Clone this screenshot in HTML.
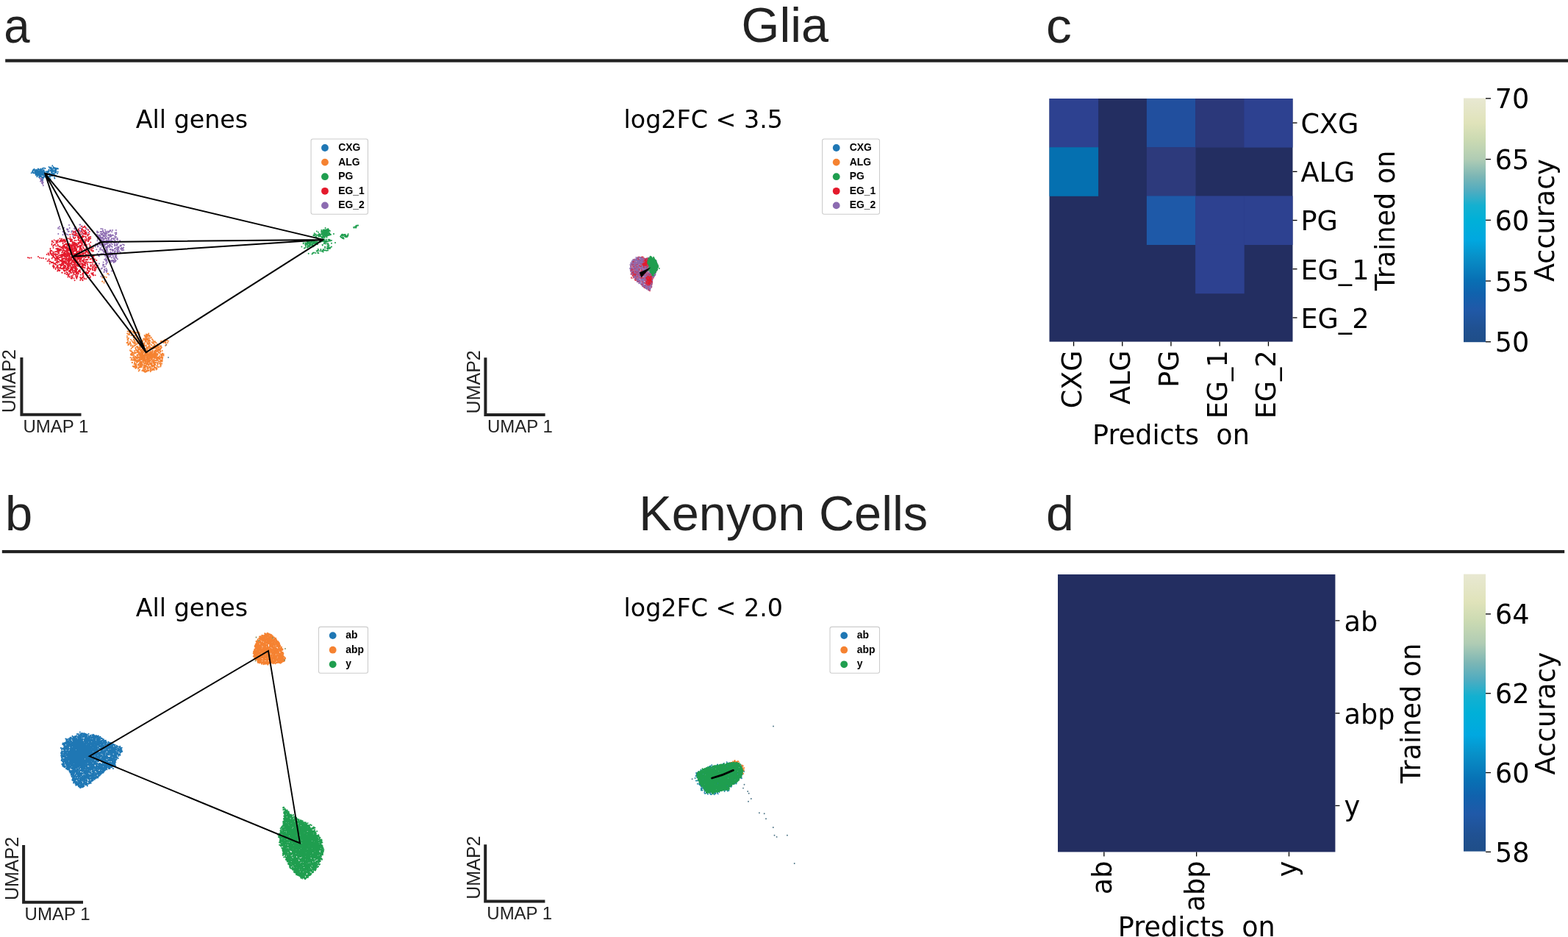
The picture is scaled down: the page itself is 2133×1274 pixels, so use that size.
<!DOCTYPE html>
<html lang="en"><head><meta charset="utf-8"><title>Glia and Kenyon Cells</title>
<style>
html,body{margin:0;padding:0;background:#fff;}
body{width:2133px;height:1274px;overflow:hidden;}
svg{display:block;}
.dj{font-family:"DejaVu Sans","Liberation Sans",sans-serif;}
.ls{font-family:"Liberation Sans","DejaVu Sans",sans-serif;}
text{white-space:pre;}
</style></head><body>
<svg width="2133" height="1274" viewBox="0 0 2133 1274">
<rect width="2133" height="1274" fill="#ffffff"/>
<rect x="7.2" y="80.35" width="2125.8" height="4.3" fill="#222222"/>
<rect x="2.8" y="747.95" width="2125.3999999999996" height="4.2" fill="#222222"/>
<text class="ls" font-size="67.2" fill="#222222" transform="translate(5.3 57.5) scale(0.945 1)">a</text>
<text class="ls" x="1067.8" y="57.3" font-size="66.6" text-anchor="middle" fill="#222222">Glia</text>
<text class="ls" font-size="67.4" fill="#222222" transform="translate(1423.0 58.0) scale(1.03 1)">c</text>
<text class="ls" x="6.9" y="720.9" font-size="66.8" fill="#222222">b</text>
<text class="ls" x="1065.7" y="720.9" font-size="66.7" text-anchor="middle" fill="#222222">Kenyon Cells</text>
<text class="ls" font-size="66.8" fill="#222222" transform="translate(1423.0 721.0) scale(1.02 1)">d</text>
<text class="dj" x="261" y="174.3" font-size="33.3" text-anchor="middle" fill="#000">All genes</text>
<path d="M142.3 318.5h0M152.4 329.1h0M131.9 331.9h0M147.2 349.9h0M153.3 354.0h0M134.7 319.7h0M136.2 337.3h0M152.2 315.3h0M155.9 332.9h0M148.2 323.7h0M136.8 337.5h0M159.1 325.0h0M147.2 347.3h0M160.7 337.1h0M155.9 338.1h0M150.4 342.7h0M155.7 355.7h0M146.5 342.4h0M138.6 318.3h0M132.9 325.0h0M130.5 331.5h0M139.1 332.9h0M137.0 324.1h0M154.3 324.0h0M146.3 337.0h0M149.9 339.5h0M146.7 331.2h0M132.5 316.0h0M144.0 314.6h0M136.5 328.9h0M154.0 320.1h0M146.6 314.4h0M148.7 334.2h0M143.7 323.4h0M150.3 318.7h0M151.9 354.5h0M141.2 330.6h0M150.3 347.9h0M138.6 335.6h0M141.4 342.8h0M138.8 323.2h0M155.2 351.3h0M157.1 349.0h0M160.3 335.7h0M144.2 347.8h0M145.5 353.8h0M136.8 317.6h0M143.8 336.9h0M148.1 355.1h0M139.9 327.0h0M142.0 333.1h0M141.3 331.3h0M144.8 353.3h0M149.7 313.3h0M136.4 331.8h0M140.5 334.6h0M139.9 323.1h0M153.1 345.5h0M151.9 334.7h0M144.6 336.5h0M158.3 351.1h0M152.2 353.9h0M135.5 332.4h0M158.3 316.3h0M148.0 333.9h0M135.1 331.4h0M137.5 326.2h0M152.8 332.1h0M157.8 336.6h0M136.2 324.7h0M138.0 319.3h0M152.6 343.8h0M159.6 332.6h0M157.0 349.4h0M144.9 326.4h0M139.5 317.8h0M135.0 319.7h0M142.2 324.8h0M149.4 320.4h0M139.5 311.3h0M137.9 333.2h0M159.5 331.6h0M143.9 331.5h0M142.8 347.7h0M146.4 328.0h0M142.1 320.8h0M163.8 343.2h0M142.2 334.0h0M168.1 340.1h0M143.3 328.2h0M149.0 336.2h0M133.7 330.2h0M140.5 321.8h0M158.8 339.0h0M145.9 326.7h0M160.7 341.7h0M164.6 337.9h0M132.9 335.6h0M152.0 350.4h0M139.7 314.5h0M150.4 338.9h0M149.4 335.8h0M159.7 324.0h0M158.3 317.9h0M147.3 329.6h0M159.6 339.4h0M135.6 322.5h0M153.1 313.1h0M155.8 342.2h0M149.5 333.2h0M148.3 327.3h0M139.2 339.5h0M163.6 333.7h0M150.5 313.3h0M148.3 326.7h0M146.2 329.8h0M144.0 331.8h0M138.8 324.0h0M156.2 352.5h0M157.9 313.0h0M159.3 341.5h0M147.8 329.6h0M154.4 325.2h0M137.2 322.2h0M153.0 319.6h0M147.7 319.0h0M143.4 317.3h0M152.2 350.6h0M145.3 336.5h0M150.2 339.7h0M139.4 324.2h0M165.0 333.4h0M146.4 351.4h0M132.2 318.8h0M153.7 346.9h0M155.9 326.5h0M155.2 343.8h0M149.8 338.9h0M143.5 332.4h0M164.6 334.5h0M140.0 313.2h0M144.9 321.2h0M138.1 314.9h0M157.3 319.0h0M150.8 321.2h0M149.6 321.9h0M156.8 355.7h0M136.7 315.0h0M155.1 330.0h0M141.5 327.8h0M144.5 347.8h0M129.8 335.5h0M137.7 328.3h0M146.0 348.2h0M132.1 314.5h0M144.9 323.9h0M139.8 345.3h0M166.1 340.5h0M142.2 332.6h0M143.7 324.1h0M153.2 328.0h0M141.2 315.4h0M141.5 316.8h0M157.9 333.6h0M154.2 339.9h0M156.5 316.7h0M152.1 328.0h0M141.1 325.4h0M149.3 329.3h0M150.5 320.8h0M150.1 346.5h0M136.3 320.4h0M163.7 334.6h0M153.5 341.2h0M135.4 323.1h0M156.6 321.4h0M156.2 321.3h0M161.6 337.0h0M145.0 336.4h0M144.8 327.9h0M141.3 338.6h0M144.0 320.2h0M144.3 350.4h0M149.6 319.6h0M156.6 353.9h0M145.1 335.6h0M151.5 354.6h0M141.0 316.6h0M150.0 314.0h0M165.7 339.3h0M146.2 349.4h0M137.2 330.0h0M134.3 320.5h0M152.6 336.0h0M144.7 339.2h0M149.2 332.1h0M149.3 320.5h0M147.3 320.3h0M136.1 332.3h0M149.5 313.6h0M158.2 347.0h0M150.3 328.9h0M159.9 352.2h0M149.9 354.7h0M132.5 327.2h0M149.8 354.4h0M150.5 326.7h0M157.7 354.3h0M133.6 335.0h0M161.8 335.8h0M154.9 328.9h0M143.3 346.7h0M153.3 355.3h0M142.9 312.4h0M151.3 331.3h0M134.9 322.2h0M134.3 329.9h0M151.9 320.3h0M141.0 319.9h0M147.5 324.2h0M151.1 326.8h0M147.9 323.7h0M135.9 339.4h0M144.6 326.5h0M163.1 344.3h0M159.0 331.6h0M138.8 317.3h0M142.2 343.4h0M156.5 323.7h0M160.6 337.5h0M140.0 319.7h0M160.0 326.1h0M152.8 340.1h0M147.5 347.4h0M146.0 344.2h0M140.7 341.4h0M143.8 318.6h0M156.4 338.6h0M145.3 346.3h0M134.4 321.6h0M154.0 348.4h0M133.9 315.7h0M143.4 331.3h0M140.2 345.1h0M168.8 333.3h0M145.8 348.5h0M151.4 321.5h0M149.8 349.3h0M143.3 352.6h0M140.5 320.4h0M156.4 346.6h0M146.1 329.5h0M139.2 323.1h0M144.9 353.2h0M150.8 344.1h0M145.0 328.9h0M156.5 346.7h0M161.2 339.2h0M136.7 323.3h0M136.0 320.3h0M150.0 320.2h0M136.2 329.2h0M159.3 333.4h0M133.8 321.7h0M145.0 346.2h0M155.8 334.3h0M146.9 344.6h0M151.6 346.2h0M158.5 349.6h0M162.4 341.5h0M143.3 341.1h0M159.9 343.4h0M145.5 331.7h0M157.1 355.6h0M156.9 329.8h0M168.1 336.5h0M149.3 344.2h0M159.7 337.3h0M148.0 349.0h0M143.6 316.0h0M145.8 344.3h0M167.2 338.1h0M146.8 323.3h0M160.0 340.9h0M144.7 338.6h0M147.6 325.2h0M163.2 327.3h0M143.9 323.9h0M140.4 324.6h0M146.0 339.7h0M157.9 313.1h0M156.2 323.8h0M145.4 317.7h0M152.4 344.8h0M148.2 346.5h0M151.7 324.8h0M148.5 315.0h0M146.6 333.9h0M147.0 335.3h0M145.1 330.8h0M156.6 341.0h0M154.9 357.1h0M150.2 333.7h0M156.7 342.4h0M142.1 333.1h0M136.7 332.5h0M161.3 330.3h0M148.5 354.0h0M142.3 328.1h0M156.8 347.9h0M165.7 337.0h0M164.8 337.5h0M164.2 338.4h0M156.8 338.1h0M156.1 332.1h0M137.4 311.0h0M156.6 326.7h0M151.5 325.0h0M140.5 329.1h0M132.1 315.9h0M167.2 332.3h0M154.6 354.0h0M145.5 316.1h0M158.0 322.2h0M157.8 350.0h0M151.6 344.7h0M143.4 347.1h0M147.8 316.1h0M148.5 344.4h0M143.2 340.1h0M85.4 319.2h0M118.1 311.3h0M91.6 312.5h0M94.0 305.9h0M92.6 319.3h0M120.5 312.8h0M92.4 311.7h0M79.3 318.1h0M88.1 318.8h0M81.2 308.3h0M103.2 310.6h0M108.6 314.0h0M87.1 316.8h0M109.3 305.4h0M120.1 316.2h0M108.4 305.6h0M92.1 312.4h0M111.8 307.4h0M97.3 315.6h0M81.5 311.3h0M105.6 321.1h0M107.3 312.6h0M87.0 309.8h0M92.7 314.7h0M99.5 321.5h0M103.2 309.2h0M117.0 318.3h0M101.1 310.8h0M79.4 309.4h0M110.0 310.4h0M85.5 314.9h0M102.7 316.7h0M107.2 320.3h0M90.8 318.4h0M89.1 317.1h0M102.0 315.1h0M110.6 313.9h0M112.2 317.9h0M101.5 311.4h0M91.7 311.6h0M97.8 313.9h0M108.5 310.1h0M92.2 312.6h0M102.1 309.3h0M117.7 311.5h0M99.9 315.3h0M102.1 316.7h0M103.1 314.7h0M79.2 310.8h0M103.4 313.1h0M91.0 311.4h0M99.4 319.8h0M94.7 310.1h0M93.8 314.8h0M100.5 315.2h0M141.8 369.6h0M150.9 356.5h0M142.8 362.4h0M143.8 354.8h0M144.6 365.2h0M140.1 359.5h0M134.9 358.5h0M145.5 367.3h0M141.9 367.1h0M139.0 364.4h0M142.2 367.3h0M141.7 363.1h0M141.3 360.1h0M149.0 354.7h0M145.5 369.0h0M145.9 356.9h0M137.6 365.6h0M144.5 357.9h0M140.1 361.6h0M142.3 366.0h0M140.6 356.6h0M148.2 373.6h0M141.5 370.1h0M144.2 368.0h0M144.4 359.4h0M144.9 370.1h0M137.5 375.8h0M151.9 368.5h0M56.2 243.6h0M55.0 246.5h0M56.9 248.7h0M58.7 247.9h0M57.7 245.2h0M56.7 242.7h0M57.4 245.9h0M57.8 242.6h0M57.1 246.2h0M58.5 241.7h0M58.0 249.9h0M58.5 244.5h0M55.8 245.1h0M58.8 252.2h0M56.6 243.4h0M57.9 246.8h0M54.7 243.1h0M56.7 248.7h0M54.0 241.9h0M58.2 241.1h0M57.3 247.4h0M56.7 241.9h0M56.9 244.7h0M57.8 242.6h0M59.7 239.3h0M56.6 246.0h0" stroke="#8c6bb1" stroke-width="2.0" stroke-linecap="round" fill="none"/>
<path d="M126.2 341.8h0M90.0 351.3h0M95.0 347.3h0M117.7 373.1h0M91.8 363.8h0M97.6 346.5h0M80.4 367.4h0M112.8 322.6h0M102.0 345.3h0M123.3 360.3h0M96.4 345.3h0M104.6 372.1h0M115.7 316.8h0M90.3 337.0h0M116.2 334.2h0M119.2 371.4h0M69.7 344.7h0M78.6 337.7h0M93.2 344.9h0M131.5 363.5h0M118.6 371.9h0M106.2 326.3h0M99.0 374.2h0M99.6 339.2h0M85.1 356.5h0M80.1 341.8h0M82.4 338.8h0M69.6 345.9h0M102.6 357.7h0M92.9 346.7h0M84.2 327.7h0M90.4 350.7h0M120.2 324.9h0M83.1 364.5h0M124.1 340.7h0M93.7 362.1h0M129.5 362.8h0M84.4 355.0h0M119.0 343.1h0M115.4 340.2h0M111.2 350.7h0M102.6 335.3h0M102.7 336.2h0M110.8 330.7h0M89.7 328.5h0M97.5 341.6h0M71.8 349.5h0M121.7 368.5h0M92.4 374.1h0M103.9 342.9h0M97.5 344.2h0M84.8 354.4h0M110.4 347.1h0M87.2 347.4h0M94.3 353.4h0M99.7 368.4h0M129.2 367.9h0M126.3 353.7h0M124.5 339.8h0M98.1 345.7h0M102.9 355.9h0M104.0 312.8h0M85.0 358.2h0M120.1 349.7h0M96.6 350.5h0M102.8 338.6h0M115.7 316.6h0M96.3 365.8h0M115.3 330.1h0M101.1 334.0h0M100.6 378.4h0M125.4 373.2h0M115.5 327.8h0M96.7 378.5h0M110.9 327.3h0M95.9 366.5h0M99.7 316.3h0M87.1 327.2h0M109.7 335.0h0M117.2 318.6h0M116.5 321.8h0M96.5 325.0h0M112.9 325.9h0M87.0 325.4h0M97.5 350.2h0M87.7 355.2h0M86.2 357.5h0M87.2 345.0h0M85.7 326.5h0M84.2 335.9h0M124.3 371.4h0M106.3 334.9h0M111.6 325.0h0M108.5 323.8h0M113.6 359.9h0M84.7 336.1h0M107.6 319.5h0M109.7 327.7h0M119.9 364.8h0M122.6 352.5h0M113.6 313.0h0M113.9 368.8h0M126.5 355.2h0M108.1 341.8h0M92.8 344.9h0M114.2 308.7h0M82.7 347.3h0M101.4 326.9h0M111.3 357.9h0M99.4 339.8h0M70.7 351.5h0M101.4 365.3h0M104.1 338.6h0M75.3 359.2h0M84.2 342.9h0M69.0 344.0h0M123.3 352.1h0M107.5 327.3h0M121.3 331.8h0M122.2 377.7h0M119.3 362.8h0M118.1 332.9h0M87.9 368.8h0M102.6 351.4h0M123.1 376.6h0M72.7 329.6h0M106.0 321.6h0M120.9 368.4h0M80.3 355.9h0M84.3 337.4h0M81.5 339.7h0M88.2 340.9h0M129.1 352.5h0M108.5 354.3h0M105.3 332.7h0M111.3 341.8h0M86.4 351.2h0M102.2 337.6h0M126.3 349.9h0M97.0 326.6h0M79.5 350.9h0M102.5 314.4h0M90.4 369.9h0M117.3 316.4h0M116.0 317.6h0M80.9 335.4h0M76.7 328.3h0M125.2 351.7h0M127.1 373.5h0M84.7 360.7h0M70.6 331.4h0M111.7 311.0h0M103.1 368.7h0M109.7 328.3h0M120.6 350.5h0M74.6 350.7h0M121.8 344.5h0M97.2 370.9h0M108.4 336.8h0M122.3 335.1h0M72.1 334.8h0M91.3 333.9h0M108.5 329.9h0M76.6 348.7h0M103.1 362.0h0M105.3 355.1h0M119.6 370.4h0M83.3 361.5h0M104.7 333.1h0M95.7 336.0h0M92.5 339.9h0M82.9 328.6h0M126.9 350.9h0M84.2 365.6h0M68.1 342.5h0M110.2 324.7h0M103.4 369.8h0M112.6 377.5h0M117.9 372.2h0M77.0 345.5h0M84.0 361.1h0M110.9 333.3h0M64.6 355.1h0M103.5 326.9h0M126.9 349.0h0M104.5 361.2h0M116.1 313.2h0M97.4 350.0h0M103.9 331.0h0M111.8 362.1h0M114.6 379.2h0M98.7 376.4h0M95.5 354.1h0M115.5 314.9h0M65.6 344.2h0M113.6 375.2h0M118.0 325.6h0M106.9 331.5h0M72.0 362.2h0M92.1 371.4h0M127.9 354.8h0M80.7 340.7h0M113.3 359.6h0M79.1 352.1h0M122.5 324.6h0M78.6 332.5h0M72.1 356.6h0M103.3 375.3h0M88.0 363.8h0M73.6 362.0h0M107.7 317.8h0M112.3 371.9h0M78.4 365.1h0M96.6 325.3h0M71.8 344.8h0M76.3 359.9h0M88.1 343.4h0M123.3 362.1h0M63.7 346.1h0M108.0 354.9h0M111.9 377.4h0M86.2 333.4h0M88.4 336.6h0M104.3 377.4h0M88.7 326.4h0M121.1 364.6h0M109.1 330.1h0M117.0 342.3h0M78.5 352.2h0M109.4 336.4h0M107.8 330.1h0M77.5 356.0h0M93.3 360.1h0M124.5 346.2h0M120.0 328.2h0M95.8 351.5h0M89.1 367.6h0M117.2 346.1h0M107.6 341.1h0M114.2 317.7h0M97.4 326.5h0M77.2 349.8h0M111.5 329.2h0M106.9 371.9h0M116.8 353.3h0M92.7 333.5h0M91.1 353.7h0M90.0 349.6h0M127.9 361.4h0M112.8 335.4h0M126.8 363.3h0M95.2 340.3h0M93.4 373.3h0M96.5 365.5h0M109.7 345.6h0M116.7 349.9h0M113.8 344.0h0M94.2 350.4h0M90.3 345.9h0M80.9 328.4h0M120.1 348.3h0M123.1 365.2h0M97.7 335.7h0M103.1 333.7h0M127.2 348.9h0M97.9 337.3h0M80.7 368.2h0M114.3 352.1h0M94.7 372.3h0M107.0 311.4h0M105.4 320.3h0M116.6 342.1h0M121.3 318.3h0M114.6 378.2h0M112.1 320.3h0M81.5 324.4h0M102.3 318.7h0M121.9 315.0h0M89.0 356.5h0M68.6 340.2h0M109.7 315.8h0M126.9 347.7h0M114.9 343.8h0M94.3 369.5h0M121.2 324.5h0M101.6 381.3h0M106.9 313.4h0M80.7 364.4h0M99.0 364.2h0M66.6 346.7h0M70.6 351.3h0M110.1 323.5h0M86.6 367.8h0M98.0 348.2h0M72.2 346.9h0M76.3 338.2h0M100.9 373.0h0M93.9 364.4h0M79.0 363.5h0M98.7 329.0h0M100.1 323.6h0M111.6 314.9h0M105.7 356.9h0M118.6 341.5h0M78.9 360.5h0M96.2 340.8h0M115.0 356.4h0M123.0 366.5h0M129.1 356.0h0M121.8 374.5h0M118.5 365.3h0M120.3 364.0h0M129.3 368.2h0M90.5 325.5h0M107.6 361.3h0M120.0 356.5h0M106.3 370.5h0M122.0 365.6h0M117.1 337.4h0M83.7 326.2h0M106.3 330.1h0M109.3 337.8h0M73.6 358.4h0M76.6 327.5h0M103.1 374.0h0M119.8 320.0h0M93.8 368.2h0M70.6 346.7h0M126.1 357.4h0M86.4 354.9h0M100.1 356.1h0M107.1 349.4h0M124.0 360.5h0M129.6 374.3h0M88.7 361.3h0M113.5 328.9h0M115.0 359.9h0M111.3 359.1h0M102.5 366.5h0M72.7 344.9h0M113.2 321.1h0M87.0 335.1h0M76.3 330.3h0M85.5 340.7h0M90.9 335.8h0M91.7 366.6h0M112.5 341.4h0M112.1 330.9h0M98.1 328.2h0M116.7 309.5h0M82.6 326.7h0M112.0 358.8h0M105.3 376.3h0M118.4 335.8h0M86.5 335.2h0M97.5 342.9h0M73.1 333.4h0M96.1 368.0h0M89.8 352.8h0M118.3 370.8h0M117.3 342.4h0M111.8 364.9h0M70.8 357.0h0M103.9 368.9h0M109.6 377.3h0M111.5 312.3h0M103.7 367.3h0M104.9 334.7h0M78.2 368.5h0M121.0 347.6h0M104.5 359.8h0M98.3 354.0h0M93.3 355.9h0M91.1 331.2h0M98.9 342.3h0M73.7 326.6h0M133.0 361.1h0M113.3 360.7h0M112.2 355.3h0M75.1 353.9h0M118.6 341.6h0M122.5 366.1h0M101.6 346.2h0M113.2 376.3h0M114.2 333.2h0M77.0 350.7h0M119.3 365.2h0M125.1 347.5h0M103.3 372.4h0M126.7 337.2h0M92.3 348.7h0M110.9 312.5h0M109.0 362.1h0M112.4 345.1h0M104.1 317.5h0M78.9 333.7h0M106.9 362.0h0M130.3 366.4h0M79.6 355.8h0M117.2 315.4h0M75.9 347.0h0M127.0 374.5h0M98.6 367.6h0M104.0 366.3h0M99.9 329.4h0M115.3 307.5h0M106.6 323.6h0M113.3 369.0h0M87.9 329.3h0M104.3 378.8h0M108.5 351.3h0M88.4 349.6h0M115.6 364.2h0M110.6 307.7h0M93.8 375.2h0M92.9 360.7h0M87.9 332.7h0M129.5 358.9h0M114.4 329.7h0M122.3 377.2h0M116.5 370.7h0M82.7 355.0h0M95.4 354.3h0M111.0 378.7h0M112.6 381.3h0M109.8 355.5h0M82.0 327.3h0M79.1 326.5h0M101.2 354.2h0M72.6 343.5h0M81.6 364.5h0M82.7 336.2h0M114.1 314.5h0M121.4 322.4h0M109.8 328.4h0M107.4 349.8h0M107.6 350.0h0M89.3 362.6h0M79.0 334.6h0M79.2 367.3h0M115.6 325.5h0M87.8 333.3h0M108.3 369.1h0M94.8 360.1h0M78.8 340.5h0M89.2 341.4h0M116.6 346.0h0M127.7 347.2h0M123.2 324.3h0M126.2 341.0h0M94.4 333.5h0M109.3 345.7h0M113.8 349.0h0M106.0 357.6h0M128.7 360.6h0M78.6 351.1h0M72.4 360.5h0M94.1 357.6h0M74.6 342.5h0M105.9 323.0h0M83.3 339.7h0M77.9 340.1h0M98.9 349.9h0M100.0 342.8h0M109.3 370.1h0M85.6 328.5h0M93.1 344.2h0M108.4 346.1h0M109.0 347.4h0M101.4 320.3h0M76.4 334.4h0M104.2 339.8h0M108.6 358.7h0M128.8 366.7h0M111.8 331.9h0M78.1 327.7h0M92.3 339.7h0M126.0 351.9h0M106.3 322.9h0M114.0 366.9h0M112.0 380.6h0M84.1 324.8h0M120.2 370.9h0M112.7 328.0h0M75.5 358.6h0M81.0 359.6h0M84.9 347.5h0M96.1 327.2h0M105.3 361.4h0M111.7 333.0h0M127.5 349.1h0M110.0 335.0h0M119.2 367.4h0M76.6 356.7h0M108.9 349.9h0M101.9 315.2h0M77.8 338.3h0M76.1 327.4h0M105.3 374.7h0M108.8 328.1h0M114.8 364.1h0M116.3 333.0h0M66.7 352.6h0M125.7 371.9h0M69.2 344.7h0M112.0 345.8h0M95.3 325.5h0M83.7 340.1h0M91.4 338.9h0M103.0 316.5h0M70.3 341.0h0M117.0 340.7h0M115.9 318.4h0M74.2 345.9h0M73.1 364.2h0M83.0 359.6h0M101.7 329.7h0M114.5 321.4h0M85.8 328.0h0M122.7 333.8h0M92.7 366.0h0M105.7 372.8h0M120.9 368.9h0M87.7 334.3h0M92.8 352.5h0M113.2 361.7h0M108.2 335.1h0M100.3 331.3h0M121.3 368.9h0M126.2 359.9h0M98.8 343.6h0M116.8 372.5h0M118.0 325.0h0M112.0 323.0h0M117.0 379.3h0M126.3 340.7h0M99.4 314.4h0M95.4 344.9h0M107.4 324.5h0M131.2 361.1h0M62.5 352.0h0M98.9 366.1h0M78.1 361.0h0M91.4 332.2h0M75.1 332.4h0M72.9 347.8h0M119.1 320.5h0M112.5 373.8h0M100.3 370.9h0M96.9 375.3h0M104.1 367.3h0M78.6 329.2h0M112.0 363.6h0M95.3 318.9h0M75.9 348.0h0M111.2 362.6h0M118.6 358.6h0M85.7 364.7h0M72.5 337.0h0M85.0 346.4h0M95.0 376.7h0M103.6 319.3h0M109.6 379.0h0M91.2 332.2h0M119.7 362.7h0M124.8 337.9h0M100.3 352.3h0M74.1 332.4h0M101.1 360.4h0M100.7 338.1h0M125.8 366.3h0M93.3 346.7h0M88.6 345.7h0M93.7 333.7h0M115.6 328.3h0M98.2 330.8h0M74.5 358.3h0M116.4 358.2h0M103.5 376.8h0M113.6 370.8h0M119.1 360.2h0M112.1 354.4h0M72.9 348.6h0M92.4 337.7h0M111.6 321.8h0M88.5 362.2h0M106.8 311.8h0M103.8 339.4h0M88.7 335.8h0M126.2 349.6h0M91.8 358.2h0M119.6 345.6h0M88.7 355.5h0M104.0 332.0h0M125.6 362.6h0M84.2 365.2h0M96.8 327.9h0M128.3 365.1h0M100.6 372.9h0M116.0 316.5h0M122.4 339.0h0M114.4 356.2h0M111.5 322.7h0M92.9 347.1h0M90.7 372.9h0M113.9 318.3h0M112.5 316.6h0M81.4 367.5h0M94.0 339.6h0M119.4 318.7h0M126.9 341.3h0M127.7 352.1h0M107.0 345.4h0M118.0 356.4h0M97.9 366.9h0M72.0 357.1h0M94.7 345.4h0M99.9 362.8h0M128.0 333.7h0M73.6 350.0h0M101.3 331.2h0M108.2 348.2h0M107.8 345.7h0M86.0 356.0h0M99.8 323.1h0M118.8 353.3h0M88.6 371.9h0M99.6 331.3h0M112.8 309.2h0M92.5 354.6h0M107.2 317.9h0M104.1 367.7h0M100.4 349.8h0M91.7 324.2h0M120.9 326.7h0M89.3 331.4h0M106.9 369.1h0M126.5 352.5h0M67.3 355.8h0M97.8 376.9h0M85.6 330.4h0M122.2 357.0h0M66.1 345.5h0M112.7 360.0h0M108.3 339.0h0M78.0 337.7h0M109.3 381.1h0M106.8 325.8h0M70.9 347.3h0M68.3 344.6h0M109.2 342.8h0M126.1 367.3h0M105.9 356.6h0M117.5 316.9h0M101.3 362.5h0M87.0 364.1h0M124.0 357.0h0M110.2 318.2h0M88.2 371.4h0M126.6 363.5h0M131.3 354.1h0M74.5 345.9h0M87.3 344.6h0M79.9 344.6h0M107.0 321.4h0M116.0 357.2h0M97.3 337.0h0M108.8 367.7h0M76.3 342.0h0M87.1 361.7h0M77.2 362.9h0M106.2 358.9h0M109.1 377.0h0M115.8 361.6h0M80.2 340.2h0M119.5 371.6h0M123.3 329.5h0M118.3 337.7h0M91.8 336.3h0M86.9 365.4h0M107.9 322.2h0M105.6 332.5h0M102.7 350.2h0M83.3 353.7h0M81.7 341.0h0M78.9 351.0h0M117.1 369.6h0M78.7 350.4h0M100.5 335.5h0M75.7 364.5h0M68.7 341.7h0M86.6 339.5h0M111.9 345.5h0M95.5 346.2h0M85.6 331.2h0M68.9 355.4h0M84.2 370.7h0M106.6 356.8h0M75.6 366.1h0M89.4 361.5h0M127.9 355.9h0M96.1 324.6h0M109.8 326.3h0M103.4 320.6h0M98.2 318.2h0M70.8 328.8h0M104.0 364.1h0M90.5 367.1h0M90.5 340.1h0M107.2 315.7h0M113.3 326.8h0M123.0 346.2h0M92.1 366.4h0M123.2 322.1h0M106.2 318.1h0M126.7 371.0h0M120.0 327.3h0M116.0 326.7h0M101.1 351.8h0M111.1 340.1h0M82.4 361.0h0M110.6 338.0h0M100.3 344.9h0M113.2 372.4h0M85.5 359.8h0M100.2 318.5h0M98.2 367.5h0M87.9 367.7h0M104.8 344.6h0M80.3 339.9h0M100.0 351.1h0M117.9 327.3h0M107.1 368.1h0M68.5 338.0h0M75.7 351.7h0M96.5 340.0h0M114.3 349.2h0M116.2 329.3h0M100.7 356.4h0M66.6 353.9h0M102.9 363.0h0M95.7 328.1h0M87.9 364.5h0M111.7 364.6h0M93.0 332.6h0M95.3 341.2h0M120.5 344.1h0M122.9 336.0h0M94.3 351.8h0M88.2 371.8h0M106.7 352.4h0M70.9 327.5h0M75.2 352.7h0M84.4 352.1h0M109.1 327.7h0M102.1 368.4h0M89.0 344.9h0M100.1 329.6h0M93.9 324.5h0M105.0 370.1h0M92.7 364.3h0M101.4 337.7h0M78.5 349.0h0M92.4 376.4h0M112.2 312.5h0M84.8 360.2h0M72.1 342.6h0M119.1 339.6h0M115.2 314.8h0M104.2 371.0h0M110.1 349.5h0M95.5 322.3h0M102.5 332.2h0M98.1 326.1h0M96.1 361.4h0M79.3 366.4h0M121.2 350.1h0M102.5 322.9h0M70.5 357.1h0M108.3 358.2h0M90.9 332.9h0M105.6 336.5h0M130.9 364.3h0M120.3 323.1h0M128.2 367.6h0M116.2 344.0h0M118.9 367.2h0M101.3 324.2h0M73.6 363.1h0M84.7 370.8h0M95.7 336.0h0M67.6 358.6h0M80.9 328.7h0M115.6 357.6h0M72.9 348.9h0M73.1 358.2h0M108.4 350.2h0M102.9 331.2h0M109.8 373.7h0M125.5 365.1h0M116.6 332.7h0M116.9 323.1h0M101.6 330.7h0M92.5 364.8h0M69.5 341.2h0M91.4 367.6h0M77.2 330.4h0M106.0 346.7h0M90.3 364.8h0M120.0 350.5h0M88.5 326.8h0M98.2 335.5h0M119.3 352.9h0M116.5 310.0h0M119.5 375.0h0M88.7 327.5h0M87.2 346.6h0M125.9 349.1h0M93.6 344.0h0M104.2 341.3h0M112.5 376.8h0M115.3 308.2h0M79.2 338.3h0M98.0 353.9h0M129.5 364.2h0M96.4 338.5h0M75.1 344.9h0M98.1 378.5h0M90.4 347.6h0M71.0 328.2h0M119.9 371.3h0M121.6 324.9h0M119.8 312.6h0M107.6 368.3h0M119.1 377.0h0M108.5 369.1h0M81.9 349.9h0M112.6 358.8h0M116.4 331.2h0M116.1 341.1h0M70.5 332.8h0M69.8 357.1h0M106.8 372.3h0M78.5 362.5h0M100.2 359.9h0M82.6 327.6h0M86.4 327.0h0M98.9 333.9h0M94.3 348.3h0M98.0 365.2h0M109.6 349.3h0M81.4 364.2h0M105.3 343.3h0M108.2 361.0h0M91.9 342.0h0M88.0 349.1h0M85.3 354.1h0M108.2 344.4h0M102.9 348.7h0M110.8 342.5h0M104.9 341.8h0M99.5 349.9h0M108.7 333.4h0M82.5 364.7h0M101.2 367.9h0M85.9 352.2h0M103.5 368.6h0M96.4 345.3h0M104.7 348.9h0M88.9 358.0h0M111.7 344.7h0M93.5 353.9h0M109.1 355.6h0M86.6 344.0h0M108.3 348.7h0M90.2 359.2h0M85.4 342.6h0M89.5 353.7h0M91.9 361.8h0M90.1 347.1h0M103.1 352.1h0M86.1 365.8h0M103.2 344.8h0M99.2 338.3h0M83.8 346.8h0M100.9 351.1h0M88.7 335.4h0M101.0 341.6h0M109.7 355.7h0M92.6 343.5h0M109.2 353.5h0M114.6 353.8h0M90.7 343.7h0M89.5 352.7h0M99.7 356.4h0M101.8 338.9h0M94.8 340.1h0M102.2 336.1h0M90.8 341.0h0M90.4 347.3h0M113.2 347.3h0M81.6 346.8h0M105.0 355.8h0M99.6 371.0h0M108.9 351.0h0M110.0 335.9h0M95.2 340.9h0M98.9 367.1h0M91.7 366.8h0M86.1 365.0h0M78.9 341.0h0M107.7 349.0h0M98.6 349.9h0M98.9 348.1h0M86.5 346.9h0M98.2 340.5h0M102.0 368.6h0M79.4 344.3h0M94.0 350.2h0M98.0 342.4h0M96.6 350.1h0M96.1 366.3h0M98.4 334.4h0M80.3 356.2h0M93.4 343.5h0M82.5 346.7h0M96.0 342.8h0M93.2 359.4h0M105.4 355.8h0M95.1 335.7h0M105.3 365.8h0M110.6 362.3h0M100.0 354.0h0M96.9 363.2h0M105.3 346.6h0M97.0 333.0h0M89.2 346.8h0M106.8 350.8h0M93.8 356.6h0M117.7 353.1h0M96.3 351.7h0M104.1 344.8h0M98.3 355.3h0M93.3 354.1h0M100.6 357.5h0M86.5 344.3h0M92.4 362.6h0M99.7 332.6h0M100.6 336.3h0M87.3 351.5h0M93.1 346.8h0M113.7 353.6h0M98.0 363.6h0M102.2 341.2h0M80.7 350.2h0M102.5 364.4h0M103.6 366.0h0M105.5 352.3h0M101.6 354.2h0M90.3 348.8h0M98.4 345.2h0M81.4 334.7h0M102.4 355.5h0M98.2 337.7h0M106.1 345.9h0M102.7 345.3h0M112.8 364.4h0M99.8 331.9h0M92.9 347.0h0M101.9 348.7h0M100.7 332.8h0M90.1 365.2h0M81.5 359.8h0M82.2 363.2h0M77.2 353.6h0M92.6 363.1h0M109.6 352.0h0M116.1 360.4h0M91.9 339.6h0M101.4 348.8h0M92.0 333.0h0M95.5 348.8h0M107.5 344.6h0M80.3 338.6h0M96.6 352.6h0M104.7 346.0h0M102.8 351.5h0M115.0 349.4h0M98.5 356.0h0M110.0 340.3h0M91.9 347.1h0M108.5 350.2h0M106.7 335.0h0M113.4 354.5h0M84.2 350.6h0M105.1 360.4h0M98.9 344.5h0M105.2 341.9h0M96.2 358.1h0M81.6 354.0h0M83.8 349.1h0M104.6 349.5h0M106.8 351.0h0M94.8 355.2h0M94.5 351.4h0M108.1 344.0h0M109.3 338.3h0M94.7 331.6h0M91.3 366.9h0M100.8 363.5h0M81.3 339.3h0M102.0 358.8h0M105.9 332.2h0M102.5 349.2h0M98.3 355.1h0M94.0 332.1h0M85.6 334.7h0M82.9 348.6h0M111.0 342.4h0M88.8 337.8h0M78.5 350.7h0M91.8 347.5h0M86.7 355.2h0M84.1 355.8h0M89.9 358.4h0M87.5 354.7h0M101.7 349.2h0M114.5 351.9h0M87.5 357.3h0M88.2 344.3h0M97.1 351.9h0M94.2 362.0h0M95.3 353.4h0M113.3 336.9h0M97.5 358.4h0M90.7 331.4h0M86.3 352.1h0M99.0 369.6h0M111.2 333.6h0M108.1 359.7h0M114.4 348.4h0M91.0 351.6h0M113.6 356.6h0M115.2 358.4h0M90.7 339.2h0M93.3 346.6h0M87.2 343.9h0M96.3 344.4h0M98.3 360.0h0M88.3 345.7h0M78.3 357.5h0M104.3 366.0h0M106.4 347.1h0M92.8 346.7h0M84.0 358.2h0M90.5 342.3h0M102.5 351.2h0M90.7 347.5h0M91.7 364.3h0M107.7 342.3h0M96.6 364.6h0M93.9 369.0h0M101.8 357.1h0M100.6 356.2h0M102.2 355.6h0M91.6 359.6h0M97.7 338.8h0M86.1 351.7h0M80.6 347.4h0M90.6 355.9h0M86.2 363.2h0M84.0 353.3h0M98.8 356.6h0M88.4 364.3h0M96.3 349.8h0M94.1 338.6h0M104.7 353.6h0M101.9 369.9h0M87.7 347.0h0M97.1 359.1h0M95.1 360.0h0M101.9 331.2h0M93.9 345.6h0M103.3 351.8h0M96.3 363.5h0M103.4 336.9h0M89.6 353.5h0M115.3 347.9h0M95.2 352.8h0M105.4 349.0h0M100.2 345.5h0M91.1 341.5h0M104.1 344.1h0M102.9 354.3h0M86.6 337.0h0M95.2 358.6h0M111.6 354.1h0M92.8 355.7h0M97.1 356.6h0M85.9 338.3h0M90.1 349.5h0M100.8 346.2h0M100.8 357.3h0M84.5 348.9h0M80.3 344.1h0M106.7 342.4h0M117.0 355.4h0M106.6 351.1h0M106.3 361.7h0M98.2 344.3h0M91.1 370.6h0M95.0 345.1h0M89.4 332.0h0M91.6 353.5h0M91.8 341.9h0M101.4 354.9h0M92.3 353.3h0M86.5 359.2h0M86.4 346.4h0M98.5 345.5h0M98.3 336.4h0M100.4 336.1h0M103.2 355.7h0M92.1 360.1h0M92.1 348.8h0M91.6 331.2h0M94.5 355.6h0M98.2 333.1h0M90.0 357.3h0M108.8 367.1h0M77.5 354.9h0M91.8 358.2h0M78.9 348.5h0M104.6 343.1h0M93.1 339.5h0M109.0 335.8h0M87.2 346.4h0M100.0 341.1h0M103.2 353.7h0M100.0 349.3h0M102.0 337.5h0M84.1 345.4h0M85.1 357.5h0M101.8 353.6h0M89.6 336.1h0M102.9 334.2h0M100.2 348.5h0M105.1 350.5h0M98.1 343.8h0M78.5 346.3h0M104.5 361.2h0M111.8 339.3h0M86.9 357.5h0M100.4 333.7h0M91.0 366.8h0M77.4 351.6h0M92.2 339.0h0M78.6 342.4h0M94.1 337.6h0M100.7 344.9h0M87.9 364.8h0M101.7 340.5h0M112.9 349.4h0M102.4 351.6h0M109.7 356.6h0M93.3 357.7h0M92.8 351.4h0M114.6 338.6h0M85.9 345.7h0M91.6 364.0h0M114.0 345.2h0M99.0 346.1h0M104.2 357.1h0M105.1 358.2h0M117.8 348.2h0M104.5 348.0h0M97.4 352.4h0M96.4 353.7h0M87.8 348.4h0M90.5 337.5h0M89.4 344.7h0M95.4 333.3h0M94.2 337.9h0M88.2 352.0h0M108.9 353.1h0M91.7 345.3h0M109.3 333.9h0M90.2 350.5h0M94.6 367.8h0M102.3 349.5h0M107.3 350.4h0M88.3 362.0h0M113.1 363.7h0M92.5 358.2h0M79.6 339.0h0M109.7 355.3h0M101.7 348.0h0M96.9 352.5h0M105.1 347.1h0M87.3 346.1h0M96.1 370.4h0M108.3 351.3h0M104.9 347.1h0M87.2 360.8h0M98.4 367.2h0M94.2 346.0h0M100.7 348.0h0M93.6 340.4h0M99.7 353.5h0M116.7 349.7h0M78.1 355.0h0M88.4 348.2h0M95.0 333.8h0M103.2 340.6h0M77.1 342.3h0M103.8 370.7h0M110.5 352.1h0M91.5 347.2h0M107.4 344.4h0M101.5 360.4h0M87.2 343.7h0M101.8 350.1h0M95.7 344.3h0M96.3 370.0h0M97.5 351.0h0M97.4 335.1h0M95.6 351.6h0M89.6 353.4h0M98.1 354.2h0M95.2 345.1h0M99.0 361.7h0M106.7 349.1h0M92.0 361.4h0M102.8 359.5h0M94.0 340.7h0M99.0 343.3h0M109.4 359.2h0M111.4 361.2h0M91.9 340.7h0M107.5 360.9h0M97.6 337.6h0M80.5 352.9h0M88.1 342.7h0M101.8 361.3h0M111.0 349.5h0M93.3 356.9h0M84.7 336.8h0M97.2 366.8h0M108.0 349.9h0M107.9 345.6h0M99.9 359.7h0M101.0 349.6h0M92.7 361.7h0M96.5 334.5h0M111.8 343.0h0M101.2 350.0h0M108.4 352.7h0M110.2 352.3h0M92.0 344.5h0M104.0 341.1h0M107.0 347.4h0M87.0 340.6h0M95.4 369.1h0M105.3 350.2h0M94.0 350.0h0M92.4 364.4h0M98.9 345.1h0M99.0 339.2h0M85.6 348.3h0M95.5 333.0h0M38.0 350.3h0M40.0 350.8h0M42.5 350.5h0M52.0 349.0h0M54.0 350.5h0M56.5 351.0h0M59.0 351.0h0" stroke="#e41a2c" stroke-width="2.0" stroke-linecap="round" fill="none"/>
<path d="M142.0 342.1h0M148.7 326.9h0M132.9 333.7h0M137.6 339.6h0M134.0 347.8h0M158.1 329.5h0M152.5 340.3h0M154.8 350.4h0M147.7 323.6h0M141.6 335.1h0M145.3 340.4h0M152.4 324.3h0M131.3 339.3h0M143.8 336.0h0M139.7 340.5h0M152.4 338.9h0M142.9 322.2h0M144.8 339.1h0M140.0 332.8h0M135.0 348.2h0M144.2 339.7h0M134.2 342.1h0M154.0 339.8h0M135.7 328.4h0M141.2 331.0h0M123.0 348.5h0M132.6 320.0h0M131.5 358.1h0M138.7 327.0h0M127.0 347.1h0M144.8 342.1h0M137.7 344.8h0M158.2 344.8h0M138.1 326.3h0M145.3 355.4h0M147.6 327.7h0M142.2 352.8h0M132.5 344.9h0M154.3 356.1h0M144.4 346.9h0" stroke="#8c6bb1" stroke-width="2.0" stroke-linecap="round" fill="none"/>
<path d="M52.2 234.4h0M51.9 238.4h0M42.7 235.3h0M47.5 232.3h0M46.2 231.5h0M53.9 234.6h0M63.2 233.8h0M55.8 235.6h0M55.3 239.3h0M54.7 235.0h0M53.4 234.5h0M53.7 237.7h0M54.1 234.7h0M53.8 237.0h0M51.6 237.5h0M51.1 236.8h0M63.8 235.3h0M53.6 230.7h0M57.8 234.5h0M58.7 232.4h0M56.7 240.4h0M56.1 233.4h0M47.3 234.5h0M57.4 236.4h0M48.3 231.2h0M49.0 231.2h0M52.6 235.4h0M63.9 235.1h0M61.5 229.1h0M61.9 237.1h0M56.3 237.2h0M57.2 240.7h0M58.1 228.8h0M53.6 238.8h0M52.2 232.4h0M52.2 235.5h0M55.0 232.5h0M56.8 236.5h0M49.3 230.9h0M43.9 233.5h0M54.1 232.2h0M50.9 234.1h0M54.2 236.4h0M58.3 235.9h0M59.7 231.3h0M57.1 235.7h0M48.6 232.3h0M56.3 234.7h0M47.5 232.7h0M61.8 237.2h0M54.4 238.9h0M49.3 233.9h0M58.9 233.4h0M48.3 236.4h0M54.8 230.4h0M52.5 229.9h0M54.2 232.2h0M48.9 233.0h0M55.1 240.2h0M55.5 239.6h0M48.5 234.7h0M51.8 229.4h0M55.3 232.0h0M51.0 231.1h0M59.3 233.2h0M53.3 235.1h0M47.7 235.3h0M53.1 236.0h0M52.0 234.6h0M56.7 237.7h0M50.5 237.7h0M48.9 233.9h0M54.7 235.0h0M53.1 237.5h0M50.4 239.4h0M44.7 234.8h0M56.8 234.6h0M55.4 237.5h0M49.9 236.4h0M59.5 233.7h0M49.6 231.0h0M56.2 231.9h0M47.3 233.6h0M61.9 236.7h0M48.8 237.9h0M51.2 236.4h0M56.9 233.1h0M53.2 238.3h0M56.6 234.3h0M56.3 240.2h0M58.8 236.1h0M55.7 229.4h0M54.7 232.9h0M57.8 232.5h0M56.3 231.1h0M58.6 232.1h0M53.9 236.4h0M52.3 234.5h0M59.5 240.3h0M44.7 231.6h0M57.5 237.6h0M51.6 234.8h0M53.0 230.6h0M46.0 230.3h0M60.7 233.2h0M64.0 236.6h0M56.0 236.6h0M58.1 237.5h0M49.0 232.7h0M51.2 234.8h0M52.7 230.5h0M50.4 240.3h0M56.0 234.4h0M49.7 236.8h0M53.6 239.9h0M56.3 233.5h0M58.4 232.2h0M58.5 236.7h0M44.9 233.9h0M55.6 237.0h0M54.8 234.5h0M52.2 233.6h0M54.0 231.0h0M57.3 233.4h0M56.7 232.8h0M56.1 234.9h0M58.6 236.0h0M58.8 234.0h0M53.7 233.6h0M47.6 234.1h0M59.6 237.0h0M49.6 235.5h0M57.9 230.1h0M55.8 235.6h0M57.8 235.3h0M64.2 233.2h0M60.5 238.6h0M54.4 230.8h0M61.0 234.4h0M56.7 236.1h0M58.9 237.8h0M46.7 229.9h0M54.7 234.5h0M58.0 234.1h0M53.1 241.1h0M61.1 238.3h0M59.3 231.9h0M53.6 234.3h0M48.4 231.7h0M54.8 230.6h0M56.8 236.0h0M52.8 233.4h0M57.1 236.1h0M55.9 230.5h0M50.6 233.3h0M44.6 231.9h0M50.2 237.1h0M51.9 232.9h0M50.0 233.1h0M45.9 235.4h0M60.1 235.0h0M51.2 238.6h0M56.5 231.2h0M51.1 232.5h0M53.8 238.4h0M50.4 234.0h0M54.6 230.6h0M51.6 236.5h0M59.8 228.4h0M57.6 233.6h0M76.1 234.8h0M78.8 233.7h0M69.4 229.4h0M65.3 234.6h0M73.0 235.6h0M72.4 226.9h0M69.4 231.6h0M71.6 235.4h0M76.6 233.6h0M66.3 233.4h0M70.1 236.7h0M75.3 230.8h0M74.7 232.5h0M72.8 237.5h0M66.5 232.2h0M77.1 229.7h0M71.9 233.0h0M69.4 227.6h0M68.3 228.8h0M75.3 233.4h0M73.8 228.1h0M73.0 233.0h0M75.1 229.8h0M74.2 237.6h0M78.1 229.0h0M66.6 227.0h0M74.8 234.7h0M72.4 229.3h0M76.0 238.5h0M70.9 232.1h0M75.7 234.4h0M76.3 231.0h0M72.3 231.2h0M68.8 231.4h0M69.9 234.4h0M69.8 232.8h0M67.8 227.9h0M76.6 228.8h0M78.2 236.0h0M69.4 232.6h0M70.3 230.3h0M76.0 232.0h0M74.8 229.9h0M68.3 237.5h0M69.9 228.4h0M70.3 236.4h0M70.4 229.8h0M73.5 236.2h0M70.2 231.3h0M70.3 239.0h0M70.4 234.0h0M63.0 233.2h0M71.2 231.3h0M69.4 227.4h0M65.1 233.1h0M68.5 232.2h0M70.3 230.6h0M68.1 239.4h0M66.6 230.6h0M69.8 228.2h0M67.2 235.7h0M74.7 233.0h0M75.9 229.5h0M75.3 238.8h0M69.5 239.2h0M67.8 228.3h0M70.8 229.5h0M73.5 228.4h0M71.3 225.2h0M70.9 236.4h0M70.0 233.7h0M75.3 228.4h0M66.0 232.8h0M72.1 231.5h0M67.2 237.0h0M66.4 231.5h0M70.8 235.2h0M69.2 229.5h0M79.0 229.4h0M74.2 231.9h0M60.2 239.9h0M61.5 240.8h0M63.4 237.6h0M74.0 241.6h0M64.4 239.3h0M71.2 238.9h0M58.2 241.7h0M57.3 238.1h0M71.6 236.1h0M62.6 240.3h0M64.6 236.4h0M61.7 239.2h0M74.4 242.5h0M58.5 242.1h0M66.9 239.7h0M61.6 239.3h0M53.9 238.5h0M68.6 243.5h0M74.0 239.1h0M61.4 236.9h0M67.9 236.0h0M56.9 237.3h0M65.4 242.0h0M57.6 244.4h0M64.0 238.0h0M65.1 240.0h0M68.0 240.8h0M59.2 241.9h0M67.5 237.6h0M58.6 238.0h0" stroke="#1f77b4" stroke-width="2.0" stroke-linecap="round" fill="none"/>
<path d="M198.3 504.9h0M199.9 461.4h0M215.6 476.8h0M185.2 500.3h0M195.9 493.5h0M195.4 482.9h0M202.4 471.5h0M208.9 472.1h0M196.5 469.8h0M207.7 474.2h0M198.0 481.3h0M197.5 458.0h0M208.1 470.8h0M183.7 488.9h0M213.1 489.4h0M208.0 476.9h0M211.9 499.5h0M200.9 466.9h0M210.9 479.5h0M216.3 485.1h0M196.2 460.6h0M181.6 498.4h0M190.7 485.3h0M186.4 487.2h0M179.7 478.7h0M191.7 496.9h0M210.4 480.1h0M219.1 473.5h0M201.4 454.6h0M194.2 470.1h0M214.6 472.5h0M208.5 485.5h0M202.3 453.5h0M215.5 479.2h0M181.4 485.3h0M184.5 488.7h0M209.8 473.1h0M211.9 486.9h0M192.2 495.1h0M212.5 478.2h0M207.4 481.5h0M183.8 498.7h0M210.6 489.7h0M201.5 503.3h0M198.4 474.5h0M209.0 501.2h0M183.3 480.4h0M186.4 491.8h0M192.7 479.4h0M190.6 499.6h0M187.6 477.9h0M209.8 479.4h0M191.3 481.9h0M184.4 498.2h0M190.3 480.9h0M218.5 477.9h0M182.6 480.3h0M202.4 468.3h0M218.9 485.8h0M210.3 496.4h0M191.3 477.0h0M211.0 494.9h0M193.3 478.0h0M185.8 498.2h0M196.4 504.1h0M180.8 479.3h0M200.2 503.8h0M203.5 481.7h0M205.5 469.1h0M215.4 479.5h0M208.8 473.4h0M206.0 481.2h0M199.2 478.0h0M200.1 466.5h0M219.0 471.4h0M192.0 482.6h0M200.7 478.7h0M220.1 486.8h0M210.0 498.5h0M211.9 489.9h0M220.7 482.1h0M195.1 479.5h0M190.3 496.7h0M207.5 479.5h0M198.7 458.9h0M213.5 501.2h0M195.6 476.6h0M182.6 499.0h0M208.1 462.5h0M202.2 455.7h0M203.6 490.1h0M192.0 492.1h0M188.9 478.3h0M198.4 459.9h0M211.0 496.2h0M220.5 487.4h0M191.2 476.6h0M218.6 492.1h0M210.5 479.6h0M204.9 493.4h0M180.5 479.7h0M194.5 477.0h0M183.3 497.9h0M195.6 499.1h0M200.3 454.9h0M182.6 495.3h0M213.5 497.2h0M187.7 501.3h0M182.9 488.4h0M207.4 465.5h0M216.5 485.4h0M211.9 479.8h0M211.5 482.4h0M201.1 498.6h0M199.7 483.5h0M201.5 488.8h0M213.5 489.6h0M191.1 471.9h0M194.9 490.0h0M204.7 505.2h0M214.9 471.3h0M195.0 472.0h0M187.3 472.1h0M183.1 488.1h0M210.3 470.7h0M211.5 500.3h0M220.9 487.6h0M191.0 475.5h0M214.6 493.4h0M180.1 482.6h0M213.8 468.1h0M184.2 472.9h0M213.5 481.2h0M210.3 479.4h0M216.8 491.6h0M179.5 479.4h0M210.2 489.6h0M208.3 490.0h0M216.8 472.1h0M217.8 487.4h0M198.9 454.6h0M193.0 474.8h0M209.7 500.5h0M183.4 478.9h0M196.4 461.7h0M208.0 472.2h0M195.2 499.0h0M205.4 495.2h0M204.0 485.1h0M209.1 491.0h0M198.4 492.3h0M183.1 494.3h0M200.6 457.7h0M202.1 496.5h0M187.1 473.3h0M201.7 504.2h0M191.0 480.9h0M182.4 489.2h0M199.6 472.8h0M202.6 503.6h0M203.4 471.9h0M203.9 467.1h0M195.6 483.5h0M201.1 491.7h0M195.3 492.0h0M185.6 471.6h0M206.3 497.3h0M212.9 486.9h0M180.5 480.0h0M186.5 483.1h0M207.1 476.9h0M219.0 471.5h0M209.8 478.0h0M193.0 497.3h0M190.6 474.7h0M201.9 484.5h0M200.7 492.9h0M209.7 482.9h0M185.0 476.6h0M207.8 502.3h0M203.8 479.0h0M192.1 483.3h0M193.7 496.4h0M200.1 479.2h0M201.9 476.6h0M197.2 480.3h0M201.3 461.8h0M186.9 478.4h0M188.7 496.8h0M192.8 498.9h0M200.0 465.1h0M211.3 484.1h0M214.1 477.5h0M185.5 485.8h0M212.0 482.4h0M199.6 459.5h0M216.6 488.3h0M204.8 504.0h0M220.9 487.8h0M211.4 485.0h0M212.0 477.8h0M217.1 484.2h0M196.6 477.4h0M212.3 501.3h0M207.2 496.8h0M210.2 468.4h0M196.5 468.4h0M202.7 469.2h0M208.6 491.0h0M178.0 482.4h0M205.6 479.6h0M205.8 501.2h0M182.2 498.5h0M210.2 473.6h0M179.1 481.1h0M193.1 484.3h0M207.7 501.8h0M199.4 498.3h0M196.8 489.7h0M200.2 491.9h0M197.2 484.7h0M204.8 477.6h0M193.4 488.4h0M189.5 482.0h0M212.6 486.8h0M200.3 493.0h0M213.8 477.0h0M194.1 464.1h0M189.5 485.3h0M196.9 466.5h0M182.9 477.1h0M197.5 488.1h0M218.3 489.7h0M210.9 495.3h0M204.9 473.9h0M196.5 477.9h0M214.8 475.1h0M211.4 495.9h0M202.8 473.7h0M193.3 493.4h0M200.5 456.6h0M199.6 481.9h0M199.0 477.3h0M191.9 495.2h0M196.2 500.2h0M193.8 472.2h0M179.6 481.9h0M219.3 483.4h0M209.7 493.2h0M216.1 499.0h0M199.5 481.2h0M196.6 503.3h0M211.5 472.6h0M210.6 468.3h0M211.0 476.9h0M217.0 479.6h0M218.7 473.5h0M209.8 497.9h0M192.8 472.1h0M212.8 482.2h0M211.4 500.1h0M214.8 487.6h0M194.3 484.6h0M192.3 466.2h0M211.0 493.0h0M214.4 481.7h0M204.8 501.3h0M207.1 473.6h0M204.3 474.2h0M183.5 498.5h0M190.3 480.9h0M190.2 472.2h0M179.7 483.3h0M181.8 489.4h0M196.9 456.5h0M210.7 486.3h0M205.9 480.4h0M190.3 472.5h0M192.8 476.4h0M194.1 495.9h0M190.6 483.3h0M198.8 462.0h0M192.8 469.4h0M212.8 474.1h0M199.2 504.0h0M186.2 498.9h0M178.5 489.6h0M210.1 493.2h0M219.0 491.3h0M181.3 482.0h0M180.7 489.7h0M196.8 504.6h0M200.3 484.7h0M209.4 497.6h0M203.8 484.2h0M198.6 460.6h0M209.6 490.9h0M185.2 487.0h0M201.9 477.3h0M201.8 466.7h0M185.1 475.2h0M185.7 491.5h0M181.6 486.5h0M211.5 500.1h0M197.9 479.5h0M193.3 503.9h0M188.7 504.5h0M212.8 486.3h0M195.1 504.5h0M219.1 471.7h0M208.8 493.8h0M182.2 483.0h0M196.4 504.9h0M184.6 474.6h0M219.2 470.5h0M209.2 485.9h0M207.4 498.2h0M184.6 489.1h0M188.2 478.8h0M191.2 499.2h0M212.1 482.2h0M205.4 472.6h0M214.5 493.1h0M183.6 489.4h0M214.7 476.3h0M194.2 490.8h0M197.9 460.6h0M210.8 464.2h0M206.5 488.4h0M202.9 486.7h0M215.4 486.7h0M199.2 480.3h0M181.9 497.9h0M199.5 456.7h0M192.1 479.6h0M185.2 490.2h0M203.3 485.2h0M194.6 490.8h0M186.4 477.3h0M193.7 485.7h0M207.1 477.2h0M181.5 486.2h0M210.8 476.4h0M209.2 480.8h0M189.0 489.0h0M222.6 483.6h0M211.8 473.1h0M214.5 474.8h0M201.5 461.4h0M179.3 482.7h0M213.5 481.7h0M185.8 499.1h0M195.9 487.5h0M195.8 504.7h0M192.8 480.5h0M217.0 488.1h0M194.7 473.7h0M210.0 499.6h0M214.4 474.7h0M197.2 484.9h0M190.7 499.1h0M195.7 474.5h0M193.8 480.7h0M212.2 480.1h0M202.5 466.1h0M194.4 462.6h0M201.6 482.7h0M218.0 470.2h0M217.3 483.9h0M190.5 488.9h0M207.3 501.5h0M182.1 488.2h0M189.4 489.5h0M196.6 455.9h0M209.8 479.1h0M186.2 493.2h0M214.1 481.4h0M197.5 482.0h0M184.4 484.7h0M199.3 469.6h0M194.5 478.8h0M203.5 487.0h0M197.9 499.1h0M213.5 476.9h0M179.4 487.0h0M196.4 499.6h0M192.7 482.9h0M220.1 489.8h0M199.3 471.8h0M207.6 462.3h0M219.9 472.2h0M194.4 481.7h0M214.4 482.8h0M214.7 486.4h0M210.9 483.6h0M213.2 487.9h0M196.2 503.0h0M199.1 480.2h0M213.5 485.0h0M188.3 486.3h0M218.2 475.0h0M215.1 478.0h0M191.7 477.9h0M207.2 486.9h0M190.8 491.1h0M179.7 483.2h0M205.4 474.7h0M193.0 479.5h0M207.9 497.2h0M196.7 494.5h0M208.4 481.6h0M204.7 480.5h0M209.7 471.8h0M195.2 503.7h0M218.4 470.4h0M183.4 485.4h0M186.7 490.1h0M203.7 456.3h0M206.5 496.9h0M179.9 489.3h0M201.5 476.8h0M212.9 500.5h0M183.9 479.3h0M190.7 498.5h0M189.4 474.9h0M213.6 481.4h0M208.2 467.1h0M195.3 493.4h0M201.7 500.2h0M197.5 464.4h0M197.4 500.6h0M201.4 488.6h0M195.4 496.6h0M203.1 490.4h0M195.7 470.5h0M201.3 478.2h0M185.2 491.6h0M201.2 503.6h0M193.4 475.1h0M211.4 479.3h0M206.3 474.3h0M204.2 483.4h0M212.4 465.9h0M206.2 494.5h0M200.9 467.1h0M206.4 473.0h0M195.1 485.3h0M206.6 465.2h0M222.6 481.5h0M186.8 491.3h0M208.6 492.8h0M198.1 502.2h0M199.9 462.2h0M177.5 486.3h0M189.5 478.6h0M216.0 474.5h0M195.0 482.5h0M217.9 495.0h0M182.8 487.3h0M209.0 464.2h0M184.7 495.7h0M211.4 476.4h0M183.3 490.8h0M195.1 468.5h0M197.6 460.8h0M204.9 494.7h0M208.5 497.6h0M218.7 497.0h0M196.5 497.9h0M178.1 481.2h0M190.2 488.0h0M217.8 476.2h0M209.6 483.4h0M209.6 502.6h0M187.0 477.4h0M205.4 481.9h0M195.2 460.6h0M204.7 499.1h0M184.1 498.9h0M214.5 482.5h0M199.9 489.1h0M200.9 503.3h0M197.0 481.1h0M179.6 493.0h0M201.7 460.1h0M202.9 487.7h0M201.2 472.3h0M208.5 485.1h0M189.8 470.3h0M209.8 473.3h0M192.9 482.2h0M188.2 475.0h0M204.5 502.6h0M194.2 503.3h0M212.6 502.6h0M213.2 483.0h0M197.6 463.8h0M189.9 499.5h0M185.3 496.4h0M189.6 503.1h0M218.3 495.9h0M203.8 471.6h0M180.1 482.8h0M205.9 483.4h0M193.0 482.7h0M198.9 481.9h0M201.5 484.2h0M206.2 503.4h0M192.8 486.2h0M207.9 472.7h0M202.5 462.9h0M195.6 475.0h0M200.9 473.8h0M200.9 480.7h0M197.6 484.5h0M196.6 486.8h0M202.4 466.3h0M190.0 502.7h0M197.7 486.8h0M190.2 485.7h0M189.1 499.8h0M188.6 486.1h0M189.6 474.1h0M207.6 477.2h0M197.3 502.1h0M206.4 478.7h0M193.1 479.0h0M203.1 470.1h0M196.9 477.0h0M202.8 457.3h0M179.1 477.3h0M204.5 485.2h0M200.3 501.2h0M206.5 493.9h0M190.4 489.7h0M218.2 473.8h0M218.4 490.9h0M197.5 478.9h0M202.8 467.3h0M220.8 489.8h0M191.2 484.3h0M206.0 469.3h0M184.5 488.4h0M194.6 480.8h0M200.6 487.6h0M218.9 496.2h0M200.1 491.7h0M201.2 460.7h0M193.9 488.7h0M218.5 493.9h0M187.4 477.5h0M187.9 478.6h0M188.2 491.6h0M203.2 481.4h0M209.7 494.7h0M215.8 487.6h0M198.1 493.9h0M204.0 457.0h0M195.2 466.4h0M191.8 493.9h0M203.0 491.9h0M208.0 477.1h0M191.1 467.7h0M220.2 489.4h0M210.9 487.0h0M196.5 468.3h0M198.0 474.3h0M210.5 492.3h0M187.0 487.7h0M202.0 471.2h0M193.5 488.0h0M217.7 477.1h0M199.3 464.5h0M195.6 474.1h0M209.5 470.2h0M197.4 506.1h0M220.6 491.5h0M199.8 487.7h0M184.8 486.1h0M212.7 474.8h0M187.5 485.6h0M193.8 481.0h0M193.3 491.4h0M202.3 459.4h0M185.0 479.8h0M198.0 489.8h0M202.7 490.6h0M193.7 464.2h0M189.9 483.1h0M212.7 481.2h0M183.8 496.9h0M186.0 490.6h0M214.5 481.2h0M208.7 473.7h0M215.5 472.6h0M216.1 469.4h0M210.6 481.4h0M194.8 501.2h0M181.4 479.7h0M206.5 495.5h0M213.2 481.2h0M192.0 475.9h0M195.4 488.5h0M194.7 486.9h0M203.5 488.9h0M193.7 484.6h0M187.6 483.4h0M190.0 485.4h0M220.7 477.0h0M191.0 480.0h0M210.8 469.8h0M209.7 480.3h0M197.7 489.1h0M197.0 483.9h0M200.9 491.4h0M197.7 480.5h0M182.3 483.5h0M220.4 484.8h0M203.9 499.7h0M186.0 486.0h0M218.2 491.7h0M210.3 464.8h0M218.4 498.1h0M203.5 465.3h0M184.0 497.6h0M196.5 489.8h0M202.0 503.9h0M199.6 505.3h0M206.8 460.9h0M219.9 490.5h0M201.3 481.4h0M213.0 482.4h0M211.5 484.3h0M198.6 497.0h0M215.6 487.5h0M212.2 476.0h0M184.7 495.4h0M197.6 505.9h0M191.8 486.6h0M198.0 462.9h0M194.1 480.2h0M198.8 457.5h0M204.0 459.7h0M201.5 463.0h0M207.0 496.2h0M192.6 496.2h0M198.1 463.0h0M211.7 470.7h0M217.7 481.3h0M207.9 503.0h0M188.1 489.9h0M213.2 471.8h0M182.6 480.2h0M206.9 486.5h0M219.0 489.8h0M206.8 498.9h0M209.5 498.4h0M197.6 497.2h0M212.0 465.8h0M187.7 476.5h0M217.7 474.0h0M215.3 491.1h0M210.5 484.9h0M216.5 493.7h0M188.5 472.7h0M187.6 496.3h0M192.7 487.1h0M208.4 496.8h0M188.6 480.3h0M189.2 499.1h0M187.1 471.0h0M203.9 467.3h0M209.0 466.5h0M221.3 485.9h0M180.1 492.9h0M217.6 488.6h0M185.2 495.3h0M190.2 494.2h0M205.9 458.7h0M202.2 463.4h0M191.9 481.3h0M214.7 469.8h0M214.7 495.8h0M185.0 499.6h0M204.2 459.4h0M213.5 501.4h0M193.1 497.0h0M192.8 487.8h0M190.2 473.8h0M186.7 492.5h0M193.5 486.5h0M187.1 475.9h0M208.0 474.4h0M206.3 495.1h0M208.3 493.3h0M201.7 462.0h0M191.3 482.3h0M218.4 498.4h0M214.3 498.7h0M194.3 470.3h0M183.2 490.7h0M187.7 482.0h0M201.0 467.7h0M201.2 495.7h0M220.2 494.5h0M200.2 475.9h0M203.2 479.8h0M221.9 481.6h0M201.9 464.4h0M198.1 490.2h0M199.8 474.7h0M186.7 479.1h0M212.0 471.1h0M183.1 493.1h0M203.5 462.3h0M212.6 484.0h0M195.2 488.5h0M220.6 483.6h0M200.5 467.5h0M200.1 474.6h0M210.0 485.5h0M201.8 462.9h0M196.6 468.7h0M196.9 496.6h0M190.9 473.4h0M216.4 475.4h0M188.4 499.4h0M202.7 490.4h0M192.1 498.3h0M197.9 474.8h0M190.6 475.9h0M198.7 456.2h0M207.8 502.4h0M203.4 498.2h0M211.4 481.8h0M202.2 481.6h0M180.8 498.0h0M192.9 496.0h0M199.4 461.0h0M195.4 477.0h0M219.4 481.8h0M220.4 489.9h0M184.0 494.4h0M185.7 486.7h0M209.9 502.9h0M188.0 476.6h0M197.0 462.2h0M179.0 489.1h0M217.4 486.5h0M197.5 470.3h0M204.1 463.6h0M200.3 491.4h0M208.8 472.9h0M184.2 500.7h0M188.0 501.3h0M217.8 478.8h0M209.7 465.0h0M220.9 480.4h0M200.1 494.9h0M192.0 465.2h0M204.2 494.9h0M210.0 482.5h0M204.9 474.8h0M189.6 490.8h0M197.9 480.0h0M186.5 485.4h0M192.9 494.8h0M186.2 482.7h0M201.5 494.8h0M200.4 499.6h0M200.8 486.2h0M204.4 489.4h0M189.4 480.4h0M199.2 489.4h0M191.5 482.1h0M195.2 489.4h0M197.7 491.2h0M204.0 480.7h0M198.7 478.4h0M201.8 492.6h0M193.4 474.7h0M205.0 485.0h0M200.8 490.2h0M203.9 493.4h0M197.2 484.9h0M197.8 489.7h0M199.1 496.0h0M196.1 487.0h0M193.6 480.1h0M198.0 492.3h0M201.1 485.8h0M199.3 485.3h0M214.7 489.6h0M204.3 493.7h0M194.0 478.5h0M198.1 497.3h0M208.7 482.9h0M191.3 493.5h0M209.5 479.4h0M213.5 481.6h0M206.8 485.6h0M198.4 482.8h0M206.4 491.3h0M207.3 485.0h0M214.4 485.7h0M192.1 497.4h0M202.0 487.4h0M207.7 489.4h0M201.9 500.8h0M186.2 491.5h0M193.3 487.5h0M199.7 488.8h0M208.1 491.4h0M203.3 483.5h0M206.0 488.9h0M212.3 492.8h0M212.8 490.4h0M202.4 482.8h0M201.8 484.4h0M205.5 496.5h0M205.1 493.6h0M203.1 489.5h0M191.0 487.9h0M201.4 486.5h0M199.1 489.1h0M196.5 485.6h0M194.0 478.6h0M196.8 484.1h0M213.9 494.1h0M198.0 490.9h0M192.2 475.7h0M203.6 491.0h0M195.6 487.0h0M209.3 488.2h0M202.4 491.0h0M191.0 488.7h0M196.0 473.8h0M208.0 485.7h0M209.5 496.8h0M204.1 489.5h0M206.5 491.6h0M190.9 492.2h0M208.8 484.2h0M193.8 483.6h0M196.3 490.7h0M207.1 487.2h0M198.6 474.6h0M197.6 480.1h0M196.6 489.4h0M194.1 483.3h0M191.9 485.2h0M198.7 494.0h0M206.1 483.3h0M195.6 488.4h0M205.1 485.9h0M199.8 487.1h0M192.4 488.9h0M205.6 487.4h0M191.9 487.0h0M200.1 489.2h0M197.7 492.8h0M209.6 492.7h0M202.8 495.5h0M200.7 485.9h0M189.6 487.1h0M210.6 480.4h0M207.2 478.2h0M203.4 499.7h0M201.3 478.9h0M203.3 486.0h0M207.3 483.4h0M187.2 483.7h0M205.7 494.1h0M203.2 487.2h0M206.4 485.7h0M197.4 488.6h0M209.7 483.6h0M204.9 482.6h0M195.1 488.2h0M190.4 481.1h0M191.5 482.9h0M205.8 487.5h0M204.5 482.7h0M209.3 484.3h0M190.6 482.6h0M206.6 483.4h0M206.4 483.2h0M199.1 483.2h0M196.6 482.5h0M212.8 486.6h0M210.9 494.7h0M200.1 486.0h0M197.1 487.9h0M204.7 487.0h0M194.4 480.4h0M191.1 482.6h0M200.6 491.0h0M200.0 488.7h0M203.8 494.8h0M190.6 494.5h0M204.4 490.7h0M188.9 485.5h0M198.9 491.4h0M206.4 491.7h0M190.6 495.6h0M201.5 493.4h0M200.8 482.2h0M207.0 483.9h0M199.2 494.6h0M204.5 498.9h0M210.5 479.7h0M188.6 494.9h0M205.7 485.3h0M198.6 483.2h0M215.2 485.9h0M189.9 493.2h0M200.2 489.4h0M197.8 486.8h0M185.9 490.7h0M195.4 484.4h0M174.0 464.8h0M174.3 462.6h0M175.0 459.8h0M179.5 463.6h0M178.1 449.9h0M173.4 461.9h0M187.6 467.2h0M182.2 466.1h0M178.0 470.3h0M176.4 467.0h0M186.5 463.9h0M181.6 459.1h0M174.5 454.5h0M183.5 455.8h0M177.2 466.3h0M186.2 467.6h0M184.3 469.2h0M184.2 455.2h0M191.2 459.8h0M184.6 452.3h0M181.6 465.5h0M180.8 471.7h0M177.8 449.4h0M189.9 458.9h0M182.5 457.4h0M183.7 465.1h0M173.0 457.1h0M183.3 452.4h0M187.7 450.7h0M173.1 453.5h0M179.8 472.2h0M181.2 450.5h0M182.8 453.0h0M182.6 467.5h0M177.2 452.2h0M189.9 454.2h0M189.5 457.0h0M176.1 454.6h0M178.0 461.7h0M192.3 464.9h0M180.6 450.9h0M175.7 455.2h0M173.7 465.8h0M176.8 464.9h0M172.5 466.1h0M189.0 466.4h0M180.4 470.1h0M186.5 465.1h0M178.1 468.1h0M178.3 455.9h0M174.4 467.3h0M186.7 460.5h0M184.1 466.4h0M185.7 458.5h0M189.1 463.4h0M173.6 450.4h0M182.5 457.9h0M178.6 452.6h0M181.4 451.8h0M182.3 461.5h0M177.0 476.2h0M178.2 469.8h0M183.8 460.0h0M173.0 459.3h0M182.2 452.9h0M188.1 453.2h0M173.8 453.8h0M177.6 477.5h0M189.4 452.2h0M179.3 455.5h0M187.1 463.0h0M179.0 455.7h0M182.4 470.5h0M185.0 468.3h0M175.5 450.9h0M176.1 453.0h0M174.5 460.2h0M184.9 456.4h0M186.6 462.9h0M180.7 465.2h0M178.3 452.3h0M177.1 450.7h0M182.9 469.9h0M189.2 465.3h0M187.8 465.2h0M183.2 463.3h0M178.6 473.9h0M183.2 463.7h0M175.5 468.6h0M175.5 468.3h0M181.9 462.0h0M174.2 469.0h0M181.2 465.0h0M186.0 452.3h0M186.9 449.2h0M224.9 464.3h0M220.0 464.9h0M228.9 463.8h0M226.4 468.4h0M222.6 466.1h0M228.0 465.9h0M218.8 464.3h0M222.1 465.8h0M224.7 464.7h0M223.2 463.8h0M225.5 465.9h0M224.9 464.5h0M225.3 464.9h0M224.8 465.2h0M222.3 463.2h0M219.7 463.8h0M223.5 463.1h0M225.1 469.9h0M227.2 463.1h0M223.7 464.2h0M226.0 462.4h0M224.8 466.0h0M225.5 466.4h0M224.4 461.8h0M140.4 374.4h0M144.7 377.1h0M142.8 382.3h0M141.5 384.5h0M146.2 372.3h0M139.1 382.7h0M139.5 382.6h0M139.2 377.6h0M147.1 371.9h0M142.4 376.3h0" stroke="#f58231" stroke-width="2.0" stroke-linecap="round" fill="none"/>
<path d="M229.0 486.0h0M195.0 472.0h0M226.0 469.0h0" stroke="#4a7a9a" stroke-width="1.8" stroke-linecap="round" fill="none"/>
<path d="M444.1 321.5h0M445.3 312.6h0M447.0 315.2h0M444.1 319.9h0M442.4 319.3h0M444.1 313.9h0M442.4 312.6h0M447.8 317.0h0M447.0 313.3h0M446.6 313.1h0M444.5 316.5h0M441.4 317.4h0M443.6 314.0h0M440.8 312.7h0M448.4 316.9h0M442.2 318.5h0M440.4 313.1h0M444.8 321.1h0M444.6 317.0h0M443.2 312.6h0M439.1 315.8h0M441.3 317.3h0M439.8 315.8h0M442.4 315.7h0M441.7 316.2h0M437.0 315.2h0M441.6 313.5h0M446.4 314.0h0M448.6 318.0h0M440.6 318.3h0M441.4 318.2h0M446.8 319.9h0M439.7 316.1h0M443.5 313.0h0M445.0 318.5h0M438.5 314.9h0M439.5 312.8h0M439.7 320.5h0M441.1 315.4h0M447.1 319.5h0M446.2 311.4h0M441.2 315.3h0M441.4 322.2h0M442.9 319.9h0M442.8 316.3h0M445.3 317.8h0M445.3 311.5h0M445.3 317.4h0M445.7 316.3h0M445.0 312.7h0M447.6 313.0h0M448.5 319.4h0M443.3 315.6h0M446.3 315.6h0M439.2 317.3h0M439.1 315.2h0M450.0 318.9h0M441.9 316.3h0M441.2 316.5h0M438.3 318.5h0M443.5 314.7h0M441.9 315.1h0M441.4 315.1h0M448.2 318.5h0M445.0 317.6h0M448.9 318.6h0M444.3 317.3h0M444.2 316.6h0M442.6 310.0h0M445.5 316.6h0M447.0 317.4h0M442.5 318.3h0M444.2 315.2h0M442.1 315.3h0M442.4 315.2h0M443.1 319.8h0M441.8 316.0h0M440.8 312.5h0M440.4 315.0h0M444.1 315.5h0M439.2 315.4h0M448.9 313.9h0M443.7 319.4h0M440.6 314.8h0M441.6 317.0h0M443.9 316.9h0M445.2 315.6h0M444.0 312.5h0M442.3 320.9h0M444.4 314.6h0M444.0 319.6h0M437.3 312.9h0M441.1 315.2h0M443.2 314.8h0M443.9 316.8h0M439.3 314.7h0M439.0 317.3h0M444.4 318.4h0M440.3 314.9h0M437.7 317.5h0M447.4 317.8h0M445.8 317.2h0M444.8 319.2h0M442.5 318.9h0M446.6 317.7h0M444.5 312.8h0M447.4 313.9h0M441.2 314.0h0M445.5 313.7h0M445.1 318.1h0M443.9 315.5h0M445.6 320.3h0M441.8 313.4h0M441.3 313.9h0M442.6 316.0h0M440.6 315.3h0M439.9 317.2h0M446.6 311.2h0M444.3 320.9h0M442.5 319.2h0M437.6 317.1h0M441.0 318.1h0M437.8 318.8h0M434.9 320.5h0M442.6 314.8h0M430.4 320.3h0M440.9 319.4h0M435.1 321.6h0M443.9 317.2h0M428.0 319.1h0M439.8 315.9h0M441.6 322.9h0M439.9 317.4h0M429.5 322.0h0M437.3 322.1h0M441.6 323.1h0M434.6 320.0h0M438.3 322.3h0M435.1 318.4h0M431.1 323.2h0M437.7 318.2h0M429.6 318.4h0M429.6 318.6h0M433.3 321.6h0M430.9 314.4h0M433.0 315.7h0M439.7 319.4h0M427.7 317.3h0M435.9 319.9h0M426.8 319.6h0M437.5 323.1h0M441.5 319.6h0M429.5 318.8h0M439.2 317.1h0M442.3 317.0h0M430.4 322.6h0M435.5 321.0h0M434.5 320.1h0M433.1 325.9h0M439.3 319.6h0M438.4 322.6h0M433.4 320.5h0M437.0 318.2h0M432.1 319.4h0M434.5 318.7h0M426.3 320.2h0M439.3 320.2h0M444.5 322.7h0M434.2 317.9h0M438.5 318.8h0M427.9 320.4h0M434.5 319.3h0M439.1 320.6h0M446.1 317.7h0M435.5 321.0h0M433.8 318.4h0M437.7 314.6h0M437.7 314.1h0M430.2 323.5h0M443.7 320.4h0M442.0 321.7h0M439.6 320.9h0M440.6 325.7h0M441.5 329.0h0M436.3 321.1h0M439.5 324.3h0M440.8 331.3h0M441.1 321.8h0M439.8 322.6h0M440.0 328.2h0M436.5 328.7h0M447.5 326.3h0M440.8 326.9h0M439.6 322.4h0M443.5 320.6h0M435.5 328.1h0M439.5 322.8h0M443.0 331.5h0M439.9 325.5h0M443.2 329.6h0M445.1 328.6h0M438.4 328.0h0M441.0 319.5h0M445.9 328.2h0M446.5 325.7h0M443.9 325.7h0M441.6 329.5h0M441.2 328.3h0M440.9 330.7h0M443.6 319.6h0M447.6 327.7h0M439.0 323.6h0M448.9 326.3h0M443.0 328.3h0M438.6 332.7h0M445.5 319.7h0M439.7 326.2h0M441.2 328.2h0M442.6 327.4h0M440.5 327.2h0M438.8 333.6h0M441.2 330.8h0M441.4 325.4h0M440.3 321.0h0M449.3 327.6h0M422.5 330.2h0M429.2 328.8h0M419.0 330.9h0M431.1 330.0h0M420.8 330.2h0M429.6 330.3h0M420.7 334.1h0M426.5 327.8h0M429.3 332.4h0M419.8 328.6h0M428.1 329.1h0M420.7 331.1h0M421.0 333.9h0M416.0 334.4h0M429.3 332.3h0M426.3 331.1h0M420.8 331.5h0M418.0 336.8h0M420.7 329.2h0M427.8 333.9h0M423.4 330.3h0M416.0 334.7h0M420.2 330.3h0M424.7 327.5h0M417.6 329.0h0M421.1 333.8h0M415.4 336.7h0M417.8 331.3h0M427.3 328.3h0M430.3 328.9h0M420.9 329.3h0M428.6 329.7h0M418.7 329.9h0M418.4 332.2h0M418.4 334.5h0M421.5 330.1h0M425.6 334.2h0M410.4 335.4h0M428.3 330.2h0M425.8 326.6h0M418.4 335.0h0M421.6 331.8h0M425.9 331.5h0M424.3 329.6h0M421.2 335.1h0M418.4 328.8h0M420.6 334.1h0M432.4 329.2h0M418.9 333.8h0M424.5 333.9h0M425.5 332.5h0M425.2 331.7h0M416.8 332.4h0M432.0 332.3h0M427.8 331.0h0M421.7 332.5h0M420.9 334.6h0M419.9 330.1h0M413.9 337.5h0M417.3 330.5h0M425.5 335.2h0M425.7 329.7h0M424.8 328.7h0M420.7 331.9h0M422.7 333.3h0M426.3 335.2h0M426.7 329.6h0M423.1 329.1h0M418.5 331.5h0M427.5 328.4h0M412.7 331.3h0M415.2 332.8h0M419.7 329.1h0M417.4 331.6h0M424.7 332.4h0M429.5 328.9h0M425.8 330.7h0M415.6 331.5h0M434.4 327.9h0M432.0 331.1h0M431.5 328.6h0M427.3 329.4h0M415.2 330.3h0M423.7 327.0h0M423.7 328.9h0M423.4 327.7h0M426.9 329.7h0M412.7 330.2h0M421.6 327.5h0M424.4 332.1h0M419.4 335.7h0M430.5 330.1h0M425.1 331.9h0M421.5 335.0h0M422.6 332.5h0M442.1 337.3h0M446.4 336.6h0M441.3 340.2h0M438.0 341.6h0M433.3 344.2h0M439.8 338.9h0M424.6 345.5h0M447.7 336.7h0M429.3 343.9h0M436.4 339.0h0M432.7 341.4h0M444.2 340.7h0M432.2 343.7h0M425.2 344.3h0M435.4 341.3h0M432.8 340.3h0M438.8 341.4h0M419.7 344.7h0M432.9 339.7h0M426.4 343.7h0M440.7 340.2h0M431.6 341.0h0M449.4 336.5h0M437.6 341.5h0M449.0 337.7h0M439.6 342.4h0M432.7 338.7h0M430.6 341.4h0M446.3 338.3h0M445.4 338.3h0M436.4 339.5h0M427.3 343.5h0M439.2 340.5h0M432.2 340.9h0M439.4 340.5h0M451.0 335.4h0M448.5 337.8h0M445.5 334.6h0M446.0 340.5h0M445.5 338.1h0M447.3 333.2h0M447.9 337.7h0M445.2 337.6h0M445.4 334.7h0M442.6 340.3h0M445.2 334.7h0M446.0 337.2h0M444.7 337.2h0M444.1 327.7h0M447.3 334.7h0M448.2 325.7h0M446.4 331.3h0M445.7 332.3h0M445.2 331.2h0M448.6 326.7h0M442.1 335.5h0M451.0 330.8h0M443.9 329.0h0M465.2 322.9h0M470.1 322.2h0M469.1 320.9h0M466.4 318.7h0M467.1 322.9h0M466.1 320.6h0M473.1 320.4h0M470.0 319.4h0M473.6 318.2h0M469.8 320.1h0M468.7 321.2h0M471.9 322.2h0M471.2 321.2h0M465.0 323.1h0M472.6 321.4h0M470.4 320.1h0M463.9 322.4h0M466.0 324.1h0M470.1 320.5h0M466.3 320.7h0M465.2 319.8h0M472.8 319.9h0M473.5 320.3h0M469.3 318.7h0M467.3 319.7h0M469.8 320.3h0M464.9 320.6h0M465.1 318.7h0M467.6 324.6h0M463.1 321.6h0M464.0 320.2h0M468.3 319.1h0M486.6 306.5h0M481.1 309.0h0M483.1 308.3h0M484.5 306.7h0M485.1 306.8h0M483.3 308.5h0M484.8 308.6h0M481.6 309.3h0M487.1 306.5h0M487.1 306.5h0M484.1 309.7h0M481.6 309.7h0M456.0 330.0h0M454.0 318.0h0M451.0 327.0h0" stroke="#1f9e4f" stroke-width="2.0" stroke-linecap="round" fill="none"/>
<path d="M61.1 235.8L439.7 325.9M61.1 235.8L198.7 479.1M61.1 235.8L98.5 348.8M61.1 235.8L138.1 329.0M98.5 348.8L138.1 329.0M98.5 348.8L439.7 325.9M138.1 329.0L439.7 325.9M98.5 348.8L198.7 479.1M138.1 329.0L198.7 479.1M439.7 325.9L198.7 479.1" stroke="#000" stroke-width="2.0" fill="none" stroke-linecap="round"/>
<rect x="423.1" y="189" width="77.39999999999998" height="102.19999999999999" rx="2.5" fill="#fff" stroke="#cccccc" stroke-width="1.1"/>
<circle cx="442" cy="201.0" r="4.9" fill="#1f77b4"/>
<text class="ls" x="460.2" y="205.0" font-size="13.9" font-weight="bold" fill="#000">CXG</text>
<circle cx="442" cy="220.6" r="4.9" fill="#f58231"/>
<text class="ls" x="460.2" y="224.6" font-size="13.9" font-weight="bold" fill="#000">ALG</text>
<circle cx="442" cy="240.2" r="4.9" fill="#1f9e4f"/>
<text class="ls" x="460.2" y="244.2" font-size="13.9" font-weight="bold" fill="#000">PG</text>
<circle cx="442" cy="259.8" r="4.9" fill="#e41a2c"/>
<text class="ls" x="460.2" y="263.8" font-size="13.9" font-weight="bold" fill="#000">EG_1</text>
<circle cx="442" cy="279.4" r="4.9" fill="#8c6bb1"/>
<text class="ls" x="460.2" y="283.4" font-size="13.9" font-weight="bold" fill="#000">EG_2</text>
<path d="M29.4 486V563.8H110.5" stroke="#222222" stroke-width="4.0" fill="none"/>
<text class="ls" font-size="24.7" fill="#222222" transform="translate(31.4 587.9) scale(0.972 1)">UMAP 1</text>
<text class="ls" font-size="26.2" fill="#222222" transform="translate(21.4 561.2) rotate(-90) scale(0.955 1)">UMAP2</text>
<text class="dj" x="956.8" y="174.3" font-size="33.3" text-anchor="middle" fill="#000">log2FC &lt; 3.5</text>
<path d="M882.3 371.8h0M882.2 376.1h0M877.3 354.3h0M883.4 379.6h0M885.1 386.7h0M885.0 373.7h0M880.3 356.1h0M882.4 377.5h0M872.3 382.3h0M880.3 375.5h0M880.5 359.1h0M877.8 356.9h0M885.4 372.4h0M886.1 371.5h0M869.9 358.0h0M864.7 371.3h0M864.9 355.0h0M866.0 370.5h0M881.3 383.1h0M885.6 382.2h0M861.0 358.8h0M886.6 387.6h0M882.6 375.1h0M876.2 373.0h0M880.7 374.2h0M886.8 380.2h0M873.5 353.6h0M887.2 377.1h0M882.3 362.2h0M882.1 381.8h0M893.1 364.0h0M886.9 372.1h0M882.3 388.4h0M881.2 368.2h0M876.8 358.8h0M887.2 351.5h0M886.0 380.9h0M888.2 367.9h0M885.9 389.5h0M871.4 370.4h0M877.7 371.3h0M884.2 370.3h0M865.4 380.6h0M883.8 392.3h0M877.9 353.9h0M877.9 353.1h0M880.0 389.9h0M887.0 368.2h0M864.3 370.8h0M869.8 350.2h0M884.4 378.1h0M866.6 368.4h0M858.1 368.7h0M878.8 366.8h0M880.8 370.2h0M859.1 372.0h0M882.2 372.0h0M877.0 354.1h0M879.1 382.7h0M876.0 383.7h0M892.7 364.7h0M870.3 367.5h0M888.1 377.6h0M858.9 364.4h0M885.5 383.2h0M860.9 357.0h0M863.2 362.9h0M883.5 383.5h0M864.4 376.0h0M889.8 374.7h0M868.7 361.2h0M881.5 391.9h0M880.7 380.4h0M880.5 383.2h0M871.9 359.1h0M880.4 373.7h0M874.1 380.4h0M879.1 389.7h0M885.0 383.3h0M877.3 360.8h0M883.1 382.6h0M868.1 363.9h0M881.8 381.5h0M872.8 370.2h0M874.9 384.7h0M868.4 350.5h0M867.9 349.7h0M886.2 358.9h0M888.3 374.9h0M863.2 376.5h0M876.8 355.6h0M880.6 352.8h0M880.8 357.4h0M873.6 355.7h0M858.9 371.5h0M881.4 379.5h0M867.6 369.5h0M860.1 369.2h0M878.1 356.7h0M862.0 377.2h0M888.3 373.6h0M878.2 388.4h0" stroke="#d8283c" stroke-width="1.7" stroke-linecap="round" fill="none" stroke-opacity="0.8"/>
<path d="M878.1 385.0h0M868.7 382.4h0M864.9 369.8h0M870.8 357.3h0M882.1 362.7h0M863.4 366.4h0M883.9 388.1h0M860.7 370.0h0M877.9 376.2h0M886.0 381.2h0M867.2 373.9h0M883.8 386.3h0M879.7 374.0h0M875.7 367.2h0M859.5 370.5h0M866.3 359.1h0M861.2 359.1h0M874.8 362.8h0M886.7 373.6h0M876.8 390.4h0M887.5 353.6h0M860.7 359.1h0M859.8 361.0h0M886.7 359.2h0M886.1 369.4h0M879.6 365.1h0M889.7 355.2h0M877.6 358.5h0M889.7 364.9h0M867.3 372.8h0M882.0 369.9h0M890.4 355.8h0M872.1 386.6h0M885.3 358.3h0M866.7 365.6h0M886.1 363.0h0M885.5 380.4h0M880.7 354.2h0M887.4 381.9h0M870.1 378.2h0M892.8 357.9h0M868.2 360.7h0M875.9 371.0h0M867.9 367.8h0M871.7 375.6h0M867.3 368.7h0M872.2 363.2h0M872.4 377.5h0M888.3 360.6h0M867.2 357.8h0M863.6 369.0h0M869.2 382.4h0M874.9 367.5h0M876.5 362.7h0M872.5 358.8h0M889.9 371.3h0M887.8 374.6h0M860.2 364.6h0M869.6 363.1h0M880.4 379.8h0M875.7 378.8h0M885.3 365.3h0M880.0 360.5h0M876.7 355.8h0M882.0 375.2h0M885.7 353.9h0M865.9 352.0h0M859.2 371.3h0M893.6 357.5h0M858.6 359.4h0M886.5 359.9h0M868.3 358.0h0M859.7 371.4h0M892.1 364.0h0M877.0 374.9h0M861.5 354.5h0M886.0 364.8h0M875.1 381.5h0M864.8 371.5h0M881.6 366.4h0M862.8 369.3h0M879.4 382.9h0M886.0 358.0h0M888.7 374.3h0M861.4 362.4h0M860.5 369.7h0M891.6 371.1h0M868.9 354.7h0M867.8 351.0h0M879.8 361.4h0M878.9 377.4h0M860.9 372.9h0M891.0 366.2h0M879.5 354.5h0M880.9 355.2h0M884.5 364.9h0M886.9 381.5h0M879.7 357.0h0M871.2 379.8h0M878.9 364.2h0M884.2 373.5h0M884.0 390.9h0M891.8 366.5h0M870.8 383.7h0M862.8 357.6h0M864.8 371.1h0M863.2 376.3h0M890.1 368.5h0M878.3 352.2h0M857.8 363.3h0M882.3 387.7h0M879.4 351.9h0M867.8 353.3h0M867.8 377.0h0M883.5 355.3h0M880.7 366.1h0M862.7 366.1h0M874.1 388.0h0M869.8 370.7h0M873.8 372.8h0M877.2 389.5h0M876.5 371.7h0M881.8 357.9h0M883.0 365.9h0M881.6 377.5h0M870.4 366.1h0M872.3 376.0h0M879.1 382.7h0M871.1 357.5h0M883.8 386.9h0M870.6 350.6h0M865.3 357.5h0M861.6 366.0h0M863.9 361.4h0M881.4 388.1h0M860.6 366.7h0M878.9 379.4h0M861.8 373.4h0M893.4 365.0h0M869.7 383.3h0M889.9 354.0h0M883.1 390.3h0M888.6 360.6h0M881.4 375.0h0M859.4 359.8h0M872.6 377.7h0M879.2 384.4h0M865.8 354.0h0M885.2 362.6h0M883.3 361.7h0M865.2 378.1h0M876.7 369.9h0M859.6 367.2h0M881.3 374.0h0M865.9 366.7h0M877.3 370.8h0M878.4 379.4h0M859.9 369.3h0M884.0 387.7h0M866.4 354.2h0M867.2 354.2h0M880.6 365.5h0" stroke="#8c6bb1" stroke-width="1.7" stroke-linecap="round" fill="none" stroke-opacity="0.85"/>
<path d="M882.3 363.6h0M875.3 358.2h0M875.3 357.6h0M890.0 366.3h0M870.9 373.4h0M873.5 355.9h0M877.7 351.6h0M890.0 366.5h0M875.6 354.8h0M895.0 363.2h0M871.6 377.0h0M868.6 369.0h0M882.7 376.2h0M884.6 371.7h0M874.5 354.3h0M872.6 379.6h0M881.5 376.7h0M860.5 357.8h0M874.0 382.5h0M883.3 384.8h0M878.2 363.0h0M879.1 357.6h0M884.3 373.5h0M883.4 395.1h0M885.3 352.4h0M875.3 358.7h0M886.0 375.4h0M877.1 353.6h0M887.4 353.0h0M886.6 384.1h0M864.3 358.8h0M867.5 373.8h0M861.1 369.1h0M863.5 371.6h0M888.6 359.8h0M879.9 381.8h0M877.6 354.3h0M884.9 371.5h0M880.1 390.1h0M879.7 379.0h0M880.7 377.2h0M876.3 388.4h0M863.2 367.8h0M876.4 360.0h0M884.8 377.8h0M879.9 392.6h0M878.8 355.9h0M884.4 376.5h0M861.9 369.3h0M877.0 356.9h0M874.5 353.5h0M884.8 375.0h0M864.6 359.0h0M885.4 386.4h0M863.5 354.3h0M870.0 371.9h0M866.8 376.7h0M870.1 355.6h0M887.8 367.6h0M881.8 360.6h0M878.2 358.6h0M869.2 373.3h0M868.2 379.4h0M865.5 368.6h0M878.1 363.6h0M877.7 360.5h0M874.9 359.8h0M867.0 368.3h0M877.1 353.0h0M864.0 361.4h0M878.3 358.9h0M890.6 363.5h0M883.6 389.5h0M881.7 382.2h0M860.8 371.3h0M879.1 386.9h0M892.1 357.6h0M869.8 354.6h0M871.4 373.5h0M882.7 359.6h0M872.6 367.2h0M859.4 359.1h0M872.7 360.2h0M887.2 383.3h0M863.6 364.1h0M882.1 373.4h0M884.5 380.9h0M887.5 355.1h0M865.9 377.1h0M885.4 364.5h0M885.0 382.2h0M883.3 379.9h0M867.4 383.1h0M884.8 368.5h0M861.8 366.7h0M865.8 373.1h0M884.0 384.6h0M863.6 371.0h0M861.8 372.2h0M883.0 375.0h0M877.4 359.7h0M863.7 368.9h0M878.8 377.2h0" stroke="#d8283c" stroke-width="1.7" stroke-linecap="round" fill="none" stroke-opacity="0.8"/>
<path d="M870.1 354.1h0M887.1 356.2h0M882.5 385.8h0M880.9 366.2h0M885.5 385.9h0M861.8 356.3h0M885.4 370.1h0M863.4 365.1h0M887.5 352.2h0M893.1 362.4h0M884.8 352.9h0M875.9 378.6h0M875.2 378.7h0M876.0 388.2h0M878.0 363.9h0M870.3 356.0h0M864.7 376.1h0M875.1 362.6h0M882.9 381.2h0M869.0 369.0h0M893.3 359.4h0M873.0 379.8h0M878.0 373.7h0M861.8 369.3h0M869.1 381.7h0M858.7 359.8h0M869.0 353.5h0M867.3 359.8h0M870.8 375.5h0M885.7 380.4h0M877.1 367.0h0M878.9 386.9h0M865.3 364.0h0M885.0 386.5h0M876.2 378.4h0M860.9 369.6h0M878.7 368.4h0M873.0 366.2h0M865.2 378.7h0M876.0 354.8h0M894.4 360.9h0M860.0 367.1h0M864.3 355.1h0M864.5 353.3h0M889.0 376.6h0M873.6 349.5h0M887.2 370.1h0M890.0 371.0h0M872.2 357.3h0M881.7 375.1h0M883.0 351.3h0M865.1 380.0h0M870.5 373.6h0M858.8 366.6h0M877.5 385.2h0M873.6 382.8h0M883.8 365.7h0M858.8 358.4h0M891.0 357.6h0M860.1 369.9h0M874.4 380.0h0M886.6 373.9h0M872.3 349.9h0M872.6 378.6h0M887.8 372.1h0M885.6 377.5h0M890.0 360.2h0M886.6 378.3h0M868.5 351.4h0M864.1 357.0h0M871.0 355.2h0M871.9 377.2h0M869.4 373.2h0M861.3 372.3h0M881.6 354.9h0M866.3 351.5h0M857.8 365.3h0M872.5 384.5h0M885.1 391.5h0M882.7 389.7h0M884.7 377.6h0M870.5 383.8h0M885.8 375.9h0M874.8 366.4h0M892.5 355.5h0M869.7 364.7h0M866.0 365.9h0M891.7 356.7h0M878.6 365.2h0M877.0 378.6h0M884.7 378.4h0M873.8 377.9h0M867.7 356.6h0M883.0 373.4h0M869.4 363.4h0M872.8 387.3h0M860.9 369.5h0M890.2 355.6h0M874.8 368.7h0M882.4 354.5h0M865.7 351.4h0M874.8 383.8h0M868.1 353.6h0M861.9 360.2h0M875.3 373.0h0M871.7 364.9h0M872.2 361.6h0M884.7 392.6h0M877.8 385.8h0M877.0 378.9h0M891.7 372.7h0M872.7 372.4h0M878.4 383.4h0M871.5 371.5h0M867.0 354.7h0M884.7 371.5h0M867.0 380.3h0M877.8 362.8h0M888.5 375.7h0M889.5 355.1h0M880.2 356.4h0M865.5 353.1h0M877.5 387.7h0M879.8 381.3h0M877.6 365.7h0M868.7 367.2h0M870.3 352.7h0M863.3 372.3h0M887.5 379.9h0M885.8 385.1h0M878.6 391.4h0M867.7 367.1h0M880.0 356.3h0M877.1 367.0h0M873.9 364.3h0M887.0 383.8h0M868.9 363.4h0M867.5 362.5h0M869.9 380.8h0M874.6 374.8h0M890.7 367.2h0M877.2 379.7h0M866.2 351.5h0M868.5 359.1h0M867.0 372.1h0M881.5 394.1h0M879.3 384.0h0M882.3 389.7h0M880.4 354.9h0M875.6 365.2h0M878.2 388.1h0M884.2 393.9h0M875.9 364.4h0M877.3 377.8h0M859.1 359.3h0M890.6 372.4h0M886.3 380.7h0M881.2 387.9h0M872.5 386.8h0M879.7 387.3h0M871.9 377.5h0M876.3 388.8h0M883.8 381.3h0" stroke="#8c6bb1" stroke-width="1.7" stroke-linecap="round" fill="none" stroke-opacity="0.85"/>
<path d="M869.3 349.2h0M881.2 383.9h0M884.5 356.9h0M875.0 388.8h0M879.8 379.9h0M883.2 383.1h0M861.1 366.4h0M867.8 366.9h0M868.0 367.6h0M874.8 380.4h0M878.7 359.1h0M869.0 366.9h0M879.9 392.0h0M873.3 375.2h0M885.5 367.5h0M864.8 363.9h0M885.5 386.5h0M880.9 381.6h0M861.5 373.6h0M871.7 351.0h0M874.4 351.1h0M882.2 377.1h0M883.0 384.2h0M879.4 372.2h0M889.0 377.8h0M877.5 358.2h0M879.7 377.7h0M865.5 376.5h0M868.5 357.7h0M883.2 378.0h0M883.8 382.3h0M869.5 357.5h0M872.1 368.8h0M886.9 353.3h0M874.2 354.8h0M863.9 358.8h0M861.1 367.7h0M861.0 360.5h0M863.4 360.8h0M884.8 373.0h0M881.2 388.1h0M874.3 361.1h0M867.9 367.9h0M883.7 381.7h0M881.2 382.0h0M892.8 361.0h0M880.5 377.3h0M879.8 358.3h0M877.4 358.9h0M886.5 372.6h0M870.9 359.0h0M878.3 359.1h0M872.4 353.1h0M882.6 371.9h0M883.2 352.2h0M864.6 381.0h0M865.1 369.2h0M867.2 374.0h0M878.4 361.7h0M857.9 361.0h0M875.0 389.3h0M868.6 372.7h0M888.2 364.6h0M884.3 358.7h0M861.1 368.9h0M880.8 359.2h0M860.7 369.5h0M883.6 383.0h0M885.8 383.0h0M867.7 375.6h0M872.9 355.6h0M870.6 365.4h0M859.5 373.1h0M886.7 376.8h0M879.3 371.1h0M879.8 356.3h0M881.9 375.0h0M871.9 378.2h0M879.1 357.3h0M880.6 380.8h0M880.6 367.6h0M875.5 354.5h0M882.0 383.6h0M872.1 349.5h0M869.5 381.4h0M882.0 377.7h0M862.6 368.9h0M882.1 377.1h0M859.2 358.6h0M882.9 372.9h0M890.4 371.4h0M869.6 373.8h0M877.8 377.1h0M888.1 377.2h0M893.0 366.7h0M868.4 362.7h0M883.1 388.9h0M881.1 387.3h0M876.8 389.0h0M886.9 359.6h0M875.8 366.1h0M891.3 367.5h0" stroke="#d8283c" stroke-width="1.7" stroke-linecap="round" fill="none" stroke-opacity="0.8"/>
<path d="M879.8 390.4h0M878.7 377.6h0M882.2 377.6h0M870.8 372.4h0M873.0 353.2h0M863.9 368.6h0M879.2 367.4h0M868.6 366.1h0M869.1 376.6h0M859.8 358.5h0M887.1 381.2h0M886.3 376.5h0M880.6 378.2h0M865.6 372.5h0M876.3 387.3h0M884.4 393.8h0M877.0 364.5h0M893.1 362.0h0M886.8 365.6h0M877.7 390.9h0M878.8 357.8h0M873.5 355.4h0M886.5 362.0h0M884.7 374.8h0M885.5 352.0h0M883.6 372.0h0M889.5 361.0h0M880.4 392.0h0M871.2 382.6h0M870.5 381.4h0M862.8 353.8h0M885.0 368.1h0M875.3 354.7h0M858.8 367.5h0M884.5 362.4h0M872.8 360.5h0M872.4 381.3h0M881.2 375.6h0M859.7 369.2h0M874.9 388.7h0M868.7 351.5h0M888.4 359.7h0M861.2 353.4h0M884.8 351.0h0M879.0 369.7h0M869.5 362.3h0M876.6 352.5h0M867.7 359.4h0M865.9 353.1h0M869.3 378.4h0M885.6 387.5h0M886.6 380.8h0M870.8 372.1h0M867.7 370.7h0M867.0 359.6h0M881.1 373.9h0M874.5 354.7h0M893.3 357.7h0M888.6 353.4h0M885.7 375.7h0M892.4 365.0h0M872.4 351.8h0M893.2 367.9h0M858.1 369.4h0M877.6 359.9h0M884.3 386.5h0M876.8 355.1h0M873.8 377.3h0M876.5 381.2h0M871.7 361.8h0M872.3 354.6h0M892.9 360.7h0M881.0 354.6h0M862.7 370.6h0M871.3 371.9h0M883.2 378.9h0M871.9 376.0h0M866.2 380.7h0M878.7 391.8h0M884.4 382.6h0M877.6 379.7h0M869.3 372.9h0M867.8 369.1h0M872.0 384.5h0M886.3 364.9h0M874.2 377.7h0M882.1 360.1h0M886.4 351.9h0M864.2 373.0h0M864.6 375.4h0M884.8 378.5h0M876.0 374.3h0M865.5 378.4h0M892.6 361.5h0M873.6 349.9h0M863.7 358.7h0M885.7 356.2h0M868.8 356.7h0M877.1 361.6h0M886.4 377.5h0M887.2 373.9h0M886.9 379.9h0M888.7 359.1h0M868.8 379.0h0M880.1 357.5h0M873.6 357.6h0M867.2 358.4h0M871.8 361.8h0M886.7 383.2h0M886.8 364.8h0M889.6 363.2h0M873.4 368.5h0M865.7 371.8h0M888.8 367.1h0M870.7 374.3h0M879.6 374.1h0M881.3 368.0h0M868.2 373.3h0M875.4 383.2h0M858.9 356.4h0M880.6 372.7h0M880.3 362.7h0M861.9 371.7h0M893.8 364.2h0M862.5 352.6h0M867.7 368.5h0M876.0 365.8h0M878.4 354.3h0M873.3 382.4h0M868.6 354.5h0M875.0 386.4h0M872.9 387.1h0M894.4 360.5h0M877.9 370.1h0M886.1 357.6h0M864.6 357.4h0M883.7 389.6h0M865.5 378.2h0M865.2 370.2h0M879.0 389.7h0M872.4 384.9h0M862.1 360.4h0M865.4 373.6h0M868.6 370.5h0M869.3 355.5h0M860.1 370.4h0M883.5 350.9h0M880.1 381.8h0M885.8 366.1h0M862.7 354.8h0M871.8 380.1h0M886.2 355.2h0M867.2 378.4h0M878.3 374.1h0M859.5 364.9h0M863.4 361.4h0M871.3 357.6h0M869.5 381.3h0M877.7 356.6h0M875.2 375.5h0M865.0 360.7h0M874.8 375.3h0" stroke="#8c6bb1" stroke-width="1.7" stroke-linecap="round" fill="none" stroke-opacity="0.85"/>
<path d="M881.8 391.4h0M880.1 383.7h0M877.5 358.2h0M862.1 364.5h0M879.0 379.9h0M881.1 355.9h0M866.7 381.9h0M878.5 352.2h0M884.7 365.6h0M887.3 382.9h0M863.1 374.0h0M878.9 374.2h0M884.3 350.7h0M875.5 384.2h0M890.4 360.6h0M883.5 378.5h0M881.5 371.1h0M881.7 381.4h0M875.4 369.4h0M864.5 372.3h0M866.8 356.5h0M878.2 377.1h0M882.2 377.4h0M882.0 378.3h0M885.0 381.7h0M880.8 362.1h0M864.7 375.3h0M873.6 349.7h0M873.7 383.2h0M880.0 374.1h0M877.7 360.8h0M880.7 357.6h0M874.8 352.1h0M861.5 356.4h0M893.0 368.1h0M877.8 381.4h0M879.6 359.1h0M862.1 372.9h0M877.4 389.9h0M859.0 378.2h0M858.0 361.8h0M861.9 370.0h0M883.3 385.0h0M882.2 394.5h0M883.6 376.0h0M862.4 371.3h0M868.4 383.1h0M866.2 370.3h0M883.4 376.8h0M866.7 361.7h0M870.8 356.3h0M865.5 374.7h0M880.6 351.9h0M873.2 378.0h0M886.9 374.6h0M865.6 366.4h0M862.7 372.0h0M869.8 360.6h0M884.6 379.5h0M883.7 364.4h0M873.9 384.8h0M877.0 368.5h0M868.9 358.5h0M874.0 352.3h0M862.0 376.9h0M879.8 386.9h0M864.6 371.2h0M869.3 352.8h0M881.5 351.1h0M863.7 379.3h0M880.0 354.9h0M885.0 383.4h0M874.7 373.3h0M869.7 356.6h0M894.4 362.1h0M867.3 376.3h0M881.4 354.5h0M880.1 385.9h0M888.6 377.4h0M886.9 373.6h0M868.0 380.3h0M878.7 383.8h0M877.8 368.9h0M863.6 376.7h0M859.7 367.0h0M876.3 358.9h0M871.7 354.3h0M871.8 358.2h0M890.2 362.2h0M880.7 358.2h0M883.6 369.7h0M873.7 359.3h0M883.4 382.2h0M876.5 358.3h0M868.9 362.1h0M881.9 358.4h0M866.6 358.4h0M882.5 379.6h0M879.6 374.7h0M883.9 367.2h0M873.0 361.7h0M862.7 371.1h0M875.2 374.7h0" stroke="#d8283c" stroke-width="1.7" stroke-linecap="round" fill="none" stroke-opacity="0.8"/>
<path d="M892.1 370.0h0M873.4 363.2h0M890.8 371.6h0M885.6 364.8h0M871.5 369.9h0M863.9 359.8h0M871.2 350.8h0M866.1 360.0h0M874.8 359.7h0M874.6 363.1h0M878.3 360.4h0M865.5 377.3h0M887.5 365.2h0M860.4 360.7h0M859.6 365.6h0M863.9 365.3h0M883.7 380.5h0M869.9 366.0h0M887.5 369.4h0M889.2 375.9h0M874.0 351.2h0M865.6 377.2h0M870.6 353.0h0M886.1 354.5h0M870.6 359.2h0M867.2 355.9h0M873.0 367.0h0M891.4 371.6h0M868.4 372.0h0M891.1 355.1h0M880.1 389.6h0M871.2 359.9h0M858.4 360.9h0M878.6 362.2h0M864.9 373.2h0M888.2 363.0h0M866.1 366.6h0M888.3 363.8h0M876.7 353.6h0M893.0 363.7h0M878.2 361.9h0M860.7 360.4h0M882.2 361.0h0M875.4 385.1h0M868.5 374.4h0M876.7 371.1h0M877.1 355.6h0M865.4 376.9h0M885.8 353.1h0M876.1 377.5h0M864.2 357.4h0M873.7 380.2h0M874.1 359.5h0M886.4 376.1h0M877.7 382.8h0M876.7 362.8h0M874.1 380.6h0M883.2 380.1h0M866.3 358.3h0M875.8 354.1h0M885.9 353.9h0M887.1 363.9h0M880.7 375.5h0M870.3 365.8h0M886.1 363.2h0M873.7 377.2h0M870.1 377.8h0M877.2 359.1h0M870.3 365.9h0M890.4 374.5h0M864.5 371.1h0M871.0 356.2h0M871.0 357.7h0M857.6 366.6h0M864.1 373.6h0M876.6 370.1h0M886.3 383.4h0M883.1 358.7h0M886.7 363.1h0M858.9 368.6h0M866.2 359.4h0M874.4 386.1h0M873.2 352.9h0M866.3 361.4h0M865.5 368.6h0M872.5 368.7h0M862.5 361.4h0M859.2 358.4h0M888.1 376.7h0M882.1 393.1h0M876.5 388.1h0M865.5 353.9h0M880.5 355.2h0M883.4 377.3h0M883.3 382.4h0M876.2 360.1h0M875.7 366.0h0M880.2 353.5h0M876.2 385.3h0M878.4 376.3h0M867.2 360.1h0M876.4 371.3h0M878.4 382.9h0M867.0 372.8h0M862.8 369.5h0M883.8 352.7h0M872.1 356.5h0M857.6 367.2h0M869.2 378.8h0M882.6 375.6h0M865.8 368.7h0M885.0 389.3h0M860.1 358.7h0M868.6 361.2h0M869.5 373.6h0M885.4 357.2h0M878.3 372.1h0M879.3 374.3h0M881.2 373.0h0M870.9 360.0h0M869.7 369.7h0M877.4 358.3h0M869.0 356.0h0M888.4 373.8h0M887.8 372.8h0M879.7 371.2h0M885.9 381.2h0M867.3 370.8h0M865.1 364.9h0M884.3 376.7h0M880.1 361.3h0M878.6 388.4h0M860.1 372.8h0M881.3 365.3h0M856.8 364.9h0M865.5 370.9h0M891.9 360.2h0M891.1 362.5h0M861.1 352.8h0M870.3 381.2h0M871.0 354.5h0M862.9 360.5h0M880.4 363.4h0M887.4 354.0h0M871.8 355.9h0M879.5 384.2h0M875.1 389.5h0M860.9 357.2h0M890.4 373.2h0M877.9 355.9h0M880.6 353.4h0M873.8 375.8h0M865.9 354.3h0M859.9 354.5h0M890.5 368.9h0M890.8 367.6h0M863.3 374.4h0M893.6 363.1h0M859.4 358.0h0M876.5 370.8h0M872.1 365.4h0M867.0 379.8h0M868.8 358.4h0" stroke="#8c6bb1" stroke-width="1.7" stroke-linecap="round" fill="none" stroke-opacity="0.85"/>
<path d="M869.4 365.6h0M887.6 371.2h0M891.3 358.9h0M881.2 355.4h0M860.4 375.1h0M878.4 355.0h0M880.0 364.2h0M886.1 389.5h0M868.8 383.0h0M862.6 356.8h0M858.4 364.6h0M866.6 352.6h0M881.8 356.6h0M882.5 375.1h0M869.1 372.6h0M882.2 393.3h0M881.1 383.2h0M877.7 357.7h0M866.2 363.7h0M878.5 356.0h0M887.1 384.4h0M874.2 358.7h0M891.3 373.9h0M859.8 366.1h0M881.7 373.0h0M864.8 359.5h0M891.4 360.3h0M873.2 374.4h0M863.6 364.2h0M865.1 373.4h0M887.2 384.6h0M865.3 373.2h0M880.0 352.3h0M883.1 377.0h0M866.1 366.5h0M876.9 391.4h0M882.2 386.7h0M879.8 359.3h0M883.6 374.0h0M875.8 363.3h0M874.9 361.1h0M879.4 373.5h0M874.3 353.8h0M885.1 379.4h0M875.2 361.0h0M869.2 377.7h0M886.5 355.4h0M880.3 377.9h0M862.3 372.7h0M882.0 377.6h0M861.5 369.9h0M891.4 370.8h0M869.4 365.8h0M883.6 385.3h0M869.5 376.1h0M880.4 376.7h0M875.1 389.2h0M886.8 382.3h0M878.8 380.3h0M881.0 352.4h0M872.3 366.3h0M874.4 371.1h0M865.1 372.4h0M862.8 375.7h0M877.0 367.7h0M881.5 373.3h0M878.8 360.1h0M883.7 362.0h0M885.7 380.4h0M861.4 355.5h0M883.0 383.2h0M879.9 358.0h0M874.6 360.3h0M881.1 371.9h0M884.7 373.5h0M873.3 376.8h0M870.2 373.9h0M885.8 390.6h0M877.1 390.4h0M875.4 375.2h0M860.4 359.0h0M881.1 360.7h0M879.4 359.3h0M877.9 363.8h0M863.8 363.9h0M871.6 372.1h0M874.1 367.9h0M873.5 360.0h0M878.5 370.6h0M873.4 367.8h0M887.9 358.3h0M886.1 373.2h0M868.9 374.0h0M883.8 376.7h0M863.6 380.6h0M878.8 376.8h0M872.2 351.4h0M863.1 365.4h0M886.6 354.0h0M871.8 372.6h0M886.1 355.4h0M863.8 367.4h0" stroke="#d8283c" stroke-width="1.7" stroke-linecap="round" fill="none" stroke-opacity="0.8"/>
<path d="M873.5 363.7h0M883.7 364.7h0M868.9 380.6h0M883.3 387.7h0M883.7 370.9h0M878.0 378.2h0M876.5 351.1h0M859.6 356.1h0M865.8 356.6h0M870.5 362.3h0M884.7 350.6h0M887.2 376.8h0M884.5 355.7h0M893.7 359.4h0M890.8 366.1h0M888.8 366.5h0M878.5 352.7h0M870.0 367.3h0M868.5 368.1h0M885.0 387.9h0M872.5 353.4h0M886.7 384.0h0M891.7 364.2h0M868.3 353.8h0M892.9 366.7h0M880.7 374.9h0M885.8 361.9h0M891.3 368.3h0M870.1 357.7h0M883.3 387.0h0M874.7 373.5h0M885.7 385.6h0M879.7 354.9h0M885.9 387.7h0M880.0 382.9h0M860.6 360.0h0M865.0 371.3h0M869.1 357.8h0M891.0 372.4h0M869.6 380.7h0M879.6 356.3h0M894.1 359.8h0M866.8 380.6h0M876.9 371.9h0M888.1 365.0h0M876.0 384.5h0M867.2 372.8h0M878.4 367.1h0M876.1 360.7h0M864.4 370.7h0M861.0 356.2h0M890.8 362.2h0M888.2 374.4h0M888.7 363.0h0M866.7 380.7h0M878.2 366.5h0M884.4 382.7h0M887.1 367.3h0M888.1 367.6h0M890.1 354.3h0M868.4 382.2h0M878.5 392.2h0M874.8 379.9h0M881.4 371.6h0M889.3 353.6h0M884.8 372.6h0M887.9 375.3h0M866.9 373.9h0M862.7 374.9h0M883.4 374.9h0M862.4 372.4h0M881.2 380.8h0M863.0 372.4h0M887.3 361.1h0M888.1 357.6h0M867.5 353.0h0M890.1 356.7h0M870.9 364.3h0M892.7 354.7h0M881.2 366.0h0M890.5 368.0h0M865.4 362.2h0M866.0 369.4h0M879.2 358.5h0M863.8 375.9h0M869.8 384.2h0M886.0 363.6h0M880.5 361.9h0M884.2 350.9h0M873.2 376.1h0M884.3 349.8h0M870.6 378.5h0M878.0 378.5h0M861.1 362.0h0M875.1 388.4h0M885.1 355.9h0M871.3 376.8h0M865.2 349.9h0M867.7 381.3h0M860.8 368.3h0M887.1 376.9h0M864.1 352.0h0M860.0 370.3h0M873.0 365.1h0M874.1 386.9h0M890.1 361.4h0M869.5 363.2h0M882.6 362.8h0M866.6 370.3h0M857.8 362.2h0M875.1 367.3h0M875.9 388.3h0M865.8 361.6h0M866.9 358.3h0M880.9 391.5h0M891.6 369.1h0M869.0 385.0h0M871.5 351.7h0M878.5 367.2h0M867.7 355.2h0M887.0 385.9h0M869.1 360.3h0M860.4 363.1h0M872.2 360.3h0M877.7 364.5h0M877.9 379.4h0M864.2 378.9h0M888.6 354.5h0M877.5 352.1h0M870.7 377.9h0M883.0 375.7h0M861.8 356.1h0M864.7 365.6h0M864.6 357.4h0M869.1 355.9h0M871.1 350.6h0M866.0 350.6h0M865.6 378.5h0M863.7 363.8h0M859.0 365.5h0M887.1 366.6h0M877.5 362.9h0M870.6 354.3h0M883.9 372.2h0M862.7 363.3h0M869.1 361.3h0M868.8 356.2h0M884.3 359.9h0M884.2 363.9h0M882.9 354.1h0M874.7 386.6h0M877.3 378.4h0M859.9 363.3h0M875.3 382.4h0M863.9 378.1h0M884.5 375.2h0M878.4 389.0h0M873.5 362.4h0M865.7 373.4h0M885.7 369.4h0M881.7 379.3h0M886.6 386.9h0" stroke="#8c6bb1" stroke-width="1.7" stroke-linecap="round" fill="none" stroke-opacity="0.85"/>
<path d="M878.0 356.7h0M879.9 363.2h0M862.9 364.2h0M874.9 355.6h0M873.5 367.6h0M864.1 356.4h0M873.7 349.1h0M882.2 361.2h0M883.1 387.7h0M866.5 359.6h0M883.2 375.5h0M882.3 387.9h0M861.6 354.9h0M865.2 369.3h0M884.5 350.5h0M880.6 355.1h0M878.4 374.5h0M875.8 363.2h0M885.4 383.9h0M884.5 376.7h0M876.2 354.5h0M891.5 354.9h0M882.0 384.6h0M869.1 367.6h0M889.9 367.9h0M888.0 361.7h0M877.4 356.7h0M877.4 385.1h0M860.4 360.4h0M876.3 358.8h0M881.7 351.8h0M884.7 382.9h0M877.7 357.0h0M879.0 382.3h0M879.5 374.7h0M880.0 387.4h0M859.2 366.7h0M882.2 365.1h0M869.6 373.8h0M869.9 355.3h0M869.0 371.8h0M866.4 378.9h0M861.4 370.6h0M875.8 364.7h0M883.3 375.2h0M883.2 373.4h0M885.0 375.5h0M862.8 368.6h0M880.3 363.6h0M882.0 359.1h0M880.0 379.3h0M885.7 377.5h0M860.6 374.3h0M870.5 361.8h0M886.4 378.1h0M864.7 365.3h0M861.5 375.7h0M879.1 363.8h0M858.2 372.8h0M879.5 365.2h0M859.9 359.2h0M887.0 385.6h0M877.5 369.6h0M886.6 379.3h0M864.3 378.4h0M885.7 378.1h0M876.8 384.5h0M888.1 357.4h0M864.6 361.0h0M883.0 352.2h0M882.3 384.8h0M877.4 388.4h0M879.4 359.1h0M879.7 360.1h0M886.5 357.7h0M866.9 372.2h0M881.8 381.2h0M884.1 373.1h0M873.6 377.7h0M869.3 353.5h0M891.8 360.1h0M876.0 377.8h0M879.4 356.1h0M859.0 362.5h0M879.7 363.8h0M862.5 363.1h0M862.8 352.9h0M864.3 369.1h0M858.8 377.2h0M864.6 374.8h0M883.8 352.2h0M883.1 380.3h0M887.8 379.8h0M883.8 367.9h0M885.8 379.0h0M863.5 368.7h0M882.1 390.8h0M870.2 355.9h0M861.1 378.0h0M883.7 381.5h0M890.6 357.0h0M875.2 349.6h0M887.8 367.3h0" stroke="#d8283c" stroke-width="1.7" stroke-linecap="round" fill="none" stroke-opacity="0.8"/>
<path d="M875.3 353.7h0M882.8 360.0h0M879.3 391.9h0M893.9 367.4h0M875.6 354.5h0M891.2 368.2h0M871.6 370.5h0M884.1 387.5h0M885.6 355.7h0M885.5 364.4h0M884.0 356.4h0M869.2 372.5h0M872.0 372.0h0M874.0 369.3h0M886.2 381.7h0M866.1 375.9h0M864.8 373.8h0M882.1 350.7h0M864.2 357.6h0M892.5 367.7h0M869.4 374.4h0M862.4 365.1h0M870.3 384.9h0M867.0 350.4h0M889.5 355.3h0M887.1 383.0h0M873.8 389.4h0M880.7 364.5h0M862.5 362.4h0M893.1 362.0h0M891.3 373.7h0M869.0 371.6h0M878.3 373.2h0M881.6 373.2h0M883.3 353.5h0M882.7 390.9h0M870.4 358.5h0M867.2 357.9h0M866.6 363.9h0M865.3 363.8h0M882.5 391.0h0M872.6 362.3h0M887.9 377.5h0M881.2 350.3h0M872.1 364.0h0M881.1 388.1h0M867.1 383.2h0M879.5 376.8h0M876.9 355.1h0M889.6 364.6h0M883.5 355.8h0M883.0 373.8h0M868.8 381.5h0M880.8 365.2h0M889.6 373.0h0M864.2 352.7h0M863.7 359.9h0M892.3 367.7h0M874.9 353.4h0M858.2 359.2h0M882.7 385.2h0M862.6 354.3h0M866.3 362.8h0M869.6 375.3h0M874.9 364.7h0M875.7 369.2h0M879.3 365.5h0M887.1 369.0h0M875.4 379.0h0M876.9 368.0h0M866.0 380.1h0M869.1 353.0h0M865.0 357.4h0M873.6 354.0h0M862.7 355.5h0M869.0 371.7h0M887.0 373.2h0M872.0 363.6h0M867.7 363.5h0M860.1 365.1h0M891.5 362.9h0M873.2 355.6h0M880.6 392.1h0M875.4 380.6h0M867.6 360.0h0M864.0 359.3h0M861.9 370.2h0M864.2 371.2h0M871.3 363.4h0M867.9 380.5h0M864.4 371.8h0M874.3 377.8h0M873.1 354.7h0M883.3 364.5h0M874.4 381.3h0M879.2 384.9h0M869.9 382.6h0M875.2 374.8h0M867.2 374.0h0M870.1 371.9h0M889.8 359.1h0M878.3 352.1h0M881.3 351.9h0M887.3 352.6h0M890.2 375.7h0M885.2 360.5h0M882.9 354.0h0M879.7 377.9h0M871.1 354.8h0M874.0 364.1h0M862.4 356.5h0M878.4 364.1h0M886.2 383.8h0M878.5 361.3h0M881.6 367.5h0M870.8 350.0h0M881.5 384.2h0M874.4 368.6h0M861.2 354.7h0M880.2 387.2h0M870.3 352.8h0M879.5 384.1h0M887.9 353.4h0M864.2 376.4h0M872.7 362.6h0M888.0 364.3h0M884.5 352.2h0M864.2 375.8h0M862.0 358.2h0M869.0 350.7h0M864.9 366.2h0M873.2 372.9h0M889.6 355.3h0M877.3 361.1h0M885.9 350.3h0M883.8 376.6h0M883.7 369.7h0M871.7 368.0h0M865.4 354.5h0M874.2 357.0h0M866.5 365.6h0M867.6 350.8h0M872.2 354.6h0M862.5 372.2h0M877.8 381.6h0M874.2 359.1h0M866.4 363.6h0M864.0 353.7h0M873.7 373.5h0M874.5 374.1h0M876.5 368.8h0M890.1 364.8h0M872.8 358.5h0M882.7 352.3h0M867.6 379.6h0M874.0 360.3h0M873.4 381.0h0M882.5 393.4h0M866.4 364.4h0M876.7 355.1h0M872.8 353.5h0M889.5 372.0h0M867.9 360.1h0" stroke="#8c6bb1" stroke-width="1.7" stroke-linecap="round" fill="none" stroke-opacity="0.85"/>
<path d="M879.0 353.7h0M874.1 375.5h0M878.0 371.6h0M869.2 376.6h0M886.5 379.0h0M880.1 378.0h0M871.3 369.0h0M871.6 374.2h0M869.8 373.3h0M883.0 382.0h0M882.3 374.8h0M881.0 366.2h0M861.0 356.3h0M867.5 369.1h0M863.4 363.0h0M875.9 361.3h0M882.9 381.7h0M870.1 375.0h0M885.1 380.3h0M880.7 378.7h0M890.6 357.9h0M882.6 381.6h0M860.9 370.5h0M882.8 393.1h0M882.5 382.0h0M880.2 352.3h0M879.3 356.0h0M861.1 375.0h0M861.8 362.8h0M865.0 374.4h0M879.8 381.2h0M878.4 355.3h0M875.9 390.7h0M884.1 378.1h0M884.1 380.5h0M879.7 381.8h0M893.5 366.2h0M872.0 361.8h0M880.5 354.1h0M881.8 382.0h0M868.2 369.0h0M885.5 354.7h0M865.7 376.4h0M874.9 370.5h0M882.2 351.2h0M869.6 367.5h0M868.3 352.2h0M867.5 374.2h0M874.5 359.1h0M886.1 378.0h0M875.2 359.7h0M877.5 362.1h0M887.8 363.4h0M870.1 360.8h0M871.7 362.4h0M865.2 371.4h0M876.4 362.9h0M885.6 384.1h0M863.1 374.4h0M866.4 362.5h0M890.2 354.6h0M880.8 361.7h0M881.4 351.5h0M880.1 382.4h0M877.2 355.0h0M877.6 360.1h0M862.3 371.5h0M862.9 365.5h0M877.0 359.9h0M866.5 359.1h0M879.3 387.1h0M879.3 376.5h0M875.4 351.3h0M881.9 375.9h0M882.2 374.5h0M859.7 365.3h0M858.3 367.7h0M868.1 382.5h0M881.1 382.4h0M892.5 368.6h0M881.5 382.2h0M881.6 355.1h0M882.7 377.7h0M860.8 356.1h0M862.3 355.6h0M879.7 361.1h0M891.1 357.0h0M878.4 378.4h0M882.7 376.1h0M863.2 372.3h0M870.5 381.9h0M873.5 387.7h0M881.6 380.7h0M885.5 387.1h0M871.1 353.9h0M880.2 353.6h0M867.0 369.9h0M867.5 350.7h0M880.5 376.6h0M865.9 370.7h0M879.1 360.7h0M885.9 390.5h0" stroke="#d8283c" stroke-width="1.7" stroke-linecap="round" fill="none" stroke-opacity="0.8"/>
<path d="M865.9 367.5h0M859.1 372.5h0M870.1 377.3h0M864.4 358.1h0M877.8 373.5h0M886.8 354.2h0M878.2 362.8h0M889.4 358.4h0M883.0 358.2h0M867.5 372.8h0M869.6 370.0h0M879.1 356.4h0M865.8 366.1h0M879.9 373.9h0M893.5 360.5h0M881.9 367.3h0M882.8 377.2h0M876.0 373.5h0M884.5 386.4h0M867.8 360.1h0M862.3 372.3h0M887.9 375.0h0M875.4 352.0h0M886.7 381.3h0M872.8 358.1h0M889.0 356.5h0M861.4 365.7h0M887.4 357.8h0M862.7 368.8h0M865.8 375.1h0M877.4 355.2h0M882.3 394.3h0M884.7 360.7h0M872.4 375.5h0M857.9 362.3h0M871.6 370.2h0M875.6 357.1h0M880.0 361.8h0M857.9 357.6h0M886.9 379.1h0M890.5 365.1h0M877.2 380.3h0M886.1 370.6h0M888.2 374.6h0M882.7 371.1h0M893.1 361.8h0M891.3 355.8h0M884.2 392.5h0M882.2 367.8h0M873.1 380.3h0M884.0 377.8h0M877.7 372.9h0M870.3 370.2h0M874.5 357.9h0M871.9 376.6h0M882.8 394.5h0M874.0 351.5h0M860.1 372.4h0M880.6 365.3h0M857.7 364.6h0M870.4 370.9h0M869.2 385.3h0M877.3 375.4h0M863.3 363.2h0M863.9 363.8h0M892.0 368.2h0M883.4 375.7h0M871.7 372.3h0M876.6 376.0h0M862.6 371.7h0M872.1 386.4h0M878.4 375.1h0M874.1 387.0h0M879.9 361.7h0M886.8 380.6h0M870.9 359.0h0M889.9 372.6h0M888.5 361.7h0M874.8 356.5h0M857.2 359.9h0M867.3 365.9h0M885.5 382.6h0M875.9 383.6h0M867.5 367.2h0M868.6 373.0h0M869.2 374.3h0M887.7 373.8h0M877.3 380.0h0M886.3 366.6h0M871.6 349.9h0M893.5 364.7h0M890.0 359.4h0M879.9 393.2h0M863.4 377.9h0M867.9 364.1h0M862.2 365.6h0M890.0 372.2h0M870.3 380.8h0M876.7 365.6h0M866.2 352.6h0M876.9 361.3h0M890.2 375.2h0M890.6 361.1h0M884.2 360.1h0M878.8 389.4h0M860.7 357.7h0M881.3 354.1h0M876.4 358.7h0M886.2 356.3h0M880.9 380.7h0M882.1 385.8h0M893.0 366.5h0M881.6 380.5h0M890.7 356.9h0M886.8 369.2h0M883.1 385.6h0M867.7 374.2h0M873.3 386.6h0M877.3 362.3h0M863.7 366.3h0M876.8 371.9h0M879.7 359.5h0M868.7 378.4h0M862.6 357.7h0M862.8 363.4h0M874.6 357.6h0M874.0 385.0h0M866.6 368.7h0M878.0 366.8h0M865.2 360.3h0M878.4 377.2h0M880.5 386.6h0M888.2 360.1h0M887.8 372.1h0M873.0 370.5h0M862.6 375.4h0M885.0 362.1h0M872.7 355.8h0M878.5 380.4h0M870.1 354.2h0M868.7 367.9h0M876.9 362.7h0M883.6 364.8h0M869.6 354.6h0M868.9 350.2h0M879.6 351.6h0M862.7 371.9h0M873.4 364.2h0M878.8 369.0h0M861.3 358.4h0M874.8 367.7h0M885.6 356.9h0M873.7 356.2h0M861.8 364.5h0M872.5 368.7h0M867.9 382.8h0M870.0 356.1h0M884.1 354.6h0M874.1 379.9h0M882.3 386.6h0M881.5 389.9h0M876.4 360.1h0" stroke="#8c6bb1" stroke-width="1.7" stroke-linecap="round" fill="none" stroke-opacity="0.85"/>
<path d="M879.0 385.4h0M878.5 356.0h0M881.7 363.5h0M868.3 370.7h0M885.4 375.7h0M893.4 364.6h0M871.4 377.7h0M881.1 365.7h0M875.9 389.5h0M879.4 356.9h0M889.3 351.9h0M882.3 385.8h0M878.4 368.0h0M882.1 387.7h0M883.9 359.3h0M885.3 385.7h0M871.8 373.1h0M875.8 354.5h0M876.5 355.7h0M877.4 357.8h0M880.9 356.8h0M880.7 356.1h0M882.1 383.7h0M885.1 360.6h0M881.7 360.3h0M879.3 353.3h0M888.0 361.3h0M864.9 373.9h0M876.2 373.7h0M875.8 361.5h0M861.5 362.3h0M883.6 385.6h0M886.5 371.0h0M862.7 372.4h0M868.2 370.2h0M880.3 354.0h0M877.0 359.9h0M865.3 372.9h0M884.2 395.5h0M877.2 380.9h0M885.7 387.5h0M886.9 366.5h0M891.8 361.2h0M867.2 382.0h0M883.5 379.9h0M884.9 379.2h0M878.7 359.2h0M859.5 370.5h0M883.8 379.3h0M864.7 381.1h0M886.5 390.0h0M880.2 378.2h0M876.7 360.0h0M873.5 386.4h0M879.1 358.2h0M890.7 355.2h0M885.7 355.6h0M865.6 364.0h0M876.2 351.6h0M876.9 368.5h0M876.2 355.7h0M862.1 359.3h0M875.5 360.9h0M880.4 362.4h0M893.1 361.8h0M886.7 374.4h0M875.4 357.7h0M884.6 385.0h0M880.3 387.9h0M879.8 381.3h0M865.1 372.5h0M885.0 376.0h0M875.1 377.7h0M862.3 373.1h0M879.5 351.1h0M864.7 373.4h0M879.8 351.9h0M880.5 354.3h0M867.7 374.2h0M861.6 369.6h0M883.9 381.8h0M887.5 374.8h0M891.1 353.7h0M882.9 373.3h0M878.4 363.7h0M863.8 373.2h0M873.6 358.7h0M880.3 382.3h0M876.6 371.5h0M882.3 380.5h0M885.2 373.5h0M861.2 372.0h0M865.8 368.2h0M883.4 393.4h0M882.9 381.8h0M880.7 380.0h0M872.2 368.5h0M873.2 365.7h0M878.7 385.3h0M885.3 361.9h0M868.4 368.4h0M868.2 364.9h0M882.3 359.7h0" stroke="#d8283c" stroke-width="1.7" stroke-linecap="round" fill="none" stroke-opacity="0.8"/>
<path d="M888.7 364.6h0M875.2 384.7h0M887.2 364.6h0M887.9 373.4h0M870.3 372.0h0M884.0 371.5h0M889.0 354.7h0M860.0 359.4h0M867.4 381.8h0M871.4 372.6h0M872.9 351.0h0M883.6 370.5h0M863.0 360.0h0M872.3 351.3h0M875.3 366.1h0M882.0 378.0h0M883.3 389.7h0M882.1 385.4h0M863.1 368.9h0M875.7 375.5h0M885.7 373.7h0M886.9 354.2h0M866.2 371.6h0M884.9 362.7h0M894.3 363.0h0M866.9 368.6h0M878.1 356.7h0M884.5 364.8h0M878.0 364.8h0M886.9 359.6h0M879.8 367.4h0M878.9 363.5h0M857.8 366.8h0M881.3 381.6h0M889.2 356.2h0M864.6 363.9h0M883.3 382.0h0M865.3 368.4h0M864.4 362.5h0M884.0 364.0h0M888.7 360.0h0M870.6 354.4h0M880.3 353.2h0M862.2 377.1h0M868.2 364.6h0M868.9 376.6h0M876.8 354.7h0M890.6 361.2h0M863.2 376.5h0M875.5 372.9h0M886.3 355.7h0M887.8 370.2h0M883.4 391.9h0M871.4 385.8h0M866.5 383.0h0M870.6 355.8h0M878.4 369.8h0M875.2 386.3h0M865.0 371.1h0M888.0 354.1h0M881.9 389.0h0M880.0 368.2h0M863.3 370.2h0M868.9 368.1h0M883.4 394.0h0M868.1 374.7h0M892.1 366.3h0M889.7 366.7h0M885.7 390.4h0M879.6 366.8h0M879.8 358.0h0M885.0 352.6h0M864.1 367.1h0M882.9 381.8h0M867.5 350.0h0M872.4 366.1h0M865.7 374.1h0M868.5 362.7h0M879.7 354.1h0M867.9 370.7h0M877.8 362.6h0M868.8 361.7h0M877.7 377.7h0M867.3 355.4h0M869.0 357.0h0M878.8 353.3h0M865.4 363.5h0M890.2 355.6h0M870.9 370.3h0M866.8 354.9h0M890.9 365.6h0M875.9 389.8h0M880.2 389.8h0M886.5 389.6h0M883.5 356.6h0M874.5 383.5h0M887.2 367.1h0M878.5 391.6h0M888.1 375.1h0M860.1 354.9h0M869.9 381.1h0M865.3 366.0h0M892.8 363.4h0M877.0 388.8h0M878.7 377.5h0M882.8 374.1h0M892.9 363.8h0M886.7 368.1h0M879.8 387.4h0M876.5 375.8h0M885.1 387.3h0M887.0 370.0h0M870.7 383.2h0M867.0 367.5h0M872.0 353.2h0M884.9 388.7h0M868.9 369.2h0M876.7 361.7h0M884.0 350.1h0M864.6 362.5h0M876.2 379.1h0M881.9 363.3h0M878.9 381.3h0M883.6 389.0h0M887.0 382.0h0M858.1 365.2h0M881.3 356.9h0M883.5 392.6h0M884.3 393.4h0M876.7 388.5h0M885.0 382.7h0M863.2 356.1h0M892.1 355.9h0M874.0 364.2h0M866.6 358.3h0M868.2 374.1h0M886.8 379.0h0M868.9 356.4h0M878.1 355.6h0M865.0 366.7h0M881.0 368.7h0M885.4 382.0h0M890.3 363.2h0M888.1 366.3h0M880.1 369.1h0M864.0 358.5h0M877.8 390.3h0M886.5 385.3h0M886.4 378.2h0M869.3 375.9h0M865.5 377.4h0M881.9 384.0h0M882.6 359.8h0M887.1 369.9h0M872.6 356.7h0M884.4 393.1h0M880.3 367.4h0M879.6 376.5h0M864.8 356.8h0M876.2 353.5h0M888.8 364.0h0M874.9 354.1h0M864.7 353.1h0" stroke="#8c6bb1" stroke-width="1.7" stroke-linecap="round" fill="none" stroke-opacity="0.85"/>
<path d="M884.6 381.3h0M884.5 381.3h0M881.6 385.4h0M882.9 377.5h0M880.5 386.5h0M885.3 382.0h0M885.8 381.0h0M880.7 379.4h0M883.1 381.0h0M884.7 381.8h0M882.7 385.4h0M881.6 381.7h0M886.3 376.4h0M882.7 379.4h0M882.0 376.3h0M881.3 375.9h0M883.3 382.1h0M879.8 377.6h0M882.9 382.2h0M884.6 381.6h0M881.2 383.9h0M881.8 380.8h0M881.2 380.1h0M881.9 379.9h0M879.3 383.0h0M882.9 386.1h0M880.3 380.9h0M879.6 384.8h0M883.5 379.8h0M883.3 382.3h0M883.7 381.0h0M884.7 377.8h0M885.4 382.2h0M883.4 378.8h0M883.1 380.2h0M883.8 379.2h0M885.0 379.7h0M883.5 383.4h0M882.6 381.2h0M882.0 384.7h0M880.0 377.2h0M886.7 383.2h0M884.4 377.2h0M880.8 379.0h0M881.6 379.8h0M883.6 377.8h0M883.4 387.0h0M883.4 382.1h0M879.0 377.9h0M885.0 382.2h0M884.9 377.3h0M886.7 378.8h0M884.2 385.0h0M884.2 376.1h0M881.8 375.8h0M883.1 384.6h0M880.4 378.3h0M885.7 380.9h0M884.5 379.5h0M880.8 379.2h0M880.5 354.4h0M878.5 360.6h0M880.3 358.3h0M878.5 352.3h0M874.8 359.6h0M878.4 358.4h0M876.7 358.1h0M876.9 360.9h0M877.6 358.2h0M875.8 359.1h0M879.1 360.7h0M878.9 358.2h0M878.7 355.5h0M878.2 357.1h0M876.9 358.1h0M877.1 358.5h0M880.2 358.8h0M877.9 354.6h0M878.4 353.3h0M878.4 356.7h0M879.4 359.0h0M875.5 358.1h0M880.9 353.5h0M878.3 355.8h0M878.6 360.9h0M878.5 355.5h0M878.6 356.6h0M878.4 355.4h0M880.4 356.8h0M878.0 356.4h0M879.4 356.5h0M879.6 358.2h0M880.4 357.6h0M879.5 355.6h0M877.0 358.7h0M876.0 360.9h0M879.1 355.0h0M876.9 353.8h0M877.5 357.6h0M877.2 359.1h0" stroke="#e41a2c" stroke-width="1.8" stroke-linecap="round" fill="none"/>
<path d="M891.5 361.4h0M888.7 353.7h0M888.8 354.9h0M881.3 355.0h0M892.6 358.0h0M889.8 362.8h0M890.5 359.4h0M886.9 364.9h0M889.8 367.5h0M891.8 355.5h0M885.0 369.5h0M891.5 367.4h0M888.6 370.0h0M887.3 362.0h0M891.7 369.1h0M886.5 349.9h0M889.1 351.3h0M882.4 357.8h0M887.5 364.5h0M887.4 353.9h0M892.2 358.8h0M893.8 360.1h0M888.5 363.6h0M884.8 361.3h0M887.8 359.2h0M887.2 370.6h0M888.8 356.0h0M890.7 368.2h0M890.6 358.5h0M882.2 353.7h0M886.1 361.9h0M893.1 366.5h0M885.9 364.3h0M886.2 369.6h0M892.6 363.6h0M886.8 363.5h0M889.0 360.7h0M886.3 359.1h0M882.8 356.8h0M889.2 364.3h0M882.0 353.1h0M889.0 360.6h0M895.1 362.7h0M883.1 351.5h0M890.8 356.9h0M888.6 358.3h0M890.2 369.0h0M893.2 359.1h0M881.7 353.6h0M888.8 366.1h0M888.9 361.5h0M887.1 355.8h0M892.8 368.0h0M889.4 353.5h0M892.6 360.2h0M882.5 357.6h0M892.7 368.0h0M890.3 371.3h0M889.5 358.0h0M887.3 358.9h0M884.4 351.9h0M884.1 359.0h0M883.9 362.0h0M892.0 354.8h0M886.3 354.7h0M887.6 353.6h0M881.6 355.4h0M894.0 363.6h0M887.6 362.5h0M891.5 354.4h0M882.5 364.6h0M885.0 370.5h0M890.8 363.2h0M888.9 359.6h0M882.8 351.6h0M887.3 358.5h0M889.9 360.5h0M891.2 354.8h0M883.4 363.0h0M887.9 368.8h0M893.6 361.3h0M887.1 355.6h0M887.0 363.3h0M892.0 355.7h0M887.6 351.4h0M887.4 373.9h0M888.4 359.6h0M892.2 364.0h0M893.0 356.6h0M883.9 351.9h0M892.7 362.1h0M884.9 368.3h0M883.7 363.2h0M883.0 352.5h0M884.8 369.9h0M892.2 357.2h0M888.0 353.3h0M886.0 368.5h0M889.5 370.9h0M889.9 371.4h0M886.5 366.3h0M887.1 362.0h0M890.4 371.0h0M882.1 353.7h0M889.6 355.3h0M886.3 359.9h0M884.1 366.2h0M889.2 371.1h0M894.2 366.5h0M883.4 355.2h0M894.1 360.3h0M890.0 353.7h0M886.2 351.4h0M884.7 357.6h0M894.1 363.4h0M889.0 351.2h0M890.2 356.0h0M889.4 356.9h0M890.3 352.5h0M889.5 356.8h0M888.9 367.8h0M888.9 359.3h0M889.8 368.3h0M884.3 359.7h0M884.9 363.3h0M883.3 361.3h0M887.8 366.6h0M889.3 354.7h0M887.9 354.8h0M881.9 353.9h0M895.0 360.5h0M891.9 355.6h0M885.4 369.2h0M888.8 357.1h0M885.2 359.7h0M891.4 363.0h0M886.6 356.5h0M884.6 348.8h0M889.7 363.5h0M883.7 361.3h0M888.0 373.5h0M888.1 360.4h0M889.1 349.7h0M892.7 361.1h0M885.9 371.3h0M886.6 351.1h0M888.8 360.8h0M882.3 351.3h0M888.6 352.3h0M883.5 351.3h0M881.2 356.6h0M889.3 362.2h0M894.5 362.9h0M882.5 358.8h0M892.9 359.9h0M885.8 349.1h0M883.2 363.0h0M882.2 359.2h0M887.7 360.8h0M888.2 356.1h0M887.3 374.2h0M894.2 364.2h0M884.0 355.8h0M886.8 351.5h0M888.8 357.8h0M890.6 366.0h0M883.2 352.6h0M887.3 354.9h0M885.0 350.6h0M888.0 366.7h0M883.8 363.4h0M887.0 362.8h0M889.9 368.3h0M887.8 352.4h0M888.1 364.7h0M889.6 369.1h0M892.9 363.3h0M890.9 368.4h0M887.4 366.9h0M884.6 368.5h0M881.8 356.6h0M881.2 357.0h0M891.9 353.6h0M890.3 358.0h0M887.2 362.6h0M884.2 363.9h0M884.2 351.7h0M883.0 352.4h0M889.0 353.4h0M887.1 372.6h0M892.5 359.6h0M889.9 351.3h0M890.6 353.4h0M888.6 360.0h0M886.7 371.7h0M894.7 363.9h0M884.5 350.4h0M884.0 365.9h0M884.6 369.2h0M884.7 349.8h0M891.3 353.6h0M893.5 362.2h0M893.4 364.2h0M884.7 355.7h0M888.7 371.4h0M886.4 361.2h0M892.0 361.2h0M887.0 373.9h0M885.7 357.1h0M890.1 361.8h0M885.5 359.9h0M885.1 365.0h0M892.6 355.3h0M893.3 359.1h0M884.3 355.0h0M888.9 364.7h0M884.2 351.0h0M888.0 367.3h0M890.6 370.2h0M884.3 357.6h0M889.8 356.8h0M883.6 352.5h0M886.5 368.0h0M888.5 358.5h0M884.4 356.2h0M892.2 370.1h0M889.3 369.2h0M887.6 352.8h0M884.7 350.7h0M888.2 361.9h0M886.7 367.1h0M893.9 362.6h0M889.2 350.3h0M885.9 359.4h0M881.8 354.8h0M887.8 361.0h0M888.5 365.9h0M887.5 365.7h0M884.5 368.2h0M885.7 370.3h0M884.5 367.7h0M887.5 369.1h0M892.9 357.9h0M890.3 355.6h0M880.9 356.9h0M892.0 365.5h0M884.6 357.7h0M891.5 368.2h0M886.4 356.9h0M886.5 350.6h0M889.9 363.6h0M883.1 353.5h0M887.5 369.2h0M888.1 358.0h0M890.4 369.0h0M883.8 357.3h0M887.3 372.9h0M888.1 367.3h0M882.9 356.3h0M887.2 370.9h0M888.4 371.4h0M882.5 367.7h0M893.5 360.0h0M883.1 358.2h0M889.4 368.7h0M888.9 374.8h0M884.9 354.6h0M889.0 370.9h0M885.2 350.4h0M888.2 354.7h0M888.9 371.3h0M889.9 360.1h0M895.4 362.2h0M884.2 361.1h0M890.0 364.2h0M884.4 352.4h0M883.7 353.2h0M890.0 354.5h0M882.3 356.4h0M883.1 354.4h0M888.2 352.9h0M884.9 357.7h0M888.1 355.6h0M894.9 363.6h0M886.0 351.3h0M889.3 350.6h0M888.2 371.4h0M893.8 364.9h0M888.9 354.7h0M888.7 373.7h0M891.9 362.5h0M888.2 354.4h0M886.0 364.2h0M890.6 360.2h0M881.5 355.9h0M885.4 356.0h0M891.6 356.5h0M893.0 358.8h0M886.7 357.3h0M886.7 363.6h0M889.6 361.1h0M886.6 361.8h0M885.1 355.9h0M893.8 366.1h0M889.4 362.7h0M892.3 363.0h0M886.4 363.7h0M893.0 361.6h0M890.9 365.1h0M884.7 358.7h0M893.3 363.8h0M882.3 355.5h0M884.7 359.5h0M884.9 357.2h0M889.7 366.9h0M886.3 355.6h0M887.7 367.9h0M891.6 355.4h0M889.9 371.4h0M886.5 358.2h0M884.6 368.4h0M885.9 367.0h0M884.6 349.8h0M883.8 359.8h0M891.6 363.4h0M891.6 353.8h0M894.3 360.8h0M884.3 349.6h0M883.5 356.6h0M890.9 360.3h0M886.7 360.1h0M887.4 352.5h0M889.2 367.4h0M883.6 354.2h0M892.0 365.1h0M888.9 365.9h0M892.1 362.4h0M887.5 366.5h0M891.9 354.1h0M881.4 358.4h0M885.6 352.0h0M885.9 353.2h0M890.1 367.1h0M887.7 357.4h0M889.2 364.3h0M891.7 357.6h0M886.9 370.8h0M883.6 352.9h0M888.4 363.3h0M890.4 355.9h0M886.3 356.5h0M881.9 359.0h0M888.9 365.2h0M888.5 356.2h0M887.6 357.3h0M884.0 364.3h0M888.6 353.2h0M884.6 365.8h0M888.8 372.7h0M886.9 361.2h0M887.9 371.4h0M884.7 361.3h0M888.9 369.0h0M885.7 358.5h0M886.2 358.8h0M886.3 357.1h0M883.7 355.3h0M882.6 355.9h0M888.6 369.2h0M889.3 353.0h0M886.6 366.7h0M888.9 358.8h0M888.4 360.0h0M892.6 363.3h0M884.0 353.9h0M885.2 368.6h0M892.4 358.9h0M894.1 365.3h0M884.6 360.1h0M895.2 362.3h0M883.2 356.8h0M885.8 354.5h0M892.4 362.6h0M893.5 363.9h0M890.2 367.7h0M893.1 357.2h0M887.7 365.3h0M886.3 350.1h0M893.7 366.1h0M891.5 357.8h0M882.6 359.8h0M885.3 366.9h0M888.3 355.9h0M887.5 356.3h0M889.6 365.0h0M885.8 359.3h0M893.9 358.6h0M891.5 358.9h0M885.9 363.8h0M891.9 367.9h0M885.8 351.2h0M883.1 365.8h0M889.0 370.2h0M887.4 364.1h0M885.8 352.1h0M887.5 362.2h0M884.9 366.0h0M888.1 367.1h0M892.3 362.2h0M883.5 355.3h0M890.6 371.5h0M890.3 365.2h0M885.4 370.7h0M893.3 359.8h0M884.3 366.6h0M893.7 365.3h0M892.4 357.6h0M892.5 358.2h0M889.5 363.8h0M891.9 360.1h0M896.8 365.0h0" stroke="#1f9e4f" stroke-width="1.9" stroke-linecap="round" fill="none"/>
<path d="M885.3 363.6L869.8 370.4L872.3 377.3Z" fill="#000"/>
<rect x="1118.6" y="189" width="77.90000000000009" height="102.19999999999999" rx="2.5" fill="#fff" stroke="#cccccc" stroke-width="1.1"/>
<circle cx="1137.7" cy="201.0" r="4.9" fill="#1f77b4"/>
<text class="ls" x="1155.8" y="205.0" font-size="13.9" font-weight="bold" fill="#000">CXG</text>
<circle cx="1137.7" cy="220.6" r="4.9" fill="#f58231"/>
<text class="ls" x="1155.8" y="224.6" font-size="13.9" font-weight="bold" fill="#000">ALG</text>
<circle cx="1137.7" cy="240.2" r="4.9" fill="#1f9e4f"/>
<text class="ls" x="1155.8" y="244.2" font-size="13.9" font-weight="bold" fill="#000">PG</text>
<circle cx="1137.7" cy="259.8" r="4.9" fill="#e41a2c"/>
<text class="ls" x="1155.8" y="263.8" font-size="13.9" font-weight="bold" fill="#000">EG_1</text>
<circle cx="1137.7" cy="279.4" r="4.9" fill="#8c6bb1"/>
<text class="ls" x="1155.8" y="283.4" font-size="13.9" font-weight="bold" fill="#000">EG_2</text>
<path d="M660.4 486.3V564.0H741.6" stroke="#222222" stroke-width="4.0" fill="none"/>
<text class="ls" font-size="24.7" fill="#222222" transform="translate(662.9 588.1) scale(0.972 1)">UMAP 1</text>
<text class="ls" font-size="26.2" fill="#222222" transform="translate(653.4 562.4) rotate(-90) scale(0.955 1)">UMAP2</text>
<text class="dj" x="261" y="837.5" font-size="33.3" text-anchor="middle" fill="#000">All genes</text>
<path d="M152.7 1041.1h0M120.4 1055.3h0M146.3 1036.5h0M94.6 1041.1h0M121.5 1046.0h0M99.4 1016.5h0M121.2 1038.4h0M103.5 1058.8h0M102.0 1035.9h0M104.9 1024.7h0M111.7 1069.0h0M162.2 1019.1h0M134.1 1041.6h0M119.9 1014.4h0M85.0 1026.6h0M96.6 1014.5h0M132.0 1032.8h0M125.2 1011.7h0M91.1 1010.5h0M165.7 1016.8h0M147.6 1026.5h0M159.2 1025.1h0M107.4 1044.5h0M97.7 1049.7h0M90.2 1027.4h0M122.9 1043.2h0M87.4 1014.4h0M92.5 1043.3h0M117.6 1061.4h0M146.4 1012.5h0M110.5 1052.4h0M144.1 1033.7h0M121.1 1030.7h0M111.9 1037.6h0M106.9 1057.6h0M112.5 1055.8h0M92.4 1016.1h0M142.5 1031.9h0M121.3 1026.5h0M111.7 997.1h0M104.7 1062.6h0M91.1 1006.7h0M84.8 1021.6h0M139.5 1017.1h0M117.7 1024.1h0M101.7 1025.6h0M93.4 1029.7h0M124.7 1043.5h0M157.8 1021.3h0M88.5 1033.6h0M157.0 1025.6h0M97.9 1036.5h0M130.7 1000.0h0M135.5 1037.8h0M89.6 1031.3h0M92.1 1007.7h0M108.1 1031.5h0M88.7 1018.9h0M92.1 1029.2h0M97.6 1045.1h0M108.2 1063.1h0M100.3 1026.6h0M110.5 1061.4h0M132.4 1048.6h0M155.9 1035.5h0M127.1 1003.8h0M94.3 1025.4h0M128.6 1014.0h0M143.4 1019.9h0M98.8 1026.7h0M134.4 1024.4h0M104.5 1014.2h0M155.0 1018.1h0M151.9 1012.6h0M106.6 1001.4h0M149.2 1031.1h0M156.2 1042.3h0M127.2 1054.2h0M93.4 1009.5h0M91.0 1017.2h0M134.0 1034.6h0M122.1 1043.4h0M121.7 1008.8h0M99.8 1035.4h0M115.8 1003.4h0M98.0 1010.5h0M93.8 1042.4h0M111.8 1060.6h0M85.4 1038.9h0M90.6 1011.2h0M130.2 1030.0h0M122.0 1059.2h0M152.1 1041.7h0M93.1 1024.6h0M133.2 1008.6h0M116.1 1014.7h0M112.6 1026.4h0M131.9 1037.2h0M86.0 1034.5h0M84.1 1019.5h0M101.0 1020.5h0M110.4 1057.2h0M111.0 1033.9h0M119.0 1019.7h0M134.7 1024.9h0M112.4 1032.2h0M125.3 1031.6h0M108.8 1034.9h0M113.6 1062.6h0M128.5 1047.0h0M113.8 1050.9h0M145.7 1041.3h0M89.2 1025.1h0M103.7 1048.7h0M149.2 1019.4h0M140.2 1049.6h0M146.8 1030.4h0M96.6 1034.6h0M127.1 1011.1h0M96.7 1049.1h0M132.9 1006.0h0M142.4 1023.6h0M94.8 1030.1h0M96.3 1030.5h0M97.8 1056.3h0M149.6 1032.9h0M131.1 1014.4h0M131.0 1002.0h0M117.1 1000.1h0M147.8 1032.9h0M130.9 1058.0h0M114.5 1026.8h0M117.5 1056.8h0M155.2 1032.0h0M124.0 1002.4h0M111.0 1045.7h0M114.6 1006.1h0M121.7 1034.6h0M94.0 1044.3h0M102.6 1047.1h0M117.5 1037.3h0M128.1 1038.1h0M126.7 1049.3h0M133.7 1043.5h0M106.8 1026.5h0M99.2 1048.9h0M106.8 1005.5h0M154.1 1018.7h0M97.5 1050.4h0M104.7 1017.8h0M84.6 1033.4h0M127.8 1003.0h0M119.7 1045.2h0M94.9 1030.7h0M142.9 1008.5h0M139.2 1046.1h0M112.6 1015.1h0M133.9 1012.2h0M136.6 1052.6h0M157.0 1032.5h0M158.7 1023.0h0M109.9 1003.5h0M153.4 1031.3h0M137.6 1039.8h0M125.5 1011.7h0M124.0 1011.9h0M99.1 1035.7h0M119.4 1016.5h0M124.4 1004.7h0M158.5 1030.8h0M124.3 1058.6h0M142.5 1015.7h0M106.8 1050.7h0M118.1 1043.8h0M131.0 1048.3h0M124.9 1031.1h0M96.7 1010.7h0M145.1 1031.0h0M110.4 1024.5h0M92.2 1040.4h0M103.7 1007.3h0M156.9 1018.9h0M98.5 1026.1h0M128.4 1056.8h0M114.5 1044.9h0M160.6 1023.7h0M133.7 1041.4h0M108.9 1044.2h0M152.1 1037.0h0M84.2 1024.6h0M111.4 1066.3h0M107.8 1026.1h0M128.9 1026.5h0M92.4 1038.8h0M132.9 1022.6h0M156.0 1038.0h0M97.0 1007.5h0M141.2 1039.4h0M153.9 1045.0h0M100.1 1032.2h0M88.7 1014.2h0M153.8 1019.9h0M101.6 1029.0h0M112.4 1030.7h0M156.2 1036.1h0M121.8 1029.1h0M117.2 1022.4h0M129.5 1013.9h0M135.2 1044.9h0M132.5 1020.3h0M141.6 1041.5h0M92.9 1044.5h0M141.3 1014.8h0M109.1 998.1h0M121.2 1036.0h0M139.8 1007.3h0M118.2 1026.9h0M146.6 1029.5h0M147.6 1041.2h0M121.1 1049.2h0M137.5 1052.6h0M117.4 1066.0h0M103.6 1009.5h0M124.5 1051.7h0M128.4 1042.3h0M153.3 1037.7h0M125.4 1007.6h0M124.7 1042.4h0M108.8 1064.0h0M130.4 1029.4h0M102.9 1058.5h0M138.8 1029.9h0M87.4 1015.4h0M100.8 1031.9h0M108.7 1062.5h0M88.5 1028.7h0M113.4 1059.0h0M152.4 1018.5h0M130.7 1053.0h0M139.2 1023.3h0M129.6 1036.3h0M108.8 1017.7h0M89.5 1024.2h0M116.4 1050.6h0M127.8 1054.1h0M135.6 1024.3h0M116.4 1037.3h0M145.0 1044.5h0M157.2 1041.3h0M109.1 1043.9h0M101.1 1050.9h0M145.3 1043.6h0M114.4 1024.1h0M147.3 1032.9h0M141.8 1029.9h0M121.0 1032.7h0M124.1 1044.9h0M88.0 1021.1h0M159.4 1025.0h0M135.7 1054.4h0M110.0 1003.8h0M158.7 1028.3h0M108.7 1015.2h0M129.2 1058.8h0M95.8 1008.0h0M125.5 1024.1h0M93.3 1023.7h0M139.5 1042.7h0M112.3 1044.5h0M100.7 1033.0h0M105.2 1055.4h0M145.8 1018.2h0M127.2 1009.1h0M109.3 1007.0h0M95.9 1015.0h0M127.0 1054.6h0M110.8 1009.8h0M156.3 1020.3h0M121.7 1009.1h0M113.1 1041.1h0M157.8 1019.0h0M109.8 1006.2h0M151.3 1012.2h0M117.1 1016.9h0M109.4 1037.2h0M95.6 1048.0h0M106.9 1062.4h0M89.2 1014.3h0M83.6 1027.5h0M112.5 1058.0h0M116.2 1063.9h0M88.7 1023.1h0M107.3 1064.7h0M136.5 1051.2h0M140.8 1024.0h0M137.6 1024.0h0M152.7 1035.4h0M123.2 1035.4h0M142.0 1022.2h0M127.2 1048.9h0M124.5 1060.6h0M109.9 1034.2h0M96.8 1035.2h0M129.3 1039.1h0M112.1 1010.5h0M99.5 1045.4h0M144.3 1012.3h0M99.2 1018.4h0M112.7 1048.7h0M145.5 1034.2h0M112.0 1031.2h0M107.9 1063.6h0M130.6 1025.9h0M105.5 1045.8h0M93.5 1004.8h0M150.5 1019.2h0M131.8 1014.8h0M121.5 1022.4h0M119.3 1058.5h0M95.5 1043.6h0M109.1 1025.6h0M130.5 1001.6h0M114.6 1005.3h0M151.3 1025.4h0M155.2 1023.6h0M95.4 1026.9h0M136.4 1001.9h0M105.6 1048.7h0M131.2 1037.7h0M119.8 1017.6h0M111.9 1023.7h0M98.4 1049.2h0M138.0 1027.9h0M105.5 1028.0h0M152.5 1030.5h0M106.0 1014.0h0M104.1 1064.4h0M117.6 1034.5h0M116.2 1006.0h0M107.4 1000.5h0M129.5 1056.6h0M100.0 1021.2h0M108.0 1027.8h0M114.7 1014.1h0M110.2 1020.7h0M119.7 1031.6h0M122.3 1059.4h0M136.1 1044.1h0M115.1 1043.8h0M125.1 1034.7h0M113.6 1001.8h0M99.6 1031.6h0M101.5 1054.9h0M113.0 1055.5h0M128.8 1059.7h0M120.3 1058.1h0M116.0 1055.6h0M99.5 1008.2h0M153.8 1019.2h0M112.0 1007.8h0M121.7 1025.3h0M106.8 1053.1h0M104.4 1006.8h0M118.7 1036.7h0M151.3 1033.5h0M163.9 1023.0h0M137.2 1046.8h0M100.0 1050.5h0M131.7 1056.7h0M94.1 1022.9h0M117.4 1023.4h0M123.3 1019.7h0M152.5 1032.3h0M114.6 1031.3h0M120.4 1025.2h0M116.3 1011.4h0M117.0 1016.5h0M116.4 1015.1h0M100.7 1006.0h0M104.0 1040.4h0M91.7 1043.3h0M124.3 1002.4h0M143.8 1006.9h0M151.1 1042.0h0M111.1 1018.1h0M86.0 1010.9h0M116.4 1051.0h0M83.5 1025.6h0M134.2 1055.2h0M153.4 1039.7h0M154.2 1017.3h0M103.4 1056.3h0M134.5 1014.5h0M120.3 1038.5h0M112.8 1032.7h0M154.4 1018.5h0M155.8 1025.1h0M146.4 1017.1h0M86.3 1039.0h0M101.8 1047.6h0M156.9 1022.6h0M139.3 1030.3h0M135.3 1002.6h0M116.3 1004.3h0M122.8 1011.3h0M104.9 998.0h0M131.7 1010.4h0M91.1 1043.1h0M93.1 1031.8h0M127.6 1043.5h0M113.3 1043.4h0M125.5 1061.0h0M136.1 1009.3h0M106.5 1005.9h0M105.3 1013.7h0M130.4 1028.4h0M116.5 1050.6h0M109.5 1015.4h0M107.9 1061.3h0M96.6 1043.3h0M132.2 1041.0h0M127.4 1030.6h0M108.3 1054.0h0M114.8 1028.6h0M109.2 1058.7h0M96.0 1031.8h0M140.5 1044.7h0M93.4 1018.7h0M157.7 1026.5h0M93.5 1014.5h0M141.1 1007.4h0M126.1 1030.5h0M137.3 1011.0h0M98.7 1048.4h0M118.3 1049.7h0M99.3 1014.8h0M86.6 1036.1h0M142.4 1032.2h0M99.8 1027.0h0M94.6 1045.4h0M137.6 1009.1h0M106.7 1042.5h0M142.5 1035.2h0M118.6 1008.6h0M139.2 1039.7h0M126.4 1007.3h0M114.2 1068.2h0M146.6 1040.7h0M122.0 1003.0h0M147.7 1025.8h0M103.0 1017.5h0M98.6 1050.4h0M112.9 1021.8h0M87.6 1028.4h0M149.4 1036.9h0M109.2 1032.6h0M109.7 1007.8h0M84.7 1022.5h0M92.0 1046.5h0M135.5 1052.3h0M99.0 1056.4h0M114.2 1069.1h0M117.3 1024.6h0M111.8 1048.7h0M109.7 1032.0h0M125.2 1042.8h0M132.7 1030.7h0M126.9 1027.8h0M94.0 1011.4h0M99.1 1019.4h0M106.7 1005.2h0M99.9 1034.0h0M101.4 1004.7h0M142.6 1011.0h0M119.4 1003.3h0M110.1 1004.1h0M154.0 1035.3h0M106.3 1017.8h0M122.1 1037.6h0M122.9 1022.9h0M89.0 1036.8h0M101.5 1059.7h0M127.3 1019.3h0M120.3 1020.0h0M152.8 1022.4h0M85.5 1039.4h0M124.1 1057.5h0M150.5 1030.3h0M150.6 1024.8h0M140.2 1046.3h0M97.7 1025.4h0M99.9 1008.1h0M149.3 1014.7h0M130.7 1031.9h0M105.5 1038.0h0M120.8 1047.8h0M122.4 1024.1h0M115.8 1061.7h0M104.6 1038.1h0M106.3 1040.1h0M109.5 1068.5h0M88.7 1035.2h0M114.4 998.8h0M93.3 1009.9h0M114.6 1038.7h0M117.9 1018.6h0M99.6 1061.4h0M113.0 1008.5h0M129.4 1030.2h0M137.8 1023.5h0M98.5 1000.7h0M131.5 1045.6h0M99.0 1011.1h0M111.3 1066.4h0M93.9 1013.4h0M92.9 1007.3h0M95.6 1002.9h0M88.4 1027.1h0M151.3 1024.0h0M104.3 1017.1h0M94.8 1035.8h0M104.9 1019.3h0M121.3 1033.9h0M104.8 1051.4h0M145.4 1042.3h0M113.5 1012.0h0M125.5 1030.8h0M140.5 1034.9h0M150.4 1024.6h0M110.7 1032.4h0M119.0 1028.1h0M118.4 1043.1h0M105.9 1050.5h0M155.6 1031.7h0M120.8 1048.1h0M135.4 1014.6h0M123.6 1039.8h0M126.5 1026.6h0M147.4 1008.9h0M124.3 1009.7h0M150.8 1026.2h0M98.7 1031.1h0M154.4 1037.2h0M103.3 1029.1h0M154.4 1027.4h0M110.3 1054.4h0M94.2 1036.5h0M96.6 1008.8h0M86.2 1024.6h0M147.8 1030.1h0M160.8 1026.1h0M113.5 1033.3h0M112.8 1037.8h0M112.1 1007.1h0M95.4 1006.3h0M142.4 1025.8h0M153.7 1020.5h0M100.9 1049.7h0M106.6 1025.3h0M137.5 1015.0h0M120.4 1044.5h0M108.3 1000.0h0M113.7 1051.2h0M97.3 1009.4h0M139.1 1012.5h0M151.5 1028.2h0M134.9 1049.6h0M105.3 1010.5h0M90.7 1011.8h0M109.5 1011.6h0M124.5 1019.9h0M141.6 1023.0h0M134.8 1004.5h0M157.2 1036.2h0M123.0 1033.4h0M117.6 1035.7h0M119.4 1008.8h0M127.2 1005.5h0M89.9 1033.3h0M131.8 1006.5h0M93.0 1022.0h0M112.9 1033.8h0M116.9 1054.5h0M122.7 1029.1h0M96.8 1050.1h0M102.2 1026.8h0M148.3 1038.2h0M97.1 1010.5h0M133.9 1002.5h0M132.2 1050.1h0M133.9 1007.6h0M131.0 1023.2h0M115.4 1001.3h0M125.2 1060.8h0M117.3 1007.5h0M118.7 1018.7h0M100.1 1010.6h0M143.1 1012.2h0M143.4 1046.6h0M123.1 1000.6h0M124.5 1025.7h0M129.3 1053.0h0M114.3 1032.2h0M155.1 1028.3h0M142.6 1036.1h0M124.2 1057.9h0M149.2 1014.0h0M106.8 1069.1h0M101.8 1047.1h0M87.6 1013.8h0M136.6 1047.7h0M97.9 1041.0h0M108.9 1062.6h0M95.1 1043.2h0M142.2 1039.0h0M115.3 1015.9h0M128.1 1049.8h0M126.5 1015.7h0M109.4 1054.3h0M114.9 1014.7h0M134.8 1023.7h0M105.0 1038.8h0M120.5 1039.9h0M92.6 1027.8h0M137.5 1024.3h0M90.0 1035.8h0M137.2 1051.2h0M115.5 1041.9h0M118.8 1034.6h0M125.0 999.5h0M148.3 1022.7h0M140.1 1030.3h0M121.5 1063.7h0M127.7 1017.3h0M109.8 1016.7h0M90.4 1026.8h0M119.1 1014.1h0M107.6 1036.0h0M126.7 1059.8h0M130.0 1022.3h0M133.5 1042.5h0M93.8 1007.8h0M109.3 1001.6h0M107.9 1012.8h0M125.9 1043.6h0M124.7 1058.7h0M137.2 1014.2h0M105.3 1047.9h0M154.1 1020.9h0M128.9 1000.7h0M151.3 1017.4h0M98.8 1032.5h0M95.4 1024.8h0M99.9 1042.1h0M137.2 1032.3h0M120.9 1062.6h0M113.3 998.7h0M137.7 1013.8h0M117.9 1003.9h0M145.7 1017.0h0M108.2 1045.0h0M152.2 1040.0h0M91.7 1007.9h0M113.4 1015.7h0M94.9 1005.9h0M124.5 1012.3h0M111.9 1066.4h0M124.7 1004.1h0M110.3 1027.7h0M94.0 1004.2h0M133.7 1022.9h0M139.5 1021.1h0M104.6 1008.1h0M105.7 1005.7h0M143.4 1022.8h0M124.7 1037.0h0M157.7 1028.2h0M130.7 1046.8h0M85.1 1039.9h0M118.5 1001.5h0M122.4 1017.9h0M102.9 1060.6h0M86.8 1032.6h0M126.3 1007.6h0M128.2 1021.4h0M154.2 1041.1h0M112.8 1057.7h0M129.7 1031.4h0M131.0 1020.6h0M146.2 1019.9h0M122.7 1037.7h0M89.9 1009.2h0M101.0 1029.8h0M143.9 1015.9h0M133.9 1049.0h0M135.8 1032.3h0M142.2 1016.4h0M94.8 1011.9h0M125.2 1019.9h0M131.3 1019.3h0M131.8 1015.3h0M106.3 1045.7h0M126.0 1030.4h0M132.2 1049.8h0M142.9 1007.0h0M98.7 1022.4h0M141.6 1008.5h0M119.0 1032.0h0M143.4 1037.6h0M104.2 1050.5h0M140.9 1035.8h0M139.4 1042.3h0M94.6 1041.5h0M132.4 1025.2h0M136.9 1013.6h0M164.8 1018.4h0M115.0 1019.6h0M106.4 1060.8h0M112.3 1028.6h0M103.8 1031.0h0M102.9 1014.0h0M107.6 1044.7h0M113.7 1012.6h0M150.6 1025.7h0M110.9 1069.5h0M103.3 1060.1h0M116.0 1048.7h0M100.6 1006.8h0M109.3 1006.8h0M97.6 1023.0h0M103.4 1047.7h0M157.2 1029.2h0M114.1 1031.7h0M116.6 1047.7h0M148.1 1030.1h0M94.2 1047.5h0M117.2 1031.6h0M145.6 1038.5h0M121.2 1056.9h0M106.7 1002.2h0M94.6 1013.4h0M109.8 1065.3h0M121.2 1016.4h0M124.5 1021.3h0M143.7 1014.9h0M92.0 1029.0h0M98.3 1043.9h0M143.5 1017.2h0M98.8 1020.8h0M108.0 1025.1h0M130.1 1018.4h0M127.6 1052.0h0M93.3 1041.7h0M111.6 1070.5h0M101.2 1023.6h0M143.3 1031.3h0M144.3 1045.6h0M149.3 1032.1h0M91.8 1038.7h0M128.8 1014.2h0M142.3 1044.6h0M128.1 1048.4h0M148.4 1013.5h0M147.3 1021.8h0M153.0 1014.5h0M101.3 1056.3h0M122.2 1046.1h0M100.0 1037.3h0M113.0 1041.2h0M134.4 1050.4h0M92.8 1017.3h0M105.7 1026.8h0M141.7 1038.7h0M92.6 1015.8h0M137.7 1049.0h0M115.2 1012.2h0M108.2 1070.3h0M102.2 1019.9h0M148.0 1020.9h0M115.7 1017.4h0M89.4 1004.5h0M162.9 1022.1h0M97.5 1013.9h0M117.3 1017.4h0M105.6 1064.4h0M105.1 1026.3h0M154.6 1034.7h0M117.6 1053.8h0M164.3 1021.2h0M99.5 1003.8h0M152.2 1039.4h0M94.9 1039.2h0M112.7 1000.1h0M109.9 1041.8h0M110.4 1051.8h0M98.0 1032.4h0M123.7 1046.2h0M98.0 1033.3h0M160.5 1015.1h0M95.3 1032.2h0M138.0 1035.7h0M133.5 1053.8h0M154.9 1037.0h0M133.7 1035.4h0M109.4 1054.8h0M130.6 1014.3h0M163.0 1018.7h0M113.8 1059.6h0M153.0 1026.6h0M115.3 1030.3h0M110.6 1018.0h0M113.8 1059.0h0M119.3 1048.7h0M147.9 1036.8h0M120.9 1036.3h0M150.1 1038.6h0M106.2 1050.7h0M155.2 1012.5h0M145.7 1040.2h0M149.5 1030.1h0M115.5 1041.1h0M114.0 1049.0h0M145.6 1026.8h0M103.5 1043.2h0M109.1 1063.4h0M115.1 1060.7h0M130.5 1045.4h0M96.2 1031.6h0M144.3 1039.4h0M109.3 1068.4h0M106.8 1047.8h0M95.8 1048.4h0M87.7 1012.1h0M157.1 1025.8h0M94.0 1025.2h0M123.7 1050.7h0M112.0 1045.6h0M150.3 1034.6h0M103.1 1002.2h0M153.8 1034.5h0M128.7 1004.7h0M126.4 1008.0h0M89.6 1023.3h0M101.1 1034.9h0M120.9 1030.0h0M133.1 1034.6h0M107.8 1029.7h0M85.0 1017.8h0M118.6 1018.8h0M103.1 1058.6h0M126.6 1053.0h0M125.9 1058.2h0M119.0 1051.1h0M96.7 1049.1h0M98.7 1053.9h0M132.2 1051.9h0M112.2 1013.7h0M105.9 1052.3h0M120.7 1013.1h0M154.6 1037.0h0M101.0 1011.1h0M118.0 1048.6h0M110.0 1059.8h0M92.4 1018.4h0M145.0 1030.0h0M87.3 1026.3h0M112.3 1009.6h0M145.6 1040.0h0M135.3 1003.2h0M138.1 1023.5h0M120.3 1017.4h0M142.1 1025.6h0M117.4 1037.3h0M153.6 1016.3h0M98.6 1038.7h0M87.0 1031.7h0M134.6 1026.3h0M149.4 1021.7h0M85.9 1011.6h0M144.3 1019.1h0M124.4 1013.3h0M93.6 1007.2h0M119.8 1010.3h0M156.9 1034.3h0M153.2 1039.9h0M93.3 1028.8h0M119.4 1023.3h0M122.6 1028.4h0M92.1 1038.2h0M130.4 1034.8h0M160.2 1014.7h0M116.9 1001.6h0M146.7 1016.0h0M105.2 1052.6h0M94.1 1013.9h0M129.8 1007.3h0M137.4 1047.7h0M95.6 1036.2h0M101.2 1033.6h0M142.4 1035.6h0M124.5 1032.4h0M118.5 1062.1h0M125.8 1014.2h0M151.7 1029.3h0M118.4 1067.2h0M122.5 1033.6h0M124.8 1002.0h0M125.9 1042.0h0M103.0 1065.8h0M139.0 1022.4h0M118.7 1003.2h0M126.6 1006.0h0M116.9 1014.4h0M101.1 1042.7h0M106.0 1059.1h0M113.0 1039.3h0M129.5 1036.2h0M101.2 1055.7h0M116.8 1024.4h0M161.9 1025.8h0M129.5 1018.3h0M103.7 1057.5h0M162.3 1016.2h0M108.8 1050.5h0M104.3 1042.3h0M126.5 1034.2h0M131.8 1015.7h0M114.8 1037.5h0M142.8 1041.0h0M113.6 999.0h0M131.5 1031.7h0M90.3 1017.3h0M122.1 1020.2h0M140.4 1040.4h0M147.9 1038.4h0M143.8 1040.6h0M87.2 1016.8h0M139.1 1032.3h0M108.4 1053.0h0M136.2 1039.3h0M100.5 1019.6h0M153.1 1042.0h0M122.1 1033.4h0M91.3 1024.7h0M104.2 1013.2h0M97.3 1019.8h0M126.3 1035.8h0M165.2 1021.2h0M103.5 1052.0h0M102.8 1044.6h0M166.2 1021.7h0M130.6 1018.8h0M149.0 1022.4h0M96.0 1015.9h0M142.4 1023.9h0M118.5 998.7h0M127.4 1023.3h0M92.9 1023.0h0M123.9 1029.7h0M103.8 1016.7h0M139.2 1048.2h0M144.7 1030.1h0M134.9 1040.9h0M108.1 1015.6h0M121.4 1041.0h0M138.3 1048.8h0M107.8 1042.0h0M132.4 1022.9h0M90.9 1017.0h0M110.3 1024.8h0M150.9 1028.6h0M111.0 1050.8h0M130.8 1028.4h0M90.6 1023.7h0M109.4 1071.2h0M112.4 1014.7h0M164.9 1022.6h0M133.6 1002.9h0M133.6 1028.1h0M126.9 1056.4h0M138.2 1009.8h0M100.6 1059.5h0M121.4 1061.2h0M105.1 1008.2h0M117.2 1060.0h0M145.4 1046.2h0M150.2 1023.1h0M138.6 1043.9h0M142.2 1036.1h0M104.5 1004.0h0M92.4 1014.2h0M150.7 1014.9h0M106.5 1024.5h0M112.8 1046.3h0M96.9 1012.0h0M116.6 1047.5h0M113.3 1034.2h0M134.2 1010.1h0M105.8 1027.5h0M124.0 1020.1h0M112.3 1022.8h0M107.3 1065.9h0M150.7 1023.8h0M106.3 1055.6h0M101.8 1001.4h0M139.7 1016.8h0M100.9 1045.4h0M97.1 1048.0h0M110.4 1069.5h0M140.3 1047.8h0M105.8 1066.7h0M93.5 1024.4h0M142.7 1033.7h0M100.4 1020.6h0M90.6 1005.3h0M133.3 1010.5h0M158.1 1014.9h0M110.0 1036.5h0M138.2 1008.1h0M139.0 1051.0h0M101.1 1006.0h0M153.8 1023.6h0M102.4 1024.9h0M101.6 1010.4h0M138.1 1033.9h0M153.6 1015.9h0M121.6 1059.9h0M100.5 1035.1h0M133.7 1009.1h0M99.8 1038.4h0M115.3 1048.3h0M136.2 1009.6h0M104.2 1051.1h0M132.0 1007.1h0M129.4 1004.7h0M130.4 1033.1h0M145.9 1031.6h0M128.7 1043.7h0M90.9 1013.8h0M84.7 1031.2h0M114.8 999.7h0M147.4 1039.6h0M99.9 1032.9h0M121.7 1032.4h0M101.1 1041.1h0M150.9 1042.3h0M107.7 1013.1h0M133.6 1031.9h0M97.6 1028.8h0M116.5 1034.0h0M149.7 1021.7h0M121.9 1017.6h0M112.7 1026.2h0M106.1 1023.3h0M99.3 1026.5h0M129.1 1038.8h0M103.9 1033.3h0M105.5 1042.1h0M108.2 1037.6h0M125.5 1022.5h0M125.7 1054.5h0M152.7 1023.3h0M109.5 1027.8h0M118.5 1025.6h0M110.8 1004.4h0M87.1 1026.3h0M120.3 1065.6h0M135.8 1005.2h0M110.5 1000.7h0M102.7 1041.1h0M139.9 1028.2h0M135.4 1028.9h0M105.5 1067.0h0M146.1 1035.9h0M142.4 1011.6h0M148.7 1042.8h0M151.3 1014.0h0M128.7 1058.9h0M100.7 1051.7h0M137.1 1045.4h0M98.4 1035.8h0M144.8 1044.4h0M133.5 1012.0h0M94.3 1030.9h0M93.2 1016.1h0M135.1 1002.4h0M93.2 1011.6h0M104.2 1035.4h0M120.7 1004.8h0M97.3 1052.3h0M89.8 1015.4h0M101.7 1036.1h0M152.9 1037.9h0M87.1 1011.8h0M130.3 1043.0h0M120.9 1003.6h0M146.6 1010.7h0M133.9 1048.7h0M138.9 1013.4h0M107.6 1009.6h0M114.7 1057.0h0M139.7 1019.0h0M104.6 1052.8h0M101.9 1022.8h0M127.9 1047.5h0M104.1 1013.2h0M131.2 1019.5h0M96.9 1033.8h0M159.6 1020.8h0M99.6 1044.7h0M135.2 1018.4h0M86.7 1034.2h0M99.2 1014.5h0M95.1 1034.6h0M154.5 1020.6h0M130.3 1026.2h0M150.5 1040.5h0M137.8 1008.2h0M148.6 1024.4h0M137.5 1020.3h0M115.2 1024.2h0M108.9 1027.1h0M122.1 1028.4h0M109.6 1033.5h0M116.9 1034.2h0M130.0 1009.2h0M127.5 1050.6h0M140.7 1008.7h0M147.8 1043.8h0M115.4 999.4h0M108.8 1027.7h0M91.6 1020.1h0M125.2 1007.5h0M126.6 1009.0h0M151.1 1038.3h0M144.9 1017.7h0M149.0 1012.1h0M121.8 1002.4h0M104.9 1067.1h0M146.6 1019.8h0M118.6 1029.2h0M111.8 1051.5h0M124.4 1057.9h0M95.4 1017.7h0M105.8 1009.4h0M130.9 1042.0h0M121.5 1009.9h0M132.1 1004.8h0M128.3 1007.2h0M97.3 1014.1h0M128.9 1001.0h0M124.9 1055.5h0M118.3 1032.2h0M152.2 1013.4h0M152.6 1016.9h0M132.0 1002.6h0M116.3 1051.0h0M107.6 1000.7h0M125.5 1031.3h0M109.5 1021.4h0M107.2 1028.8h0M118.2 1060.8h0M111.1 1063.8h0M99.7 1033.4h0M139.6 1029.8h0M146.3 1011.3h0M156.3 1019.8h0M135.8 1053.3h0M149.9 1038.9h0M105.9 1054.1h0M89.5 1018.6h0M92.6 1034.0h0M98.8 1047.6h0M88.6 1009.9h0M90.5 1023.2h0M97.1 1040.0h0M150.1 1016.8h0M127.8 1003.7h0M95.4 1005.6h0M124.3 1021.0h0M132.7 1007.0h0M139.4 1018.9h0M141.3 1018.2h0M109.6 998.2h0M102.3 1049.0h0M111.3 1018.1h0M100.6 1003.1h0M142.6 1036.7h0M114.3 1034.9h0M113.2 1067.6h0M111.5 1046.6h0M113.5 1036.9h0M99.2 1003.9h0M120.5 1059.0h0M114.7 1041.6h0M108.8 1027.3h0M129.0 1045.0h0M148.1 1037.3h0M133.4 1016.3h0M138.1 1033.3h0M103.3 1067.7h0M129.5 1030.6h0M115.0 1021.5h0M134.1 1039.3h0M127.5 1057.8h0M141.5 1031.1h0M126.0 1000.3h0M142.2 1028.8h0M154.0 1037.0h0M112.3 1045.4h0M138.4 1024.5h0M115.5 1041.3h0M102.9 1030.4h0M125.0 1011.7h0M128.1 1008.6h0M123.0 1029.4h0M106.6 998.0h0M94.0 1043.7h0M118.5 1013.5h0M155.7 1023.5h0M100.4 1039.0h0M136.0 1050.1h0M123.0 1000.8h0M110.9 1057.9h0M85.8 1038.7h0M113.5 1039.2h0M142.3 1026.4h0M108.8 1059.4h0M110.1 1017.9h0M156.0 1037.5h0M117.2 1008.5h0M133.9 1013.4h0M97.1 1030.1h0M86.6 1035.5h0M136.4 1010.6h0M142.7 1025.7h0M141.0 1005.3h0M109.9 1053.8h0M102.9 1053.4h0M114.7 1048.5h0M135.9 1032.2h0M111.7 1049.0h0M128.3 1030.1h0M102.6 1025.6h0M101.9 1050.0h0M141.6 1016.2h0M159.1 1016.8h0M138.1 1040.7h0M96.2 1020.2h0M122.7 1026.7h0M87.1 1010.6h0M109.4 1039.2h0M104.6 1047.6h0M123.1 1055.8h0M120.4 1021.4h0M89.8 1034.0h0M154.0 1011.9h0M87.5 1024.6h0M102.0 1001.8h0M117.3 1026.8h0M142.1 1025.5h0M87.7 1010.2h0M125.7 1048.4h0M107.6 1033.7h0M119.6 1019.8h0M130.4 1036.7h0M147.1 1033.9h0M153.9 1022.4h0M100.7 1004.6h0M149.1 1020.3h0M137.2 1041.9h0M119.1 1021.8h0M148.5 1030.7h0M125.4 1060.8h0M131.8 1031.5h0M87.5 1038.5h0M89.0 1017.1h0M92.0 1029.1h0M128.1 1051.2h0M121.7 1006.3h0M117.5 1029.6h0M134.6 1032.2h0M93.1 1042.9h0M116.1 998.7h0M143.9 1007.0h0M130.2 1051.4h0M125.4 1049.3h0M130.8 1002.3h0M114.9 1005.2h0M119.7 1048.7h0M121.5 1005.4h0M124.0 1054.9h0M112.5 1013.5h0M110.7 1043.8h0M155.0 1032.6h0M152.3 1022.2h0M90.5 1018.6h0M135.2 1042.6h0M93.1 1017.2h0M87.6 1025.9h0M90.2 1023.6h0M116.4 1050.2h0M131.3 1041.9h0M102.6 1022.4h0M119.5 1014.6h0M104.7 1013.9h0M108.6 1019.3h0M117.5 1054.8h0M104.6 1046.7h0M126.4 1012.8h0M111.6 1025.6h0M149.8 1041.3h0M124.8 1022.1h0M156.5 1035.4h0M137.4 1016.8h0M127.1 1050.5h0M133.4 1003.2h0M153.2 1015.6h0M136.9 1027.0h0M118.0 1021.9h0M118.4 1015.7h0M150.6 1038.8h0M140.9 1009.3h0M89.9 1030.6h0M98.9 1016.4h0M88.6 1031.1h0M106.8 1041.8h0M132.6 1034.4h0M116.9 1000.7h0M98.3 1060.6h0M118.8 1033.3h0M122.3 1051.1h0M143.9 1042.3h0M101.5 1025.0h0M121.1 1045.3h0M100.8 1018.2h0M100.6 1046.3h0M115.3 1019.6h0M146.8 1010.9h0M94.5 1040.8h0M123.0 1007.3h0M101.0 1004.2h0M112.0 1002.5h0M89.0 1014.8h0M93.5 1024.8h0M126.3 1045.1h0M114.2 1033.5h0M109.5 1032.5h0M106.2 1005.6h0M99.1 1005.1h0M145.1 1026.5h0M104.7 1049.1h0M125.2 1033.2h0M134.0 1023.2h0M163.4 1018.1h0M152.2 1034.6h0M153.3 1020.9h0M117.1 1009.4h0M127.7 1019.4h0M114.8 1041.2h0M121.7 1008.1h0M122.7 1043.8h0M124.6 1037.4h0M149.0 1032.2h0M102.9 1035.0h0M130.3 1038.7h0M97.4 1021.7h0M117.4 1021.1h0M97.8 1052.4h0M126.9 1020.2h0M100.3 1048.8h0M111.1 1021.5h0M138.6 1020.9h0M158.6 1013.9h0M111.2 1037.4h0M101.9 1058.0h0M94.5 1009.2h0M106.4 1030.9h0M141.3 1043.8h0M108.3 1065.3h0M95.2 1030.0h0M95.1 1009.2h0M139.5 1039.4h0M132.8 1003.2h0M105.2 1005.4h0M114.1 1014.0h0M99.9 1057.0h0M155.3 1027.6h0M152.4 1034.7h0M117.9 1024.4h0M107.9 1038.2h0M118.2 1009.4h0M94.5 1029.2h0M98.2 1043.4h0M145.5 1020.6h0M137.9 1032.7h0M107.5 1042.0h0M133.1 1001.9h0M105.1 1049.9h0M112.7 1048.0h0M127.2 1038.8h0M118.9 1050.4h0M110.9 1006.6h0M138.9 1044.3h0M95.0 1043.0h0M115.9 1048.5h0M158.5 1026.1h0M158.1 1023.4h0M140.7 1032.3h0M127.3 1005.9h0M122.8 1002.9h0M103.2 1028.7h0M118.0 1007.7h0M109.5 1011.6h0M107.8 1004.5h0M87.7 1039.1h0M148.0 1037.0h0M88.0 1024.9h0M101.7 1037.5h0M105.5 1065.3h0M109.9 1018.5h0M149.6 1016.0h0M127.7 1005.2h0M151.6 1041.9h0M105.8 1065.7h0M135.5 1005.2h0M108.6 1012.6h0M117.0 1030.2h0M97.5 1055.6h0M134.3 1042.2h0M152.5 1039.0h0M100.4 1021.5h0M138.0 1022.2h0M138.5 1050.3h0M134.3 1032.3h0M102.2 1046.6h0M150.5 1029.1h0M115.0 1055.7h0M125.2 1060.9h0M94.1 1040.6h0M106.9 1032.3h0M111.4 1022.3h0M127.1 1019.1h0M98.8 1029.9h0M107.6 1007.3h0M87.3 1018.8h0M98.4 1053.9h0M144.6 1028.6h0M102.9 1004.5h0M152.0 1019.6h0M148.3 1012.2h0M141.8 1032.1h0M131.3 1038.2h0M154.7 1022.1h0M142.8 1035.5h0M153.3 1011.8h0M116.0 1026.2h0M103.3 1017.6h0M123.4 1002.6h0M91.8 1043.9h0M132.4 1011.0h0M105.3 1024.2h0M145.1 1020.5h0M142.8 1020.9h0M99.6 1056.9h0M152.6 1028.1h0M95.5 1050.8h0M121.1 1054.4h0M114.9 1008.1h0M123.0 1062.0h0M102.4 1037.0h0M101.2 1047.9h0M115.7 1004.7h0M142.8 1025.6h0M119.1 1043.7h0M122.6 1024.9h0M86.8 1028.9h0M117.4 1056.1h0M114.6 1047.0h0M95.0 1033.3h0M156.1 1033.0h0M143.4 1029.9h0M91.4 1038.8h0M117.4 1009.0h0M152.2 1041.2h0M155.0 1030.0h0M92.1 1018.9h0M106.4 1067.6h0M130.0 1015.9h0M111.7 1036.5h0M153.8 1041.6h0M117.7 1004.3h0M129.0 1004.2h0M120.5 997.8h0M115.3 1028.2h0M130.1 1028.8h0M112.0 1056.0h0M119.2 1012.6h0M126.4 1046.2h0M102.2 1024.6h0M147.0 1023.8h0M96.1 1021.9h0M116.9 1055.9h0M116.5 1022.3h0M101.2 1017.1h0M99.0 1001.5h0M121.5 1013.4h0M107.9 1004.0h0M141.9 1037.4h0M107.6 1058.5h0M123.7 1064.7h0M149.9 1043.1h0M125.1 1012.8h0M142.4 1031.2h0M93.8 1041.5h0M96.5 1018.9h0M138.0 1035.7h0M107.9 1008.8h0M117.9 1038.5h0M140.4 1013.8h0M104.7 1028.7h0M144.0 1010.4h0M146.0 1015.4h0M99.8 1012.3h0M117.7 1018.8h0M111.2 1058.1h0M123.4 1020.1h0M124.5 1025.3h0M95.7 1006.5h0M95.0 1038.0h0M109.0 1036.2h0M93.8 1028.5h0M99.7 1060.1h0M108.4 1068.2h0M140.5 1043.7h0M130.6 1010.2h0M131.1 1001.7h0M86.7 1040.9h0M114.2 1011.1h0M104.9 1037.4h0M109.9 1067.5h0M106.7 1021.8h0M128.7 1058.0h0M108.2 1015.3h0M101.1 1034.1h0M113.6 1013.9h0M121.8 1038.0h0M106.6 1064.8h0M161.0 1020.2h0M132.4 1033.3h0M133.5 1010.7h0M94.5 1038.6h0M102.5 1065.7h0M84.4 1022.6h0M115.2 998.9h0M155.2 1031.8h0M121.6 1040.0h0M94.2 1027.9h0M105.9 1060.8h0M106.8 1013.0h0M91.9 1010.3h0M127.0 999.5h0M92.2 1040.2h0M115.6 1003.6h0M106.5 1037.6h0M125.7 1019.5h0M132.1 1017.5h0M87.4 1025.8h0M121.9 1065.1h0M141.8 1048.4h0M111.0 1052.9h0M133.5 1020.5h0M141.8 1008.9h0M139.8 1006.9h0M113.0 1069.3h0M152.9 1026.1h0M143.5 1013.0h0M92.1 1013.1h0M128.9 1026.3h0M137.1 1022.2h0M116.3 1012.4h0M103.9 1035.2h0M134.6 1015.5h0M131.6 1005.3h0M143.4 1032.3h0M107.2 1053.2h0M156.5 1012.7h0M118.6 1042.8h0M100.7 1025.3h0M95.0 1005.0h0M120.4 1002.2h0M134.0 1050.3h0M109.4 1015.5h0M103.2 1049.5h0M101.5 1060.5h0M126.6 1039.4h0M156.5 1027.4h0M155.2 1012.6h0M103.7 1047.4h0M111.9 1011.3h0M116.7 1013.0h0M130.1 1018.0h0M123.0 1024.5h0M122.1 1035.7h0M128.4 1011.0h0M119.4 1011.7h0M133.4 1055.7h0M110.9 1054.3h0M105.8 1027.3h0M106.5 1021.9h0M127.4 1058.0h0M145.7 1013.9h0M107.3 1034.5h0M123.1 1039.9h0M99.8 1024.3h0M98.0 1033.2h0M135.9 1013.7h0M127.1 1032.6h0M106.9 1038.6h0M109.7 1054.4h0M147.1 1030.2h0M101.4 1042.1h0M118.3 1029.4h0M100.6 1047.7h0M141.7 1028.8h0M142.5 1037.6h0M129.3 1021.9h0M120.6 1062.9h0M104.6 1013.4h0M107.4 1010.3h0M83.1 1027.5h0M98.1 1048.9h0M118.4 1007.5h0M110.4 1052.3h0M110.0 1028.1h0M88.2 1032.1h0M133.2 1009.9h0M141.1 1023.1h0M131.1 1052.1h0M116.7 1065.4h0M134.6 1033.0h0M126.6 1041.9h0M132.4 1045.5h0M132.7 1030.5h0M133.2 1038.6h0M86.0 1036.4h0M107.7 1033.6h0M130.3 1032.8h0M118.2 1026.1h0M111.0 1045.3h0M102.4 1021.2h0M112.7 1026.9h0M96.2 1004.3h0M133.0 1018.8h0M107.2 1044.9h0M140.8 1014.5h0M108.5 1067.9h0M87.6 1014.7h0M144.9 1036.3h0M129.4 1029.5h0M131.4 1012.2h0M139.6 1010.8h0M96.7 1017.9h0M94.7 1011.9h0M93.2 1013.4h0M144.7 1026.5h0M119.6 1048.7h0M121.7 1043.7h0M90.0 1029.5h0M97.0 1043.0h0M83.0 1023.7h0M146.1 1028.5h0M92.8 1033.9h0M116.8 1035.1h0M155.6 1035.2h0M91.7 1008.4h0M134.9 1004.1h0M115.7 999.3h0M111.0 1022.0h0M113.6 1064.5h0M104.2 1062.7h0M147.6 1040.6h0M155.2 1026.5h0M113.8 1045.5h0M90.0 1017.4h0M104.2 1009.5h0M105.4 1051.2h0M111.2 1067.2h0M93.2 1038.7h0M126.4 1005.9h0M128.6 1050.1h0M83.8 1017.6h0M145.8 1025.7h0M85.0 1035.0h0M150.9 1015.5h0M127.0 1020.8h0M89.6 1022.7h0M124.1 1039.9h0M148.4 1021.2h0M150.0 1014.9h0M145.0 1009.3h0M106.2 1059.5h0M134.7 1013.9h0M98.8 1059.2h0M116.3 1040.7h0M136.5 1039.8h0M133.6 1053.9h0M88.8 1041.9h0M134.8 1040.8h0M127.5 1012.0h0M116.1 1015.5h0M124.8 1043.5h0M120.8 1007.8h0M149.1 1041.4h0M133.5 1024.2h0M86.7 1011.8h0M116.4 1067.2h0M130.0 1056.7h0M126.5 1050.7h0M141.1 1027.9h0M122.0 1063.8h0M126.8 1010.6h0M110.2 1027.0h0M124.8 1045.9h0M126.4 1033.2h0M103.5 1055.5h0M149.7 1029.6h0M135.2 1042.1h0M155.0 1027.2h0M103.0 1024.9h0M158.6 1019.0h0M157.3 1029.8h0M118.1 1055.5h0M100.1 1053.9h0M123.0 1011.7h0M97.4 1048.8h0M140.1 1011.4h0M149.7 1032.0h0M106.8 999.2h0M82.8 1017.0h0M123.7 1037.4h0M125.8 1047.0h0M138.3 1014.7h0M147.2 1016.2h0M125.4 1057.1h0M116.5 1048.0h0M97.4 1013.8h0M141.9 1044.1h0M102.9 1055.5h0M165.0 1022.2h0M113.8 1045.7h0M100.0 1055.1h0M89.8 1037.5h0M106.8 1057.8h0M127.0 1014.8h0M92.0 1033.5h0M131.4 1002.4h0M90.6 1044.9h0M115.9 1043.0h0M110.2 1040.1h0M97.5 1011.0h0M84.9 1026.5h0M140.9 1013.9h0M108.9 1021.8h0M105.6 1015.4h0M130.0 1027.1h0M137.5 1042.3h0M159.4 1030.4h0M120.9 1005.8h0M84.1 1028.2h0M99.1 1024.3h0M155.8 1025.4h0M103.5 1057.8h0M108.5 1052.0h0M99.0 1021.0h0M163.4 1023.4h0M89.6 1030.7h0M160.5 1017.6h0M140.0 1045.7h0M103.8 1033.7h0M126.6 1036.2h0M133.4 1010.3h0M126.8 1001.6h0M93.1 1046.0h0M135.3 1009.0h0M123.1 999.8h0M100.6 1021.3h0M123.9 1058.3h0M111.5 1051.6h0M116.5 1057.5h0M101.5 1011.4h0M114.7 1060.9h0M116.1 1000.9h0M92.6 1024.5h0M92.5 1025.0h0M153.0 1036.4h0M106.1 1019.7h0M163.4 1016.1h0M104.6 1064.3h0M110.2 1053.6h0M143.2 1043.4h0M136.3 1010.1h0M106.6 1058.8h0M151.1 1020.1h0M156.0 1025.8h0M127.3 1041.6h0M111.1 1057.3h0M133.2 1029.9h0M116.5 1058.1h0M127.6 1049.3h0M131.1 1039.6h0M156.5 1038.9h0M125.7 1047.2h0M150.8 1032.2h0M90.7 1040.8h0M123.5 1022.6h0M104.7 1056.5h0M101.3 1021.6h0M123.0 1015.3h0M130.9 1033.0h0M138.3 1033.5h0M140.8 1023.4h0M102.8 1001.0h0M137.6 1049.1h0M128.2 1019.5h0M140.2 1049.1h0M92.1 1037.0h0M99.8 1011.8h0M112.6 1062.0h0M101.0 1045.7h0M106.5 1061.3h0M111.2 1026.0h0M152.4 1013.1h0M161.7 1021.0h0M114.6 1011.2h0M128.8 1004.5h0M127.1 1011.3h0M132.1 1035.0h0M100.4 1008.0h0M136.1 1005.0h0M112.7 1067.5h0M110.4 1025.0h0M121.0 1001.2h0M147.7 1043.4h0M149.5 1022.6h0M122.4 1006.0h0M110.2 1026.0h0M101.1 1051.7h0M132.0 1015.1h0M147.5 1023.4h0M161.3 1027.9h0M125.9 1054.9h0M145.4 1027.7h0M115.1 1051.6h0M149.0 1012.4h0M117.1 1019.0h0M113.6 1036.1h0M146.6 1037.1h0M130.2 1002.7h0M120.0 1039.6h0M116.3 1048.0h0M112.9 1021.9h0M130.9 1057.5h0M131.2 1043.1h0M110.2 1059.9h0M93.1 1029.7h0M134.7 1046.0h0M103.7 1009.8h0M121.4 1039.4h0M145.8 1036.1h0M115.7 1060.5h0M142.4 1044.0h0M122.3 1037.8h0M128.3 1005.1h0M116.6 1050.0h0M135.0 1031.2h0M125.7 1048.9h0M120.3 1007.0h0M103.1 1021.6h0M104.4 1028.5h0M160.3 1021.3h0M108.0 1013.0h0M119.3 1056.5h0M111.5 1051.6h0M131.3 1047.3h0M139.0 1018.7h0M96.0 1021.8h0M125.6 1002.0h0M111.5 1051.1h0M114.9 1011.3h0M150.6 1020.3h0M122.9 1058.6h0M95.9 1036.3h0M119.6 1030.3h0M140.0 1005.4h0M97.6 1023.3h0M130.6 1032.6h0M128.1 1044.3h0M128.5 1042.1h0M133.4 1009.7h0M152.8 1018.8h0M88.2 1020.9h0M155.6 1014.2h0M116.2 1039.4h0M132.3 1013.1h0M138.7 1007.0h0M139.4 1035.6h0M118.8 1016.7h0M130.6 1007.8h0M124.2 1009.9h0M142.2 1021.1h0M154.8 1034.2h0M116.1 1066.7h0M114.3 1064.0h0M111.4 1058.8h0M113.9 1058.0h0M109.7 1035.6h0M123.7 1031.7h0M110.2 1069.9h0M138.5 1026.7h0M90.2 1014.0h0M124.5 1033.7h0M127.5 1016.9h0M130.3 1017.8h0M112.3 1038.2h0M110.8 1029.3h0M106.9 1029.2h0M154.0 1031.8h0M132.4 1023.4h0M137.5 1017.7h0M133.6 1056.1h0M137.5 1004.5h0M135.6 1005.7h0M121.5 1054.0h0M104.3 1031.8h0M122.4 1053.2h0M88.8 1035.7h0M88.7 1021.8h0M110.1 1021.7h0M91.3 1039.6h0M103.8 1008.4h0M121.6 1003.2h0M113.3 1051.5h0M126.8 1008.3h0M105.2 1035.0h0M132.0 1012.7h0M125.0 1032.7h0M123.4 1015.5h0M116.1 1052.7h0M155.8 1017.5h0M108.9 1001.1h0M127.4 1014.9h0M122.3 1013.4h0M100.7 1062.7h0M109.3 1071.2h0M138.5 1039.0h0M145.8 1026.4h0M96.2 1028.4h0M127.9 1000.9h0M144.7 1027.0h0M85.9 1018.2h0M124.9 1005.7h0M86.9 1040.1h0M151.5 1017.4h0M117.0 1014.9h0M97.8 1036.0h0M102.2 1009.5h0M100.6 1003.1h0M110.8 1017.1h0M143.8 1017.0h0M129.8 1047.0h0M94.6 1018.2h0M122.6 1003.5h0M128.9 1043.6h0M130.6 1021.1h0M125.7 1060.5h0M146.2 1020.4h0M104.0 1013.8h0M134.7 1015.3h0M94.5 1041.1h0M99.4 1017.7h0M105.6 1008.2h0M101.5 1017.8h0M100.5 1040.8h0M102.8 1020.3h0M92.0 1009.4h0M98.2 1019.1h0M113.3 1042.7h0M127.6 1009.3h0M128.6 1011.7h0M96.2 1023.4h0M118.1 1064.8h0M151.6 1016.8h0M159.7 1030.4h0M90.9 1044.2h0M128.7 1031.6h0M152.0 1039.2h0M96.2 1042.1h0M109.0 1060.9h0M116.1 1017.5h0M102.3 1011.5h0M117.6 1029.4h0M157.4 1029.5h0M139.7 1040.9h0M147.5 1015.0h0M126.7 998.7h0M152.3 1022.4h0M127.7 1021.5h0M103.7 1057.1h0M143.0 1012.7h0M137.4 1040.0h0M97.4 1035.6h0M112.0 1026.4h0M129.0 1010.1h0M124.9 1015.7h0M122.6 1016.2h0M138.6 1022.1h0M139.2 1032.8h0M123.7 1025.6h0M150.1 1022.2h0M101.2 1029.6h0M103.7 1039.4h0M96.8 1038.2h0M132.9 1002.3h0M103.9 1012.0h0M106.0 1020.9h0M117.3 1026.6h0M131.3 1014.9h0M120.0 1054.6h0M156.8 1021.5h0M90.1 1039.4h0M99.2 1031.1h0M111.2 999.2h0M156.4 1022.4h0M158.1 1027.0h0M125.6 1044.1h0M113.7 997.2h0M116.0 1045.5h0M97.2 1048.5h0M108.1 1010.9h0M87.1 1019.6h0M115.7 1021.0h0M103.1 1001.7h0M110.4 1010.1h0M84.3 1039.0h0M130.6 1001.1h0M104.6 1012.1h0M123.9 1040.6h0M143.5 1028.4h0M104.3 1046.7h0M150.6 1010.1h0M90.9 1037.1h0M117.1 1013.4h0M97.8 1026.6h0M90.0 1035.1h0M155.2 1037.3h0M102.4 1015.0h0M144.8 1029.3h0M143.9 1035.0h0M124.3 1022.4h0M134.6 1049.3h0M136.3 1018.1h0M126.7 1061.1h0M114.4 1045.1h0M163.8 1021.6h0M121.1 1048.0h0M87.4 1035.8h0M92.6 1014.7h0M86.8 1013.3h0M91.0 1007.6h0M104.4 1010.4h0M100.5 1057.8h0M96.1 1027.2h0M151.4 1028.1h0M138.8 1012.6h0M118.3 1007.1h0M91.5 1037.3h0M121.4 1028.2h0M91.4 1034.1h0M105.3 1037.6h0M101.8 1002.5h0M91.5 1037.7h0M115.2 1048.5h0M120.0 1023.1h0M151.1 1019.9h0M100.0 1064.4h0M94.4 1012.9h0M101.2 1059.5h0M129.6 1043.7h0M93.3 1023.1h0M108.3 1004.7h0M98.0 1025.1h0M106.5 1047.6h0M106.6 1038.5h0M125.0 1020.4h0M101.7 1063.5h0M120.4 1058.6h0M107.6 999.9h0M132.0 1049.6h0M125.8 1018.5h0M117.7 1053.0h0M136.1 1027.0h0M128.3 1039.0h0M109.0 1015.6h0M152.5 1031.2h0M105.9 1028.4h0M133.4 1011.9h0M121.5 1003.4h0M142.8 1025.3h0M136.5 1038.5h0M128.5 1036.2h0M125.5 1023.4h0M116.1 1006.9h0M117.7 1057.7h0M110.3 1011.3h0M127.9 1044.8h0M150.7 1032.5h0M142.3 1029.1h0M141.2 1045.9h0M106.1 1061.0h0M150.5 1014.3h0M110.9 1005.8h0M105.2 1015.9h0M107.4 1001.6h0M140.4 1015.0h0M111.8 1019.7h0M127.3 1013.5h0M130.3 1012.7h0M117.3 1003.1h0M145.1 1043.1h0M151.9 1037.0h0M126.3 1020.2h0M129.2 1004.6h0M85.6 1028.6h0M138.4 1015.8h0M107.1 1028.4h0M90.2 1006.8h0M129.1 1016.7h0M110.0 1010.3h0M105.6 1033.8h0M125.6 1052.3h0M118.9 1007.2h0M160.5 1025.4h0M113.4 1035.9h0M128.8 1023.2h0M138.9 1049.1h0M99.1 1039.2h0M105.8 1034.0h0M120.4 1065.7h0M140.5 1049.7h0M120.5 1011.5h0M100.2 1055.5h0M105.4 1019.8h0M116.0 1057.5h0M108.8 1028.4h0M122.0 1019.2h0M119.8 1033.1h0M151.9 1026.3h0M100.4 1047.2h0M147.8 1016.2h0M99.6 1026.6h0M151.1 1032.8h0M85.6 1040.6h0M134.2 1054.1h0M94.3 1011.4h0M105.2 1048.2h0M131.0 1001.7h0M110.3 1041.7h0M151.9 1026.1h0M93.5 1040.8h0M113.0 1055.7h0M107.0 1032.6h0M137.8 1031.8h0M102.2 1039.7h0M112.2 1055.7h0M89.4 1010.8h0M107.2 1020.9h0M120.9 1063.4h0M102.1 1032.2h0M90.6 1009.2h0M119.2 1007.6h0M118.3 1022.2h0M156.8 1015.6h0M119.0 1047.4h0M153.0 1014.0h0M112.5 1017.6h0M143.6 1040.7h0M105.2 1006.0h0M104.4 1044.9h0M155.2 1018.1h0M86.4 1018.5h0M127.1 1008.7h0M107.8 1056.1h0M151.1 1041.5h0M163.7 1019.9h0M147.3 1039.6h0M121.9 1005.1h0M118.0 1040.0h0M143.5 1008.9h0M139.1 1041.8h0M107.2 1012.5h0M114.7 1062.4h0M123.1 1014.7h0M113.6 1056.0h0M105.7 1033.8h0M131.3 1001.2h0M101.5 1027.2h0M127.8 1037.4h0M139.8 1017.2h0M137.1 1044.5h0M119.1 1035.0h0M126.3 1041.1h0M85.6 1010.6h0M105.1 1046.1h0M130.8 1029.9h0M107.9 1007.3h0M131.1 1022.9h0M136.6 1007.9h0M148.9 1041.5h0M142.9 1037.3h0M108.3 1068.0h0M90.2 1032.5h0M126.8 1040.5h0M129.7 1032.1h0M89.8 1032.3h0M99.9 1042.3h0M99.9 1040.2h0M98.1 1021.4h0M113.8 1015.1h0M111.8 1047.2h0M110.5 1013.2h0M92.9 1015.1h0M146.9 1011.9h0M111.1 1039.5h0M90.8 1015.5h0M99.7 1043.6h0M114.5 998.6h0M128.5 1058.8h0M117.4 1063.7h0M98.1 1029.3h0M154.6 1029.0h0M130.2 1057.7h0M118.2 999.3h0M97.4 1044.9h0M117.3 1045.1h0M111.8 1040.5h0M87.6 1023.2h0M106.2 1039.0h0M116.4 1023.7h0M121.1 1002.4h0M127.4 1043.1h0M143.9 1039.1h0M120.2 1015.5h0M109.5 1051.6h0M125.8 1046.5h0M139.8 1022.5h0M153.1 1041.1h0M115.0 1040.7h0M142.5 1021.0h0M123.8 1038.6h0M114.6 1010.1h0M125.4 1015.2h0M100.1 1002.0h0M113.1 1017.4h0M121.9 1032.9h0M119.4 1032.7h0M86.2 1036.5h0M123.7 1028.4h0M114.1 1036.9h0M114.6 1065.3h0M118.1 1024.0h0M90.0 1031.0h0M136.9 1019.5h0M123.4 1020.3h0M131.3 1013.2h0M148.7 1031.1h0M109.5 1056.5h0M163.4 1026.8h0M122.8 1058.2h0M120.5 1014.3h0M126.6 1051.8h0M111.9 1055.4h0M110.5 1009.1h0M110.7 1068.6h0M108.8 995.5h0M97.4 1017.6h0M109.3 1021.0h0M134.4 1009.5h0M147.9 1038.8h0M112.6 1037.8h0M89.2 1023.7h0M132.7 1019.3h0M127.4 1039.9h0M108.9 1055.2h0M88.2 1021.1h0M150.4 1015.3h0M127.3 1016.1h0M97.9 1012.1h0M158.1 1015.5h0M136.0 1022.8h0M151.8 1033.3h0M94.7 1028.4h0M99.8 1049.8h0M108.0 1040.0h0M110.2 1047.9h0M98.3 1004.5h0M109.8 1050.7h0M85.9 1038.1h0M102.1 1032.2h0M121.9 1035.7h0M145.6 1044.1h0M121.1 1040.7h0M95.5 1005.1h0M117.8 1034.1h0M124.1 1026.9h0M102.2 1002.4h0M114.7 1007.4h0M131.3 1020.0h0M120.4 1000.3h0M110.6 1061.0h0M133.7 1004.5h0M148.8 1009.9h0M149.5 1033.8h0M126.5 1031.5h0M138.3 1020.4h0M122.8 1043.7h0M134.1 1046.1h0M161.4 1018.9h0M141.4 1023.7h0M160.7 1025.5h0M87.4 1034.4h0M119.0 1005.4h0M83.7 1022.1h0M87.8 1012.9h0M124.6 1006.7h0M101.1 1025.8h0M144.3 1029.4h0M141.3 1047.4h0M152.7 1013.2h0M125.4 1053.6h0M119.9 1007.5h0M102.1 1025.9h0M124.9 1021.2h0M105.0 1037.7h0M140.0 1048.6h0M93.5 1007.0h0M113.6 1041.6h0M115.5 1044.8h0M85.5 1029.2h0M143.0 1047.3h0M102.0 1033.2h0M125.8 1009.6h0M137.5 1022.5h0M116.8 1042.6h0M87.7 1035.1h0M134.4 1052.0h0M104.3 1041.2h0M131.4 1010.9h0M126.4 1039.8h0M116.8 1003.1h0M127.4 1054.8h0M102.5 1016.5h0M107.4 1067.9h0M152.5 1041.0h0M108.0 1012.1h0M131.9 1009.5h0M126.8 1029.1h0M111.9 1011.0h0M129.3 1037.5h0M118.8 1054.4h0M112.6 1044.9h0M154.1 1019.8h0M87.4 1026.0h0M109.9 1063.2h0M132.7 1011.7h0M131.5 1045.0h0M99.2 1026.6h0M91.5 1044.4h0M151.9 1015.4h0M153.0 1032.5h0M152.5 1012.6h0M123.3 1026.1h0M120.0 1049.2h0M106.2 1067.6h0M137.5 1041.5h0M134.7 1012.2h0M133.9 1000.5h0M99.6 1002.5h0M116.4 1017.0h0M129.7 1034.7h0M135.4 1011.1h0M83.8 1030.1h0M115.1 1051.8h0M152.3 1021.3h0M103.8 1052.1h0M140.8 1010.5h0M98.2 1027.2h0M113.4 1055.0h0M155.4 1032.9h0M159.8 1021.0h0M127.5 1042.1h0M95.5 1041.5h0M99.9 1010.7h0M108.6 1024.2h0M97.0 1028.2h0M143.5 1010.3h0M118.0 1008.8h0M115.7 1044.2h0M125.1 1061.9h0M133.1 1057.4h0M100.3 1032.6h0M105.8 1041.3h0M120.0 1013.2h0M119.8 1005.9h0M134.3 1050.0h0M99.1 1052.6h0M139.2 1015.3h0M140.0 1012.9h0M87.6 1027.3h0M122.8 1019.3h0M139.7 1015.3h0M116.5 1065.2h0M134.9 1008.6h0M84.4 1023.9h0M111.5 1005.0h0M141.9 1032.7h0M119.6 1054.2h0M95.7 1011.8h0M141.8 1042.7h0M127.8 1051.3h0M134.1 1004.9h0M89.7 1021.2h0M119.5 1055.1h0M112.7 1022.3h0M94.5 1047.0h0M145.7 1043.7h0M134.1 1043.5h0M92.2 1034.8h0M100.9 1036.7h0M90.3 1032.8h0M84.1 1029.0h0M92.0 1012.6h0M128.4 1035.6h0M123.2 1033.1h0M94.8 1021.1h0M143.0 1037.7h0M133.1 1042.6h0M124.7 1046.0h0M96.0 1038.7h0M114.4 1031.1h0M96.8 1025.8h0M90.0 1032.2h0M100.8 1018.7h0M122.7 1043.4h0M110.1 1066.5h0M123.3 1063.3h0M99.0 1058.4h0M151.9 1031.1h0M146.5 1041.3h0M111.1 1032.9h0M155.5 1025.0h0M142.2 1020.4h0M99.5 1057.4h0M86.4 1032.1h0M118.9 1024.0h0M88.4 1032.5h0M113.9 1033.5h0M116.1 1042.6h0M100.6 1052.8h0M99.9 1015.7h0M110.8 1032.7h0M138.8 1004.1h0M108.1 1014.3h0M115.0 1026.4h0M106.5 1065.1h0M120.2 1052.5h0M130.0 1016.7h0M144.6 1035.5h0M158.9 1025.6h0M108.6 1026.5h0M110.6 1068.3h0M85.8 1029.1h0M125.2 1053.7h0M109.4 1056.2h0M143.9 1039.3h0M109.8 1018.1h0M100.8 1015.8h0M88.5 1015.7h0M140.6 1006.2h0M106.2 1034.1h0M152.1 1023.7h0M103.4 1065.9h0M113.3 1066.3h0M132.7 1047.5h0M153.8 1039.3h0M126.3 1001.3h0M135.0 1006.8h0M98.0 1052.9h0M121.3 1054.4h0M157.6 1016.7h0M118.6 999.3h0M120.5 1028.2h0M89.7 1031.6h0M108.5 1055.6h0M120.8 1010.2h0M149.3 1012.1h0M115.4 1029.2h0M97.2 1009.0h0M101.2 1061.1h0M149.7 1031.8h0M101.1 1026.6h0M94.6 1048.9h0M123.5 1040.3h0M155.3 1019.6h0M122.4 1042.2h0M100.7 1020.2h0M105.4 1012.4h0M100.6 1012.7h0M129.6 1029.9h0M122.4 1023.5h0M95.6 1006.6h0M109.5 998.5h0M143.8 1043.6h0M133.7 1034.5h0M136.8 1011.3h0M92.1 1030.7h0M90.7 1022.7h0M91.5 1020.4h0M113.9 997.7h0M115.4 1033.4h0M148.8 1034.4h0M146.1 1038.2h0M98.9 1019.4h0M105.2 1010.8h0M108.3 1048.1h0M107.4 1035.3h0M128.4 1017.9h0M122.3 1015.4h0M85.8 1024.2h0M138.4 1016.3h0M98.7 1034.5h0M101.6 1046.1h0M117.6 1040.7h0M111.6 1005.2h0M156.7 1024.8h0M145.7 1016.8h0M136.9 1043.3h0M106.2 1036.1h0M112.7 1020.3h0M127.9 999.5h0M125.4 1048.9h0M112.9 1002.5h0M155.1 1035.3h0M100.2 1016.1h0M135.8 1030.9h0M96.5 1030.7h0M135.1 1030.2h0M101.6 1043.9h0M93.1 1025.1h0M125.5 1055.9h0M93.6 1032.3h0M139.8 1020.1h0M155.5 1016.4h0M104.6 1026.6h0M152.3 1020.3h0M151.0 1040.2h0M126.8 1026.2h0M140.6 1026.1h0M126.0 1002.6h0M146.0 1024.0h0M101.3 1019.4h0M137.9 1031.2h0M91.4 1032.5h0M104.1 1047.2h0M101.4 1039.0h0M116.5 1026.7h0M89.0 1021.3h0M104.0 1050.9h0M101.1 1012.9h0M102.0 1016.0h0M134.6 1041.4h0M103.1 1035.6h0M106.6 1055.6h0M99.3 1032.4h0M132.5 1044.6h0M133.9 1050.4h0M130.6 1055.4h0M115.6 1049.9h0M98.3 1022.9h0M144.9 1028.4h0M150.5 1016.0h0M132.2 1009.0h0M142.2 1008.2h0M142.3 1012.9h0M109.7 1035.6h0M98.3 1024.0h0M116.6 1020.8h0M144.7 1024.7h0M98.7 1041.4h0M107.0 1043.3h0M155.4 1027.0h0M112.3 1001.1h0M111.7 1005.8h0M94.2 1033.7h0M135.1 1014.9h0M112.0 1057.5h0M116.4 998.1h0M112.0 1057.7h0M126.0 1007.2h0M108.0 1033.0h0M105.6 1018.0h0M100.8 1008.2h0M90.9 1045.5h0M143.8 1008.0h0M123.7 1054.1h0M100.4 1019.4h0M128.7 1014.1h0M114.1 1016.0h0M127.4 1009.0h0M119.7 1052.8h0M118.7 1066.0h0M98.9 1021.5h0M91.4 1030.0h0M132.2 1016.6h0M100.9 1025.2h0M131.0 1003.1h0M107.9 1062.1h0M90.8 1024.7h0M104.9 1059.1h0M130.1 1011.4h0M153.3 1038.8h0M94.8 1033.2h0M116.5 1035.7h0M105.9 1047.2h0M106.7 1003.6h0M118.9 1036.8h0M103.5 1030.4h0M137.2 1042.2h0M104.4 1051.8h0M113.0 1045.2h0M156.4 1027.3h0M123.2 1032.0h0M89.9 1045.0h0M149.4 1041.0h0M120.8 1043.2h0M103.6 1052.8h0M107.8 1045.8h0M89.9 1027.5h0M123.0 1049.9h0M134.0 1034.3h0M117.8 1032.4h0M134.8 1038.6h0M99.2 1035.4h0M110.6 1020.3h0M157.8 1025.6h0M116.7 1021.1h0M113.8 1000.0h0M123.9 1061.9h0M142.6 1036.5h0M127.9 1004.2h0M92.5 1028.2h0M156.8 1028.1h0M118.8 1039.4h0M86.5 1021.7h0M94.0 1013.7h0M104.4 1008.3h0M126.5 1003.3h0M119.5 1029.9h0M98.5 1045.3h0M116.3 1014.0h0M136.8 1028.9h0M89.7 1022.9h0M128.2 1026.2h0M98.6 1038.3h0M148.9 1043.5h0M108.0 1021.2h0M104.6 1064.7h0M117.2 1022.0h0M116.2 1009.7h0M129.5 1013.8h0M113.8 1029.1h0M123.3 1029.7h0M129.9 1018.0h0M110.8 1046.6h0M98.9 1009.1h0M132.0 1016.5h0M116.9 1017.1h0M120.9 1048.6h0M119.7 1057.5h0M107.3 1061.5h0M103.5 1006.9h0M108.7 1009.0h0M130.9 1048.2h0M142.6 1008.6h0M122.8 1045.2h0M153.8 1028.3h0M97.8 1026.7h0M141.2 1040.2h0M123.3 1029.2h0M114.9 1042.0h0M146.8 1021.3h0M107.7 1045.2h0M96.9 1052.9h0M127.9 1023.2h0M102.7 1003.2h0M148.7 1013.6h0M153.1 1015.1h0M138.0 1010.6h0M127.3 1018.7h0M135.6 1038.4h0M100.9 1036.7h0M110.1 1037.7h0M124.3 1020.6h0M111.6 1041.0h0M109.2 1047.0h0M137.5 1011.2h0M139.8 1015.0h0M114.9 1012.6h0M120.0 1036.9h0M88.7 1031.2h0M152.0 1019.2h0M127.5 1058.9h0M147.2 1039.1h0M97.2 1038.2h0M91.6 1021.1h0M90.1 1017.5h0M133.2 1057.0h0M122.2 1010.5h0M132.4 1000.7h0M106.2 1030.7h0M126.2 1048.6h0M137.7 1003.5h0M126.7 1024.8h0M111.9 1028.3h0M134.0 1035.2h0M157.4 1022.3h0M99.7 1050.7h0M136.0 1025.4h0M112.4 1013.5h0M112.4 1045.4h0M138.1 1015.1h0M137.7 1016.2h0M134.0 1011.8h0M114.7 1048.6h0M125.9 1038.8h0M102.6 1039.4h0M131.5 1024.7h0M93.9 1039.0h0M115.1 1058.8h0M127.0 1051.8h0M122.6 1050.7h0M91.9 1007.7h0M142.4 1045.1h0M106.6 1009.7h0M125.6 1056.3h0M104.4 1000.4h0M141.2 1044.6h0M102.4 1022.1h0M143.4 1009.4h0M113.4 1065.2h0M155.7 1028.3h0M111.3 1040.9h0M117.3 1017.2h0M140.0 1049.5h0M99.1 1013.6h0M120.6 1024.5h0M126.9 1039.8h0M152.4 1021.8h0M156.9 1026.0h0M88.7 1043.1h0M83.7 1028.1h0M134.5 1049.4h0M98.6 1004.0h0M149.5 1017.3h0M120.5 1036.3h0M89.3 1027.8h0M102.3 1029.4h0M114.1 1053.7h0M123.1 1038.8h0M131.8 1027.0h0M91.1 1042.0h0M149.4 1039.9h0M153.0 1036.9h0M102.8 1032.5h0M161.5 1026.7h0M134.8 1039.7h0M103.2 1053.0h0M139.7 1017.1h0M115.4 1024.9h0M92.9 1008.0h0M124.9 1003.1h0M149.5 1020.3h0M86.3 1035.2h0M110.2 1038.9h0M155.4 1030.7h0M107.4 1067.2h0M118.0 1004.8h0M132.2 1034.4h0M121.0 1030.2h0M94.4 1043.4h0M133.8 1006.1h0M93.0 1036.7h0M118.0 1025.7h0M163.9 1021.9h0M117.9 1000.6h0M109.0 1056.8h0M141.4 1036.5h0M117.4 1056.6h0M126.9 1057.0h0M93.2 1007.9h0M120.7 1000.5h0M125.3 1054.2h0M95.9 1037.0h0M142.1 1018.1h0M141.1 1015.7h0M136.6 1026.4h0M94.1 1031.3h0M141.4 1040.5h0M112.0 1012.4h0M104.1 1048.2h0M145.1 1018.9h0M99.1 1027.5h0M111.7 1034.0h0M112.4 1055.3h0M122.3 1049.5h0M96.8 1030.3h0M126.2 1057.7h0M119.5 1025.9h0M139.2 1044.1h0M104.4 1055.9h0M117.7 1038.7h0M110.8 997.4h0M101.9 1028.4h0M92.4 1021.7h0M151.5 1014.7h0M111.9 1069.0h0M104.8 1008.9h0M106.0 1016.5h0M89.8 1010.3h0M118.5 1015.3h0M111.9 1013.8h0M121.3 1007.9h0M107.1 1003.3h0M160.5 1018.7h0M131.1 1053.2h0M115.6 1038.5h0M90.6 1037.2h0M157.7 1026.0h0M122.3 1043.1h0M99.9 1042.4h0M151.7 1026.8h0M90.8 1018.0h0M119.7 1050.8h0M92.6 1039.6h0M83.7 1033.9h0M160.7 1031.0h0M114.1 1039.5h0M113.4 1048.1h0M133.3 1025.6h0M113.6 1022.9h0M97.0 1036.9h0M130.3 1047.3h0M116.8 998.0h0M97.9 1045.1h0M139.9 1010.7h0M153.3 1019.6h0M113.4 1036.2h0M108.1 1027.9h0M105.3 1039.7h0M119.5 1019.5h0M85.5 1017.5h0M110.7 1051.7h0M110.3 1018.8h0M118.8 1057.4h0M146.3 1041.8h0M132.6 1033.9h0M134.2 1029.9h0M153.1 1033.7h0M158.7 1028.3h0M101.7 1044.7h0M117.8 1048.9h0M120.5 1058.4h0M109.6 1015.2h0M89.9 1014.6h0M135.1 1010.9h0M89.1 1033.7h0M149.4 1037.4h0M97.7 1012.8h0M130.6 1002.3h0M119.4 1011.0h0M134.5 1044.8h0M160.4 1023.4h0M84.7 1028.9h0M95.9 1037.8h0M144.9 1016.4h0M128.3 1054.5h0M149.9 1022.8h0M133.9 1050.7h0M104.8 1065.2h0M150.1 1036.9h0M116.6 1019.3h0M120.7 1027.8h0M153.2 1020.5h0M97.0 1043.3h0M141.8 1047.2h0M130.5 1044.4h0M157.4 1017.0h0M138.4 1014.0h0M107.1 1058.3h0M91.8 1021.7h0M147.1 1022.3h0M140.6 1031.9h0M96.8 1002.8h0M110.8 1006.0h0M92.9 1013.6h0M99.2 1039.1h0M112.4 1024.2h0M121.9 1054.7h0M121.4 1045.1h0M105.7 1041.2h0M147.5 1013.8h0M99.3 1046.1h0M108.5 1028.5h0M104.3 1005.5h0M88.2 1012.2h0M139.1 1045.0h0M134.8 1027.7h0M108.8 1040.8h0M138.8 1012.4h0M92.5 1019.2h0M137.0 1007.5h0M136.3 1015.0h0M129.3 1007.4h0M109.9 1022.1h0M106.0 1059.0h0M92.8 1044.9h0M141.7 1020.7h0M107.0 1021.3h0M100.1 1052.9h0M118.5 1065.4h0M122.5 1032.1h0M105.1 1028.1h0M109.3 1067.2h0M113.0 1008.8h0M114.8 1000.4h0M114.1 1060.6h0M117.6 1049.5h0M117.4 1049.4h0M153.3 1022.1h0M135.4 1049.0h0M139.8 1016.3h0M128.9 1056.3h0M111.2 1030.3h0M126.2 1002.7h0M145.5 1026.9h0M129.6 1003.6h0M92.1 1035.8h0M85.3 1011.9h0M118.1 1014.0h0M90.8 1026.5h0M112.5 1025.3h0M106.1 1060.7h0M104.7 1010.0h0M98.0 1013.1h0M123.9 1054.3h0M133.3 1033.6h0M98.6 1033.8h0M89.7 1009.4h0M112.9 1070.0h0M110.1 1002.7h0M104.0 1044.8h0M149.0 1042.1h0M110.9 1033.7h0M111.5 1042.4h0M125.9 1042.9h0M101.8 1043.1h0M127.8 1012.1h0M92.1 1028.3h0M113.9 1030.3h0M97.8 1040.3h0M124.3 1053.4h0M107.4 1029.7h0M96.2 1023.5h0M85.4 1027.7h0M104.7 1059.5h0M107.5 1040.4h0M110.2 1002.6h0M124.2 1045.5h0M142.3 1012.8h0M129.6 1022.4h0M109.3 1025.0h0M153.2 1020.6h0M104.1 1038.9h0M154.0 1029.2h0M153.6 1037.7h0M151.1 1012.1h0M87.2 1017.2h0M112.6 1046.1h0M118.0 1049.1h0M107.5 1022.3h0M96.6 1053.5h0M124.1 1005.0h0M110.1 1063.1h0M116.7 1007.6h0M113.8 1039.7h0M98.6 1043.3h0M124.5 1014.8h0M95.3 1022.5h0M101.3 1041.6h0M111.3 1064.8h0M113.3 1042.5h0M135.2 1012.4h0M117.0 1009.9h0M110.8 1048.0h0M130.7 1029.0h0M108.5 1062.4h0M129.3 1031.2h0M131.8 1019.7h0M106.5 1058.3h0M111.6 1056.4h0M152.9 1013.7h0M126.1 1039.4h0M114.3 1012.2h0M121.0 1010.7h0M136.7 1038.5h0M101.1 1058.2h0M118.8 1026.3h0M114.6 998.6h0M114.9 1042.1h0M154.3 1021.7h0M150.7 1041.2h0M149.6 1026.6h0M108.6 1061.4h0M103.1 1060.4h0M92.7 1028.1h0M136.0 1039.3h0M112.9 1036.0h0M94.2 1044.9h0M158.4 1032.8h0M112.0 1024.1h0M101.5 1020.4h0M98.4 1012.3h0M117.3 1011.2h0M120.8 1001.6h0M95.2 1048.6h0M127.5 1033.5h0M112.6 1009.7h0M133.5 1025.7h0M140.5 1024.6h0M151.8 1019.0h0M136.8 1038.9h0M126.3 1031.4h0M88.2 1031.7h0M128.4 1030.4h0M140.5 1021.8h0M138.0 1013.0h0M119.6 1054.2h0M127.1 1013.5h0M100.8 1014.1h0M124.6 1060.3h0M96.2 1050.6h0M151.6 1039.3h0M112.5 1040.5h0M103.5 1055.4h0M105.1 1032.1h0M115.5 1054.9h0M135.9 1052.7h0M140.0 1029.5h0M128.6 1001.9h0M102.5 1001.2h0M133.1 1012.3h0M129.6 1057.3h0M129.1 1006.9h0M85.6 1032.3h0M141.5 1046.2h0M138.2 1035.1h0M142.1 1007.4h0M112.7 1004.9h0M97.4 1022.9h0M117.9 1048.9h0M94.5 1037.1h0M123.5 1043.4h0M93.8 1040.6h0M143.8 1022.4h0M84.6 1029.5h0M110.0 1069.9h0M103.3 1001.8h0M91.7 1013.3h0M111.6 1012.0h0M122.0 1055.8h0M143.2 1008.5h0M100.9 1035.0h0M154.3 1039.0h0M125.8 1054.2h0M109.9 1040.7h0M142.5 1009.1h0M154.6 1036.1h0M102.7 1055.6h0M135.9 1050.5h0M136.9 1033.3h0M149.3 1029.7h0M111.7 1025.7h0M141.6 1039.6h0M125.2 1009.6h0M116.8 1049.5h0M84.8 1032.4h0M152.7 1038.8h0M118.9 1052.7h0M111.9 1052.5h0M141.0 1016.7h0M109.8 1041.1h0M102.5 1023.7h0M103.1 1031.6h0M118.0 1045.4h0M106.6 1046.0h0M112.1 997.4h0M164.9 1018.9h0M143.7 1021.2h0M154.6 1034.6h0M127.0 1007.8h0M116.5 1011.7h0M127.8 1008.8h0M155.8 1042.2h0M105.0 1043.8h0M88.0 1021.1h0M127.5 1034.0h0M143.3 1032.6h0M102.8 1021.1h0M124.9 1040.1h0M104.5 1032.2h0M90.8 1012.2h0M142.7 1009.6h0M117.4 1046.7h0M84.3 1032.2h0M96.7 1004.8h0M120.4 1056.4h0M106.5 1019.1h0M164.2 1017.1h0M157.1 1026.2h0M101.5 1030.4h0M115.2 1051.9h0M96.3 1049.7h0M145.5 1035.7h0M127.7 1007.3h0M108.6 1010.7h0M140.6 1050.4h0M131.5 1055.3h0M91.5 1025.3h0M108.2 1002.2h0M88.0 1021.7h0M108.9 1068.6h0M95.5 1012.6h0M141.2 1022.6h0M96.6 1020.5h0M124.6 1036.5h0M127.9 1032.4h0M137.0 1043.2h0M125.1 1056.1h0M112.7 1059.9h0M108.1 1031.7h0M109.8 1047.1h0M123.0 1033.9h0M100.9 1024.7h0M88.3 1021.5h0M101.5 1004.7h0M98.4 1024.2h0M128.2 1020.4h0M102.7 1022.4h0M130.0 1056.1h0M128.9 1015.5h0M113.3 1043.2h0M101.1 1007.8h0M129.8 1036.1h0M107.4 1055.1h0M110.6 1007.4h0M163.6 1018.3h0M114.4 1012.5h0M128.1 1037.1h0M84.7 1026.9h0M128.4 1057.0h0M146.2 1020.7h0M163.8 1020.9h0M117.7 1062.9h0M119.0 1049.9h0M126.4 1034.8h0M127.2 1031.7h0M145.1 1040.9h0M135.7 1048.7h0M118.8 1068.4h0M131.2 1044.5h0M119.4 1055.8h0M115.0 1060.3h0M130.1 1050.8h0M123.7 1026.1h0M141.0 1037.0h0M123.1 1047.8h0M125.8 1039.8h0M161.1 1017.9h0M102.0 1032.8h0M101.2 1042.6h0M125.7 1022.5h0M100.1 1006.5h0M88.5 1011.8h0M110.2 999.8h0M124.3 1006.7h0M90.6 1006.8h0M138.9 1046.0h0M124.4 1012.2h0M121.7 1008.6h0M120.2 1048.9h0M103.1 1048.3h0M87.4 1020.0h0M148.4 1017.4h0M107.1 1026.5h0M119.7 1043.7h0M102.4 1018.4h0M107.1 1054.8h0M150.9 1016.8h0M117.2 1051.4h0M155.1 1028.0h0M120.6 1025.2h0M105.9 1058.6h0M104.8 1034.3h0M158.2 1030.7h0M109.4 1063.6h0M112.4 1009.0h0M129.7 1014.4h0M153.5 1013.2h0M151.9 1028.7h0M145.4 1044.1h0M106.5 1065.7h0M163.0 1025.4h0M138.2 1012.0h0M113.5 999.8h0M139.5 1029.7h0M93.3 1044.0h0M104.1 1014.4h0M98.9 1020.4h0M143.2 1037.0h0M123.5 1043.3h0M103.4 1064.5h0M97.4 1037.4h0M110.5 1061.7h0M137.9 1020.2h0M121.1 1057.8h0M100.7 1009.6h0M140.7 1010.6h0M114.7 1047.0h0M92.7 1017.2h0M127.7 1004.4h0M142.9 1041.6h0M91.7 1041.5h0M100.5 1062.6h0M148.8 1024.0h0M120.8 1011.9h0M101.9 1033.2h0M128.6 1020.6h0M124.3 1006.8h0M104.6 1055.7h0M128.5 1047.8h0M96.1 1031.3h0M107.7 1040.8h0M163.2 1014.7h0M163.2 1021.0h0M132.3 1024.7h0M98.7 1027.4h0M130.0 1012.6h0M128.4 1017.7h0M107.9 1005.3h0M136.8 1028.8h0M144.7 1031.4h0M118.5 1043.1h0M117.6 1000.8h0M99.8 1050.0h0M126.2 1025.8h0M108.5 1069.2h0M98.7 1024.5h0M100.4 1053.5h0M104.6 1037.7h0M118.1 1017.3h0M102.7 1029.7h0M146.4 1017.4h0M130.7 1027.4h0M102.3 1002.9h0M124.9 1011.9h0M107.2 1063.4h0M120.7 1049.8h0M118.3 1042.1h0M86.8 1027.1h0M99.9 1025.5h0M125.5 1043.2h0M106.6 1025.5h0M94.5 1044.3h0M102.4 1005.3h0M115.2 997.4h0M132.2 1035.0h0M115.4 1003.0h0M149.1 1012.6h0M124.0 1028.7h0M94.8 1035.9h0M147.9 1044.9h0M103.7 1049.7h0M142.8 1027.8h0M121.4 1026.2h0M101.3 1042.0h0M122.9 1032.4h0M114.3 1064.4h0M118.6 1010.0h0M85.4 1041.6h0M104.4 1033.7h0M121.4 1043.6h0M105.5 1002.3h0M144.9 1038.6h0M97.3 1045.3h0M158.0 1019.0h0M119.6 1005.1h0M102.6 1049.3h0M141.4 1015.8h0M120.8 1047.6h0M150.9 1043.1h0M130.3 1027.5h0M164.2 1019.9h0M95.5 1049.7h0M165.6 1020.0h0M123.3 1036.6h0M140.9 1033.7h0M97.0 1036.8h0M87.5 1020.6h0M107.5 1004.9h0M92.2 1034.9h0M123.0 1008.3h0M117.9 1027.3h0M88.1 1014.3h0M144.6 1037.2h0M99.2 1004.2h0M129.6 1004.6h0M151.8 1024.7h0M101.0 1057.6h0M121.4 1058.1h0M146.5 1035.5h0M88.9 1017.9h0M108.3 1020.0h0M126.3 1018.0h0M133.4 1008.3h0M108.7 1024.5h0M141.8 1044.8h0M147.7 1025.2h0M155.8 1017.7h0M138.5 1016.6h0M123.8 1042.1h0M125.1 1016.3h0M108.7 1059.3h0M127.7 1040.8h0M121.7 1017.8h0M125.3 1033.6h0M92.1 1013.8h0M120.4 1046.7h0M131.1 1044.7h0M152.4 1013.1h0M108.8 1060.8h0M141.3 1046.3h0M131.0 1041.0h0M101.4 1048.3h0M133.5 1053.5h0M158.5 1027.4h0M100.0 1021.9h0M99.6 1056.4h0M95.3 1024.8h0M144.6 1012.3h0M109.9 1002.4h0M118.6 1031.5h0M122.3 1007.1h0M119.9 1028.9h0M130.8 1009.0h0M107.7 1044.5h0M96.5 1043.2h0M140.0 1039.4h0M129.6 1054.0h0M148.8 1011.3h0M111.1 1026.7h0M127.9 1013.3h0M136.0 1033.6h0M114.7 1047.4h0M143.6 1042.7h0M121.2 1049.6h0M95.2 1048.2h0M99.2 1052.2h0M124.9 1045.7h0M155.8 1040.4h0M121.1 1038.3h0M125.2 1038.7h0M95.0 1031.3h0M100.5 1034.2h0M139.3 1039.6h0M87.7 1043.0h0M125.7 1038.5h0M141.8 1017.9h0M113.6 1022.2h0M148.9 1014.2h0M129.1 1035.3h0M113.8 1014.3h0M114.0 1062.4h0M151.3 1010.2h0M116.0 1026.2h0M135.3 1043.6h0M102.5 1016.5h0M158.3 1028.7h0M97.6 1027.4h0M132.4 1021.8h0M103.1 1063.3h0M104.1 1017.9h0M124.8 1006.6h0M120.6 1028.5h0M107.3 1051.6h0M106.1 1050.0h0M127.4 1000.7h0M124.1 1036.9h0M87.1 1041.6h0M100.0 1012.5h0M127.0 1039.4h0M113.1 998.3h0M146.2 1039.6h0M105.0 1064.4h0M109.9 1037.4h0M146.9 1018.1h0M132.1 1021.8h0M115.5 1036.3h0M150.7 1015.7h0M137.3 1007.0h0M134.2 1016.8h0M112.0 1068.0h0M105.4 1040.1h0M119.8 1052.9h0M91.8 1005.3h0M137.8 1033.4h0M87.0 1042.6h0M108.4 1002.4h0M98.1 1037.7h0M116.9 1036.6h0M135.2 1049.8h0M107.1 1034.9h0M127.9 1047.3h0M103.2 1064.8h0M111.6 1060.5h0M133.6 1033.2h0M138.0 1020.7h0M125.4 1006.3h0M96.6 1014.1h0M139.5 1034.7h0M117.7 1002.3h0M153.2 1020.3h0M95.6 1033.8h0M123.4 1027.2h0M152.2 1043.1h0M104.2 1059.4h0M153.6 1017.0h0M89.1 1037.6h0M132.2 1018.3h0M154.8 1040.1h0M110.9 1063.7h0M129.2 1047.6h0M117.5 1045.5h0M135.3 1024.7h0M97.9 1044.8h0M139.9 1024.8h0M111.1 1005.5h0M110.4 1010.9h0M134.6 1018.4h0M123.6 1006.9h0M121.2 1026.1h0M135.0 1017.7h0M139.7 1015.2h0M99.8 1011.0h0M132.7 1015.7h0M113.2 1025.9h0M104.8 1007.4h0M128.3 1029.9h0M129.5 1005.6h0M98.0 1025.4h0M139.2 1009.9h0M109.9 1034.2h0M115.7 1060.4h0M155.2 1029.7h0M110.2 1009.4h0M86.3 1012.6h0M130.0 1019.8h0M149.4 1044.9h0M111.8 1021.4h0M93.4 1008.7h0M137.1 1041.1h0M154.9 1020.8h0M88.7 1017.5h0M128.5 1024.7h0M140.7 1049.4h0M133.7 1046.6h0M94.1 1045.0h0M120.7 1022.0h0M126.7 1035.9h0M151.0 1022.9h0M121.6 1038.7h0M145.8 1016.9h0M116.5 1030.2h0M121.4 1017.3h0M104.0 1023.2h0M131.8 1039.2h0M157.2 1033.8h0M110.5 1029.6h0M109.3 1003.7h0M122.6 1031.1h0M105.4 1037.2h0M106.4 1006.6h0M113.0 1047.5h0M139.0 1049.2h0M117.1 1008.5h0M102.0 1062.1h0M160.8 1023.5h0M100.5 1011.9h0M143.1 1043.9h0M86.6 1038.1h0M138.0 1031.3h0M98.5 1013.3h0M95.2 1036.2h0M91.6 1031.3h0M111.5 1045.0h0M113.2 1043.7h0M135.6 1045.5h0M100.3 1041.4h0M145.4 1023.6h0M113.8 1016.7h0M103.6 1033.5h0M98.5 1049.0h0M106.8 1036.0h0M91.1 1036.0h0M108.0 1049.4h0M140.9 1010.8h0M110.7 1026.0h0M90.5 1023.5h0M132.1 1001.9h0M128.3 1032.8h0M157.2 1030.3h0M138.4 1009.1h0M105.5 1036.5h0M117.4 1059.7h0M102.7 1041.5h0M101.9 1018.3h0M131.7 1009.0h0M156.4 1015.4h0M135.4 1007.7h0M139.8 1037.1h0M88.5 1041.5h0M123.1 1020.0h0M133.9 1023.8h0M155.7 1035.8h0M124.9 1019.2h0M150.8 1012.8h0M132.4 1052.0h0M96.7 1040.9h0M115.1 1029.1h0M103.5 1052.7h0M128.0 1003.7h0M141.2 1039.6h0M150.7 1020.8h0M102.3 1006.4h0M135.8 1002.7h0M152.3 1031.8h0M115.4 1042.6h0M99.9 1024.7h0M102.1 1063.9h0M123.6 1042.7h0M117.9 1004.2h0M128.1 1009.0h0M131.9 1028.9h0M151.8 1040.1h0M149.3 1015.8h0M130.5 1043.4h0M152.6 1025.0h0M155.2 1033.6h0M134.1 1032.7h0M120.7 1027.3h0M146.0 1036.6h0M100.8 1043.4h0M115.5 1052.0h0M119.9 1031.3h0M108.1 1010.5h0M148.9 1012.6h0M96.7 1021.3h0M121.0 1054.4h0M112.4 1029.4h0M84.0 1032.8h0M122.5 1020.6h0M117.4 1039.7h0M119.8 1014.5h0M87.6 1033.7h0M94.1 1021.2h0M137.2 1016.1h0M132.6 1009.2h0M114.0 1066.2h0M134.0 1004.7h0M97.2 1048.1h0M103.0 1012.0h0M118.4 1025.0h0M108.4 1018.3h0M106.4 1015.4h0M112.9 1024.9h0M102.6 1032.8h0M106.5 1015.0h0M101.2 1026.9h0M98.4 1025.2h0M115.5 1013.2h0M120.9 1027.2h0M116.9 1024.2h0M119.0 1017.0h0M103.1 1022.4h0M112.3 1024.0h0M94.5 1024.5h0M100.5 1022.6h0M107.4 1029.2h0M120.6 1023.0h0M119.7 1032.9h0M102.1 1017.7h0M100.6 1024.5h0M114.5 1018.6h0M108.3 1041.0h0M108.7 1038.2h0M91.4 1030.6h0M98.7 1035.0h0M104.0 1039.2h0M99.7 1036.7h0M116.8 1006.8h0M96.7 1035.2h0M104.5 1014.5h0M101.2 1032.9h0M104.9 1027.2h0M99.3 1041.9h0M122.5 1011.7h0M118.9 1024.5h0M118.2 1016.7h0M117.2 1015.5h0M106.9 1025.7h0M109.8 1031.3h0M113.9 1011.2h0M114.9 1022.2h0M102.4 1020.5h0M121.7 1027.6h0M103.5 1010.9h0M119.0 1007.2h0M102.2 1025.5h0M99.8 1033.7h0M103.8 1023.8h0M105.1 1026.8h0M118.3 1008.7h0M115.2 1013.2h0M107.4 1019.8h0M97.0 1027.1h0M120.1 1025.0h0M93.7 1029.5h0M117.7 1026.9h0M110.9 1017.9h0M118.7 1024.9h0M118.4 1031.6h0M115.4 1022.6h0M98.8 1024.0h0M105.9 1029.5h0M111.1 1024.2h0M105.1 1035.7h0M112.4 1017.7h0M104.6 1024.6h0M96.5 1034.0h0M101.1 1023.4h0M103.9 1012.9h0M99.8 1012.8h0M101.8 1018.8h0M118.2 1029.7h0M122.6 1025.0h0M123.3 1018.2h0M106.6 1006.5h0M107.6 1015.6h0M109.7 1004.7h0M96.5 1013.0h0M112.0 1020.6h0M110.3 1019.3h0M114.6 1024.4h0M96.8 1012.9h0M111.0 1031.9h0M100.5 1033.0h0M111.1 1022.6h0M115.2 1014.5h0M92.5 1019.5h0M116.1 1008.0h0M114.6 1026.4h0M103.3 1031.8h0M102.8 1020.9h0M106.2 1031.8h0M127.2 1028.1h0M106.8 1023.8h0M119.7 1025.6h0M109.2 1008.4h0M116.2 1035.9h0M112.6 1019.3h0M116.9 1031.8h0M119.2 1009.4h0M110.6 1031.1h0M101.4 1022.2h0M113.8 1036.2h0M106.4 1025.3h0M123.1 1023.2h0M121.2 1017.3h0M115.3 1028.4h0M99.8 1028.8h0M111.3 1037.2h0M117.6 1027.0h0M109.5 1025.6h0M110.3 1023.3h0M111.9 1031.2h0M114.9 1023.8h0M93.0 1016.7h0M98.0 1039.6h0M117.5 1024.6h0M100.6 1029.1h0M111.4 1029.2h0M108.8 1035.3h0M105.1 1025.3h0M105.9 1019.6h0M107.5 1035.4h0M108.3 1004.7h0M113.1 1008.9h0M111.7 1027.8h0M125.2 1016.5h0M97.9 1027.3h0M90.6 1022.3h0M117.3 1025.2h0M109.2 1033.2h0M109.5 1012.7h0M105.1 1026.0h0M122.5 1027.1h0M104.3 1014.3h0M107.2 1007.8h0M98.6 1029.5h0M116.1 1029.8h0M129.8 1022.4h0M95.9 1019.2h0M105.5 1028.4h0M100.1 1026.8h0M114.0 1033.3h0M99.9 1033.2h0M105.1 1032.8h0M118.0 1020.4h0M102.0 1025.2h0M112.9 1010.8h0M115.5 1033.8h0M110.7 1020.9h0M100.7 1019.3h0M106.3 1033.0h0M97.1 1016.1h0M100.7 1017.0h0M108.2 1023.2h0M109.0 1005.0h0M117.3 1035.8h0M114.6 1025.1h0M97.5 1023.3h0M102.5 1024.1h0M102.3 1028.4h0M98.5 1039.4h0M103.1 1012.3h0M101.9 1029.1h0M116.9 1014.0h0M121.4 1020.5h0M100.0 1018.9h0M125.2 1027.5h0M113.5 1016.1h0M108.8 1018.7h0M98.0 1012.6h0M106.2 1006.1h0M119.2 1018.4h0M110.2 1016.2h0M110.0 1025.0h0M105.7 1035.4h0M111.4 1036.9h0M108.9 1024.5h0M113.8 1028.2h0M109.8 1029.1h0M109.9 1033.4h0M125.0 1019.0h0M119.7 1031.2h0M91.9 1026.6h0M97.5 1023.1h0M113.2 1035.1h0M104.1 1011.0h0M113.1 1013.4h0M99.0 1028.6h0M108.2 1029.9h0M120.3 1014.2h0M102.5 1023.1h0M94.6 1029.3h0M91.7 1020.1h0M104.9 1038.8h0M110.1 1018.3h0M102.4 1013.6h0M100.8 1013.8h0M108.0 1024.9h0M119.6 1021.0h0M109.1 1033.3h0M92.7 1019.7h0M113.5 1033.5h0M107.7 1036.7h0M104.0 1020.7h0M110.5 1037.3h0M106.5 1025.4h0M123.5 1024.4h0M120.0 1020.7h0M102.7 1023.2h0M102.8 1017.7h0M120.7 1018.2h0M105.6 1020.3h0M108.6 1015.5h0M106.9 1028.0h0M106.2 1027.7h0M113.3 1021.4h0M106.9 1011.9h0M118.5 1019.2h0M111.5 1021.9h0M104.8 1024.7h0M109.3 1019.7h0M112.2 1040.4h0M109.4 1023.9h0M113.9 1017.1h0M110.9 1026.6h0M95.2 1011.9h0M103.5 1009.2h0M109.4 1024.5h0M105.5 1019.5h0M122.3 1026.8h0M116.7 1028.9h0M116.2 1016.9h0M106.1 1030.1h0M107.7 1032.7h0M112.8 1020.1h0M97.0 1024.1h0M126.8 1027.0h0M121.7 1020.9h0M106.7 1028.9h0M99.6 1033.2h0M116.5 1027.8h0M90.3 1016.2h0M109.5 1033.8h0M114.5 1016.2h0M119.6 1019.5h0M96.7 1038.5h0M101.5 1025.7h0M120.7 1023.8h0M93.0 1016.7h0M99.9 1013.9h0M130.1 1024.9h0M111.5 1032.8h0M106.0 1009.1h0M104.0 1012.8h0M102.8 1038.2h0M117.0 1008.2h0M111.9 1011.6h0M99.6 1029.1h0M110.8 1038.6h0M114.5 1042.7h0M100.8 1022.5h0M109.7 1024.7h0M120.3 1026.0h0M110.8 1014.2h0M114.3 1012.2h0M115.2 1020.1h0M112.3 1033.1h0M118.5 1033.1h0M91.4 1015.8h0M108.7 1014.3h0M114.5 1021.5h0M113.6 1033.2h0M124.4 1017.0h0M107.7 1016.1h0M107.9 1016.7h0M122.1 1012.2h0M103.2 1040.4h0M102.8 1015.0h0M97.8 1032.3h0M115.3 1027.7h0M112.0 1021.1h0M101.9 1033.5h0M99.8 1011.4h0M121.4 1024.3h0M90.1 1030.5h0M110.6 1027.2h0M119.1 1020.7h0M112.5 1024.4h0M121.9 1012.9h0M115.6 1013.4h0M102.2 1036.0h0M121.0 1027.2h0M102.3 1016.6h0M104.2 1027.8h0M109.7 1042.5h0M88.5 1017.6h0M108.8 1020.6h0M97.2 1015.8h0M110.4 1028.4h0M117.3 1018.1h0M108.5 1022.2h0M116.9 1013.3h0M115.0 1033.5h0M97.8 1024.0h0M106.8 1024.8h0M111.5 1026.0h0M99.0 1013.9h0M110.9 1016.4h0M124.1 1009.6h0M119.9 1012.9h0M113.8 1014.6h0M116.2 1033.1h0M119.6 1031.1h0M117.3 1008.6h0M118.1 1023.7h0M109.9 1034.7h0M110.3 1036.1h0M104.6 1028.7h0M104.5 1032.3h0M118.4 1028.3h0M105.6 1013.3h0M116.7 1014.5h0M102.7 1025.1h0M106.9 1023.5h0M113.6 1035.5h0M116.2 1018.2h0M112.1 1021.7h0M104.2 1021.6h0M118.2 1026.9h0M102.6 1013.5h0M106.8 1023.9h0M116.5 1013.8h0M103.6 1024.0h0M109.0 1021.7h0M105.3 1027.2h0M107.1 1019.2h0M95.3 1036.3h0M128.1 1016.6h0M109.7 1032.4h0M101.2 1036.2h0M104.2 1021.8h0M113.2 1033.1h0M114.7 1040.7h0M110.1 1010.5h0M105.4 1012.8h0M110.6 1011.2h0M99.9 1026.4h0M112.2 1032.6h0M114.0 1040.3h0M115.6 1028.7h0M102.3 1030.8h0M114.5 1034.7h0M129.3 1031.1h0M101.7 1011.7h0M110.1 1030.8h0M106.2 1013.1h0M105.8 1028.8h0M106.4 1018.3h0M93.8 1025.5h0M93.0 1010.6h0M102.7 1023.5h0M107.8 1019.8h0M106.6 1018.2h0M93.1 1010.2h0M114.4 1026.5h0M127.2 1029.8h0M114.2 1036.5h0M88.4 1030.3h0M120.7 1034.9h0M105.1 1009.5h0M114.0 1013.4h0M98.5 1034.1h0M107.5 1035.0h0M108.2 1026.0h0M116.4 1030.0h0M110.6 1036.4h0M111.0 1027.3h0M115.1 1022.3h0M93.6 1031.2h0M127.7 1016.7h0M115.3 1027.6h0M123.4 1022.0h0M104.8 1034.7h0M98.8 1028.2h0M105.6 1026.7h0M96.5 1017.5h0M122.8 1026.7h0M114.5 1032.5h0M118.8 1034.3h0M104.8 1020.8h0M108.0 1018.4h0M111.9 1042.7h0M99.5 1038.7h0M90.4 1034.1h0M118.5 1028.2h0M112.6 1025.0h0M88.2 1019.2h0M110.3 1036.1h0M115.3 1021.1h0M115.1 1011.0h0M110.1 1043.6h0M108.2 1020.2h0M126.2 1033.6h0M94.0 1025.2h0M112.0 1033.1h0M118.7 1028.4h0M103.2 1022.2h0M99.3 1016.8h0M105.5 1037.3h0M115.1 1008.2h0M103.3 1023.7h0M113.0 1020.9h0M107.3 1025.1h0M118.4 1006.4h0M113.0 1012.0h0M122.3 1017.3h0M108.7 1040.8h0M113.6 1021.0h0M106.1 1016.5h0M109.1 1036.6h0M121.9 1013.1h0M116.8 1019.0h0M115.1 1038.4h0M122.8 1027.5h0M118.1 1010.6h0M111.4 1043.6h0M108.6 1007.6h0M105.8 1010.8h0M102.1 1012.0h0M117.3 1032.1h0M117.8 1016.6h0M109.1 1013.7h0M105.3 1016.1h0M113.1 1027.9h0M126.6 1027.2h0M112.1 1021.3h0M96.5 1015.8h0M119.2 1040.1h0M101.9 1023.3h0M107.1 1018.9h0M117.0 1031.3h0M123.2 1022.8h0M110.7 1038.3h0M102.8 1021.0h0M97.1 1030.0h0M128.2 1023.8h0M103.0 1033.1h0M108.9 1016.7h0M121.7 1027.3h0M115.3 1022.3h0M104.6 1040.6h0M108.0 1018.5h0M89.3 1021.4h0M121.9 1029.4h0M128.1 1016.5h0M105.8 1026.0h0M124.2 1014.7h0M114.7 1025.0h0M93.9 1014.9h0M119.7 1023.4h0M99.2 1030.8h0M105.2 1022.8h0M104.2 1009.1h0M112.8 1026.8h0M107.2 1031.6h0M104.3 1034.3h0M127.0 1023.3h0M102.0 1017.9h0M110.2 1036.8h0M101.2 1028.7h0M114.9 1011.3h0M88.5 1017.3h0M110.3 1022.2h0M103.5 1020.4h0M108.7 1030.7h0M103.5 1027.3h0M119.0 1025.9h0M109.7 1017.5h0M106.8 1019.0h0M103.2 1026.3h0M110.2 1039.8h0M117.5 1021.4h0M97.5 1019.4h0M109.1 1019.0h0M101.1 1042.2h0M97.0 1039.3h0M98.5 1028.6h0M110.9 1028.3h0M124.0 1024.3h0M115.2 1037.9h0M108.5 1030.2h0M125.4 1017.7h0M103.8 1009.3h0M105.1 1025.1h0M117.8 1031.3h0M109.7 1025.4h0M105.7 1021.1h0M110.7 1019.9h0M88.0 1019.3h0M120.1 1015.9h0M110.7 1013.3h0M110.8 1020.5h0M111.5 1009.1h0M110.0 1037.4h0M120.9 1015.1h0M92.9 1027.3h0M95.2 1028.5h0M112.0 1006.9h0M121.3 1024.7h0M102.7 1033.1h0M105.2 1019.7h0M127.8 1027.1h0M111.5 1043.2h0M128.3 1021.9h0M117.0 1035.0h0M109.0 1032.9h0M102.0 1037.6h0M104.8 1033.7h0M122.9 1011.7h0M107.2 1027.9h0M106.6 1029.5h0M109.8 1025.4h0M103.8 1027.9h0M107.1 1014.2h0M104.2 1023.7h0M91.6 1022.0h0M114.6 1014.3h0M113.9 1011.1h0M102.1 1020.3h0M118.1 1014.3h0M115.0 1024.6h0M107.7 1010.9h0M120.0 1016.3h0M113.7 1016.3h0M95.9 1020.1h0M92.0 1030.2h0M94.5 1023.5h0M92.8 1015.4h0M112.1 1012.7h0M108.7 1030.2h0M119.0 1017.4h0M103.8 1012.4h0M107.7 1015.7h0M106.3 1015.7h0M116.8 1029.3h0M106.9 1017.4h0M95.0 1028.0h0M114.2 1016.7h0M95.0 1025.2h0M120.2 1035.7h0M100.5 1026.4h0M119.8 1023.8h0M94.8 1021.2h0M103.7 1024.0h0M103.5 1014.6h0M116.6 1025.0h0M99.6 1030.7h0M93.4 1015.0h0M98.9 1027.5h0M109.7 1029.8h0M107.6 1029.2h0M94.5 1023.0h0M109.1 1014.7h0M99.9 1011.7h0M114.9 1018.7h0M110.6 1030.1h0M109.9 1015.9h0M120.9 1038.5h0M104.8 1030.9h0M116.1 1036.4h0M105.4 1023.6h0M110.0 1019.1h0M111.2 1015.3h0M100.0 1023.4h0M117.6 1009.6h0M117.5 1032.8h0M101.0 1019.9h0M113.2 1031.3h0M105.7 1022.5h0M121.6 1026.3h0M110.4 1037.2h0M94.7 1029.6h0M106.4 1031.2h0M109.1 1024.8h0M105.5 1013.9h0M100.5 1028.1h0M112.8 1016.7h0M107.5 1033.0h0M121.5 1016.0h0M119.6 1007.7h0M103.2 1014.7h0M110.7 1024.7h0M118.2 1013.2h0M128.2 1021.6h0M110.5 1015.5h0M113.9 1026.2h0M102.0 1031.6h0M118.6 1030.5h0M118.9 1035.2h0M115.5 1027.6h0M108.2 1023.6h0M101.3 1014.3h0M94.3 1029.2h0M115.3 1008.2h0M99.4 1013.6h0M90.8 1031.0h0M120.9 1022.6h0M110.7 1012.2h0M117.4 1022.9h0M113.5 1019.2h0M121.7 1025.9h0M103.0 1037.6h0M104.2 1020.1h0M111.9 1026.7h0M100.9 1035.4h0M112.3 1025.2h0M96.4 1023.6h0M108.0 1011.1h0M119.2 1018.2h0M110.1 1028.8h0M110.2 1011.1h0M111.4 1016.4h0M110.4 1037.8h0M127.1 1019.6h0M112.3 1018.8h0M104.1 1006.3h0M114.6 1040.4h0M126.0 1025.7h0M118.7 1023.7h0M104.7 1035.2h0M116.5 1033.0h0M106.6 1015.9h0M94.1 1033.8h0M112.7 1020.6h0M116.9 1035.8h0M122.2 1027.5h0M103.2 1030.6h0M105.3 1014.0h0M119.1 1018.7h0M109.2 1017.1h0M102.6 1020.7h0M119.1 1009.2h0M97.9 1012.1h0M108.8 1031.6h0M94.4 1028.0h0M103.7 1030.8h0M109.2 1023.4h0M105.0 1023.4h0M96.2 1027.5h0M109.2 1019.1h0M114.7 1014.8h0M113.7 1038.8h0M98.0 1026.5h0M107.6 1005.5h0M124.0 1023.9h0M108.4 1014.1h0M104.4 1034.6h0M102.1 1008.0h0M111.4 1029.7h0M108.4 1005.8h0M128.9 1022.1h0M107.9 1019.0h0M94.2 1026.4h0M121.6 1025.7h0M117.2 1005.7h0M94.0 1036.2h0M121.4 1024.8h0M110.2 1027.3h0M100.2 1031.6h0M103.1 1026.0h0M123.3 1024.4h0M88.9 1029.8h0M118.1 1018.2h0M101.8 1005.2h0M111.0 1017.1h0M96.2 1011.1h0M104.3 1015.1h0M117.3 1016.9h0M95.5 1030.0h0M103.1 1015.1h0M119.3 1026.2h0M114.1 1024.6h0M124.1 1016.8h0M98.8 1025.1h0M115.4 1027.1h0M113.1 1029.7h0M103.3 1016.1h0M110.1 1023.6h0M100.8 1026.7h0M118.4 1022.7h0M118.4 1016.8h0M107.9 1031.7h0M114.0 1022.1h0M106.9 1021.2h0M118.7 1023.1h0M93.4 1015.8h0M126.3 1031.2h0M120.0 1026.4h0M110.2 1034.4h0M122.2 1021.5h0M121.7 1035.3h0M112.0 1018.1h0M114.6 1025.5h0M110.4 1012.8h0M106.4 1032.5h0M110.5 1010.5h0M112.5 1018.4h0M122.2 1022.7h0M109.4 1025.3h0M96.6 1012.6h0M118.4 1024.8h0M118.0 1036.4h0M106.1 1018.3h0M114.3 1033.3h0M98.6 1017.7h0M101.9 1018.3h0M109.0 1023.2h0M116.2 1029.9h0M105.2 1029.7h0M118.0 1021.7h0M94.4 1027.6h0M105.1 1016.5h0M105.7 1015.0h0M107.7 1027.6h0M120.2 1036.3h0M114.9 1027.3h0M96.1 1033.2h0M101.0 1010.8h0M113.9 1014.8h0M123.2 1010.0h0M103.7 1010.0h0M107.1 1034.4h0M116.3 1021.6h0M93.3 1036.3h0M130.3 1023.9h0M109.7 1028.8h0M108.8 1012.6h0M100.2 1040.1h0M95.1 1037.4h0M104.2 1036.0h0M109.7 1021.8h0M90.8 1030.6h0M104.5 1011.4h0M122.7 1037.2h0M112.2 1043.0h0M93.7 1015.1h0M103.8 1028.2h0M110.4 1024.3h0M100.1 1023.2h0M118.3 1024.8h0M104.4 1024.8h0M103.8 1027.4h0M106.6 1011.7h0M123.9 1030.4h0M111.2 1033.2h0M119.8 1022.2h0M110.0 1008.1h0M121.3 1031.0h0M119.9 1013.4h0M105.0 1020.7h0M103.8 1040.4h0M88.6 1031.0h0M126.0 1030.5h0M104.7 1024.4h0M104.9 1015.1h0M127.4 1016.5h0M90.7 1023.4h0M96.2 1015.9h0M105.7 1016.9h0M102.6 1005.4h0M121.4 1011.9h0M100.4 1014.4h0M114.5 1035.8h0M117.3 1016.8h0M111.3 1013.3h0M117.1 1041.5h0M115.8 1026.9h0M119.2 1025.8h0M101.9 1021.4h0M96.7 1011.5h0M123.1 1017.0h0M117.7 1039.8h0M111.2 1017.7h0M102.8 1023.6h0M122.3 1022.5h0M103.2 1021.3h0M114.5 1017.0h0M106.8 1018.9h0M127.8 1020.8h0M109.1 1021.9h0M120.4 1028.7h0M114.5 1024.7h0M120.2 1025.7h0M109.9 1016.3h0M93.2 1022.9h0M91.4 1030.8h0M117.7 1033.3h0M97.6 1024.9h0M97.6 1031.2h0M112.2 1034.1h0M96.1 1038.9h0M108.3 1007.8h0M99.2 1019.2h0M113.7 1024.3h0M128.3 1019.9h0M106.6 1036.3h0M116.3 1028.4h0M112.1 1030.6h0M123.8 1010.0h0M110.8 1032.0h0M99.0 1006.4h0M109.1 1030.8h0M119.1 1040.3h0M121.0 1030.8h0M110.8 1031.2h0M108.0 1016.1h0M108.6 1018.0h0M100.8 1015.0h0M104.8 1035.0h0M123.1 1028.6h0M113.1 1023.6h0M108.8 1028.1h0M107.0 1006.1h0M105.2 1024.1h0M108.2 1015.7h0M109.9 1015.0h0M124.3 1020.8h0M111.7 1015.4h0M101.5 1036.6h0M108.3 1023.1h0M118.2 1013.7h0M114.4 1025.7h0M98.5 1033.6h0M108.7 1036.4h0M113.4 1017.6h0M90.6 1023.3h0M102.3 1012.7h0M105.4 1026.4h0M97.6 1033.4h0M111.2 1032.8h0M108.5 1007.3h0M116.0 1025.4h0M120.1 1032.4h0M115.0 1034.7h0M114.0 1013.1h0M108.1 1035.9h0M110.1 1018.2h0M117.0 1031.6h0M108.4 1015.1h0M105.5 1024.9h0M109.5 1012.1h0M94.7 1030.8h0M114.3 1029.0h0M107.0 1015.3h0M112.7 1014.2h0M92.7 1030.8h0M103.7 1012.7h0M125.3 1023.0h0M125.3 1034.9h0M103.2 1024.7h0M119.2 1031.4h0M119.3 1021.0h0M102.8 1020.6h0M103.3 1039.1h0M109.0 1029.6h0M112.6 1015.3h0M97.8 1011.8h0M116.1 1026.6h0M111.7 1035.9h0M112.8 1023.1h0M120.3 1030.1h0M123.2 1025.6h0M127.9 1028.6h0M103.8 1023.4h0M100.8 1041.7h0M110.6 1012.8h0M124.3 1033.4h0M121.5 1017.7h0M111.0 1021.8h0M104.5 1029.7h0M127.5 1025.4h0M125.9 1027.7h0M101.1 1019.3h0M113.4 1016.3h0M105.6 1025.3h0M118.9 1010.1h0M118.4 1006.7h0M111.5 1027.0h0M110.9 1029.7h0M123.2 1025.2h0M117.6 1014.0h0M98.4 1033.7h0M122.3 1013.1h0M96.2 1031.6h0M129.8 1018.9h0M125.4 1022.3h0M109.2 1025.2h0M92.0 1033.8h0" stroke="#1f77b4" stroke-width="2.1" stroke-linecap="round" fill="none"/>
<path d="M385.4 892.6h0M350.3 899.2h0M357.4 888.0h0M378.9 890.8h0M354.8 894.2h0M361.6 874.5h0M371.9 888.8h0M356.2 870.8h0M369.3 872.8h0M375.4 881.0h0M345.1 887.8h0M367.8 870.5h0M357.3 866.2h0M372.5 872.1h0M359.4 887.4h0M363.0 892.8h0M377.2 885.6h0M356.7 882.9h0M361.6 902.6h0M358.5 870.8h0M367.1 883.3h0M365.4 894.0h0M376.1 871.1h0M366.4 868.5h0M350.5 894.1h0M369.8 874.6h0M362.8 901.7h0M382.6 893.9h0M344.7 888.4h0M373.8 883.3h0M375.0 869.7h0M354.8 891.5h0M372.6 881.6h0M360.3 887.3h0M363.1 888.1h0M373.9 890.8h0M359.4 881.5h0M369.1 863.4h0M373.5 898.8h0M365.1 870.1h0M372.6 895.8h0M350.2 897.1h0M372.7 885.8h0M360.4 862.9h0M374.9 899.6h0M369.0 873.5h0M376.5 885.2h0M354.4 866.8h0M357.8 900.8h0M349.7 893.8h0M379.9 899.6h0M375.5 886.8h0M361.8 885.1h0M371.3 901.5h0M357.2 882.1h0M376.6 886.9h0M363.4 870.8h0M370.2 887.4h0M372.7 875.4h0M349.3 893.8h0M364.9 862.9h0M378.8 883.5h0M382.8 889.8h0M378.3 891.0h0M364.9 886.5h0M385.3 895.3h0M364.7 903.1h0M377.4 900.6h0M372.5 874.7h0M375.2 891.9h0M384.9 893.3h0M356.3 863.8h0M360.7 865.2h0M367.6 872.4h0M364.5 885.3h0M353.2 886.9h0M377.6 878.9h0M382.9 888.2h0M377.0 891.2h0M379.7 875.5h0M365.4 872.1h0M359.7 881.5h0M355.9 886.2h0M357.2 873.4h0M384.6 894.6h0M368.4 895.1h0M372.2 888.7h0M377.0 885.2h0M359.4 896.8h0M368.4 875.7h0M379.2 886.0h0M346.1 884.6h0M353.5 890.5h0M373.3 883.4h0M369.5 874.8h0M374.1 896.0h0M376.4 894.0h0M354.4 895.8h0M363.7 900.1h0M375.9 869.9h0M372.5 880.4h0M369.5 867.3h0M358.5 884.1h0M349.8 889.7h0M363.1 887.4h0M376.2 876.7h0M363.4 865.3h0M375.3 882.3h0M345.9 895.5h0M366.1 871.0h0M352.8 884.2h0M346.6 888.9h0M360.7 875.3h0M346.5 891.7h0M378.8 876.2h0M374.8 870.4h0M380.4 901.1h0M357.6 889.8h0M357.0 864.7h0M361.1 878.9h0M363.1 882.8h0M355.9 879.7h0M376.7 900.6h0M355.4 873.3h0M349.9 875.7h0M352.7 882.4h0M346.8 879.3h0M378.5 872.9h0M368.4 893.3h0M367.0 876.0h0M369.9 885.6h0M375.1 898.4h0M373.6 893.2h0M364.4 891.5h0M367.8 885.7h0M350.9 881.8h0M374.0 893.3h0M368.8 873.1h0M369.3 875.1h0M353.3 900.2h0M360.7 883.1h0M345.2 886.7h0M366.8 890.4h0M378.6 886.9h0M370.0 867.1h0M381.6 889.0h0M381.8 883.1h0M352.9 892.7h0M354.4 885.6h0M362.5 894.8h0M358.0 870.7h0M382.4 883.8h0M380.9 879.3h0M348.9 891.3h0M366.1 886.5h0M373.6 875.1h0M354.4 900.8h0M384.3 890.6h0M384.9 894.0h0M363.8 860.7h0M368.6 883.4h0M376.3 874.3h0M354.3 882.8h0M350.2 880.3h0M368.7 879.0h0M369.7 871.0h0M377.5 882.9h0M365.4 883.4h0M360.3 866.3h0M350.0 887.2h0M386.7 898.2h0M364.5 874.0h0M364.4 875.2h0M381.2 888.8h0M373.0 880.7h0M373.5 869.5h0M360.3 869.9h0M367.4 894.2h0M361.2 892.9h0M372.0 890.4h0M362.2 869.2h0M374.9 884.4h0M370.1 890.9h0M349.1 893.3h0M366.7 880.6h0M367.4 880.7h0M380.1 875.5h0M367.7 877.7h0M380.8 899.3h0M359.3 864.0h0M362.2 881.5h0M371.7 892.1h0M369.6 900.7h0M358.1 871.7h0M356.1 876.4h0M372.0 882.5h0M362.9 869.9h0M366.6 871.3h0M348.0 885.0h0M365.7 902.0h0M356.8 874.9h0M346.2 893.2h0M369.2 900.2h0M353.6 883.4h0M368.6 876.4h0M381.1 899.8h0M376.8 882.8h0M382.8 900.7h0M374.7 891.7h0M357.5 867.3h0M357.7 889.5h0M371.0 880.8h0M369.9 866.8h0M348.0 894.2h0M349.6 895.8h0M379.6 889.0h0M369.3 864.8h0M378.0 879.1h0M371.9 889.1h0M367.5 895.9h0M375.7 875.6h0M369.1 896.8h0M368.2 871.7h0M352.8 896.5h0M355.3 894.5h0M378.4 876.9h0M363.4 863.6h0M377.3 888.6h0M367.8 897.8h0M368.6 871.7h0M384.5 882.7h0M359.1 878.9h0M355.2 877.2h0M359.0 869.7h0M376.2 870.5h0M372.0 893.7h0M350.8 880.1h0M368.7 865.7h0M375.2 883.4h0M348.1 891.0h0M388.0 895.0h0M363.0 900.6h0M370.9 879.6h0M352.7 900.0h0M370.8 883.0h0M357.6 889.6h0M359.2 882.9h0M372.5 883.5h0M370.2 880.8h0M364.8 862.4h0M357.8 899.6h0M349.2 882.5h0M375.8 891.0h0M379.0 894.1h0M351.3 892.0h0M369.3 884.5h0M369.1 870.8h0M375.5 874.7h0M349.7 891.2h0M376.4 875.0h0M349.4 886.0h0M356.2 873.6h0M359.2 879.8h0M367.2 886.2h0M364.3 874.4h0M348.4 893.0h0M354.7 865.3h0M348.6 894.0h0M354.8 890.7h0M359.0 893.3h0M366.6 897.7h0M369.3 894.7h0M359.4 866.2h0M365.3 869.0h0M372.9 885.0h0M347.2 890.5h0M360.3 878.6h0M360.1 902.8h0M382.7 884.0h0M383.7 882.3h0M357.0 886.4h0M367.9 898.6h0M381.8 899.3h0M371.3 902.3h0M360.2 901.5h0M352.1 878.4h0M365.0 900.4h0M361.3 874.8h0M358.0 900.1h0M361.1 871.8h0M370.3 891.5h0M370.3 900.1h0M382.0 897.6h0M353.8 896.0h0M366.8 865.8h0M348.2 897.2h0M357.0 867.7h0M385.3 898.4h0M363.6 887.6h0M377.1 874.5h0M370.2 898.3h0M381.6 901.4h0M371.9 882.0h0M349.1 879.5h0M350.0 872.5h0M361.8 882.9h0M370.5 869.3h0M364.6 900.3h0M361.4 882.9h0M354.3 892.1h0M362.5 887.9h0M360.5 865.1h0M374.4 869.4h0M362.9 881.6h0M352.6 868.1h0M356.3 884.0h0M383.4 900.2h0M350.8 894.2h0M354.2 886.0h0M383.2 890.0h0M368.6 900.9h0M354.3 899.2h0M372.3 869.7h0M358.9 890.0h0M363.1 878.3h0M353.1 877.3h0M368.5 897.5h0M372.9 873.5h0M369.7 894.9h0M362.1 887.2h0M354.2 889.5h0M371.5 877.4h0M348.0 889.6h0M349.6 887.7h0M365.6 863.6h0M351.4 872.7h0M381.3 898.4h0M353.1 891.2h0M354.5 900.2h0M367.1 863.8h0M352.9 896.7h0M382.3 891.1h0M348.0 885.3h0M371.5 895.1h0M349.4 884.2h0M366.1 895.6h0M381.4 897.8h0M379.5 881.2h0M368.5 892.6h0M367.6 892.5h0M349.8 887.7h0M348.4 887.2h0M360.4 887.9h0M373.9 868.7h0M354.3 880.9h0M349.6 882.3h0M361.4 876.9h0M349.9 887.9h0M379.8 874.5h0M363.5 869.8h0M364.7 863.3h0M381.9 897.9h0M381.1 877.6h0M357.8 877.5h0M371.8 877.2h0M357.2 894.8h0M369.5 866.3h0M354.6 896.1h0M381.4 884.2h0M379.6 892.2h0M382.9 898.6h0M387.4 893.9h0M373.3 883.4h0M369.9 886.3h0M350.8 897.8h0M378.9 877.1h0M347.1 878.9h0M366.7 892.8h0M373.6 884.1h0M382.3 890.0h0M361.6 863.3h0M382.8 895.3h0M347.9 879.4h0M354.0 868.8h0M352.0 878.9h0M357.3 887.0h0M355.7 868.1h0M359.8 896.2h0M363.5 902.7h0M378.1 885.9h0M371.5 871.1h0M380.5 899.4h0M379.1 875.8h0M385.5 897.3h0M363.2 867.6h0M358.6 876.0h0M362.2 885.9h0M358.6 875.9h0M363.2 867.0h0M362.2 886.3h0M381.4 900.2h0M357.4 891.6h0M352.5 888.3h0M363.0 874.7h0M361.0 872.2h0M349.1 888.2h0M355.4 884.5h0M380.7 888.9h0M362.9 873.2h0M371.7 880.5h0M367.0 877.1h0M373.1 900.5h0M381.4 888.5h0M379.8 889.6h0M361.3 861.9h0M366.8 873.0h0M353.5 893.4h0M361.4 865.2h0M345.7 885.8h0M357.9 900.8h0M350.7 884.6h0M376.9 883.1h0M368.4 898.8h0M377.8 872.2h0M358.5 899.3h0M378.9 892.3h0M363.0 868.8h0M363.3 884.1h0M373.2 899.7h0M364.5 902.5h0M376.6 877.7h0M366.7 867.8h0M373.3 891.9h0M376.5 873.8h0M367.3 881.9h0M381.0 878.4h0M377.9 879.3h0M363.5 865.1h0M362.3 882.4h0M349.3 873.8h0M358.0 889.5h0M375.6 872.8h0M362.7 889.7h0M359.2 888.2h0M365.2 863.7h0M354.4 877.0h0M361.8 883.8h0M365.1 895.6h0M378.8 877.0h0M353.5 890.1h0M367.3 877.1h0M371.0 888.2h0M349.1 888.4h0M357.4 888.8h0M355.1 889.4h0M348.5 891.2h0M376.8 873.1h0M379.7 900.6h0M363.3 884.2h0M367.1 871.1h0M378.0 879.1h0M387.1 898.0h0M364.3 862.1h0M379.4 891.9h0M350.4 891.8h0M366.4 863.0h0M376.1 885.3h0M372.6 896.3h0M377.4 901.0h0M375.3 872.1h0M358.2 885.1h0M373.4 887.6h0M367.9 896.3h0M358.5 885.0h0M359.7 882.6h0M361.0 878.2h0M363.9 890.5h0M361.3 892.7h0M351.0 875.8h0M356.8 883.1h0M385.9 896.9h0M356.0 896.7h0M374.7 869.8h0M365.1 863.9h0M383.7 900.3h0M352.4 867.7h0M363.2 873.2h0M364.3 901.3h0M362.8 901.9h0M379.3 875.4h0M356.3 877.5h0M351.7 896.8h0M350.6 876.1h0M384.5 892.4h0M374.3 882.7h0M359.7 901.8h0M356.7 889.9h0M379.1 887.4h0M385.2 894.1h0M358.2 899.0h0M356.7 874.2h0M359.2 902.1h0M372.4 872.5h0M364.4 890.1h0M380.4 882.4h0M378.0 899.1h0M366.6 880.6h0M376.7 876.1h0M384.1 894.3h0M363.4 879.1h0M370.5 884.0h0M356.0 886.5h0M355.7 868.4h0M371.5 892.7h0M379.8 888.5h0M362.6 883.8h0M362.9 872.3h0M377.1 878.0h0M359.1 900.2h0M358.3 890.4h0M352.8 882.0h0M364.7 881.6h0M368.1 871.0h0M358.9 868.6h0M355.8 874.4h0M364.7 879.9h0M371.4 876.0h0M379.7 890.3h0M382.4 892.0h0M349.8 877.5h0M374.1 894.8h0M367.6 873.2h0M371.3 883.4h0M355.0 892.3h0M351.8 891.4h0M384.4 895.8h0M380.8 883.6h0M357.6 864.1h0M354.1 884.8h0M357.4 865.3h0M355.2 885.2h0M378.6 888.6h0M361.9 893.7h0M354.2 871.4h0M360.4 871.0h0M363.4 868.0h0M379.4 880.8h0M371.8 888.6h0M368.8 879.3h0M349.6 893.8h0M368.9 891.8h0M384.2 891.0h0M369.2 890.4h0M362.0 882.9h0M379.0 895.9h0M355.9 891.0h0M359.8 875.6h0M378.8 892.1h0M353.0 901.3h0M350.3 871.4h0M370.2 875.4h0M366.6 890.4h0M351.3 895.5h0M360.4 897.6h0M360.5 892.8h0M364.9 873.7h0M347.4 891.8h0M361.1 869.7h0M384.7 894.6h0M377.1 900.5h0M364.4 884.3h0M351.4 886.7h0M372.1 879.3h0M369.2 887.6h0M370.8 875.2h0M356.2 890.4h0M372.7 899.5h0M362.8 872.7h0M355.4 893.8h0M366.6 880.4h0M373.8 893.0h0M360.7 866.3h0M368.2 874.2h0M373.3 876.7h0M368.5 865.6h0M378.6 890.6h0M349.3 888.8h0M345.2 887.1h0M358.2 890.9h0M348.1 881.7h0M364.2 881.1h0M362.4 867.5h0M362.6 867.2h0M369.4 893.7h0M369.5 866.6h0M373.5 895.1h0M358.8 875.5h0M376.1 870.9h0M378.5 879.0h0M349.6 889.6h0M367.6 869.3h0M367.0 880.7h0M358.7 900.2h0M346.4 883.1h0M375.1 881.0h0M368.9 886.9h0M367.5 893.5h0M353.8 898.4h0M369.3 885.5h0M353.3 870.6h0M356.0 870.1h0M364.4 903.8h0M372.8 883.3h0M379.7 883.1h0M374.6 894.5h0M348.2 896.1h0M355.2 896.9h0M380.6 889.6h0M365.0 880.9h0M364.7 871.1h0M352.8 872.2h0M356.8 897.3h0M356.9 867.2h0M384.1 892.7h0M382.0 894.5h0M346.9 891.4h0M366.4 874.6h0M379.3 898.9h0M352.2 896.4h0M354.7 896.2h0M386.7 898.7h0M350.8 884.4h0M353.2 882.4h0M361.5 891.5h0M368.4 899.8h0M369.9 878.1h0M377.1 884.0h0M367.6 878.2h0M374.1 883.5h0M378.1 899.3h0M371.8 879.4h0M373.4 888.2h0M368.2 874.2h0M363.2 894.4h0M360.9 865.1h0M345.1 885.9h0M375.0 888.4h0M383.4 895.3h0M387.1 896.0h0M353.7 899.0h0M359.9 876.9h0M357.0 867.1h0M366.1 896.9h0M363.9 891.7h0M370.1 875.3h0M351.3 887.9h0M379.4 900.9h0M378.6 891.9h0M357.1 893.0h0M363.8 891.9h0M363.4 861.4h0M362.2 874.6h0M350.6 872.6h0M368.9 871.1h0M370.4 866.1h0M358.6 895.5h0M356.8 868.7h0M369.5 896.7h0M378.5 872.4h0M358.5 879.6h0M360.6 878.1h0M373.4 869.8h0M352.0 880.6h0M355.0 899.5h0M347.5 896.0h0M359.1 901.7h0M347.6 879.9h0M377.7 882.8h0M379.4 885.3h0M346.1 889.4h0M370.6 886.1h0M357.5 870.8h0M379.5 878.4h0M362.6 865.6h0M363.1 897.2h0M384.8 890.9h0M367.9 875.1h0M385.2 889.4h0M381.0 894.0h0M359.4 869.6h0M380.3 898.6h0M354.5 880.8h0M360.8 880.6h0M364.2 896.6h0M369.9 887.2h0M357.3 883.1h0M366.8 893.4h0M374.9 885.8h0M362.1 892.7h0M354.2 868.9h0M354.8 900.4h0M368.5 882.1h0M369.3 893.1h0M346.1 892.9h0M349.5 896.4h0M381.8 882.3h0M352.0 876.1h0M376.9 875.9h0M361.0 880.8h0M357.0 892.7h0M372.4 872.4h0M349.8 896.8h0M360.9 883.9h0M362.4 900.9h0M360.0 897.1h0M380.9 900.9h0M383.6 893.8h0M371.1 865.1h0M353.5 870.2h0M348.9 878.9h0M347.9 881.3h0M353.1 865.6h0M353.9 888.2h0M348.7 889.3h0M375.1 867.8h0M371.7 893.3h0M380.5 882.8h0M377.0 900.6h0M349.8 877.8h0M363.8 897.3h0M368.0 875.6h0M370.9 880.8h0M360.9 861.7h0M372.4 901.4h0M359.0 886.9h0M353.2 888.2h0M360.0 897.5h0M346.7 879.3h0M373.9 880.9h0M361.1 864.1h0M375.3 892.5h0M377.7 887.5h0M362.4 874.2h0M362.5 890.0h0M349.3 878.3h0M349.9 882.8h0M358.5 887.5h0M377.3 890.6h0M384.0 894.1h0M372.6 884.9h0M353.7 880.7h0M369.0 894.3h0M383.5 899.4h0M379.4 896.5h0M353.1 868.3h0M359.4 892.6h0M376.0 892.6h0M356.8 891.3h0M380.0 893.5h0M382.0 889.0h0M351.7 882.8h0M363.2 898.5h0M373.6 888.6h0M374.2 889.3h0M373.9 886.5h0M384.1 897.4h0M364.0 876.9h0M376.1 897.5h0M360.2 861.2h0M346.3 882.8h0M360.9 901.7h0M370.6 897.4h0M373.6 872.8h0M367.6 865.1h0M378.4 885.0h0M382.1 885.9h0M354.4 871.3h0M375.2 868.8h0M354.9 865.6h0M381.3 897.2h0M345.2 887.3h0M363.2 867.3h0M357.5 876.8h0M357.1 892.9h0M368.9 891.0h0M368.5 890.5h0M372.0 881.2h0M373.2 866.9h0M345.7 891.1h0M375.7 878.5h0M378.0 884.3h0M349.0 891.5h0M367.6 883.8h0M348.4 877.9h0M349.0 886.0h0M373.9 889.0h0M380.2 879.8h0M362.7 863.6h0M382.3 885.3h0M376.4 900.9h0M373.4 890.2h0M348.4 876.3h0M362.0 881.9h0M377.9 899.2h0M362.9 866.5h0M358.5 864.8h0M353.1 895.7h0M360.9 876.7h0M355.1 894.7h0M376.6 885.8h0M360.6 894.4h0M359.7 880.0h0M362.5 877.0h0M371.9 882.1h0M352.7 880.0h0M378.1 897.2h0M378.4 887.9h0M379.5 875.8h0M365.6 889.8h0M371.7 883.5h0M348.3 886.2h0M382.0 895.8h0M370.1 889.2h0M383.6 887.8h0M373.2 897.8h0M362.7 864.8h0M368.3 903.0h0M348.1 893.8h0M357.4 877.6h0M368.1 869.4h0M351.1 886.3h0M352.7 878.0h0M376.8 888.0h0M348.4 888.4h0M379.0 877.8h0M373.2 870.8h0M367.7 895.5h0M381.6 895.5h0M375.1 885.9h0M353.5 868.6h0M352.9 883.1h0M358.5 902.0h0M352.4 898.5h0M363.1 870.8h0M359.6 868.3h0M352.6 886.5h0M353.8 878.9h0M359.7 873.5h0M364.3 902.3h0M360.7 902.0h0M365.1 870.6h0M372.1 873.0h0M380.9 889.4h0M369.9 869.4h0M369.0 871.1h0M361.3 880.8h0M357.1 869.0h0M359.8 889.1h0M369.7 894.0h0M359.9 863.8h0M365.7 866.8h0M360.4 899.8h0M386.2 898.7h0M373.4 896.4h0M357.4 876.1h0M348.7 878.4h0M382.7 890.2h0M375.3 897.5h0M359.0 886.4h0M356.4 889.4h0M372.5 871.2h0M352.2 893.9h0M373.5 898.5h0M373.4 894.6h0M378.7 874.5h0M353.8 887.5h0M369.7 866.0h0M384.7 889.3h0M364.0 888.9h0M353.6 899.2h0M368.6 863.4h0M364.3 880.0h0M376.9 876.3h0M348.8 875.3h0M367.2 870.6h0M375.9 887.4h0M382.4 886.1h0M349.1 873.0h0M351.1 880.0h0M355.6 876.2h0M359.2 894.6h0M361.4 899.9h0M374.0 890.3h0M359.1 874.6h0M365.8 894.4h0M347.8 876.7h0M378.3 882.8h0M365.2 893.1h0M385.5 892.2h0M374.9 876.0h0M371.2 901.9h0M368.7 871.8h0M385.9 892.6h0M366.9 885.1h0M349.3 894.2h0M366.0 880.8h0M359.2 893.0h0M357.6 869.7h0M376.9 875.7h0M350.4 877.1h0M352.0 885.9h0M370.7 884.0h0M368.0 883.0h0M372.1 884.5h0M376.8 871.5h0M379.3 881.5h0M370.4 874.7h0M370.3 866.4h0M373.8 892.9h0M378.2 883.8h0M344.8 892.5h0M378.2 884.2h0M361.4 889.2h0M365.8 883.2h0M373.5 897.8h0M373.9 877.7h0M359.9 890.9h0M365.2 869.7h0M374.7 902.2h0M374.9 887.0h0M374.6 887.4h0M362.1 896.9h0M366.3 894.9h0M349.6 878.0h0M382.2 889.3h0M368.9 875.6h0M360.1 870.0h0M368.3 877.2h0M375.2 885.2h0M357.6 884.9h0M380.1 896.6h0M357.7 871.4h0M370.8 899.3h0M366.4 900.9h0M379.8 891.9h0M385.0 898.8h0M360.5 896.0h0M379.7 881.2h0M356.8 868.6h0M373.1 901.6h0M383.2 886.6h0M378.4 894.0h0M364.5 881.9h0M347.9 878.7h0M364.9 886.8h0M350.7 886.3h0M363.0 886.2h0M384.1 894.6h0M352.8 891.5h0M373.0 896.0h0M368.3 867.4h0M368.4 895.7h0M357.9 894.7h0M379.7 888.1h0M361.3 868.9h0M385.6 895.6h0M388.1 895.4h0M367.2 890.3h0M368.8 897.7h0M362.6 882.9h0M382.4 890.9h0M361.3 885.5h0M371.7 869.5h0M350.3 879.8h0M351.3 899.5h0M363.7 898.9h0M365.6 874.5h0M359.1 866.8h0M369.3 888.1h0M354.2 872.1h0M366.8 878.6h0M346.1 884.3h0M359.2 883.9h0M359.5 881.8h0M358.7 887.5h0M348.5 885.1h0M373.8 890.2h0M370.1 867.8h0M372.4 891.2h0M355.3 878.7h0M364.2 880.1h0M370.1 866.7h0M350.6 876.4h0M378.0 895.8h0M374.5 891.6h0M359.6 887.4h0M358.7 897.2h0M358.2 878.6h0M357.6 884.7h0M378.3 874.6h0M362.8 893.0h0M353.3 892.6h0M359.2 867.7h0M368.9 863.3h0M357.9 880.9h0M355.5 887.1h0M386.7 896.8h0M351.9 876.9h0M352.5 887.4h0M356.0 892.0h0M371.9 870.8h0M365.2 865.6h0M355.3 866.2h0M371.5 884.4h0M381.2 891.5h0M361.0 879.6h0M367.9 894.9h0M382.2 881.5h0M360.3 867.4h0M369.2 892.7h0M350.9 874.1h0M353.5 879.7h0M383.2 896.7h0M376.8 888.1h0M365.4 862.6h0M384.9 888.4h0M357.7 876.7h0M363.4 901.4h0M354.9 887.0h0M370.8 897.9h0M361.0 870.6h0M383.0 879.7h0M358.6 902.0h0M375.8 878.9h0M369.1 873.2h0M382.7 886.0h0M379.6 874.0h0M355.9 902.7h0M359.3 902.0h0M365.4 865.2h0M351.6 888.4h0M381.0 897.7h0M373.3 879.0h0M380.6 895.1h0M385.5 897.8h0M372.9 868.7h0M375.9 883.4h0M375.8 870.6h0M372.6 872.3h0M384.1 891.7h0M356.3 897.1h0M373.8 880.6h0M359.1 884.9h0M351.4 894.4h0M377.1 872.0h0M372.4 898.8h0M362.8 897.1h0M384.7 887.0h0M347.7 876.0h0M371.5 893.9h0M356.0 883.5h0M355.7 900.0h0M361.2 869.4h0M376.0 891.3h0M366.2 871.2h0M384.5 898.6h0M369.8 869.3h0M350.4 886.1h0M349.5 876.6h0M358.1 880.5h0M362.0 883.8h0M371.4 893.7h0M353.5 868.1h0M367.2 867.7h0M355.7 897.6h0M373.2 888.2h0M378.4 873.5h0M356.0 893.7h0M353.5 899.6h0M357.8 868.9h0M365.1 892.5h0M346.6 892.5h0M364.8 863.4h0M376.9 891.4h0M362.5 889.6h0M380.1 885.5h0M350.8 869.2h0M385.2 897.5h0M358.8 864.3h0M358.4 903.2h0M346.3 884.8h0M351.0 900.9h0M362.5 900.8h0M363.1 880.1h0M364.6 882.5h0M365.3 869.0h0M347.0 878.8h0M373.0 890.6h0M376.7 896.4h0M369.3 877.8h0M354.9 885.0h0M354.7 873.3h0M369.8 877.1h0M369.0 894.5h0M351.0 894.7h0M349.8 882.2h0M374.0 870.3h0M362.7 898.1h0M366.2 869.9h0M378.6 874.9h0M367.5 897.2h0M354.2 873.6h0M354.4 890.4h0M365.1 871.4h0M372.6 892.1h0M360.5 884.4h0M350.4 899.3h0M356.5 884.8h0M382.0 891.7h0M381.6 881.7h0M370.2 888.0h0M382.1 896.6h0M360.7 868.1h0M352.6 882.0h0M362.6 886.1h0M370.4 900.6h0M366.2 875.2h0M353.4 895.5h0M364.0 902.6h0M371.8 898.8h0M362.7 872.4h0M373.9 888.4h0M355.2 899.9h0M377.1 888.0h0M369.1 900.5h0M372.9 876.2h0M361.0 885.7h0M351.8 895.4h0M368.3 883.2h0M374.8 887.1h0M351.8 880.3h0M375.1 869.9h0M369.8 880.0h0M369.6 883.0h0M371.7 866.8h0M353.8 867.9h0M381.3 888.9h0M370.5 894.7h0M347.7 896.1h0M352.3 897.2h0M370.6 899.6h0M356.5 883.4h0M371.8 888.8h0M358.4 875.7h0M347.8 885.9h0M384.3 883.8h0M348.5 879.9h0M365.6 861.6h0M351.4 882.8h0M378.6 873.4h0M356.4 893.8h0M349.9 876.8h0M345.4 891.8h0M380.0 876.8h0M360.1 880.9h0M346.8 878.0h0M371.2 873.3h0M363.3 864.5h0M352.1 879.2h0M358.3 868.1h0M351.7 889.0h0M351.6 888.0h0M381.4 883.1h0M358.0 881.4h0M366.5 884.3h0M355.6 885.2h0M346.1 887.3h0M344.9 888.4h0M360.5 877.3h0M371.7 894.6h0M355.7 869.5h0M357.0 871.0h0M373.8 878.9h0M355.1 895.4h0M354.8 866.3h0M349.6 873.4h0M365.1 866.8h0M350.5 892.6h0M367.0 862.6h0M377.4 877.1h0M362.7 889.4h0M372.7 885.9h0M369.2 891.4h0M346.9 886.7h0M364.5 872.5h0M356.5 883.6h0M364.0 878.3h0M370.0 867.4h0M383.7 893.3h0M362.4 866.2h0M368.5 865.8h0M352.3 891.5h0M367.3 882.1h0M359.4 868.5h0M365.0 893.4h0M363.0 893.4h0M355.6 882.5h0M357.7 874.7h0M350.1 872.8h0M365.6 889.5h0M355.1 865.8h0M368.8 891.9h0M347.3 884.0h0M360.7 881.7h0M373.9 899.4h0M364.3 870.9h0M355.4 875.9h0M360.7 869.4h0M375.9 894.4h0M367.5 900.7h0M379.4 888.8h0M367.2 894.5h0M380.0 881.6h0M369.8 870.2h0M359.0 896.8h0M373.0 899.0h0M350.8 880.1h0M367.0 879.7h0M382.5 894.4h0M382.3 880.5h0M354.7 892.7h0M354.8 874.6h0M348.1 885.2h0M358.3 881.0h0M370.1 888.0h0M353.2 873.4h0M367.0 887.2h0M379.9 880.5h0M348.8 875.6h0M372.1 891.9h0M359.5 895.6h0M348.8 890.8h0M378.7 893.7h0M345.9 886.9h0M363.9 864.6h0M378.7 878.6h0M368.8 897.7h0M373.8 883.9h0M371.5 884.1h0M370.0 868.9h0M366.8 896.2h0M353.4 897.8h0M364.9 873.4h0M353.4 894.9h0M347.4 882.4h0M367.3 886.0h0M378.9 900.4h0M371.4 901.6h0M367.0 887.5h0M349.7 882.8h0M347.6 892.9h0M380.6 885.1h0M371.5 894.7h0M352.9 889.1h0M374.5 902.1h0M354.4 875.9h0M372.8 885.1h0M368.7 879.0h0M368.2 884.5h0M364.6 897.5h0M371.6 887.5h0M383.0 884.0h0M355.3 867.8h0M384.3 897.2h0M375.6 881.9h0M376.2 878.4h0M369.8 870.3h0M356.1 867.0h0M378.5 894.7h0M355.2 897.9h0M354.9 880.2h0M349.9 895.3h0M364.9 864.1h0M375.6 878.7h0M366.9 899.0h0M372.4 866.6h0M346.8 887.1h0M353.1 868.9h0M373.0 871.4h0M380.2 893.0h0M367.5 882.0h0M357.0 869.8h0M378.6 879.2h0M355.9 882.3h0M382.6 881.2h0M364.2 869.0h0M353.9 872.8h0M374.4 897.7h0M377.5 890.8h0M367.2 898.0h0M362.6 863.6h0M374.8 902.3h0M360.1 875.2h0M367.9 882.1h0M361.2 885.9h0M353.1 870.5h0M347.0 895.8h0M386.0 899.1h0M381.6 896.1h0M375.3 900.2h0M353.2 882.0h0M369.2 899.0h0M347.8 894.1h0M349.7 876.5h0M347.8 891.0h0M360.9 900.8h0M363.2 864.5h0M377.1 898.0h0M378.9 899.8h0M369.0 896.4h0M371.4 875.1h0M363.2 891.2h0M372.9 884.3h0M385.1 898.9h0M351.7 875.1h0M381.6 901.7h0M364.0 868.8h0M375.8 881.8h0M351.0 882.3h0M355.2 882.9h0M358.9 899.3h0M350.7 890.8h0M349.2 880.0h0M350.9 878.3h0M385.5 896.0h0M349.1 890.7h0M368.3 894.2h0M355.3 898.5h0M371.9 872.9h0M363.5 895.3h0M348.5 872.1h0M355.1 867.6h0M377.3 875.0h0M359.1 877.7h0M352.2 895.9h0M375.9 882.5h0M369.2 876.1h0M382.7 895.7h0M359.9 886.0h0M353.0 901.5h0M372.3 886.5h0M356.7 901.5h0M375.0 893.8h0M356.5 873.3h0M355.6 885.6h0M383.4 881.9h0M367.6 884.8h0M385.4 888.6h0M381.0 892.4h0M357.0 900.1h0M367.8 894.9h0M368.7 893.3h0M368.6 876.5h0M362.6 893.4h0M357.6 897.6h0M352.7 896.4h0M372.4 895.6h0M381.4 901.5h0M351.0 872.1h0M380.9 893.5h0M367.1 888.8h0M381.4 894.2h0M357.4 888.7h0M366.7 875.7h0M346.3 889.1h0M371.8 899.9h0M363.0 880.2h0M362.3 882.9h0M346.7 886.7h0M369.3 900.6h0M354.5 866.0h0M351.1 887.8h0M369.4 877.0h0M374.0 894.1h0M363.7 882.0h0M359.6 880.2h0M352.9 873.7h0M372.0 880.6h0M380.0 890.7h0M356.9 889.9h0M377.2 888.5h0M357.7 877.7h0M345.9 890.7h0M357.3 876.5h0M366.5 901.8h0M366.4 872.9h0M360.9 896.8h0M353.3 883.4h0M347.0 878.7h0M355.2 901.3h0M382.7 899.9h0M350.2 893.4h0M382.1 886.9h0M362.5 888.1h0M354.8 878.2h0M350.2 890.3h0M357.3 894.4h0M372.9 899.9h0M355.8 896.8h0M362.7 896.0h0M379.0 886.2h0M379.3 889.4h0M375.3 875.6h0M355.9 880.3h0M349.5 879.8h0M354.0 895.6h0M365.9 863.3h0M367.5 862.6h0M357.2 868.5h0M380.8 897.8h0M376.6 888.9h0M360.4 888.7h0M364.0 896.6h0M353.3 895.3h0M346.7 883.7h0M355.8 892.8h0M381.2 882.3h0M370.2 888.6h0M385.5 899.1h0M376.6 892.8h0M376.9 900.6h0M353.9 884.1h0M365.0 868.4h0M353.8 874.0h0M365.1 882.1h0M367.1 890.7h0M376.6 889.3h0M373.9 899.0h0M362.4 865.2h0M362.5 881.6h0M370.5 896.0h0M360.6 884.1h0M351.2 895.1h0M360.0 872.2h0M376.2 881.5h0M379.1 879.0h0M350.2 888.6h0M378.9 880.4h0M372.2 895.6h0M386.3 898.4h0M366.4 890.5h0M366.2 899.9h0M360.5 869.2h0M369.7 863.5h0M347.9 884.4h0M373.4 869.0h0M370.0 871.6h0M363.1 899.6h0M373.9 870.3h0M368.4 899.6h0M379.5 880.0h0M358.3 879.8h0M382.2 890.0h0M348.5 875.1h0M381.6 884.2h0M377.7 879.2h0M380.6 896.5h0M375.5 896.4h0M372.1 880.4h0M363.9 887.5h0M374.9 873.6h0M353.2 896.2h0M346.3 895.4h0M352.6 884.6h0M355.4 900.4h0M356.3 893.4h0M346.1 886.1h0M381.6 897.6h0M379.0 885.4h0M355.5 897.8h0M353.7 877.1h0M357.1 865.9h0M359.6 901.6h0M349.0 882.4h0M367.0 899.4h0M356.6 873.6h0M375.5 875.7h0M361.6 873.2h0M384.2 899.2h0M365.6 872.6h0M350.6 888.7h0M358.9 884.7h0M382.1 888.3h0M361.5 888.0h0M350.9 881.4h0M349.9 897.0h0M360.7 888.4h0M350.9 885.5h0M350.3 870.6h0M370.1 871.8h0" stroke="#f58231" stroke-width="2.1" stroke-linecap="round" fill="none"/>
<path d="M348.5 866.5h0M347.5 898.5h0M388.0 882.0h0M387.0 897.5h0M371.0 867.5h0M352.0 871.0h0" stroke="#7f8f5a" stroke-width="1.8" stroke-linecap="round" fill="none"/>
<path d="M437.0 1164.5h0M403.1 1150.1h0M389.4 1120.2h0M379.6 1135.7h0M420.4 1153.6h0M381.7 1144.3h0M393.3 1168.6h0M427.7 1162.2h0M389.6 1123.9h0M423.2 1173.7h0M402.7 1125.3h0M416.4 1130.8h0M408.8 1158.4h0M419.4 1176.0h0M400.4 1113.2h0M383.8 1132.9h0M424.7 1185.2h0M383.1 1143.9h0M406.3 1166.8h0M393.1 1110.4h0M399.0 1133.5h0M411.5 1149.4h0M419.4 1134.5h0M388.4 1132.6h0M394.1 1162.3h0M408.8 1188.0h0M428.8 1135.1h0M426.9 1148.2h0M401.0 1129.3h0M404.0 1155.3h0M434.5 1149.4h0M399.0 1140.2h0M383.2 1130.2h0M386.7 1145.6h0M396.8 1132.6h0M396.1 1107.9h0M397.9 1139.0h0M412.2 1163.2h0M386.3 1112.9h0M394.9 1174.1h0M418.8 1185.2h0M392.7 1130.8h0M417.6 1185.5h0M411.3 1178.1h0M407.6 1162.3h0M407.9 1150.0h0M418.4 1163.4h0M426.0 1140.0h0M403.8 1152.9h0M424.1 1149.8h0M427.5 1142.9h0M394.3 1116.6h0M407.8 1149.4h0M412.4 1150.2h0M427.5 1155.8h0M434.6 1150.2h0M412.7 1188.6h0M387.8 1122.0h0M397.4 1118.1h0M430.2 1176.2h0M407.6 1139.7h0M422.8 1150.4h0M388.5 1150.7h0M416.0 1124.3h0M410.1 1144.6h0M400.6 1152.8h0M415.5 1189.5h0M408.5 1183.5h0M421.5 1176.7h0M426.2 1162.0h0M404.1 1176.2h0M393.1 1163.4h0M429.2 1136.1h0M396.2 1145.3h0M402.2 1158.5h0M402.7 1178.6h0M436.3 1163.5h0M391.2 1135.5h0M411.3 1135.0h0M424.6 1158.3h0M412.6 1139.6h0M438.3 1155.5h0M399.9 1136.6h0M430.7 1139.7h0M403.3 1123.5h0M411.4 1160.3h0M414.9 1136.5h0M413.7 1159.2h0M416.5 1186.2h0M399.6 1181.7h0M392.4 1122.6h0M389.8 1160.9h0M433.3 1152.9h0M387.5 1101.1h0M403.8 1158.3h0M417.3 1151.9h0M396.5 1135.1h0M421.4 1179.8h0M395.9 1173.6h0M428.0 1172.7h0M385.3 1152.6h0M390.6 1101.5h0M424.5 1130.0h0M416.8 1157.0h0M411.4 1156.7h0M429.7 1179.2h0M430.1 1142.9h0M385.8 1150.7h0M379.9 1137.7h0M391.4 1151.5h0M399.0 1142.9h0M403.5 1149.3h0M427.1 1143.4h0M431.9 1150.4h0M392.2 1147.8h0M417.0 1168.9h0M407.1 1142.2h0M392.1 1120.0h0M424.3 1163.3h0M408.8 1134.9h0M397.1 1134.0h0M405.0 1149.0h0M398.0 1128.5h0M420.9 1188.4h0M388.8 1105.1h0M398.1 1147.8h0M398.5 1147.4h0M399.8 1125.2h0M413.7 1188.1h0M435.7 1166.3h0M418.4 1191.7h0M438.1 1159.9h0M420.2 1188.4h0M399.9 1130.1h0M404.3 1117.4h0M387.4 1161.1h0M429.7 1149.3h0M420.0 1152.8h0M383.6 1125.6h0M433.7 1158.9h0M419.1 1126.7h0M385.4 1154.2h0M425.0 1164.0h0M390.5 1121.8h0M420.9 1145.5h0M386.6 1151.8h0M400.3 1146.2h0M418.0 1128.9h0M398.6 1155.5h0M429.8 1141.0h0M404.9 1126.3h0M400.7 1160.5h0M410.1 1188.9h0M421.5 1145.4h0M384.5 1146.4h0M387.0 1154.4h0M407.5 1129.6h0M391.1 1107.4h0M406.9 1157.6h0M425.1 1162.5h0M408.3 1178.4h0M407.4 1151.0h0M395.0 1161.6h0M428.1 1158.9h0M397.2 1109.0h0M404.1 1113.6h0M424.2 1184.3h0M433.1 1146.7h0M412.5 1184.2h0M385.1 1162.2h0M412.8 1174.1h0M397.0 1153.2h0M391.5 1154.0h0M414.5 1181.8h0M402.2 1119.3h0M405.4 1117.3h0M414.9 1154.8h0M399.3 1133.7h0M396.3 1151.0h0M401.3 1159.9h0M431.3 1147.7h0M437.0 1167.0h0M425.8 1131.4h0M423.3 1177.9h0M402.0 1149.2h0M393.4 1139.4h0M401.6 1114.5h0M412.3 1156.4h0M423.7 1139.7h0M397.8 1137.3h0M410.1 1156.4h0M401.0 1138.5h0M387.8 1134.5h0M418.3 1122.5h0M415.0 1178.1h0M394.7 1166.8h0M429.8 1181.7h0M429.1 1135.7h0M403.3 1148.6h0M391.8 1132.0h0M432.5 1158.9h0M413.2 1150.4h0M421.8 1166.2h0M410.9 1179.4h0M398.3 1139.0h0M433.0 1169.2h0M393.9 1111.2h0M423.6 1126.9h0M401.8 1127.0h0M426.6 1180.9h0M391.9 1147.5h0M408.0 1140.0h0M426.4 1165.7h0M411.2 1159.6h0M416.6 1149.6h0M404.0 1142.9h0M429.2 1131.7h0M402.0 1180.9h0M397.1 1125.1h0M397.2 1150.0h0M403.5 1123.6h0M390.2 1158.5h0M404.9 1137.8h0M420.4 1155.1h0M413.9 1181.0h0M428.2 1152.4h0M387.9 1155.4h0M407.5 1134.4h0M413.4 1150.8h0M437.3 1160.3h0M428.7 1146.5h0M437.7 1160.8h0M420.0 1159.2h0M384.7 1142.2h0M424.1 1148.2h0M416.0 1121.5h0M435.9 1141.8h0M412.6 1149.7h0M432.2 1143.3h0M415.0 1150.3h0M416.9 1163.8h0M419.4 1122.3h0M411.3 1135.9h0M408.5 1175.6h0M394.0 1109.1h0M417.9 1158.7h0M433.4 1157.6h0M409.7 1133.1h0M394.3 1111.8h0M428.6 1175.8h0M397.1 1181.3h0M388.1 1109.2h0M430.9 1166.3h0M438.1 1154.2h0M433.5 1150.6h0M412.0 1148.0h0M423.5 1168.9h0M409.7 1183.4h0M388.5 1140.5h0M397.3 1129.2h0M396.4 1141.6h0M400.6 1122.7h0M412.8 1138.9h0M401.7 1153.5h0M389.5 1167.2h0M385.8 1125.7h0M422.3 1137.6h0M417.4 1123.0h0M408.6 1187.5h0M386.2 1148.0h0M433.6 1160.5h0M420.5 1151.8h0M400.0 1167.1h0M435.9 1164.8h0M396.5 1172.7h0M407.8 1154.0h0M422.9 1156.8h0M408.8 1124.4h0M402.9 1175.9h0M383.7 1135.2h0M410.5 1152.6h0M413.8 1144.2h0M421.5 1182.9h0M404.1 1125.6h0M420.1 1167.4h0M418.8 1123.5h0M409.4 1174.2h0M403.8 1144.1h0M419.7 1180.0h0M401.1 1146.0h0M401.2 1113.1h0M387.4 1154.4h0M380.1 1138.2h0M420.1 1170.6h0M397.2 1121.1h0M385.9 1155.7h0M415.2 1189.2h0M405.5 1151.8h0M387.9 1159.0h0M381.4 1129.7h0M424.6 1169.3h0M425.2 1166.6h0M420.2 1180.5h0M413.1 1134.3h0M387.0 1116.7h0M409.5 1193.8h0M417.3 1193.0h0M412.1 1119.2h0M384.3 1149.1h0M407.9 1162.6h0M422.1 1188.5h0M436.1 1149.1h0M386.4 1149.6h0M388.0 1118.0h0M431.9 1141.5h0M422.1 1183.7h0M415.0 1161.4h0M392.7 1107.8h0M429.9 1159.8h0M389.5 1116.6h0M386.2 1105.4h0M396.7 1129.9h0M406.1 1153.2h0M412.6 1138.9h0M411.9 1174.5h0M383.9 1153.2h0M403.8 1171.2h0M394.8 1116.6h0M391.9 1171.3h0M425.7 1169.9h0M413.6 1120.5h0M414.8 1177.8h0M422.6 1176.9h0M419.0 1128.6h0M402.2 1180.4h0M397.0 1139.5h0M393.2 1162.4h0M416.7 1185.0h0M399.4 1173.4h0M381.9 1144.8h0M400.1 1171.5h0M400.9 1122.5h0M409.6 1147.9h0M393.5 1123.9h0M409.6 1175.1h0M386.0 1135.4h0M417.4 1166.3h0M424.0 1171.5h0M387.0 1133.7h0M394.7 1146.4h0M388.1 1105.7h0M401.3 1185.6h0M405.9 1162.5h0M404.1 1153.5h0M395.8 1124.3h0M382.6 1132.7h0M412.6 1189.0h0M417.0 1162.9h0M428.0 1176.7h0M435.2 1155.5h0M385.4 1101.1h0M381.0 1144.6h0M406.3 1150.6h0M401.0 1180.2h0M387.9 1159.4h0M418.6 1133.6h0M430.2 1168.0h0M395.8 1175.8h0M413.3 1187.8h0M437.9 1155.1h0M413.5 1175.1h0M402.8 1162.1h0M410.7 1116.4h0M395.8 1176.3h0M426.1 1144.4h0M395.0 1122.7h0M416.0 1150.9h0M407.8 1188.6h0M393.8 1153.3h0M410.1 1155.7h0M438.5 1160.0h0M399.7 1173.5h0M383.6 1137.0h0M409.9 1129.6h0M423.2 1145.1h0M422.7 1143.9h0M433.9 1172.3h0M409.6 1138.4h0M426.2 1178.7h0M416.5 1133.1h0M409.0 1133.6h0M384.3 1148.4h0M430.5 1156.3h0M412.8 1137.2h0M398.0 1181.6h0M399.1 1161.7h0M398.7 1155.4h0M426.4 1166.1h0M394.3 1164.4h0M386.6 1129.0h0M413.9 1121.2h0M396.5 1136.7h0M413.0 1165.1h0M411.2 1137.4h0M408.9 1176.2h0M395.4 1150.4h0M406.2 1130.9h0M402.1 1171.3h0M398.7 1116.4h0M409.1 1151.4h0M394.0 1107.7h0M403.2 1122.8h0M401.1 1151.8h0M433.6 1153.1h0M411.2 1130.2h0M388.8 1133.6h0M434.6 1148.5h0M435.4 1143.0h0M421.1 1164.5h0M385.9 1145.3h0M422.3 1127.2h0M397.9 1111.5h0M394.4 1152.5h0M403.2 1181.7h0M418.4 1184.2h0M418.0 1175.4h0M397.9 1158.9h0M382.3 1147.1h0M417.1 1184.6h0M439.1 1152.7h0M429.7 1138.5h0M422.4 1176.1h0M416.7 1156.9h0M395.9 1165.5h0M428.4 1177.9h0M382.4 1150.8h0M391.2 1163.9h0M426.2 1174.6h0M408.9 1181.7h0M398.1 1182.6h0M413.7 1136.4h0M426.2 1165.6h0M387.5 1135.0h0M434.7 1161.3h0M403.7 1176.5h0M410.6 1169.1h0M391.0 1166.6h0M410.0 1175.8h0M402.3 1151.6h0M387.4 1111.0h0M381.8 1132.1h0M412.6 1149.3h0M423.0 1143.6h0M411.7 1186.4h0M402.7 1153.2h0M399.4 1118.8h0M405.2 1181.5h0M399.2 1172.6h0M407.5 1149.1h0M403.0 1173.3h0M405.4 1185.5h0M394.5 1179.4h0M411.2 1174.2h0M413.2 1173.4h0M423.0 1188.3h0M415.3 1143.9h0M392.3 1123.4h0M414.8 1151.3h0M392.2 1144.2h0M389.8 1168.0h0M399.3 1146.4h0M400.8 1129.8h0M399.9 1135.4h0M418.5 1146.3h0M395.5 1177.4h0M426.4 1139.6h0M400.2 1148.6h0M415.1 1133.3h0M413.8 1191.3h0M418.8 1157.7h0M429.0 1138.7h0M423.7 1182.5h0M382.5 1133.3h0M426.6 1170.5h0M390.2 1157.5h0M396.5 1127.4h0M390.6 1157.6h0M410.7 1167.4h0M428.0 1153.3h0M420.0 1176.9h0M418.0 1142.3h0M394.6 1114.0h0M401.8 1128.7h0M401.7 1151.9h0M401.7 1118.7h0M412.2 1129.4h0M422.3 1165.2h0M411.9 1175.1h0M401.8 1178.7h0M397.1 1159.5h0M421.3 1156.8h0M433.4 1146.5h0M415.8 1134.5h0M401.8 1129.9h0M414.4 1171.2h0M418.7 1190.8h0M386.1 1130.6h0M394.2 1119.2h0M415.4 1122.9h0M434.7 1152.0h0M422.2 1145.4h0M393.0 1109.5h0M403.5 1172.9h0M393.5 1129.5h0M426.2 1148.8h0M406.4 1181.1h0M422.8 1140.5h0M405.8 1171.3h0M407.7 1141.0h0M396.5 1165.0h0M387.4 1100.4h0M381.2 1140.5h0M385.3 1133.8h0M425.5 1144.3h0M423.4 1158.2h0M406.8 1153.8h0M425.3 1132.1h0M395.3 1155.4h0M424.5 1145.4h0M404.6 1118.6h0M428.3 1175.6h0M419.6 1191.1h0M401.7 1138.9h0M410.7 1169.2h0M399.6 1163.2h0M410.6 1192.0h0M389.1 1113.7h0M402.6 1142.6h0M395.5 1121.7h0M388.1 1125.2h0M426.0 1153.1h0M403.7 1127.5h0M405.1 1115.0h0M385.0 1154.2h0M418.9 1136.3h0M411.6 1158.9h0M392.8 1111.0h0M409.7 1144.9h0M406.0 1132.6h0M411.0 1189.6h0M405.3 1123.5h0M411.7 1171.2h0M415.9 1154.6h0M421.1 1159.5h0M409.4 1146.0h0M406.3 1122.7h0M404.2 1141.6h0M406.3 1158.7h0M401.8 1171.9h0M383.5 1147.2h0M433.1 1162.6h0M402.6 1175.6h0M426.9 1144.9h0M398.6 1126.6h0M397.0 1140.4h0M418.6 1126.3h0M428.1 1151.5h0M430.6 1139.8h0M401.8 1133.1h0M411.8 1162.3h0M433.1 1172.6h0M402.3 1138.2h0M393.4 1172.0h0M392.0 1160.7h0M406.9 1129.1h0M437.5 1158.5h0M393.2 1113.6h0M399.8 1185.4h0M413.1 1159.1h0M404.0 1172.4h0M393.8 1163.6h0M430.8 1146.1h0M424.3 1157.4h0M388.9 1136.1h0M405.3 1138.0h0M402.6 1173.4h0M388.4 1145.1h0M390.0 1122.5h0M416.1 1132.7h0M427.9 1139.5h0M421.5 1187.2h0M395.9 1107.8h0M420.1 1141.9h0M384.3 1147.0h0M402.4 1172.8h0M408.4 1154.3h0M434.2 1160.6h0M411.7 1174.7h0M421.6 1157.8h0M429.3 1167.0h0M400.6 1169.9h0M389.7 1127.0h0M385.2 1156.7h0M421.8 1139.1h0M409.2 1125.7h0M405.1 1153.2h0M427.2 1165.1h0M393.0 1130.9h0M427.6 1169.4h0M425.3 1182.5h0M419.9 1168.6h0M409.6 1173.8h0M396.1 1144.5h0M415.9 1124.5h0M387.5 1139.0h0M420.1 1135.2h0M406.5 1133.1h0M419.9 1143.3h0M424.0 1152.2h0M427.3 1136.5h0M413.0 1182.8h0M405.9 1165.5h0M431.1 1163.3h0M429.4 1158.8h0M433.7 1161.2h0M429.2 1155.4h0M399.9 1135.3h0M439.6 1156.8h0M399.4 1166.3h0M411.2 1158.2h0M407.3 1177.2h0M422.8 1140.0h0M432.3 1151.9h0M432.4 1150.0h0M416.4 1157.5h0M407.0 1175.2h0M407.4 1140.3h0M405.0 1180.4h0M397.2 1174.6h0M387.6 1122.5h0M390.6 1131.8h0M430.8 1148.3h0M399.5 1178.4h0M399.5 1158.2h0M413.7 1177.5h0M381.5 1139.0h0M434.8 1169.4h0M413.1 1139.1h0M401.0 1152.3h0M416.6 1151.0h0M401.7 1186.4h0M436.6 1154.8h0M420.5 1155.1h0M422.0 1126.6h0M416.6 1137.3h0M385.3 1153.9h0M408.7 1154.9h0M435.4 1164.5h0M385.4 1120.1h0M394.4 1153.8h0M432.1 1167.1h0M387.0 1148.0h0M435.1 1168.4h0M388.5 1107.9h0M421.8 1142.6h0M403.8 1171.8h0M407.5 1140.5h0M430.7 1162.3h0M411.8 1134.0h0M388.3 1152.4h0M408.0 1138.6h0M420.1 1133.2h0M407.5 1181.0h0M428.9 1143.0h0M421.6 1186.5h0M380.1 1145.5h0M428.7 1138.2h0M423.9 1138.9h0M415.1 1137.0h0M400.0 1115.3h0M413.7 1138.1h0M421.1 1174.7h0M381.3 1137.9h0M437.7 1154.6h0M430.3 1142.3h0M408.4 1174.5h0M422.6 1128.8h0M408.7 1132.1h0M411.7 1155.7h0M395.0 1170.9h0M438.7 1152.1h0M410.8 1185.7h0M395.6 1137.0h0M386.3 1126.7h0M395.4 1177.7h0M395.5 1152.1h0M428.9 1133.9h0M436.5 1157.2h0M409.6 1157.7h0M426.7 1176.8h0M393.5 1158.2h0M408.8 1179.9h0M419.8 1180.2h0M410.3 1123.3h0M408.9 1128.3h0M413.1 1142.8h0M432.1 1148.6h0M438.4 1156.6h0M409.8 1120.1h0M379.8 1136.5h0M391.2 1156.8h0M402.3 1167.0h0M401.1 1161.3h0M398.9 1163.2h0M418.1 1155.4h0M417.0 1133.3h0M392.9 1138.8h0M425.3 1181.6h0M406.7 1136.7h0M381.8 1134.9h0M415.0 1162.7h0M429.8 1173.5h0M381.8 1145.4h0M394.7 1109.7h0M423.2 1141.9h0M386.6 1106.3h0M406.5 1160.5h0M395.2 1179.0h0M430.6 1137.8h0M401.6 1120.6h0M413.0 1121.1h0M400.8 1150.8h0M414.0 1123.5h0M419.6 1137.4h0M430.4 1146.5h0M388.8 1168.8h0M400.2 1169.6h0M409.3 1193.4h0M426.5 1147.9h0M389.1 1151.4h0M423.5 1161.8h0M391.8 1135.7h0M406.9 1118.3h0M387.0 1155.4h0M401.9 1118.1h0M386.3 1159.9h0M388.9 1133.7h0M399.9 1166.2h0M399.2 1143.0h0M389.4 1144.0h0M396.4 1133.7h0M394.7 1167.2h0M393.2 1142.4h0M416.8 1178.9h0M423.8 1140.7h0M384.2 1128.2h0M414.6 1153.7h0M425.6 1150.4h0M392.4 1106.4h0M397.4 1120.4h0M416.0 1175.8h0M402.3 1151.6h0M413.9 1158.8h0M412.7 1192.9h0M394.4 1177.9h0M427.5 1157.0h0M416.7 1176.1h0M423.9 1157.4h0M386.6 1129.7h0M421.1 1146.6h0M430.6 1178.1h0M427.1 1139.7h0M433.6 1136.9h0M388.5 1110.1h0M422.0 1136.4h0M422.6 1184.3h0M411.8 1131.8h0M428.7 1130.8h0M414.1 1167.8h0M394.7 1133.4h0M396.2 1138.3h0M429.5 1163.6h0M400.2 1182.2h0M381.2 1140.2h0M394.9 1141.9h0M392.8 1129.3h0M396.2 1126.8h0M420.2 1139.3h0M413.8 1150.3h0M400.8 1176.7h0M425.3 1157.8h0M415.6 1147.4h0M420.4 1158.6h0M405.4 1123.6h0M402.5 1169.6h0M406.1 1189.3h0M412.9 1133.2h0M416.4 1126.0h0M409.4 1180.0h0M397.2 1134.8h0M425.7 1156.3h0M415.3 1195.3h0M396.1 1144.0h0M425.9 1180.4h0M421.0 1135.0h0M410.5 1123.6h0M415.4 1123.9h0M407.9 1152.6h0M420.0 1137.3h0M388.0 1120.7h0M402.9 1189.0h0M412.2 1181.8h0M408.5 1157.2h0M421.4 1143.6h0M406.9 1132.7h0M395.2 1138.1h0M388.0 1122.7h0M387.5 1143.7h0M418.9 1123.6h0M403.0 1178.9h0M401.0 1134.7h0M412.9 1183.6h0M403.5 1182.2h0M408.4 1131.9h0M432.9 1156.7h0M432.6 1148.7h0M395.1 1125.4h0M427.0 1166.2h0M417.2 1169.2h0M392.0 1132.4h0M387.6 1153.4h0M434.3 1165.6h0M427.2 1155.4h0M382.7 1142.8h0M392.2 1130.5h0M430.8 1141.8h0M430.2 1161.4h0M412.4 1163.8h0M384.4 1155.3h0M402.6 1146.6h0M424.7 1167.5h0M383.3 1142.8h0M381.7 1126.3h0M406.6 1114.2h0M406.0 1149.7h0M433.4 1161.0h0M423.3 1175.8h0M396.1 1150.1h0M431.3 1176.8h0M420.1 1179.5h0M392.4 1150.8h0M388.8 1102.7h0M430.3 1157.4h0M420.9 1125.2h0M401.1 1139.2h0M411.6 1148.5h0M401.6 1172.2h0M405.5 1164.2h0M425.6 1186.3h0M403.3 1149.5h0M399.3 1124.2h0M411.3 1128.2h0M391.6 1147.4h0M405.4 1139.1h0M391.4 1107.1h0M407.9 1186.9h0M427.2 1171.4h0M400.1 1126.7h0M390.3 1147.4h0M400.8 1155.4h0M407.2 1145.5h0M410.5 1156.2h0M390.8 1162.5h0M411.6 1177.7h0M385.3 1128.3h0M388.3 1159.6h0M386.5 1149.3h0M394.5 1144.5h0M429.5 1154.8h0M419.5 1189.4h0M415.0 1148.5h0M410.8 1161.9h0M411.4 1165.9h0M408.6 1164.2h0M387.9 1110.7h0M410.3 1161.0h0M398.1 1179.4h0M409.2 1158.2h0M401.6 1134.9h0M428.1 1182.0h0M392.3 1131.5h0M418.6 1185.6h0M412.5 1155.8h0M403.5 1128.9h0M421.7 1155.6h0M395.8 1120.6h0M425.3 1179.3h0M408.3 1147.0h0M384.2 1137.6h0M432.5 1150.2h0M423.6 1163.6h0M401.3 1179.0h0M416.9 1170.9h0M427.5 1157.7h0M399.6 1133.2h0M390.2 1144.3h0M417.6 1161.9h0M390.3 1127.4h0M395.8 1122.0h0M428.2 1169.4h0M399.6 1155.9h0M399.3 1124.8h0M405.2 1147.7h0M435.6 1171.2h0M390.7 1135.0h0M407.2 1188.3h0M391.0 1125.5h0M406.3 1148.8h0M404.3 1177.6h0M395.0 1153.7h0M432.9 1146.2h0M419.2 1190.3h0M405.0 1169.2h0M405.2 1114.6h0M386.4 1138.5h0M399.8 1128.2h0M394.4 1173.7h0M427.2 1180.1h0M416.0 1167.4h0M391.8 1108.7h0M404.9 1117.0h0M400.1 1139.5h0M390.5 1106.2h0M407.9 1117.9h0M415.1 1153.3h0M394.3 1142.0h0M439.7 1153.5h0M418.1 1159.8h0M391.5 1125.5h0M418.3 1160.6h0M401.6 1156.3h0M432.3 1171.1h0M418.9 1135.3h0M418.6 1175.6h0M416.9 1120.0h0M408.6 1137.5h0M387.3 1158.1h0M397.2 1111.7h0M433.8 1160.8h0M404.3 1155.9h0M408.1 1147.0h0M393.1 1129.6h0M423.0 1141.2h0M409.8 1168.6h0M386.2 1150.8h0M414.9 1158.7h0M392.1 1151.3h0M411.1 1116.5h0M434.9 1153.3h0M393.7 1116.7h0M422.8 1130.3h0M418.7 1187.2h0M396.3 1122.4h0M395.0 1124.1h0M382.2 1139.9h0M388.2 1139.7h0M405.3 1188.3h0M425.4 1181.1h0M414.8 1142.9h0M389.5 1128.1h0M390.0 1155.2h0M397.1 1124.2h0M421.0 1141.4h0M419.4 1180.2h0M387.5 1112.0h0M408.2 1179.3h0M409.1 1133.2h0M407.3 1178.3h0M405.0 1133.6h0M396.2 1160.1h0M391.8 1133.1h0M393.2 1120.5h0M421.7 1125.3h0M407.2 1159.5h0M397.4 1129.4h0M439.2 1156.2h0M416.0 1180.5h0M399.3 1175.5h0M421.0 1137.3h0M401.0 1169.0h0M387.5 1124.0h0M415.3 1133.0h0M389.2 1135.1h0M402.1 1116.9h0M412.4 1147.7h0M397.7 1175.0h0M419.9 1143.3h0M393.2 1106.2h0M405.0 1137.1h0M418.2 1139.1h0M421.0 1161.3h0M410.7 1123.4h0M424.7 1186.0h0M435.6 1170.1h0M432.6 1159.2h0M405.7 1135.5h0M422.9 1145.8h0M409.1 1168.9h0M422.8 1183.9h0M416.8 1147.0h0M412.1 1190.7h0M431.9 1151.4h0M401.1 1162.0h0M384.6 1143.2h0M411.9 1153.7h0M406.9 1159.1h0M405.9 1140.8h0M415.0 1173.2h0M397.7 1128.3h0M424.4 1140.5h0M432.8 1159.6h0M407.5 1146.9h0M414.3 1189.9h0M398.6 1167.7h0M429.0 1144.6h0M388.1 1165.0h0M421.4 1177.9h0M415.4 1156.9h0M427.2 1170.9h0M391.6 1130.9h0M413.1 1144.2h0M394.0 1109.2h0M384.9 1143.2h0M396.3 1116.1h0M397.4 1130.9h0M422.4 1168.0h0M408.0 1125.9h0M422.8 1159.9h0M433.5 1156.1h0M407.7 1118.6h0M380.2 1133.4h0M427.5 1175.9h0M405.0 1114.0h0M402.3 1115.3h0M428.3 1141.5h0M414.6 1188.0h0M396.5 1139.9h0M384.8 1157.3h0M431.2 1166.5h0M405.5 1155.8h0M389.1 1126.6h0M408.7 1188.0h0M421.1 1130.6h0M404.9 1126.8h0M399.1 1161.2h0M416.1 1127.6h0M436.9 1150.4h0M395.3 1130.1h0M414.5 1151.0h0M410.6 1140.5h0M390.1 1159.8h0M417.2 1124.6h0M412.5 1146.5h0M425.8 1176.8h0M398.2 1172.6h0M408.7 1149.7h0M411.5 1182.9h0M393.2 1163.3h0M432.6 1172.1h0M383.8 1132.6h0M406.7 1136.8h0M415.8 1120.9h0M425.3 1180.9h0M387.5 1160.8h0M418.6 1191.7h0M396.9 1116.5h0M399.5 1147.1h0M428.2 1136.4h0M429.0 1164.4h0M394.7 1168.2h0M403.5 1178.7h0M401.6 1163.7h0M386.1 1116.5h0M396.6 1170.0h0M398.7 1145.2h0M414.8 1127.0h0M429.9 1171.9h0M408.2 1181.0h0M401.6 1152.3h0M416.0 1146.4h0M400.4 1111.3h0M398.5 1151.7h0M432.5 1136.4h0M416.0 1121.6h0M432.6 1159.7h0M416.3 1149.7h0M428.0 1174.3h0M426.5 1166.7h0M390.2 1129.5h0M437.0 1150.7h0M421.5 1189.2h0M405.8 1179.0h0M402.2 1140.7h0M414.1 1149.3h0M387.9 1111.4h0M405.0 1128.8h0M413.6 1175.4h0M424.0 1142.2h0M402.6 1162.6h0M419.4 1163.1h0M404.8 1149.4h0M394.1 1163.6h0M394.8 1159.3h0M408.9 1144.5h0M418.3 1189.7h0M419.3 1161.6h0M418.9 1143.6h0M385.3 1098.5h0M406.7 1164.7h0M427.8 1175.0h0M414.5 1163.8h0M386.8 1121.2h0M408.4 1126.1h0M427.3 1172.6h0M400.1 1114.1h0M386.1 1141.4h0M404.7 1177.1h0M418.2 1181.5h0M386.6 1118.9h0M420.1 1165.2h0M384.9 1160.6h0M395.7 1177.3h0M412.7 1181.3h0M412.8 1119.1h0M382.0 1144.0h0M394.7 1111.0h0M384.2 1144.5h0M423.7 1135.8h0M395.1 1138.4h0M423.5 1158.3h0M388.8 1126.7h0M392.5 1156.0h0M409.6 1188.1h0M385.5 1141.5h0M388.5 1102.6h0M407.1 1146.3h0M419.4 1182.2h0M406.2 1141.7h0M435.7 1149.8h0M397.1 1149.6h0M399.1 1152.1h0M393.7 1119.1h0M413.0 1150.2h0M408.0 1124.9h0M382.0 1138.7h0M422.0 1161.4h0M387.1 1132.0h0M401.5 1140.1h0M403.5 1177.5h0M396.5 1127.7h0M416.9 1151.5h0M423.3 1129.8h0M422.0 1189.2h0M384.2 1147.0h0M418.7 1157.8h0M411.2 1161.5h0M385.5 1147.4h0M422.8 1155.0h0M409.4 1175.9h0M424.0 1165.6h0M411.6 1186.4h0M410.6 1121.4h0M415.8 1145.8h0M419.1 1128.4h0M413.5 1188.0h0M388.7 1136.5h0M419.1 1161.6h0M411.3 1121.1h0M401.1 1173.0h0M390.0 1165.5h0M415.3 1187.9h0M393.9 1111.4h0M397.6 1135.2h0M388.3 1163.5h0M415.5 1126.7h0M408.9 1155.7h0M407.1 1173.9h0M400.2 1142.8h0M416.5 1169.5h0M425.3 1163.5h0M419.0 1175.6h0M419.5 1133.8h0M413.9 1155.3h0M421.6 1180.1h0M394.5 1150.9h0M400.6 1131.8h0M411.6 1156.1h0M420.6 1187.9h0M384.4 1130.2h0M395.3 1122.5h0M393.7 1174.4h0M384.5 1137.7h0M429.3 1172.2h0M381.5 1133.4h0M402.0 1164.9h0M398.1 1172.8h0M411.5 1138.4h0M430.3 1173.2h0M429.6 1135.6h0M410.1 1168.3h0M396.3 1117.9h0M402.9 1117.0h0M406.1 1116.1h0M417.8 1160.6h0M407.0 1121.3h0M391.9 1112.2h0M428.9 1181.2h0M412.2 1119.3h0M389.5 1119.4h0M401.9 1177.8h0M421.2 1156.6h0M432.1 1155.9h0M420.5 1189.5h0M412.8 1155.6h0M418.8 1147.5h0M404.2 1132.1h0M411.9 1130.5h0M398.6 1118.6h0M394.9 1137.2h0M432.8 1137.6h0M420.1 1162.6h0M436.3 1152.0h0M402.6 1187.0h0M408.7 1138.6h0M392.4 1169.6h0M415.2 1123.0h0M389.2 1113.6h0M425.6 1161.0h0M393.1 1166.2h0M394.1 1175.3h0M401.5 1159.2h0M389.9 1152.3h0M386.9 1138.5h0M429.0 1146.0h0M387.1 1100.3h0M405.1 1189.9h0M428.0 1160.3h0M419.4 1122.0h0M393.8 1163.4h0M423.8 1159.0h0M397.3 1140.9h0M437.0 1146.2h0M384.2 1123.5h0M391.8 1134.0h0M389.1 1160.9h0M413.1 1123.1h0M390.3 1120.3h0M398.5 1143.9h0M391.0 1137.6h0M401.4 1155.2h0M407.6 1175.4h0M401.3 1162.3h0M386.9 1156.9h0M394.6 1142.1h0M399.5 1144.3h0M426.7 1138.9h0M430.9 1158.7h0M407.1 1184.9h0M404.1 1122.9h0M392.9 1146.3h0M402.4 1135.2h0M388.7 1154.6h0M432.6 1156.0h0M409.8 1140.3h0M385.7 1148.2h0M418.8 1176.8h0M412.2 1192.8h0M425.1 1161.6h0M380.7 1135.1h0M403.4 1121.3h0M413.8 1187.7h0M412.5 1180.1h0M419.1 1190.0h0M410.2 1152.9h0M433.3 1168.2h0M422.8 1158.2h0M427.1 1156.2h0M393.1 1128.1h0M414.4 1194.6h0M387.6 1147.7h0M413.8 1123.9h0M430.9 1162.9h0M408.2 1127.9h0M425.3 1154.4h0M418.7 1160.8h0M424.2 1162.7h0M436.0 1151.1h0M391.4 1167.8h0M400.2 1153.3h0M417.0 1178.0h0M408.4 1191.6h0M436.9 1148.7h0M403.2 1128.1h0M386.3 1148.7h0M406.2 1130.7h0M421.9 1142.6h0M398.9 1137.8h0M399.2 1160.0h0M407.6 1146.7h0M429.7 1177.7h0M391.1 1125.4h0M391.5 1163.7h0M386.3 1123.4h0M433.2 1144.5h0M402.9 1174.5h0M385.6 1116.5h0M432.8 1171.6h0M426.0 1173.4h0M435.4 1142.0h0M435.2 1151.1h0M397.8 1112.7h0M388.5 1110.0h0M430.3 1171.0h0M426.1 1148.3h0M417.3 1166.4h0M407.4 1156.7h0M414.7 1189.7h0M412.9 1182.0h0M405.5 1176.0h0M408.7 1144.6h0M399.5 1151.9h0M399.9 1155.2h0M396.4 1129.7h0M428.9 1169.3h0M421.1 1125.7h0M400.4 1119.0h0M416.6 1134.3h0M398.0 1122.2h0M399.4 1160.3h0M404.3 1161.0h0M419.9 1163.1h0M405.7 1137.4h0M426.9 1146.6h0M431.9 1143.5h0M414.6 1178.5h0M400.8 1156.4h0M400.6 1158.1h0M405.6 1172.9h0M398.8 1181.7h0M410.1 1121.3h0M395.0 1131.0h0M421.0 1133.0h0M408.1 1177.1h0M418.9 1157.6h0M392.0 1112.1h0M435.7 1167.8h0M398.3 1111.8h0M392.4 1135.3h0M418.4 1168.3h0M435.9 1151.1h0M409.9 1167.7h0M392.9 1155.7h0M391.7 1129.3h0M400.4 1133.3h0M433.9 1151.2h0M393.1 1166.3h0M414.5 1183.6h0M411.1 1186.7h0M414.3 1176.9h0M425.7 1147.6h0M412.5 1140.8h0M433.7 1156.8h0M418.2 1141.1h0M415.4 1149.5h0M417.6 1184.4h0M417.9 1158.9h0M416.4 1190.7h0M424.7 1173.1h0M403.7 1185.5h0M386.7 1141.7h0M396.1 1131.3h0M415.9 1165.6h0M429.7 1140.0h0M389.1 1166.2h0M421.8 1175.3h0M397.6 1116.1h0M413.8 1156.9h0M399.6 1155.8h0M430.2 1148.0h0M405.4 1182.1h0M410.8 1173.7h0M412.1 1122.6h0M396.7 1137.1h0M399.4 1145.2h0M388.1 1128.5h0M416.4 1167.1h0M424.8 1163.7h0M411.6 1141.3h0M435.5 1162.7h0M400.6 1152.1h0M433.0 1175.0h0M394.9 1117.6h0M397.1 1167.1h0M426.7 1169.4h0M414.7 1121.0h0M410.0 1158.4h0M387.6 1153.3h0M389.8 1140.5h0M399.2 1163.7h0M413.6 1130.5h0M419.3 1180.4h0M434.0 1160.4h0M403.0 1183.8h0M419.5 1149.9h0M418.4 1179.3h0M406.1 1164.8h0M408.3 1178.6h0M425.6 1145.7h0M422.1 1145.7h0M424.0 1179.8h0M406.0 1175.8h0M419.7 1161.8h0M411.3 1124.2h0M378.4 1134.7h0M415.1 1183.7h0M421.0 1160.6h0M412.6 1169.3h0M412.9 1189.2h0M395.0 1108.2h0M385.5 1138.6h0M425.8 1127.0h0M410.1 1157.5h0M437.7 1143.1h0M434.5 1167.9h0M406.7 1183.1h0M386.5 1116.5h0M410.7 1140.0h0M412.7 1152.1h0M435.5 1165.7h0M409.1 1138.1h0M406.6 1147.3h0M406.3 1164.0h0M407.5 1184.3h0M392.5 1112.7h0M427.5 1155.6h0M388.5 1149.6h0M393.9 1110.7h0M428.5 1173.5h0M385.2 1098.1h0M383.4 1142.1h0M394.1 1160.3h0M390.7 1122.2h0M404.3 1133.9h0M419.2 1175.9h0M429.2 1135.8h0M409.3 1190.1h0M419.4 1188.8h0M391.7 1146.6h0M434.8 1164.1h0M391.5 1123.7h0M397.2 1117.3h0M385.1 1123.6h0M428.2 1162.6h0M405.1 1177.6h0M399.6 1165.7h0M410.5 1170.8h0M418.4 1167.3h0M422.7 1172.2h0M415.8 1182.0h0M399.0 1120.3h0M414.4 1161.4h0M390.3 1121.1h0M414.0 1155.5h0M405.2 1189.4h0M391.4 1120.6h0M414.8 1186.3h0M424.9 1130.0h0M408.0 1177.3h0M394.9 1168.7h0M416.7 1140.9h0M416.9 1191.7h0M437.4 1141.6h0M437.2 1162.4h0M382.9 1130.4h0M421.4 1148.8h0M412.7 1137.8h0M426.3 1141.9h0M429.6 1181.7h0M387.6 1114.4h0M393.1 1149.2h0M386.5 1135.7h0M394.7 1143.6h0M406.1 1123.6h0M389.1 1133.5h0M403.5 1167.2h0M399.7 1153.4h0M419.4 1166.5h0M391.6 1127.8h0M424.6 1159.2h0M395.3 1137.4h0M419.7 1136.7h0M425.7 1167.1h0M419.8 1126.8h0M387.9 1103.0h0M401.2 1159.6h0M404.7 1116.7h0M400.5 1176.3h0M428.2 1152.3h0M432.3 1158.0h0M402.7 1183.9h0M435.8 1148.4h0M382.8 1148.1h0M385.6 1132.1h0M387.7 1116.6h0M399.1 1132.7h0M405.2 1157.9h0M403.6 1144.7h0M435.8 1147.1h0M400.3 1158.7h0M416.5 1127.1h0M422.4 1146.7h0M411.9 1121.9h0M416.2 1142.8h0M388.0 1113.6h0M411.6 1160.3h0M409.0 1130.2h0M381.3 1137.6h0M391.2 1169.5h0M418.7 1174.1h0M399.1 1131.1h0M392.9 1134.6h0M409.1 1191.6h0M404.7 1157.6h0M433.5 1167.9h0M391.2 1126.5h0M420.8 1175.2h0M435.8 1148.0h0M398.3 1121.3h0M396.8 1118.5h0M403.9 1176.3h0M433.4 1143.6h0M396.0 1156.3h0M409.2 1115.2h0M388.1 1123.9h0M385.8 1120.9h0M392.1 1117.3h0M403.9 1113.4h0M400.0 1151.9h0M398.0 1113.0h0M403.4 1178.8h0M395.9 1146.0h0M404.0 1152.5h0M413.0 1131.3h0M411.8 1158.1h0M388.0 1125.0h0M406.4 1121.5h0M403.0 1171.2h0M404.0 1119.7h0M431.9 1152.5h0M405.1 1166.8h0M434.1 1143.8h0M395.6 1153.7h0M433.3 1141.0h0M390.9 1120.6h0M431.4 1167.4h0M385.3 1156.6h0M416.1 1141.2h0M405.7 1185.6h0M414.8 1175.6h0M386.4 1136.1h0M396.5 1112.4h0M388.9 1136.8h0M391.3 1154.8h0M382.3 1145.5h0M399.3 1161.7h0M413.6 1149.6h0M399.9 1121.4h0M390.1 1134.9h0M406.4 1175.5h0M385.3 1157.0h0M392.3 1168.0h0M419.6 1146.0h0M406.2 1159.6h0M389.4 1138.5h0M426.0 1155.9h0M388.2 1123.3h0M389.4 1161.8h0M389.8 1169.1h0M412.8 1150.1h0M426.2 1147.7h0M395.0 1142.9h0M387.4 1118.2h0M429.5 1147.8h0M437.0 1145.3h0M421.9 1138.6h0M405.7 1149.0h0M388.3 1100.7h0M405.2 1178.9h0M389.7 1139.5h0M403.9 1155.5h0M394.3 1165.3h0M407.3 1153.8h0M401.2 1139.0h0M419.7 1158.6h0M429.4 1165.2h0M402.3 1172.9h0M397.2 1177.5h0M416.1 1124.5h0M400.2 1156.7h0M411.3 1138.1h0M399.8 1128.9h0M407.1 1157.5h0M438.4 1157.2h0M435.7 1147.5h0M428.2 1177.1h0M417.8 1141.9h0M415.6 1126.0h0M413.7 1155.0h0M393.5 1134.0h0M397.7 1111.6h0M402.4 1125.0h0M415.6 1140.0h0M384.9 1134.5h0M422.0 1127.5h0M422.2 1181.6h0M409.7 1188.4h0M426.0 1169.9h0M391.9 1131.6h0M426.4 1169.5h0M396.2 1127.5h0M400.0 1165.2h0M436.5 1159.1h0M395.9 1173.8h0M414.6 1120.1h0M394.1 1155.1h0M394.3 1148.9h0M435.2 1167.6h0M422.2 1147.4h0M408.4 1181.6h0M410.9 1119.5h0M414.0 1190.0h0M386.0 1120.8h0M415.3 1194.0h0M387.4 1157.0h0M419.6 1177.4h0M403.0 1186.4h0M384.9 1127.2h0M405.9 1136.2h0M387.1 1105.0h0M429.2 1178.2h0M431.5 1137.7h0M408.4 1168.8h0M398.9 1141.3h0M405.4 1159.6h0M389.7 1109.7h0M390.5 1163.8h0M395.7 1130.2h0M390.9 1131.4h0M399.4 1181.0h0M399.2 1168.6h0M413.2 1169.8h0M426.8 1176.2h0M396.3 1133.0h0M430.6 1149.7h0M428.9 1165.3h0M382.0 1130.7h0M395.6 1144.5h0M421.9 1167.7h0M425.6 1152.0h0M413.7 1136.1h0M427.4 1182.5h0M394.4 1131.0h0M435.0 1149.6h0M395.6 1114.9h0M415.4 1124.7h0M427.6 1164.1h0M401.3 1120.2h0M403.1 1159.0h0M417.2 1125.4h0M406.5 1185.2h0M424.2 1134.6h0M427.8 1179.7h0M391.2 1144.5h0M434.5 1175.6h0M393.5 1112.1h0M423.5 1129.5h0M409.3 1169.9h0M429.1 1148.7h0M385.9 1113.5h0M406.6 1124.3h0M399.6 1182.4h0M396.4 1145.6h0M402.9 1117.6h0M396.2 1135.2h0M438.0 1153.2h0M423.8 1173.6h0M411.4 1119.3h0M404.8 1174.2h0M403.3 1158.6h0M414.0 1160.5h0M427.2 1131.2h0M397.1 1141.6h0M438.0 1168.7h0M414.0 1150.2h0M419.4 1128.8h0M394.6 1154.4h0M428.2 1149.6h0M420.6 1182.7h0M382.4 1146.3h0M430.0 1152.0h0M392.8 1170.2h0M427.3 1131.3h0M420.2 1178.9h0M393.0 1111.9h0M408.8 1188.6h0M430.3 1142.0h0M415.0 1185.2h0M422.6 1184.0h0M422.9 1147.7h0M427.0 1153.4h0M431.0 1176.9h0M401.9 1154.7h0M387.3 1114.6h0M406.2 1131.4h0M415.2 1156.4h0M392.5 1112.9h0M415.4 1179.2h0M414.7 1137.2h0M415.0 1157.7h0M403.3 1139.0h0M401.9 1153.9h0M411.7 1143.1h0M434.3 1149.7h0M398.9 1127.9h0M393.5 1160.5h0M433.5 1152.9h0M417.1 1182.9h0M407.8 1176.0h0M397.0 1130.9h0M396.4 1122.3h0M408.5 1169.6h0M433.3 1166.0h0M427.7 1143.0h0M395.8 1116.6h0M422.5 1138.3h0M395.4 1135.4h0M409.1 1179.9h0M399.1 1139.1h0M411.2 1171.6h0M403.5 1112.9h0M435.8 1162.7h0M390.7 1137.2h0M425.6 1132.5h0M429.7 1148.7h0M402.3 1158.3h0M430.5 1143.0h0M411.7 1116.2h0M406.6 1152.9h0M409.2 1158.2h0M425.5 1174.1h0M388.4 1150.8h0M398.6 1119.3h0M410.4 1128.8h0M395.6 1144.5h0M401.3 1172.3h0M390.8 1130.2h0M415.9 1172.0h0M381.5 1136.7h0M425.1 1176.3h0M415.2 1166.5h0M390.2 1151.1h0M386.3 1156.7h0M414.0 1193.9h0M415.5 1165.4h0M390.0 1154.3h0M411.8 1159.8h0M430.9 1151.4h0M421.7 1190.0h0M413.7 1150.4h0M422.1 1174.0h0M429.4 1134.2h0M394.6 1125.0h0M409.0 1133.5h0M433.0 1156.5h0M401.7 1152.3h0M399.2 1163.9h0M425.2 1151.2h0M426.0 1137.5h0M408.9 1163.6h0M417.0 1128.2h0M410.2 1117.4h0M412.9 1178.2h0M397.0 1147.4h0M415.6 1132.8h0M437.5 1156.4h0M430.0 1179.9h0M399.9 1133.2h0M416.0 1141.6h0M395.7 1130.9h0M390.5 1136.1h0M396.5 1162.0h0M409.1 1118.2h0M427.4 1156.7h0M422.2 1150.8h0M409.4 1130.0h0M405.2 1122.5h0M403.1 1124.8h0M428.3 1131.6h0M384.4 1138.1h0M388.3 1117.5h0M401.0 1170.7h0M403.2 1175.7h0M401.0 1114.4h0M439.0 1160.7h0M418.4 1177.1h0M431.6 1139.4h0M385.4 1158.9h0M420.7 1139.8h0M438.4 1160.1h0M407.1 1144.3h0M421.6 1171.0h0M416.9 1173.5h0M397.3 1143.5h0M388.2 1146.8h0M387.1 1138.5h0M414.5 1169.3h0M402.2 1147.3h0M401.8 1121.4h0M427.1 1148.7h0M399.7 1145.4h0M404.0 1185.6h0M429.1 1177.8h0M404.2 1123.7h0M393.8 1135.1h0M421.9 1151.0h0M433.1 1157.9h0M399.9 1142.9h0M400.8 1123.8h0M427.7 1133.9h0M428.9 1147.9h0M391.8 1133.9h0M434.3 1169.7h0M426.0 1170.6h0M398.1 1175.2h0M415.0 1160.9h0M420.6 1172.2h0M416.2 1134.4h0M395.5 1133.8h0M394.9 1173.4h0M420.0 1143.0h0M405.3 1126.4h0M394.8 1118.9h0M407.8 1125.3h0M393.9 1168.9h0M420.8 1152.1h0M404.2 1136.6h0M422.7 1188.4h0M421.5 1162.9h0M386.1 1159.9h0M400.5 1133.6h0M431.8 1175.4h0M388.5 1134.8h0M401.8 1178.3h0M397.7 1149.2h0M411.9 1177.7h0M429.6 1143.3h0M401.4 1142.0h0M420.2 1174.3h0M417.5 1165.7h0M388.3 1136.5h0M430.9 1171.3h0M408.8 1117.7h0M411.4 1194.1h0M406.0 1118.0h0M407.4 1183.8h0M395.6 1168.9h0M391.6 1114.1h0M401.4 1138.3h0M427.7 1180.0h0M409.7 1175.0h0M405.2 1127.7h0M403.2 1144.0h0M415.7 1122.6h0M388.4 1105.5h0M395.0 1129.1h0M409.8 1177.1h0M432.2 1170.2h0M419.9 1124.5h0M403.0 1150.3h0M422.8 1147.1h0M396.2 1143.4h0M411.5 1145.1h0M390.4 1105.0h0M386.5 1156.3h0M426.1 1140.4h0M415.4 1156.3h0M387.5 1158.5h0M419.3 1148.8h0M411.9 1147.7h0M426.9 1177.2h0M419.1 1175.1h0M389.1 1154.5h0M434.6 1168.7h0M393.9 1170.8h0M392.1 1144.5h0M402.7 1151.7h0M397.1 1133.4h0M393.6 1107.1h0M402.1 1123.7h0M414.0 1156.8h0M412.4 1123.7h0M402.6 1114.3h0M419.3 1143.1h0M403.9 1175.8h0M394.1 1154.5h0M428.5 1161.9h0M400.9 1154.1h0M393.9 1176.3h0M401.1 1128.7h0M419.9 1157.2h0M401.2 1184.0h0M396.9 1113.6h0M387.6 1099.5h0M407.6 1127.0h0M394.7 1135.7h0M410.3 1175.4h0M433.5 1160.7h0M388.0 1152.7h0M393.0 1118.0h0M421.5 1166.4h0M396.9 1128.8h0M388.3 1126.3h0M409.1 1146.1h0M408.7 1120.9h0M401.0 1158.6h0M389.7 1105.1h0M420.0 1125.4h0M422.8 1129.1h0M431.5 1164.9h0M407.8 1175.3h0M409.1 1160.1h0M402.7 1131.1h0M401.3 1139.1h0M387.3 1125.6h0M389.9 1129.2h0M384.9 1141.6h0M411.5 1174.0h0M411.4 1129.9h0M406.8 1117.0h0M385.7 1155.1h0M415.9 1182.8h0M430.4 1146.3h0M424.0 1161.4h0M411.2 1174.8h0M386.1 1152.2h0M403.4 1174.9h0M391.3 1163.4h0M404.0 1138.8h0M417.4 1127.2h0M395.5 1149.1h0M402.8 1137.6h0M403.4 1161.3h0M426.3 1164.3h0M425.4 1151.0h0M397.2 1119.3h0M397.4 1171.8h0M386.7 1133.3h0M387.2 1126.7h0M430.4 1142.9h0M395.0 1135.5h0M422.8 1168.5h0M427.5 1157.9h0M421.1 1179.7h0M395.7 1135.9h0M427.8 1153.3h0M396.0 1152.5h0M423.6 1158.7h0M417.8 1148.8h0M412.7 1191.2h0M388.5 1143.2h0M379.7 1136.5h0M414.9 1147.0h0M403.6 1151.8h0M414.1 1159.8h0M426.0 1147.2h0M399.7 1175.9h0M387.5 1161.3h0M431.4 1149.0h0M427.6 1150.5h0M391.6 1167.5h0M411.8 1160.4h0M420.8 1168.3h0M438.6 1158.9h0M387.0 1147.1h0M403.6 1118.2h0M417.9 1166.6h0M404.0 1178.0h0M434.9 1166.5h0M405.3 1170.1h0M414.0 1185.5h0M387.4 1104.8h0M426.9 1179.9h0M411.1 1173.1h0M394.0 1171.1h0M421.0 1165.5h0M407.1 1184.5h0M396.5 1129.1h0M427.9 1147.6h0M413.9 1182.1h0M392.0 1146.8h0M414.5 1180.7h0M406.2 1132.3h0M429.0 1178.5h0M406.5 1165.9h0M393.0 1115.3h0M410.3 1191.4h0M413.0 1154.6h0M425.7 1130.3h0M401.4 1173.9h0M425.6 1186.3h0M381.1 1133.4h0M421.1 1180.9h0M406.2 1153.6h0M404.8 1139.9h0M402.5 1131.4h0M427.6 1173.1h0M431.2 1159.7h0M422.2 1146.1h0M403.6 1118.6h0M422.6 1162.1h0M402.1 1181.0h0M391.9 1166.3h0M420.2 1144.9h0M422.3 1141.1h0M393.8 1115.3h0M406.7 1145.1h0M413.6 1157.7h0M411.0 1121.8h0M433.6 1170.3h0M410.5 1118.9h0M411.3 1180.7h0M426.4 1150.8h0M400.0 1136.6h0M437.7 1150.9h0M387.0 1122.9h0M417.6 1183.3h0M402.3 1163.3h0M390.5 1119.1h0M385.0 1163.0h0M421.7 1187.2h0M433.0 1155.5h0M417.8 1163.6h0M432.0 1179.1h0M433.4 1170.6h0M394.6 1169.1h0M399.0 1108.0h0M386.2 1146.2h0M428.3 1150.2h0M409.0 1158.2h0M428.8 1160.5h0M391.7 1153.9h0M391.1 1117.3h0M430.4 1177.9h0M410.3 1153.0h0M426.0 1182.3h0M415.3 1176.3h0M398.7 1152.1h0M413.9 1130.6h0M421.8 1159.7h0M386.6 1156.8h0M427.6 1151.8h0M410.3 1162.5h0M422.6 1157.7h0M418.9 1179.0h0M416.1 1147.9h0M419.0 1186.1h0M406.8 1133.1h0M412.0 1188.0h0M426.6 1158.3h0M414.7 1139.6h0M423.2 1157.3h0M413.8 1126.1h0M391.2 1109.3h0M418.2 1183.5h0M405.3 1151.5h0M400.9 1170.5h0M391.7 1111.0h0M402.1 1120.3h0M396.1 1132.7h0M383.7 1126.0h0M398.9 1116.8h0M429.7 1162.3h0M401.2 1147.8h0M421.0 1122.9h0M390.8 1132.4h0M429.2 1159.1h0M411.6 1133.3h0M395.2 1110.9h0M427.6 1150.0h0M422.4 1174.1h0M388.0 1135.1h0M432.4 1145.0h0M393.6 1119.3h0M410.2 1152.2h0M398.3 1151.7h0M386.1 1126.1h0M395.0 1172.4h0M405.3 1150.9h0M382.6 1131.4h0M395.7 1133.4h0M409.5 1148.9h0M387.7 1114.2h0M411.4 1193.8h0M394.5 1140.0h0M403.7 1180.7h0M416.8 1167.1h0M421.6 1183.7h0M387.1 1141.6h0M391.4 1139.2h0M404.7 1186.4h0M411.9 1191.4h0M414.6 1189.7h0M416.2 1194.0h0M397.0 1161.5h0M432.7 1146.0h0M393.5 1116.1h0M426.6 1150.0h0M416.6 1157.6h0M383.0 1139.4h0M418.6 1119.3h0M407.6 1171.2h0M429.4 1158.0h0M424.4 1150.2h0M433.3 1169.3h0M410.0 1156.9h0M417.4 1172.7h0M387.1 1133.2h0M392.2 1117.2h0M412.4 1144.3h0M385.9 1144.6h0M404.3 1138.7h0M401.4 1141.7h0M424.4 1169.8h0M412.5 1160.8h0M388.6 1125.4h0M402.1 1129.9h0M423.1 1144.8h0M427.8 1162.5h0M428.2 1174.6h0M412.5 1135.0h0M400.1 1133.5h0M406.7 1188.8h0M427.2 1136.2h0M431.5 1147.3h0M394.7 1128.5h0M430.8 1172.9h0M394.6 1124.3h0M426.8 1143.7h0M402.9 1125.2h0M404.0 1173.0h0M383.4 1139.0h0M413.5 1175.7h0M401.1 1184.9h0M405.3 1124.6h0M391.9 1138.7h0M397.8 1164.4h0M412.7 1173.8h0M395.0 1120.0h0M411.7 1182.1h0M382.5 1143.8h0M417.2 1157.9h0M413.0 1159.4h0M426.1 1177.4h0M400.6 1166.7h0M415.3 1166.9h0M409.8 1167.9h0M433.2 1167.4h0M404.1 1170.1h0M392.7 1147.8h0M391.1 1130.8h0M384.8 1133.1h0M396.0 1176.7h0M381.8 1140.9h0M413.0 1126.7h0M394.2 1135.1h0M430.7 1158.8h0M429.9 1138.1h0M414.7 1146.1h0M396.8 1166.9h0M436.3 1160.3h0M406.2 1152.1h0M420.9 1179.1h0M429.3 1176.2h0M414.4 1193.0h0M423.0 1128.6h0M389.7 1157.4h0M391.9 1155.6h0M400.0 1171.6h0M414.1 1169.0h0M419.4 1148.6h0M395.1 1173.9h0M385.5 1156.7h0M401.3 1172.8h0M406.5 1179.5h0M392.7 1116.9h0M419.4 1188.6h0M413.6 1127.6h0M439.6 1156.4h0M394.0 1162.2h0M418.8 1176.1h0M388.2 1103.1h0M400.3 1124.4h0M394.3 1131.3h0M395.4 1126.9h0M429.7 1142.8h0M426.1 1137.3h0M386.8 1117.5h0M417.7 1131.8h0M424.5 1170.2h0M434.4 1152.5h0M402.4 1143.5h0M393.5 1152.4h0M412.2 1169.5h0M400.3 1171.4h0M386.5 1120.8h0M394.0 1121.6h0M413.7 1170.7h0M390.3 1119.9h0M390.8 1168.6h0M383.0 1142.8h0M404.3 1144.3h0M391.6 1113.5h0M392.6 1112.8h0M421.2 1164.5h0M411.7 1149.1h0M400.5 1169.4h0M399.3 1171.6h0M395.7 1134.8h0M436.3 1162.9h0M393.8 1120.7h0M417.7 1169.9h0M428.2 1150.3h0M402.4 1180.1h0M400.3 1168.0h0M430.4 1155.6h0M435.5 1144.3h0M407.6 1177.2h0M434.4 1149.8h0M425.2 1173.8h0M382.3 1138.0h0M393.2 1134.3h0M398.3 1142.8h0M430.7 1135.9h0M396.3 1108.2h0M427.9 1153.5h0M414.4 1155.3h0M412.7 1168.7h0M429.5 1154.0h0M405.2 1184.1h0M430.1 1178.9h0M413.3 1148.5h0M414.6 1155.4h0M415.1 1160.6h0M429.6 1173.6h0M400.0 1169.0h0M414.1 1118.3h0M411.8 1143.1h0M420.2 1186.3h0M389.9 1108.6h0M408.3 1171.9h0M396.2 1118.3h0M432.7 1146.9h0M398.3 1151.9h0M410.6 1150.8h0M419.6 1122.4h0M405.1 1139.4h0M419.5 1150.5h0M388.3 1124.5h0M430.4 1139.1h0M412.4 1122.6h0M386.9 1121.7h0M395.6 1153.3h0M431.8 1144.8h0M403.5 1145.3h0M395.8 1165.8h0M404.1 1141.2h0M388.7 1161.1h0M431.2 1176.9h0M403.7 1173.9h0M436.8 1155.4h0M407.8 1126.4h0M408.0 1140.5h0M428.3 1155.1h0M416.5 1162.8h0M396.7 1109.7h0M425.8 1142.3h0M421.6 1183.9h0M437.0 1156.9h0M413.3 1148.0h0M388.8 1159.9h0M402.7 1145.2h0M404.3 1175.6h0M401.9 1176.5h0M420.8 1184.4h0M411.9 1161.6h0M394.5 1142.7h0M390.1 1116.3h0M429.7 1163.1h0M420.0 1129.6h0M401.9 1116.3h0M434.0 1165.6h0M397.8 1136.3h0M400.9 1186.3h0M430.3 1140.9h0M391.7 1166.4h0M401.1 1166.1h0M409.6 1115.8h0M409.4 1158.5h0M391.1 1147.2h0M425.8 1165.9h0M401.9 1140.4h0M433.1 1165.2h0M381.2 1141.7h0M383.8 1125.0h0M409.7 1137.5h0M412.1 1184.3h0M438.4 1145.5h0M409.1 1192.2h0M379.0 1138.1h0M430.8 1174.4h0M381.0 1144.4h0M388.4 1106.9h0M418.1 1170.6h0M392.7 1111.0h0M394.8 1111.2h0M413.1 1164.1h0M399.0 1156.1h0M404.3 1167.8h0M402.9 1120.6h0M411.2 1178.6h0M389.3 1161.2h0M414.3 1168.8h0M398.3 1147.3h0M421.4 1128.5h0M400.3 1147.7h0M418.5 1167.2h0M394.9 1120.9h0M408.0 1116.6h0M413.8 1143.1h0M410.5 1139.0h0M386.3 1161.4h0M415.5 1158.4h0M393.3 1160.1h0M417.0 1135.7h0M383.9 1141.8h0M423.0 1136.1h0M395.7 1144.5h0M433.7 1146.6h0M405.2 1126.5h0M379.6 1138.3h0M403.3 1177.3h0M425.2 1145.1h0M391.4 1163.0h0M389.3 1142.3h0M399.7 1180.9h0M430.0 1146.6h0M398.1 1158.1h0M399.7 1172.2h0M416.7 1166.5h0M393.8 1158.4h0M404.7 1125.1h0M387.7 1161.6h0M421.0 1182.9h0M415.8 1176.2h0M409.5 1175.4h0M423.3 1172.7h0M419.2 1178.3h0M412.1 1148.6h0M403.5 1189.2h0M422.8 1131.8h0M420.9 1142.0h0M411.2 1138.0h0M416.4 1186.3h0M401.7 1149.9h0M387.3 1106.7h0M426.7 1138.0h0M406.5 1135.4h0M411.1 1164.4h0M428.4 1137.1h0M426.1 1162.5h0M409.4 1149.5h0M401.6 1168.6h0M425.1 1182.5h0M429.7 1140.1h0M413.9 1136.9h0M411.2 1150.7h0M394.2 1116.5h0M387.7 1136.2h0M417.1 1156.2h0M388.6 1109.3h0M426.8 1151.9h0M397.1 1156.7h0M428.6 1174.8h0M390.8 1103.0h0M422.0 1130.2h0M411.6 1149.6h0M410.9 1124.1h0M432.7 1166.3h0M428.6 1138.6h0M426.3 1156.1h0M414.6 1139.1h0M410.4 1134.1h0M429.2 1176.0h0M396.7 1169.1h0M412.6 1121.4h0M399.2 1164.8h0M422.3 1170.2h0M384.4 1142.9h0M390.3 1166.8h0M388.6 1133.1h0M382.9 1124.6h0M403.6 1131.8h0M399.8 1125.2h0M399.4 1143.4h0M415.5 1126.2h0M425.9 1143.2h0M408.3 1125.2h0M416.5 1185.0h0M430.9 1174.1h0M392.7 1150.6h0M393.8 1155.6h0M402.7 1117.3h0M437.6 1153.4h0M406.9 1123.5h0M425.7 1182.5h0M438.8 1157.2h0M430.9 1137.6h0M431.8 1145.3h0M394.6 1149.6h0M438.9 1162.3h0M390.4 1114.8h0M397.4 1174.3h0M415.5 1158.5h0M394.4 1142.9h0M413.4 1162.5h0M408.2 1164.8h0M386.2 1120.2h0M408.3 1115.9h0M396.5 1116.9h0M399.2 1139.4h0M423.8 1140.9h0M432.6 1158.7h0M408.9 1119.5h0M401.1 1180.3h0M412.7 1127.1h0M400.5 1130.2h0M404.0 1183.4h0M382.8 1137.0h0M430.4 1163.9h0M423.5 1183.5h0M420.1 1133.1h0M416.0 1139.1h0M391.6 1122.4h0M400.2 1144.5h0M426.2 1148.1h0M412.5 1120.6h0M388.6 1101.7h0M415.9 1153.1h0M392.1 1117.6h0M398.3 1115.1h0M410.2 1177.6h0M402.3 1186.6h0M393.9 1127.4h0M428.0 1178.5h0M430.0 1157.3h0M387.8 1151.1h0M425.3 1178.6h0M400.9 1156.7h0M422.5 1171.2h0M406.6 1172.8h0M420.2 1190.1h0M430.0 1168.3h0M409.2 1137.3h0M396.9 1155.6h0M428.9 1137.9h0M404.8 1168.3h0M420.2 1168.6h0M387.9 1136.0h0M431.3 1141.0h0M391.6 1136.7h0M409.2 1120.8h0M389.6 1145.2h0M409.7 1168.3h0M386.1 1132.9h0M388.8 1112.8h0M393.5 1170.3h0M396.0 1149.6h0M383.1 1147.9h0M384.6 1156.5h0M388.6 1131.3h0M394.3 1129.5h0M411.3 1168.0h0M434.1 1138.5h0M429.0 1133.6h0M405.1 1171.2h0M430.6 1137.5h0M402.7 1166.4h0M391.6 1164.8h0M392.7 1156.1h0M407.7 1190.9h0M383.3 1130.7h0M387.2 1110.4h0M397.7 1171.4h0M400.9 1146.1h0M416.9 1130.8h0M402.1 1165.8h0M402.5 1151.3h0M420.2 1159.9h0M411.5 1128.8h0M412.5 1182.7h0M388.0 1140.2h0M391.3 1150.5h0M418.9 1175.8h0M426.5 1152.5h0M386.3 1109.8h0M431.1 1171.1h0M396.2 1153.8h0M426.6 1164.5h0M408.9 1165.3h0M423.5 1131.6h0M421.0 1161.4h0M397.6 1173.2h0M410.6 1154.3h0M399.7 1163.6h0M419.6 1131.9h0M381.9 1135.7h0M383.9 1127.1h0M436.5 1144.2h0M411.0 1127.9h0M401.0 1174.0h0M406.4 1124.4h0M418.6 1143.7h0M400.7 1130.0h0M400.9 1180.9h0M424.1 1146.3h0M392.7 1103.7h0M412.5 1125.9h0M397.8 1172.7h0M401.1 1168.6h0M418.6 1189.6h0M396.6 1117.1h0M389.7 1138.9h0M410.0 1140.1h0M409.9 1171.3h0M405.7 1138.5h0M410.4 1185.6h0M420.7 1168.0h0M411.8 1165.5h0M422.5 1136.5h0M399.2 1126.9h0M406.2 1120.7h0M387.9 1138.1h0M405.6 1177.8h0M395.4 1168.2h0M418.2 1155.0h0M405.2 1162.3h0M389.9 1125.5h0M429.3 1169.0h0M406.4 1150.5h0M400.3 1118.4h0M392.9 1126.8h0M425.8 1135.4h0M428.7 1150.7h0M399.7 1183.0h0M406.0 1141.3h0M392.8 1105.3h0M417.2 1180.0h0M436.8 1160.1h0M417.0 1156.1h0M402.4 1122.9h0M429.7 1133.6h0M394.3 1148.6h0M414.6 1120.8h0M385.5 1120.3h0M399.3 1133.0h0M393.1 1137.8h0M395.7 1111.1h0M390.3 1150.2h0M417.5 1175.4h0M434.7 1159.7h0M418.0 1147.7h0M424.5 1174.9h0M397.3 1135.9h0M434.0 1158.7h0M419.5 1132.2h0M403.5 1134.1h0M414.4 1131.5h0M412.6 1181.4h0M392.1 1122.8h0M401.6 1128.5h0M417.2 1167.9h0M421.9 1160.2h0M398.1 1143.9h0M413.3 1126.8h0M419.4 1177.3h0M416.5 1178.6h0M391.6 1164.8h0M429.1 1143.1h0M408.5 1142.2h0M397.2 1137.5h0M435.3 1146.1h0M430.6 1165.5h0M403.8 1160.7h0M409.0 1190.0h0M386.0 1144.3h0M431.2 1161.2h0M401.6 1181.6h0M409.0 1159.3h0M383.2 1149.8h0M427.9 1154.8h0M399.1 1174.1h0M398.6 1135.7h0M420.8 1136.6h0M390.2 1117.5h0M385.9 1153.7h0M406.0 1182.7h0M415.3 1194.0h0M417.4 1168.6h0M425.9 1154.2h0M394.1 1143.0h0M406.6 1134.7h0M415.1 1136.3h0M433.3 1163.6h0M422.1 1135.3h0M412.1 1125.9h0M402.0 1134.4h0M432.3 1154.9h0M385.1 1150.4h0M423.0 1139.8h0M404.3 1184.8h0M425.8 1185.7h0M420.3 1136.6h0M426.9 1129.8h0M417.5 1138.9h0M425.4 1176.6h0M429.6 1152.2h0M409.0 1129.7h0M388.6 1117.0h0M403.3 1166.8h0M404.6 1182.6h0M389.7 1146.6h0M431.5 1158.8h0M406.3 1174.2h0M410.4 1180.7h0M394.4 1169.9h0M392.4 1110.7h0M413.4 1118.2h0M408.9 1129.1h0M417.3 1181.4h0M410.7 1187.5h0M415.8 1182.1h0M398.0 1132.9h0M415.0 1142.0h0M412.5 1170.5h0M403.2 1187.3h0M416.9 1186.2h0M412.9 1129.1h0M385.9 1140.0h0M403.1 1166.8h0M407.9 1157.3h0M423.4 1155.1h0M398.5 1138.4h0M400.9 1183.4h0M409.4 1182.0h0M403.0 1167.2h0M428.9 1175.1h0M432.7 1144.0h0M394.4 1149.9h0M395.2 1170.8h0M408.4 1143.7h0M429.4 1142.4h0M393.1 1174.1h0M424.2 1140.2h0M388.5 1112.8h0M396.3 1112.1h0M439.8 1158.1h0M421.5 1147.5h0M403.1 1173.7h0M419.9 1161.9h0M415.7 1186.4h0M422.9 1128.5h0M391.4 1125.3h0M400.8 1159.5h0M388.1 1119.5h0M414.8 1178.6h0M424.3 1164.4h0M392.2 1107.2h0M406.7 1135.8h0M385.8 1142.9h0M431.7 1149.3h0M416.9 1170.3h0M394.0 1178.5h0M401.8 1133.6h0M385.6 1100.8h0M403.5 1186.0h0M430.9 1144.7h0M398.3 1129.2h0M400.3 1176.9h0M403.1 1123.0h0M406.6 1142.1h0M395.9 1132.1h0M415.1 1142.9h0M423.6 1133.6h0M385.1 1152.8h0M391.5 1164.7h0M422.6 1131.6h0M400.5 1139.8h0M393.8 1119.7h0M411.3 1126.5h0M409.0 1117.7h0M408.8 1163.6h0M402.4 1138.8h0M391.1 1103.3h0M436.0 1154.8h0M420.8 1175.2h0M385.7 1117.2h0M402.4 1158.6h0M379.3 1134.5h0M402.4 1172.7h0M414.0 1175.2h0M414.1 1161.8h0M423.3 1160.3h0M407.1 1126.6h0M398.4 1170.2h0M398.2 1168.8h0M415.6 1123.9h0M402.6 1184.9h0M416.1 1153.4h0M388.7 1138.8h0M423.5 1134.2h0M422.6 1146.6h0M425.4 1142.4h0M422.3 1132.1h0M404.9 1126.7h0M417.8 1151.9h0M430.8 1153.4h0M430.0 1159.2h0M387.4 1111.3h0M388.5 1107.2h0M411.1 1117.7h0M437.6 1168.0h0M438.3 1153.9h0M432.9 1145.2h0M427.0 1130.5h0M386.9 1136.4h0M406.3 1130.5h0M394.6 1116.3h0M389.3 1136.1h0M384.2 1132.7h0M404.5 1137.7h0M414.6 1129.5h0M391.0 1118.2h0M391.2 1164.2h0M400.4 1144.2h0M410.2 1126.0h0M436.1 1162.9h0M386.5 1109.3h0M391.5 1103.3h0M404.6 1137.8h0M413.2 1141.7h0M434.7 1151.2h0M427.3 1151.5h0M416.1 1186.9h0M421.8 1135.5h0M430.6 1161.5h0M393.1 1126.0h0M393.3 1107.7h0M392.0 1141.3h0M406.4 1188.7h0M399.4 1161.1h0M410.3 1184.0h0M400.8 1159.6h0M402.9 1174.4h0M398.9 1180.7h0M424.4 1164.5h0M383.8 1143.3h0M418.3 1156.5h0M433.5 1159.5h0M390.0 1159.4h0M406.4 1153.3h0M403.4 1146.7h0M398.4 1122.6h0M427.2 1142.5h0M412.6 1168.5h0M397.2 1131.8h0M434.3 1171.6h0M411.6 1164.3h0M420.0 1177.2h0M422.6 1151.6h0M388.4 1129.9h0M395.6 1140.6h0M386.2 1152.7h0M420.7 1130.9h0M427.8 1139.5h0M428.9 1169.2h0M395.2 1180.6h0M385.6 1118.8h0M384.3 1132.0h0M391.2 1107.0h0M397.3 1116.2h0M382.8 1137.6h0M416.9 1131.3h0M412.8 1150.4h0M407.5 1174.8h0M411.7 1177.2h0M403.8 1154.3h0M434.5 1140.7h0M387.0 1148.8h0M428.1 1151.4h0M420.1 1183.5h0M391.4 1112.4h0M419.8 1179.1h0M395.4 1164.4h0M412.6 1182.6h0M418.2 1179.2h0M416.9 1139.2h0M404.3 1171.2h0M410.6 1159.9h0M390.1 1128.2h0M403.1 1125.1h0M421.8 1137.4h0M388.8 1156.8h0M408.9 1131.9h0M389.6 1103.0h0M410.6 1169.8h0M398.8 1160.4h0M392.3 1114.7h0M398.9 1176.2h0M413.4 1139.0h0M391.1 1105.4h0M402.3 1144.5h0M426.4 1150.8h0M380.9 1145.1h0M398.0 1175.2h0M388.9 1159.9h0M396.8 1140.5h0M428.6 1139.7h0M435.3 1141.2h0M435.0 1175.1h0M418.6 1136.2h0M428.0 1139.3h0M421.2 1175.1h0M413.3 1171.4h0M388.0 1134.4h0M402.2 1148.2h0M412.8 1182.1h0M419.2 1189.7h0M409.8 1119.9h0M419.8 1136.4h0M418.5 1185.2h0M420.8 1133.9h0M387.9 1146.8h0M397.2 1180.0h0M412.2 1166.8h0M386.4 1103.9h0M418.6 1184.5h0M411.4 1148.2h0M392.1 1174.7h0M387.4 1117.5h0M380.8 1143.0h0M433.7 1168.2h0M390.5 1112.2h0M412.5 1169.1h0M388.4 1112.4h0M389.0 1147.3h0M399.5 1120.3h0M423.1 1153.5h0M421.8 1156.4h0M429.5 1151.9h0M406.4 1143.8h0M420.0 1155.6h0M414.9 1141.9h0M404.8 1179.5h0M424.7 1158.0h0M435.9 1168.1h0M422.7 1134.8h0M386.0 1128.6h0M400.4 1168.5h0M400.5 1140.7h0M417.2 1160.0h0M411.0 1186.2h0M383.1 1132.4h0M400.5 1153.5h0M412.0 1145.5h0M393.5 1157.3h0M388.7 1133.1h0M394.5 1126.4h0M426.3 1168.9h0M414.7 1173.7h0M405.7 1133.2h0M421.3 1139.4h0M395.8 1162.1h0M412.6 1180.4h0M392.6 1104.9h0M428.9 1166.3h0M401.9 1186.4h0M397.0 1140.2h0M395.3 1139.1h0M413.4 1122.4h0M429.1 1153.3h0M391.4 1123.6h0M434.0 1152.4h0M415.4 1144.4h0M413.9 1191.4h0M426.5 1166.0h0M411.8 1183.4h0M418.5 1176.3h0M421.5 1124.9h0M398.0 1138.8h0M392.9 1135.8h0M411.5 1182.2h0M424.5 1164.5h0M411.4 1149.8h0M387.8 1118.1h0M387.4 1141.2h0M414.2 1155.9h0M418.9 1167.3h0M420.0 1144.6h0M387.4 1137.5h0M385.2 1117.6h0M389.9 1143.9h0M394.7 1114.9h0M405.8 1187.9h0M397.0 1135.6h0M419.0 1155.0h0M432.0 1154.2h0M386.2 1097.8h0M404.7 1155.6h0M401.5 1184.3h0M416.5 1126.3h0M391.8 1111.5h0M423.2 1183.5h0M430.9 1151.9h0M396.3 1108.5h0M413.9 1124.0h0M425.8 1129.9h0M436.7 1157.4h0M400.7 1162.8h0M411.6 1122.0h0M408.8 1137.6h0M389.9 1120.8h0M411.0 1160.4h0M431.5 1166.6h0M420.9 1144.6h0M426.0 1154.0h0M404.6 1137.2h0M418.1 1127.6h0M409.0 1178.1h0M402.3 1177.6h0M421.8 1174.8h0M398.6 1137.9h0M416.1 1194.0h0M398.1 1182.1h0M399.7 1116.9h0M391.7 1117.3h0M419.5 1179.1h0M387.5 1156.4h0M415.1 1159.1h0M411.6 1177.0h0M405.2 1151.6h0M427.4 1166.6h0M391.8 1116.2h0M406.6 1135.4h0M414.4 1122.6h0M414.0 1125.4h0M401.4 1169.9h0M420.7 1152.0h0M402.8 1140.9h0M424.5 1166.2h0M415.3 1153.6h0M391.2 1165.0h0M429.7 1177.7h0M428.8 1146.6h0M420.3 1147.6h0M418.9 1193.0h0M403.9 1140.8h0M421.6 1175.6h0M402.4 1156.7h0M430.7 1159.8h0M409.7 1184.8h0M417.3 1162.4h0M382.9 1142.6h0M417.2 1124.4h0M417.1 1122.3h0M426.4 1178.7h0M402.5 1170.0h0M438.7 1150.4h0M406.1 1120.2h0M392.5 1135.4h0M430.4 1157.5h0M392.8 1143.8h0M421.1 1141.1h0M413.1 1140.2h0M409.0 1129.3h0M385.3 1132.9h0M416.2 1158.3h0M417.4 1173.3h0M404.1 1181.2h0M403.1 1111.9h0M395.2 1168.9h0M392.1 1106.2h0M414.4 1136.4h0M405.4 1140.6h0M389.0 1142.6h0M386.4 1158.8h0M387.3 1107.7h0M434.8 1142.8h0M385.8 1154.7h0M402.3 1182.4h0M392.3 1173.5h0M409.8 1191.7h0M386.1 1145.3h0M412.6 1148.5h0M415.4 1176.6h0M437.8 1161.9h0M410.6 1154.5h0M428.4 1148.5h0M398.8 1135.4h0M423.1 1171.9h0M397.3 1151.9h0M429.3 1178.3h0M429.2 1158.0h0M430.3 1178.6h0M389.9 1104.9h0M413.4 1131.7h0M386.1 1126.4h0M392.8 1171.8h0M440.3 1155.4h0M430.8 1173.9h0M407.2 1143.6h0M430.9 1168.1h0M419.4 1130.0h0M412.8 1174.4h0M404.8 1183.6h0M422.4 1181.3h0M405.6 1134.2h0M413.9 1191.9h0M419.0 1139.0h0M396.3 1134.1h0M417.8 1162.5h0M437.8 1149.3h0M423.3 1170.1h0M419.7 1171.2h0M431.9 1142.8h0M412.3 1154.1h0M380.2 1148.7h0M392.6 1130.7h0M386.5 1153.5h0M420.0 1128.1h0M437.8 1167.9h0M402.9 1139.6h0M419.6 1185.1h0M387.6 1139.5h0M380.4 1145.0h0M406.4 1145.6h0M408.4 1127.0h0M418.0 1122.7h0M431.8 1175.0h0M401.6 1134.5h0M397.7 1122.9h0M395.9 1138.5h0M416.6 1177.9h0M427.6 1140.7h0M413.6 1121.6h0M398.3 1174.2h0M391.1 1142.5h0M417.4 1163.1h0M424.1 1126.4h0M432.6 1145.5h0M421.0 1154.4h0M385.6 1144.2h0M412.5 1182.3h0M409.3 1176.1h0M417.4 1146.1h0M398.2 1129.7h0M426.7 1148.6h0M417.6 1135.7h0M397.5 1145.3h0M402.4 1166.7h0M411.3 1133.2h0M391.7 1141.7h0M399.6 1169.1h0M420.9 1142.7h0M394.6 1144.5h0M398.9 1159.2h0M381.3 1137.7h0M390.4 1134.2h0M412.2 1191.1h0M419.9 1188.5h0M399.1 1132.2h0M431.7 1161.5h0M409.1 1132.5h0M416.7 1162.9h0M413.9 1185.7h0M402.0 1173.6h0M420.4 1160.6h0M384.6 1140.8h0M418.9 1141.0h0M384.6 1133.5h0M385.0 1122.3h0M390.9 1113.7h0M397.2 1161.0h0M409.4 1182.7h0M389.8 1112.3h0M397.3 1159.9h0M428.6 1130.5h0M419.3 1164.9h0M418.9 1155.3h0M392.2 1129.7h0M428.2 1155.9h0M388.6 1113.5h0M386.0 1160.9h0M414.1 1165.6h0M418.4 1192.8h0M378.5 1135.4h0M428.2 1146.2h0M412.4 1191.8h0M399.6 1125.7h0M382.5 1148.1h0M402.6 1167.9h0M409.6 1135.3h0M396.4 1114.4h0M389.9 1103.3h0M412.7 1136.4h0M418.7 1172.0h0M394.6 1159.3h0M411.6 1124.0h0M410.3 1180.0h0M410.4 1156.9h0M387.4 1150.7h0M393.3 1142.3h0M427.7 1160.5h0M433.8 1159.1h0M431.0 1171.4h0M382.1 1128.3h0M426.1 1145.9h0M437.4 1153.6h0M411.5 1116.7h0M411.7 1136.8h0M404.8 1148.6h0M411.3 1150.5h0M404.4 1118.4h0M398.2 1119.9h0M393.0 1175.3h0M429.0 1183.4h0M399.8 1110.2h0M414.8 1178.9h0M428.4 1160.3h0M403.6 1125.3h0M399.3 1144.9h0M399.9 1122.5h0M420.6 1134.8h0M417.7 1135.5h0M423.0 1184.4h0M433.2 1150.6h0M385.9 1144.0h0M402.5 1156.7h0M395.2 1125.6h0M424.9 1131.5h0M392.9 1160.1h0M406.6 1186.2h0M402.2 1121.6h0M380.8 1145.5h0M424.3 1151.7h0M404.1 1144.3h0M388.7 1155.4h0M415.6 1176.2h0M422.0 1138.6h0M407.3 1141.4h0M414.3 1156.2h0M410.4 1176.1h0M381.4 1149.6h0M422.1 1159.7h0M433.3 1164.8h0M437.2 1144.5h0M416.5 1125.9h0M408.2 1142.9h0M415.3 1170.9h0M407.2 1176.5h0M411.1 1138.2h0M439.4 1152.9h0M411.6 1124.4h0M421.1 1154.5h0M403.1 1138.0h0M426.3 1153.4h0M431.8 1157.0h0M390.7 1159.7h0M413.7 1154.8h0M417.4 1152.7h0M397.8 1115.9h0M408.3 1123.1h0M417.4 1159.1h0M418.5 1165.4h0M402.6 1174.7h0M423.2 1182.5h0M398.4 1137.2h0M401.7 1153.1h0M414.4 1127.5h0M426.1 1164.8h0M403.0 1123.6h0M419.6 1177.9h0M380.8 1139.5h0M431.6 1153.3h0M411.4 1169.7h0M424.5 1148.5h0M407.1 1122.0h0M417.0 1120.9h0M429.4 1149.6h0M403.3 1120.4h0M429.9 1176.9h0M386.1 1160.3h0M403.0 1146.9h0M413.0 1152.9h0M406.5 1177.3h0M412.0 1118.1h0M408.1 1129.8h0M419.3 1133.3h0M397.3 1150.0h0M412.7 1157.5h0M385.5 1153.2h0M423.2 1155.6h0M416.0 1128.3h0M410.8 1137.6h0M405.8 1189.0h0M427.8 1165.8h0M406.3 1117.5h0M420.2 1146.3h0M416.0 1174.9h0M423.3 1128.4h0M409.6 1117.1h0M414.7 1183.4h0M430.2 1140.8h0M383.0 1136.5h0M424.7 1179.4h0M392.6 1164.4h0M426.3 1180.9h0M387.7 1115.7h0M426.8 1183.3h0M398.0 1121.6h0M393.5 1155.1h0M397.5 1151.8h0M398.4 1149.1h0M395.1 1121.4h0M400.6 1121.3h0M386.3 1137.3h0M386.1 1129.5h0M402.9 1133.0h0M401.0 1181.5h0M392.5 1138.9h0M398.1 1171.4h0M405.7 1188.0h0M385.6 1097.8h0M410.9 1166.6h0M437.2 1149.1h0M417.4 1163.1h0M413.3 1161.0h0M388.6 1122.0h0M430.4 1138.1h0M401.3 1125.2h0M390.1 1154.7h0M426.6 1151.6h0M421.6 1129.0h0M420.5 1160.8h0M423.7 1172.3h0M401.2 1115.3h0M420.1 1144.8h0M438.0 1156.0h0M389.4 1154.3h0M416.2 1148.7h0M387.6 1123.6h0M428.7 1146.5h0M422.8 1189.1h0M417.4 1122.1h0M421.7 1177.8h0M423.6 1139.7h0M414.0 1187.7h0M423.5 1187.8h0M406.3 1132.9h0M421.6 1151.9h0M407.2 1128.5h0M424.3 1155.2h0M398.4 1150.7h0M387.8 1106.3h0M396.9 1159.7h0M391.6 1154.2h0M408.5 1150.7h0M410.2 1135.2h0M422.2 1144.2h0M425.5 1154.8h0M401.7 1161.4h0M389.7 1122.0h0M389.2 1137.1h0M402.6 1182.1h0M434.8 1154.8h0M405.7 1137.1h0M419.6 1166.1h0M402.3 1156.3h0M417.6 1127.2h0M394.4 1153.0h0M399.2 1170.2h0M416.6 1169.3h0M422.6 1142.6h0M388.2 1160.1h0M401.5 1178.1h0M419.5 1160.2h0M399.2 1133.9h0M421.7 1143.1h0M403.9 1168.3h0M417.4 1151.0h0M393.2 1138.9h0M429.2 1135.9h0M390.7 1161.3h0M422.3 1170.3h0M423.9 1138.0h0M433.0 1156.6h0M417.0 1182.0h0M433.0 1178.0h0M407.6 1119.6h0M412.5 1158.9h0M392.6 1125.4h0M421.7 1167.2h0M430.5 1139.1h0M417.3 1144.6h0M383.7 1144.2h0M387.7 1125.2h0M407.9 1149.6h0M432.4 1165.3h0M421.3 1169.7h0M420.8 1148.1h0M422.4 1149.5h0M437.8 1149.1h0M385.5 1138.8h0M416.7 1161.4h0M391.9 1130.3h0M405.0 1130.7h0M433.1 1166.8h0M394.8 1129.2h0M408.2 1118.6h0M422.9 1144.5h0M402.8 1169.7h0M406.9 1138.0h0M439.1 1158.9h0M411.2 1117.3h0M387.0 1135.7h0M416.8 1145.3h0M428.1 1182.5h0M383.3 1153.1h0M420.9 1159.3h0M386.8 1155.9h0M411.4 1132.0h0M413.2 1148.9h0M396.5 1162.2h0M402.4 1131.0h0M384.6 1122.5h0M381.5 1144.3h0M414.0 1170.5h0M402.0 1134.3h0M436.2 1147.4h0M419.2 1139.9h0M427.2 1149.6h0M403.0 1119.8h0M408.5 1127.6h0M429.5 1150.8h0M393.2 1169.7h0M416.7 1178.3h0M410.7 1143.4h0M394.7 1174.0h0M399.3 1165.1h0M410.6 1190.0h0M439.7 1156.9h0M414.1 1151.9h0M421.9 1142.6h0M388.0 1102.8h0M416.3 1136.3h0M423.6 1128.0h0M407.5 1167.7h0M416.0 1134.1h0M401.5 1138.9h0M386.9 1114.7h0M392.2 1157.9h0M402.5 1127.1h0M422.7 1128.6h0M423.9 1172.1h0M390.4 1155.7h0M409.4 1164.3h0M424.7 1166.0h0M421.4 1183.2h0M414.1 1135.3h0M389.4 1115.3h0M394.7 1118.7h0M416.7 1193.1h0M400.3 1133.8h0M427.2 1164.0h0M436.8 1149.9h0M419.2 1168.2h0M407.6 1122.2h0M393.4 1141.9h0M408.8 1186.5h0M419.4 1184.0h0M415.7 1177.6h0M399.9 1164.0h0M409.5 1116.5h0M404.2 1168.9h0M415.9 1118.4h0M418.0 1136.0h0M417.3 1165.3h0M389.1 1138.3h0M408.1 1133.4h0M398.2 1118.1h0M428.9 1143.7h0M386.5 1136.5h0M413.2 1189.9h0M387.8 1115.5h0M403.5 1187.8h0M416.9 1138.8h0M396.9 1169.9h0M392.8 1166.9h0M406.6 1189.5h0M388.2 1106.3h0M418.0 1180.4h0M400.7 1129.8h0M415.6 1130.3h0M393.9 1171.8h0M395.8 1123.6h0M424.6 1132.4h0M416.0 1171.7h0M426.2 1185.7h0M414.6 1173.0h0M416.3 1178.0h0M411.6 1160.1h0M387.0 1157.4h0M410.4 1184.5h0M400.6 1176.9h0M428.1 1128.3h0M433.8 1153.2h0M424.4 1131.1h0M397.7 1132.4h0M426.7 1182.7h0M411.4 1194.5h0M396.1 1147.8h0M403.7 1184.9h0M414.3 1167.2h0M421.2 1128.3h0M402.1 1139.6h0M396.0 1148.6h0M394.8 1159.2h0M424.7 1147.4h0M408.9 1186.2h0M417.9 1172.0h0M390.2 1151.7h0M408.2 1138.9h0M391.1 1150.2h0M421.8 1153.1h0M388.7 1104.6h0M415.8 1138.1h0M415.7 1131.0h0M391.8 1168.7h0M413.4 1164.0h0M383.8 1142.1h0M388.9 1146.1h0M431.2 1158.1h0M420.1 1129.0h0M420.4 1132.1h0M430.9 1166.4h0M388.9 1111.5h0M389.7 1138.7h0M434.4 1143.0h0M385.6 1155.4h0M429.8 1133.1h0M411.4 1177.8h0M417.7 1166.4h0M401.4 1133.0h0M425.7 1153.9h0M394.9 1134.7h0M404.5 1157.1h0M402.0 1168.2h0M395.1 1169.2h0M436.9 1152.0h0M417.6 1169.0h0M412.0 1165.9h0M388.4 1162.4h0M389.9 1169.4h0M411.6 1128.8h0M396.1 1142.0h0M396.4 1154.6h0M412.8 1122.1h0M417.2 1161.1h0M382.2 1142.9h0M386.3 1165.5h0M433.9 1149.6h0M402.0 1186.3h0M405.6 1128.8h0M407.4 1175.0h0M392.5 1139.8h0M433.3 1173.8h0M390.8 1171.4h0M406.2 1149.6h0M391.2 1124.6h0M424.2 1137.2h0M407.7 1126.1h0M403.1 1132.2h0M417.4 1190.1h0M400.2 1175.2h0M408.4 1145.3h0M425.2 1173.8h0M407.8 1190.0h0M425.9 1163.8h0M419.0 1175.7h0M411.3 1171.2h0M402.0 1183.0h0M418.9 1133.4h0M407.0 1132.1h0M402.8 1181.9h0M404.3 1140.2h0M399.7 1116.3h0M406.5 1190.4h0M416.5 1134.4h0M422.1 1129.8h0M392.1 1129.2h0M420.0 1134.1h0M426.1 1185.1h0M426.8 1159.2h0M400.0 1181.8h0M392.5 1156.0h0M402.4 1163.4h0M414.8 1177.6h0M407.3 1131.4h0M390.3 1115.3h0M430.0 1151.8h0M429.3 1156.1h0M426.0 1143.7h0M396.5 1176.6h0M406.2 1134.6h0M428.8 1142.7h0M385.1 1141.4h0M399.9 1159.1h0M414.6 1163.9h0M398.1 1172.6h0M434.4 1152.7h0M400.2 1128.0h0M407.0 1160.9h0M403.9 1140.2h0M410.6 1187.2h0M387.3 1100.4h0M425.7 1168.9h0M433.2 1154.9h0M415.8 1141.1h0M395.1 1143.8h0M402.5 1179.0h0M398.5 1136.1h0M404.7 1172.8h0M390.2 1148.7h0M417.7 1139.6h0M388.5 1135.8h0M384.4 1140.2h0M389.8 1140.6h0M416.0 1187.9h0M397.4 1119.8h0M390.4 1156.9h0M423.1 1137.1h0M414.7 1125.4h0M402.0 1152.4h0M420.2 1155.1h0M406.4 1125.7h0M389.2 1140.4h0M421.8 1160.2h0M395.6 1160.8h0M427.4 1140.1h0M388.5 1157.4h0M412.0 1186.9h0M422.2 1132.6h0M419.2 1151.7h0M399.8 1174.1h0M418.8 1123.5h0M431.6 1176.1h0M383.2 1143.8h0M424.9 1156.1h0M393.9 1132.8h0M430.0 1177.6h0M412.4 1125.0h0M387.6 1155.0h0M406.3 1134.5h0M383.0 1149.6h0M405.8 1153.7h0M421.8 1137.4h0M395.5 1110.9h0M406.7 1118.6h0M387.8 1140.7h0M413.8 1155.6h0M423.1 1157.7h0M394.1 1142.1h0M415.5 1157.2h0M416.6 1161.6h0M404.5 1130.3h0M413.3 1157.6h0M397.9 1136.1h0M406.1 1139.9h0M404.6 1133.3h0M433.0 1146.4h0M410.2 1156.1h0M409.7 1145.5h0M406.0 1151.7h0M414.5 1122.0h0M396.7 1143.5h0M404.1 1142.4h0M406.0 1153.9h0M421.4 1144.5h0M423.8 1158.4h0M428.5 1146.0h0M421.4 1147.4h0M427.5 1135.4h0M420.3 1142.2h0M405.6 1153.8h0M418.6 1138.4h0M427.0 1160.9h0M415.7 1147.9h0M407.3 1139.4h0M410.4 1131.1h0M402.2 1158.2h0M404.2 1152.7h0M418.5 1167.2h0M409.3 1135.0h0M408.4 1137.8h0M403.4 1140.1h0M408.8 1145.5h0M427.0 1161.3h0M418.4 1153.0h0M407.7 1138.6h0M408.2 1130.7h0M410.9 1153.6h0M394.6 1151.7h0M414.8 1140.2h0M408.8 1167.7h0M414.5 1127.3h0M420.2 1122.6h0M422.0 1133.1h0M420.4 1146.1h0M409.5 1129.0h0M414.5 1142.2h0M395.5 1152.6h0M416.3 1140.7h0M433.4 1147.0h0M404.6 1141.5h0M436.1 1146.0h0M426.3 1160.7h0M403.3 1150.0h0M407.9 1156.9h0M424.6 1142.1h0M414.1 1160.8h0M409.1 1140.2h0M414.3 1143.9h0M420.5 1162.0h0M418.2 1133.1h0M400.5 1156.0h0M414.0 1144.3h0M409.9 1135.1h0M404.4 1125.1h0M418.5 1135.4h0M415.4 1153.3h0M404.7 1166.2h0M433.0 1137.1h0M415.4 1145.1h0M428.7 1159.8h0M416.9 1135.7h0M417.3 1138.7h0M415.0 1149.3h0M402.2 1143.8h0M423.9 1156.4h0M410.3 1154.3h0M406.3 1136.3h0M416.1 1152.8h0M401.1 1132.0h0M424.4 1138.7h0M412.4 1144.1h0M429.1 1144.4h0M403.3 1147.5h0M426.8 1156.7h0M412.0 1133.1h0M412.6 1126.6h0M408.0 1143.8h0M419.5 1151.6h0M412.4 1137.9h0M413.4 1125.3h0M409.2 1136.2h0M428.0 1132.3h0M423.4 1141.3h0M412.3 1120.6h0M420.0 1138.4h0M414.4 1144.3h0M408.2 1155.0h0M418.8 1155.6h0M419.3 1155.4h0M406.2 1127.0h0M407.1 1148.2h0M414.0 1165.8h0M434.9 1151.2h0M403.8 1162.4h0M435.4 1138.8h0M405.2 1151.8h0M403.5 1126.4h0M402.9 1141.5h0M421.5 1139.1h0M405.0 1164.2h0M418.4 1133.7h0M395.3 1151.3h0M412.4 1138.2h0M434.5 1140.1h0M416.9 1133.6h0M404.2 1136.8h0M419.8 1133.0h0M416.1 1161.1h0M414.9 1143.6h0M406.5 1159.4h0M414.9 1122.3h0M411.3 1135.5h0M418.3 1164.3h0M404.3 1142.0h0M427.6 1135.8h0M409.2 1150.3h0M417.0 1125.8h0M409.4 1142.5h0M408.1 1131.8h0M415.3 1140.3h0M412.9 1137.0h0M428.4 1145.4h0M417.1 1155.3h0M407.0 1152.9h0M406.6 1139.3h0M413.0 1159.5h0M400.1 1147.3h0M424.2 1136.2h0M434.2 1144.2h0M419.1 1133.3h0M416.1 1148.8h0M417.7 1150.1h0M411.2 1131.1h0M404.8 1145.0h0M398.7 1151.2h0M410.7 1149.0h0M403.8 1131.9h0M412.7 1129.1h0M417.8 1143.7h0M427.9 1140.0h0M413.2 1130.7h0M422.5 1164.9h0M416.3 1153.9h0M403.6 1135.8h0M409.8 1132.8h0M429.9 1144.0h0M420.2 1142.8h0M425.2 1144.5h0M417.1 1145.4h0M433.0 1147.2h0M408.3 1133.0h0M421.8 1166.0h0M396.9 1132.6h0M409.2 1143.9h0M423.5 1159.6h0M405.3 1160.8h0M407.9 1163.1h0M404.9 1148.5h0M416.8 1142.2h0M412.3 1165.9h0M412.0 1160.7h0M406.4 1140.9h0M418.6 1155.1h0M428.5 1125.5h0M419.1 1135.9h0M420.2 1123.2h0M404.1 1129.9h0M425.3 1141.6h0M414.7 1137.9h0M430.5 1146.7h0M429.8 1151.2h0M422.5 1150.5h0M401.2 1151.6h0M425.4 1145.9h0M404.8 1152.3h0M417.7 1137.8h0M415.9 1160.3h0M421.9 1121.3h0M417.4 1126.4h0M416.9 1133.6h0M403.7 1147.4h0M406.4 1139.6h0M433.0 1136.1h0M409.8 1148.6h0M429.1 1144.6h0M419.7 1145.8h0M399.6 1146.9h0M433.1 1156.2h0M412.0 1132.5h0M396.5 1141.7h0M418.7 1150.7h0M411.6 1146.4h0M418.3 1149.3h0M425.0 1158.3h0M421.6 1155.8h0M431.1 1160.7h0M427.0 1124.8h0M420.7 1147.3h0M427.1 1151.7h0M420.6 1131.3h0M414.4 1122.4h0M408.4 1134.5h0M423.3 1153.8h0M410.3 1125.8h0M398.0 1134.0h0M414.2 1151.8h0M415.8 1126.0h0M408.7 1155.3h0M401.7 1128.4h0M411.9 1142.9h0M404.1 1149.9h0M430.0 1160.3h0M406.0 1134.7h0M421.8 1147.5h0M406.1 1127.6h0M395.4 1141.6h0M403.0 1145.5h0M404.1 1126.4h0M415.3 1160.7h0M418.4 1123.5h0M406.0 1139.3h0M417.9 1125.1h0M400.8 1146.2h0M408.4 1153.1h0M419.2 1146.6h0M407.1 1139.6h0M418.9 1145.6h0M407.5 1149.2h0M419.1 1145.2h0M414.0 1131.2h0M420.6 1151.8h0M431.7 1160.8h0M418.9 1135.9h0M428.1 1135.0h0M410.1 1137.1h0M430.3 1137.6h0M429.2 1162.3h0M398.2 1158.2h0M408.2 1134.5h0M405.7 1156.4h0M419.5 1133.3h0M413.8 1140.5h0M407.1 1140.8h0M423.7 1145.0h0M422.9 1158.9h0M411.7 1164.9h0M412.3 1158.3h0M417.6 1141.0h0M398.7 1145.8h0M422.6 1156.1h0M412.8 1152.9h0M423.4 1141.7h0M419.2 1131.6h0M426.6 1138.8h0M404.1 1146.0h0M415.4 1167.4h0M430.1 1138.0h0M394.9 1144.0h0M412.8 1150.8h0M410.0 1143.1h0M410.6 1122.0h0M406.4 1162.7h0M416.1 1142.8h0M420.3 1149.3h0M412.3 1144.3h0M412.4 1145.6h0M410.5 1134.4h0M398.9 1156.9h0M406.8 1166.9h0M428.4 1154.8h0M397.0 1136.8h0M419.2 1134.1h0M409.6 1127.4h0M401.1 1136.4h0M404.9 1149.0h0M416.0 1151.8h0M407.2 1147.0h0M400.2 1148.9h0M399.3 1146.0h0M405.5 1129.4h0M424.4 1162.2h0M422.9 1160.5h0M428.0 1147.4h0M417.0 1155.7h0M424.8 1155.5h0M419.6 1155.3h0M409.5 1136.1h0M424.8 1150.3h0M407.5 1148.5h0M420.1 1158.0h0M426.4 1124.5h0M421.9 1148.2h0M433.3 1135.4h0M419.5 1155.6h0M421.3 1134.4h0M413.7 1167.1h0M404.4 1154.6h0M416.0 1163.2h0M434.9 1148.3h0M407.3 1151.8h0M424.6 1149.1h0M424.6 1161.0h0M400.8 1136.6h0M428.6 1131.8h0M420.7 1145.0h0M411.7 1151.7h0M427.0 1154.7h0M419.5 1122.9h0M410.7 1143.3h0M415.3 1134.6h0M434.9 1149.1h0M412.7 1139.1h0M421.7 1135.4h0M409.4 1133.6h0M401.7 1143.4h0M412.1 1133.7h0M427.0 1148.2h0M419.3 1142.8h0M427.1 1125.0h0M416.7 1151.8h0M418.2 1144.6h0M414.3 1148.9h0M427.1 1150.6h0M411.2 1148.1h0M430.6 1143.9h0M413.8 1151.0h0M406.2 1149.5h0M418.7 1141.7h0M426.4 1151.8h0M416.4 1148.8h0M413.9 1166.7h0M410.6 1128.2h0M404.8 1127.6h0M408.4 1164.4h0M416.6 1143.3h0M419.1 1133.6h0M401.1 1140.4h0M425.3 1147.2h0M424.6 1136.6h0M400.9 1143.2h0M409.9 1147.5h0M410.1 1140.9h0M427.2 1153.4h0M409.9 1148.2h0M402.6 1133.1h0M414.8 1139.1h0M408.8 1127.2h0M405.6 1144.1h0M435.4 1151.3h0M416.7 1146.5h0M417.9 1143.6h0M427.9 1148.9h0M416.6 1151.3h0M430.2 1146.6h0M420.4 1154.2h0M410.2 1134.6h0M415.5 1122.3h0M403.3 1159.2h0M416.4 1140.8h0M414.0 1143.8h0M405.6 1141.0h0M418.1 1161.4h0M419.7 1169.2h0M407.9 1157.7h0M412.8 1139.8h0M425.6 1125.5h0M429.3 1148.4h0M406.5 1166.1h0M404.9 1140.7h0M422.1 1138.5h0M410.8 1160.7h0M411.8 1146.4h0M418.0 1141.2h0M416.7 1149.7h0M401.5 1156.3h0M416.8 1129.1h0M420.5 1128.5h0M408.3 1149.7h0M400.7 1153.7h0M419.8 1148.6h0M431.9 1150.1h0M417.1 1137.7h0M418.9 1144.1h0M413.5 1154.9h0M423.6 1155.1h0M414.1 1127.3h0M404.1 1141.2h0M409.6 1143.9h0M404.7 1143.6h0M417.3 1126.9h0M429.7 1135.6h0M427.9 1154.7h0M432.6 1150.3h0M409.1 1158.5h0M417.8 1125.8h0M414.7 1129.6h0M424.2 1131.3h0M407.6 1130.3h0M416.6 1140.0h0M407.8 1137.4h0M431.2 1130.3h0M411.1 1150.3h0M411.0 1147.6h0M420.2 1129.5h0M425.2 1155.6h0M411.9 1142.6h0M406.1 1132.0h0M419.9 1132.4h0M426.0 1140.4h0M427.7 1157.9h0M415.7 1161.8h0M401.2 1154.4h0M413.4 1127.9h0M406.0 1138.5h0M414.3 1128.5h0M420.9 1143.5h0M408.7 1143.8h0M406.2 1148.0h0M436.5 1143.4h0M408.1 1148.5h0M407.7 1146.2h0M423.6 1162.4h0M410.2 1126.5h0M409.0 1140.1h0M416.9 1141.2h0M413.9 1157.4h0M409.3 1124.2h0M423.5 1132.6h0M418.5 1139.8h0M405.7 1137.9h0M408.2 1160.0h0M419.9 1131.0h0M415.2 1142.3h0M415.2 1140.2h0M433.9 1150.7h0M412.2 1143.2h0M409.6 1125.1h0M421.8 1132.4h0M420.4 1145.9h0M420.0 1128.1h0M414.8 1141.2h0M408.8 1145.5h0M426.2 1147.4h0M403.2 1127.3h0M409.9 1158.1h0M414.6 1141.0h0M413.2 1139.5h0M432.3 1147.0h0M416.9 1144.9h0M429.1 1163.3h0M409.7 1161.8h0M413.9 1162.6h0M405.8 1145.8h0M427.1 1139.6h0M423.2 1141.5h0M404.1 1157.2h0M417.6 1128.2h0M432.0 1136.2h0M425.5 1138.4h0M427.6 1157.8h0M414.7 1142.1h0M413.7 1149.3h0M421.1 1138.1h0M418.0 1149.9h0M425.7 1145.9h0M434.5 1153.3h0M417.6 1161.4h0M405.5 1159.0h0M394.9 1140.8h0M427.1 1140.2h0M411.6 1166.8h0M409.6 1160.9h0M414.2 1156.4h0M414.9 1167.0h0M426.1 1148.9h0M414.8 1155.0h0M413.2 1142.9h0M404.3 1139.6h0M410.9 1153.5h0M431.2 1149.8h0M424.6 1137.0h0M428.9 1158.2h0M419.6 1141.3h0M412.6 1140.0h0M420.3 1153.2h0M401.8 1145.5h0M406.6 1124.7h0M430.3 1158.2h0M418.1 1150.2h0M435.0 1139.5h0M407.0 1145.6h0M412.5 1124.5h0M413.7 1144.7h0M411.5 1169.7h0M416.6 1147.2h0M404.0 1155.9h0M416.5 1149.1h0M426.9 1126.3h0M399.7 1157.2h0M431.7 1142.1h0M403.9 1138.1h0M406.9 1142.7h0M418.8 1151.1h0M417.8 1138.3h0M408.3 1133.8h0M403.9 1159.1h0M400.1 1161.0h0M412.7 1138.7h0M416.7 1143.4h0M398.1 1136.2h0M415.0 1130.0h0M404.8 1163.4h0M435.5 1145.1h0M422.7 1139.5h0M419.2 1151.3h0M425.1 1149.1h0M406.7 1162.9h0M425.0 1135.3h0M408.8 1161.1h0M411.2 1143.4h0M414.2 1142.8h0M397.6 1151.5h0M427.8 1142.9h0M404.0 1134.6h0M398.3 1145.5h0M428.1 1155.7h0M406.5 1129.3h0M421.4 1131.4h0M424.9 1149.8h0M402.4 1148.8h0M428.5 1160.9h0M425.8 1133.7h0M404.7 1153.1h0M427.8 1139.0h0M418.0 1142.4h0M414.7 1134.2h0M414.9 1154.2h0M408.1 1141.1h0M415.5 1127.7h0M414.6 1166.6h0M409.4 1160.2h0M394.2 1147.8h0M414.9 1139.0h0M415.5 1153.2h0M428.8 1163.3h0M417.4 1153.3h0M413.8 1140.3h0M412.6 1158.7h0M413.6 1156.9h0M426.0 1153.6h0M419.6 1127.8h0M409.2 1137.6h0M398.3 1150.0h0M428.4 1147.4h0M415.0 1135.0h0M406.2 1155.4h0M425.8 1151.2h0M408.7 1131.4h0M428.8 1161.1h0M414.1 1140.8h0M399.5 1150.9h0M416.8 1146.9h0M408.1 1145.9h0M403.9 1146.4h0M427.7 1130.3h0M416.0 1127.2h0M422.7 1149.9h0M407.0 1168.2h0M422.9 1153.7h0M415.7 1121.9h0M407.1 1131.7h0M416.0 1155.7h0M418.7 1141.5h0M422.9 1154.7h0M414.9 1149.8h0M419.0 1153.3h0M422.4 1157.6h0M423.8 1128.4h0M421.7 1162.6h0M426.2 1162.4h0M420.6 1137.4h0M420.7 1149.3h0M417.2 1131.9h0M400.9 1146.4h0M423.7 1122.1h0M412.4 1126.8h0M421.5 1136.6h0M427.6 1150.2h0M431.9 1146.2h0M419.3 1158.9h0M411.6 1146.2h0M416.5 1157.8h0M427.3 1131.5h0M417.6 1133.0h0M396.2 1153.8h0M423.4 1144.7h0M419.4 1167.7h0M417.3 1149.8h0M415.6 1128.2h0M409.5 1143.7h0M417.4 1140.7h0M419.9 1135.5h0M420.4 1139.5h0M400.1 1137.6h0M416.4 1144.1h0M414.0 1136.0h0M401.9 1142.6h0M416.9 1157.5h0M417.0 1163.5h0M414.6 1140.3h0M414.9 1150.4h0M424.5 1135.9h0M415.9 1154.4h0M411.2 1156.8h0M413.4 1162.4h0M404.6 1162.1h0M424.2 1144.7h0M414.0 1134.2h0M397.9 1140.6h0M420.4 1127.4h0M430.7 1145.0h0M397.7 1153.6h0M417.2 1138.3h0M405.1 1162.7h0M402.6 1126.7h0M422.9 1154.6h0M422.2 1141.8h0M404.4 1154.0h0M402.0 1135.6h0M427.3 1141.1h0M409.7 1149.4h0M413.0 1139.6h0M402.6 1143.0h0M414.4 1167.5h0M416.8 1155.5h0M423.0 1144.0h0M418.7 1161.1h0M420.9 1135.5h0M418.1 1150.7h0M422.0 1139.7h0M420.7 1141.3h0M423.1 1152.1h0M403.4 1161.3h0M419.5 1129.4h0M416.6 1142.8h0M420.4 1161.1h0M413.8 1146.3h0M410.6 1148.5h0M422.6 1152.0h0M404.8 1145.4h0M427.0 1161.6h0M414.9 1155.2h0M413.4 1133.2h0M413.5 1149.3h0M398.9 1130.2h0M407.9 1149.1h0M413.0 1164.8h0M430.6 1159.9h0M409.5 1156.2h0M425.2 1153.0h0M407.9 1148.2h0M421.2 1141.7h0M407.5 1160.3h0M418.6 1138.6h0M419.9 1145.7h0M401.9 1137.3h0M420.6 1151.9h0M402.9 1147.9h0M432.1 1139.9h0M415.0 1160.8h0M417.9 1143.2h0M395.7 1146.6h0M417.5 1140.9h0M412.3 1167.2h0M414.7 1151.8h0M433.6 1140.8h0M418.4 1168.2h0M408.8 1159.7h0M434.6 1140.5h0M428.8 1149.8h0M431.2 1155.0h0M413.2 1139.2h0M405.5 1148.2h0M434.7 1144.2h0M402.8 1163.6h0M407.0 1149.3h0M411.8 1142.4h0" stroke="#1f9e4f" stroke-width="2.1" stroke-linecap="round" fill="none"/>
<path d="M121.6 1028.2L365 885L408 1146.5Z" stroke="#000" stroke-width="1.9" fill="none" stroke-linejoin="miter"/>
<rect x="433.5" y="852.4" width="67.0" height="62.80000000000007" rx="2.5" fill="#fff" stroke="#cccccc" stroke-width="1.1"/>
<circle cx="452.7" cy="864.1" r="4.9" fill="#1f77b4"/>
<text class="ls" x="470.3" y="868.1" font-size="13.9" font-weight="bold" fill="#000">ab</text>
<circle cx="452.7" cy="883.7" r="4.9" fill="#f58231"/>
<text class="ls" x="470.3" y="887.7" font-size="13.9" font-weight="bold" fill="#000">abp</text>
<circle cx="452.7" cy="903.3" r="4.9" fill="#1f9e4f"/>
<text class="ls" x="470.3" y="907.3" font-size="13.9" font-weight="bold" fill="#000">y</text>
<path d="M32.1 1149.1V1226.7H113" stroke="#222222" stroke-width="4.0" fill="none"/>
<text class="ls" font-size="24.7" fill="#222222" transform="translate(33.6 1251) scale(0.972 1)">UMAP 1</text>
<text class="ls" font-size="26.2" fill="#222222" transform="translate(24.5 1224.1) rotate(-90) scale(0.955 1)">UMAP2</text>
<text class="dj" x="956.8" y="837.5" font-size="33.3" text-anchor="middle" fill="#000">log2FC &lt; 2.0</text>
<path d="M962.9 1062.2h0M973.6 1074.3h0M980.0 1051.5h0M957.1 1069.1h0M989.3 1070.6h0M980.0 1043.2h0M969.8 1055.0h0M980.1 1057.9h0M959.9 1049.4h0M965.3 1047.4h0M1002.8 1043.4h0M999.2 1044.7h0M949.9 1053.2h0M995.6 1045.2h0M955.6 1051.9h0M969.2 1045.6h0M987.4 1071.6h0M993.9 1043.1h0M983.2 1041.5h0M965.4 1046.2h0M991.8 1069.7h0M981.3 1045.5h0M952.4 1057.6h0M997.5 1050.6h0M964.9 1071.6h0M948.6 1051.8h0M987.8 1051.4h0M983.6 1055.1h0M970.3 1050.9h0M993.0 1047.7h0M967.1 1044.0h0M1004.8 1040.0h0M977.1 1066.2h0M978.3 1071.2h0M948.2 1055.6h0M995.8 1048.4h0M999.6 1045.3h0M968.3 1068.5h0M994.2 1045.6h0M997.3 1056.6h0M950.2 1049.3h0M995.7 1060.9h0M995.7 1043.0h0M954.7 1054.0h0M972.8 1053.2h0M1006.6 1052.6h0M995.3 1044.4h0M967.2 1070.1h0M982.7 1040.1h0M967.5 1072.1h0M958.3 1069.2h0M988.8 1067.9h0M985.2 1056.6h0M980.9 1069.3h0M999.7 1064.1h0M949.9 1051.9h0M964.6 1051.5h0M994.0 1056.3h0M947.3 1054.1h0M998.1 1064.3h0M995.7 1060.5h0M989.4 1042.1h0M1000.2 1063.8h0M996.6 1064.1h0M963.6 1067.7h0M962.6 1052.7h0M965.4 1075.3h0M966.6 1041.6h0M986.2 1058.8h0M1005.2 1040.7h0M952.1 1056.8h0M975.2 1048.0h0M973.9 1041.6h0M1005.2 1051.5h0M1002.4 1061.1h0M997.6 1061.7h0M965.8 1076.7h0M961.0 1071.4h0M994.6 1054.1h0M949.3 1052.7h0M1007.1 1051.8h0M974.1 1062.6h0M960.9 1053.0h0M958.7 1073.6h0M973.3 1065.8h0M1009.3 1049.3h0M975.1 1076.4h0M981.7 1044.6h0M967.1 1057.7h0M993.0 1039.2h0M984.2 1045.5h0M997.8 1053.0h0M985.4 1059.6h0M985.4 1069.7h0M958.5 1067.5h0M1000.2 1063.2h0M977.4 1072.8h0M975.0 1055.9h0M979.1 1040.5h0M959.2 1056.7h0M954.3 1069.5h0M981.9 1044.0h0M964.4 1074.3h0M988.4 1042.9h0M977.4 1076.1h0M996.6 1041.8h0M996.4 1060.0h0M962.9 1051.0h0M961.9 1061.0h0M997.2 1060.8h0M962.5 1051.7h0M956.3 1066.4h0M998.4 1063.2h0M970.7 1052.0h0M962.5 1077.5h0M986.0 1069.8h0M999.1 1042.2h0M953.9 1059.9h0M968.3 1040.3h0M971.9 1066.5h0M990.9 1051.5h0M994.1 1040.0h0M998.1 1059.2h0M972.8 1078.1h0M959.6 1072.3h0M985.8 1070.5h0M988.7 1060.7h0M974.2 1068.7h0M989.5 1051.2h0M978.2 1042.4h0M998.6 1046.1h0M985.8 1054.8h0M957.6 1050.3h0M998.3 1050.1h0M956.8 1050.3h0M965.1 1061.1h0M995.7 1043.5h0M993.4 1049.2h0M995.5 1053.8h0M966.4 1061.2h0M989.1 1042.2h0M984.9 1042.0h0M976.7 1063.7h0M956.9 1064.6h0M1001.0 1063.2h0M967.3 1050.2h0M959.1 1047.4h0M954.4 1063.4h0M974.2 1074.9h0M975.8 1046.6h0M958.5 1075.1h0M967.9 1080.0h0M965.6 1041.9h0M979.2 1074.7h0M1000.5 1062.8h0M951.7 1049.9h0M987.5 1074.3h0M982.2 1043.2h0M953.3 1059.6h0M974.8 1044.3h0M971.9 1051.7h0M954.1 1055.9h0M1012.1 1049.1h0M988.2 1051.4h0M990.2 1055.9h0M998.6 1040.6h0M959.4 1057.4h0M963.4 1044.4h0M970.8 1071.3h0M992.5 1045.1h0M977.4 1043.2h0M984.6 1050.4h0M968.0 1048.2h0M985.8 1057.9h0M966.4 1076.0h0M997.4 1064.7h0M994.7 1069.7h0M972.7 1068.5h0M984.1 1069.9h0M958.0 1052.4h0M1000.2 1049.7h0M985.6 1076.0h0M949.5 1052.9h0M1001.5 1058.9h0M994.2 1054.2h0M968.5 1047.3h0M973.0 1074.7h0M973.0 1077.8h0M954.3 1055.3h0M1000.6 1050.1h0M959.6 1051.9h0M983.1 1069.3h0M987.6 1070.1h0M997.1 1037.7h0M984.5 1054.3h0M959.7 1046.3h0M997.5 1052.9h0M966.0 1078.0h0M987.2 1045.0h0M971.4 1068.2h0M1003.0 1049.7h0M978.0 1053.2h0M999.5 1063.5h0M970.0 1044.4h0M985.0 1038.1h0M964.4 1051.3h0M989.5 1053.3h0M990.1 1046.0h0M959.7 1049.0h0M983.8 1043.9h0M948.2 1051.0h0M977.3 1060.5h0M958.5 1073.8h0M994.7 1059.2h0M998.9 1041.9h0M992.6 1067.3h0M997.9 1056.6h0M957.3 1055.8h0M960.0 1059.6h0M988.2 1069.5h0M966.4 1077.3h0M990.4 1038.6h0M990.4 1037.7h0M967.5 1057.5h0M992.9 1059.7h0M978.9 1071.7h0M1006.9 1051.1h0M986.6 1052.4h0M997.0 1062.1h0M959.3 1064.5h0M954.0 1073.4h0M997.0 1051.1h0M957.0 1048.2h0M981.2 1056.1h0M962.7 1050.7h0M965.2 1064.1h0M979.1 1069.4h0M1003.8 1051.2h0M998.9 1057.7h0M967.9 1051.3h0M1000.3 1050.6h0M1006.5 1046.7h0M1007.1 1043.7h0M958.3 1051.2h0M992.1 1069.1h0M977.8 1057.4h0M976.7 1074.2h0M994.2 1046.7h0M951.0 1059.2h0M968.9 1050.9h0M985.6 1043.9h0M968.6 1071.1h0M985.6 1049.4h0M1002.9 1046.8h0M966.5 1073.6h0M962.0 1051.5h0M1005.1 1046.0h0M971.8 1054.1h0M984.6 1068.2h0M994.4 1037.1h0M992.3 1066.4h0M985.8 1051.6h0M956.3 1047.8h0M983.0 1067.5h0M995.7 1057.0h0M1001.7 1042.8h0M988.1 1065.5h0M980.6 1051.6h0M983.5 1040.6h0M964.5 1064.2h0M986.4 1052.0h0M979.7 1062.6h0M1001.1 1063.0h0M966.5 1044.6h0M998.4 1059.5h0M1006.6 1047.5h0M962.6 1068.9h0M951.7 1067.1h0M969.0 1046.5h0M980.4 1045.7h0M949.9 1061.1h0M974.0 1042.1h0M989.6 1057.3h0M984.6 1045.8h0M952.3 1066.5h0M981.3 1046.6h0M993.1 1062.9h0M963.0 1044.3h0M977.7 1071.2h0M997.7 1054.4h0M974.6 1052.3h0M1004.6 1046.7h0M972.8 1077.3h0M985.1 1062.7h0M993.7 1059.5h0M999.7 1051.5h0M1008.6 1056.8h0M959.6 1066.4h0M965.9 1046.6h0M981.4 1072.6h0M989.4 1054.8h0M965.2 1062.7h0M969.4 1046.9h0M953.8 1072.7h0M971.4 1044.8h0M972.2 1076.5h0M1008.2 1042.7h0M968.3 1076.1h0M970.5 1055.6h0M965.1 1047.0h0M975.2 1047.7h0M1008.0 1047.8h0M980.1 1050.5h0M977.3 1044.3h0M959.1 1079.1h0M977.3 1046.3h0M963.4 1055.8h0M954.7 1055.9h0M949.9 1054.2h0M960.5 1064.9h0M1003.7 1045.1h0M969.7 1075.0h0M951.1 1066.3h0M1001.3 1044.6h0M1004.2 1045.2h0M1009.2 1048.1h0M959.6 1050.3h0M966.6 1050.5h0M986.2 1056.6h0M955.5 1074.4h0M995.3 1066.3h0M973.5 1078.9h0M985.6 1074.8h0M958.8 1045.4h0M1008.0 1046.9h0M970.7 1075.7h0M949.9 1059.5h0M965.2 1054.0h0M999.1 1038.4h0M1003.7 1058.3h0M961.3 1061.7h0M987.3 1056.9h0M1001.4 1058.8h0M986.1 1068.6h0M996.1 1053.6h0M983.3 1073.4h0M993.6 1068.8h0M995.1 1066.7h0M989.1 1053.8h0M978.8 1050.0h0M968.8 1047.4h0M989.3 1063.4h0M989.8 1040.3h0M967.0 1047.1h0M969.2 1067.5h0M967.5 1063.5h0M977.9 1065.7h0M960.9 1051.9h0M1001.6 1065.6h0M995.3 1068.3h0M953.4 1046.7h0M989.1 1054.7h0M960.8 1073.5h0M988.3 1055.9h0M990.5 1063.9h0M972.2 1079.0h0M1002.1 1044.9h0M978.6 1060.0h0M999.5 1056.2h0M965.6 1050.0h0M987.4 1040.4h0M961.6 1067.0h0M994.7 1045.6h0M969.9 1074.2h0M948.5 1057.6h0M989.0 1054.9h0M966.5 1070.3h0M997.2 1048.4h0M983.5 1044.9h0M969.8 1057.6h0M962.1 1061.5h0M987.7 1045.6h0M954.1 1057.8h0M997.8 1046.3h0M953.1 1061.2h0M988.5 1062.5h0M962.9 1079.8h0M980.1 1049.6h0M963.9 1064.3h0M992.3 1058.7h0M966.2 1043.8h0M1001.1 1036.1h0M984.5 1072.2h0M977.6 1074.6h0M985.7 1045.1h0M989.4 1071.6h0M993.7 1052.3h0M1007.6 1051.9h0M985.3 1054.2h0M975.0 1075.0h0M956.9 1065.4h0M957.5 1058.1h0M993.2 1062.5h0M1008.6 1053.8h0M965.7 1061.6h0M980.6 1052.8h0M994.5 1052.9h0M984.6 1039.9h0M978.6 1062.3h0M985.3 1068.4h0M993.5 1048.6h0M967.6 1065.4h0M1006.6 1044.9h0M962.0 1058.3h0M982.9 1053.8h0M956.5 1060.2h0M1001.7 1047.1h0M979.6 1042.4h0M980.6 1059.7h0M984.4 1073.2h0M959.1 1049.1h0M983.9 1051.0h0M977.1 1042.8h0M993.1 1038.9h0M1005.3 1057.3h0M960.9 1061.1h0M979.8 1068.7h0M954.5 1058.3h0M977.5 1067.6h0M960.5 1067.3h0M978.9 1045.0h0M961.3 1068.7h0M975.4 1064.7h0M979.5 1057.9h0M989.3 1053.5h0M986.1 1049.6h0M993.9 1046.5h0M967.2 1046.1h0M973.2 1064.3h0M970.1 1046.3h0M966.4 1066.8h0M996.4 1042.1h0M948.6 1051.1h0M958.8 1046.9h0M987.9 1074.0h0M989.2 1073.3h0M997.8 1041.0h0M954.0 1071.4h0M990.4 1042.7h0M965.5 1050.7h0M982.9 1045.0h0M975.4 1063.5h0M962.3 1052.0h0M974.2 1076.6h0M957.8 1071.6h0M947.6 1052.3h0M1008.4 1043.3h0M971.6 1080.3h0M980.2 1074.4h0M1003.0 1045.1h0M981.3 1041.3h0M951.4 1053.8h0M954.6 1063.7h0M956.8 1066.2h0M1003.4 1056.1h0M988.2 1040.4h0M976.7 1066.0h0M995.5 1041.0h0M1008.0 1045.7h0M958.7 1076.3h0M960.5 1050.9h0M1002.2 1056.0h0M999.9 1048.9h0M973.6 1070.3h0M975.6 1061.2h0M953.9 1074.5h0M945.6 1058.0h0M979.9 1053.7h0M976.5 1064.4h0M956.7 1063.7h0M994.3 1056.4h0M963.0 1050.8h0M960.7 1069.4h0M964.1 1058.0h0M1001.6 1064.0h0M998.9 1040.8h0M991.2 1054.7h0M984.2 1047.0h0M988.2 1055.2h0M1003.5 1039.8h0M998.5 1051.4h0M948.6 1061.5h0M966.0 1074.1h0M985.2 1046.0h0M953.4 1052.5h0M1003.2 1039.3h0M977.1 1043.9h0M1005.9 1050.0h0M994.8 1065.2h0M962.6 1057.4h0M952.0 1051.4h0M974.4 1049.6h0M1002.7 1047.1h0M999.9 1046.2h0M969.1 1072.0h0M976.2 1074.4h0M979.3 1045.1h0M963.3 1076.0h0M964.1 1076.2h0M954.8 1052.1h0M997.1 1054.5h0M961.0 1077.3h0M1000.6 1062.9h0M976.0 1076.2h0M998.0 1050.3h0M963.7 1072.0h0M951.8 1061.4h0M964.7 1057.7h0M995.1 1037.2h0M998.0 1047.2h0M988.5 1047.2h0M990.5 1046.5h0M1004.4 1058.0h0M985.8 1044.0h0M985.9 1058.7h0M963.3 1059.5h0M1007.3 1056.6h0M978.1 1074.3h0M969.7 1055.1h0M1002.2 1056.9h0M992.3 1037.2h0M993.0 1048.9h0M972.9 1060.2h0M984.8 1047.6h0M977.8 1051.6h0M1008.0 1050.5h0M954.8 1058.1h0M992.7 1063.0h0M967.5 1075.6h0M955.5 1063.8h0M979.5 1059.1h0M965.3 1071.1h0M978.3 1058.2h0M954.7 1055.1h0M961.6 1050.9h0M999.1 1056.5h0M952.5 1058.8h0M979.0 1075.1h0M1006.1 1048.6h0M965.1 1055.7h0M955.6 1057.7h0M977.4 1070.6h0M955.9 1066.6h0M995.5 1056.4h0M970.2 1075.3h0M989.0 1057.3h0M987.6 1045.1h0M989.8 1075.6h0M989.7 1048.1h0M991.0 1040.3h0M988.8 1056.2h0M959.7 1068.8h0M983.6 1038.8h0M1002.3 1039.1h0M946.9 1061.4h0M970.1 1045.8h0M950.8 1056.4h0M951.5 1061.4h0M998.9 1041.3h0M984.8 1067.2h0M966.4 1045.2h0M962.3 1043.7h0M979.4 1072.3h0M973.3 1047.5h0M981.4 1056.3h0M947.9 1054.2h0M972.5 1076.1h0M970.3 1050.8h0M974.0 1068.9h0M966.5 1051.9h0M981.0 1074.3h0M959.0 1059.4h0M1005.8 1041.8h0M983.4 1059.1h0M951.8 1059.5h0M972.9 1055.8h0M971.0 1057.3h0M990.1 1044.1h0M999.1 1037.9h0M1002.5 1039.9h0M965.0 1042.3h0M982.9 1069.4h0M959.6 1060.0h0M991.2 1042.3h0M968.4 1073.5h0M955.1 1053.3h0M972.7 1059.4h0M1001.1 1059.9h0M991.6 1057.4h0M987.1 1046.2h0M992.8 1037.2h0M990.9 1039.1h0M981.6 1063.4h0M957.0 1058.6h0M985.1 1051.7h0M976.1 1039.4h0M969.6 1060.8h0M976.3 1072.0h0M965.1 1042.8h0M1009.5 1053.3h0M984.7 1068.4h0M973.1 1063.8h0M994.9 1038.8h0M949.4 1055.7h0M972.4 1049.2h0M995.2 1059.1h0M984.7 1054.0h0M996.9 1042.8h0M964.1 1069.9h0M963.0 1046.0h0M956.1 1056.5h0M985.3 1061.3h0M970.0 1045.3h0M984.4 1044.3h0M953.1 1050.4h0M985.0 1061.8h0M976.0 1068.8h0M987.1 1060.3h0M982.8 1061.7h0M1000.3 1043.3h0M971.8 1058.2h0M982.9 1060.1h0M984.6 1069.4h0M989.3 1037.9h0M970.6 1070.4h0M972.2 1077.2h0M966.8 1042.1h0M954.0 1063.0h0M981.9 1052.2h0M999.7 1058.4h0M952.9 1048.8h0M993.1 1061.9h0M991.5 1074.8h0M957.4 1055.1h0M971.6 1076.7h0M955.9 1062.5h0M966.2 1056.6h0M981.8 1070.1h0M958.2 1050.3h0M960.5 1070.5h0M998.6 1047.7h0M959.8 1067.3h0M962.7 1047.9h0M990.1 1067.3h0M965.0 1067.2h0M979.1 1061.3h0M1006.4 1052.0h0M1007.4 1050.2h0M951.2 1062.2h0M991.0 1064.8h0M982.0 1070.5h0M991.6 1055.2h0M983.6 1044.6h0M949.1 1053.3h0M967.1 1051.8h0M966.8 1072.0h0M994.6 1053.6h0M995.4 1050.2h0M973.1 1076.8h0M1002.8 1060.7h0M952.5 1051.7h0M948.9 1065.8h0M978.7 1050.5h0M988.6 1042.3h0M1008.4 1043.8h0M949.7 1049.5h0M958.3 1055.0h0M976.6 1072.0h0M959.7 1056.7h0M995.8 1054.6h0M953.4 1059.6h0M996.1 1049.6h0M951.7 1065.1h0M999.9 1044.0h0M963.3 1074.6h0M990.8 1071.2h0M992.1 1050.5h0M951.4 1057.2h0M1005.3 1057.4h0M986.6 1069.5h0M1008.5 1052.4h0M992.8 1051.2h0M969.4 1042.7h0M983.2 1047.1h0M992.7 1049.3h0M977.6 1066.0h0M967.1 1080.3h0M1008.7 1049.3h0M980.3 1063.8h0M1004.1 1054.9h0" stroke="#1f8aa0" stroke-width="2.0" stroke-linecap="round" fill="none"/>
<path d="M1002.4 1062.7h0M978.7 1045.9h0M990.1 1070.0h0M983.2 1055.0h0M953.1 1068.5h0M970.6 1051.6h0M1004.4 1056.6h0M1004.2 1054.7h0M1003.3 1041.9h0M999.1 1035.8h0M991.5 1041.5h0M968.4 1071.8h0M982.6 1041.1h0M979.3 1069.3h0M982.9 1042.9h0M955.4 1067.2h0M970.2 1059.2h0M974.9 1055.4h0M961.0 1071.8h0M978.4 1046.3h0M964.3 1058.0h0M997.0 1055.8h0M983.3 1059.4h0M987.6 1050.3h0M952.3 1051.2h0M973.2 1051.3h0M997.2 1038.3h0M953.1 1058.4h0M986.7 1070.1h0M978.5 1048.6h0M973.5 1041.3h0M974.2 1055.8h0M974.2 1056.4h0M971.4 1046.2h0M965.9 1066.1h0M976.7 1070.3h0M960.9 1078.2h0M995.7 1064.0h0M983.6 1042.1h0M987.7 1071.0h0M975.6 1043.3h0M981.0 1071.6h0M957.2 1066.6h0M965.7 1056.0h0M983.6 1059.8h0M973.1 1063.2h0M961.2 1076.7h0M961.8 1060.8h0M951.2 1055.0h0M993.2 1066.2h0M984.5 1051.7h0M1006.7 1048.8h0M976.8 1050.7h0M962.7 1065.9h0M961.9 1050.4h0M960.1 1051.7h0M968.4 1069.8h0M1003.6 1043.9h0M973.1 1064.0h0M957.4 1068.4h0M967.6 1069.5h0M960.7 1072.5h0M966.7 1057.9h0M971.4 1074.1h0M962.0 1072.6h0M992.8 1046.1h0M987.5 1058.1h0M959.8 1046.2h0M1006.6 1052.3h0M999.3 1039.6h0M966.6 1069.5h0M975.5 1040.3h0M954.6 1056.3h0M998.3 1059.2h0M994.9 1050.6h0M965.2 1075.3h0M953.0 1060.3h0M951.0 1056.1h0M1003.8 1052.8h0M976.8 1057.5h0M992.8 1060.6h0M1007.7 1053.4h0M994.3 1051.8h0M966.5 1071.5h0M957.2 1068.7h0M988.4 1061.8h0M975.6 1068.4h0M971.3 1063.8h0M956.9 1066.7h0M991.6 1047.9h0M959.5 1057.5h0M1008.2 1048.6h0M958.1 1054.6h0M972.8 1063.8h0M974.3 1062.5h0M980.1 1060.5h0M977.2 1066.1h0M1004.7 1040.7h0M968.7 1070.3h0M1007.0 1050.9h0M985.1 1040.9h0M976.5 1062.7h0M988.6 1058.7h0M978.6 1077.0h0M1002.4 1055.2h0M958.2 1077.8h0M993.3 1040.2h0M993.9 1043.2h0M970.1 1042.3h0M957.2 1047.9h0M988.7 1036.2h0M994.0 1055.5h0M983.0 1051.9h0M1009.0 1058.3h0M962.5 1051.6h0M979.3 1062.8h0M959.6 1052.0h0M1004.3 1043.0h0M949.7 1050.5h0M975.2 1071.0h0M998.2 1052.7h0M965.7 1069.9h0M1002.9 1042.8h0M1004.1 1059.8h0M1000.1 1048.9h0M988.6 1059.8h0M956.0 1071.6h0M998.7 1064.4h0M984.5 1072.6h0M969.3 1054.8h0M967.6 1044.5h0M976.4 1061.7h0M1005.6 1050.9h0M960.9 1057.2h0M961.5 1077.6h0M968.1 1042.9h0M982.7 1057.6h0M976.7 1079.4h0M987.8 1055.8h0M970.6 1077.5h0M975.7 1048.5h0M952.3 1053.4h0M1008.8 1040.3h0M995.9 1064.1h0M978.3 1074.3h0M1010.2 1051.7h0M976.8 1060.0h0M961.0 1057.1h0M971.6 1068.3h0M982.6 1042.2h0M970.4 1065.5h0M996.4 1047.3h0M946.5 1055.2h0M966.0 1079.2h0M965.2 1062.5h0M963.0 1067.3h0M1001.2 1063.8h0M980.9 1050.7h0M994.0 1060.3h0M1005.6 1057.1h0M954.7 1059.9h0M987.5 1060.9h0M999.8 1065.5h0M963.5 1055.6h0M988.6 1052.1h0M975.8 1043.6h0M982.8 1062.5h0M1005.7 1050.0h0M985.5 1053.1h0M994.7 1062.0h0M1000.5 1062.1h0M987.1 1062.7h0M955.8 1061.4h0M979.9 1043.2h0M1006.4 1057.4h0M984.8 1045.2h0M966.9 1043.8h0M975.5 1065.0h0M950.1 1050.3h0M954.8 1047.9h0M948.7 1054.9h0M954.9 1071.9h0M974.9 1044.7h0M991.0 1063.2h0M954.3 1067.5h0M955.5 1061.7h0M960.4 1073.7h0M985.3 1048.8h0M955.0 1048.2h0M962.5 1069.6h0M972.1 1064.6h0M951.2 1064.6h0M992.4 1052.5h0M987.9 1069.4h0M983.4 1071.7h0M968.5 1075.7h0M999.9 1056.4h0M963.6 1051.8h0M981.5 1068.2h0M971.1 1050.1h0M988.0 1046.7h0M981.4 1047.0h0M986.7 1071.3h0M998.9 1059.6h0M968.9 1069.4h0M978.7 1046.0h0M999.4 1058.2h0M986.9 1060.1h0M966.3 1048.0h0M1005.4 1051.1h0M954.4 1048.9h0M988.7 1048.6h0M956.5 1053.2h0M1004.5 1041.3h0M947.0 1050.9h0M1007.7 1057.5h0M954.2 1068.7h0M975.8 1054.3h0M976.5 1066.8h0M969.9 1044.1h0M985.0 1060.6h0M977.7 1055.9h0M980.5 1074.9h0M975.3 1071.0h0M972.5 1056.0h0M970.1 1076.0h0M962.6 1060.6h0M989.6 1045.1h0M1009.1 1041.8h0M991.1 1052.2h0M983.9 1065.2h0M982.5 1057.0h0M955.8 1071.1h0M1004.9 1047.9h0M1009.0 1044.7h0M975.8 1078.1h0M966.6 1077.0h0M995.1 1051.6h0M981.1 1055.4h0M995.1 1068.4h0M954.9 1061.8h0M981.0 1045.8h0M996.1 1065.8h0M966.6 1045.2h0M982.4 1044.9h0M993.3 1051.4h0M967.2 1055.3h0M1006.5 1049.9h0M989.8 1068.5h0M952.8 1066.9h0" stroke="#1f77b4" stroke-width="1.8" stroke-linecap="round" fill="none"/>
<path d="M1002.1 1037.2h0M999.1 1036.6h0M1004.3 1035.6h0M1004.2 1039.6h0M997.3 1039.7h0M1002.2 1036.0h0M1001.8 1040.2h0M1003.6 1034.8h0M998.9 1037.7h0M1001.0 1035.5h0M1003.4 1037.2h0M998.3 1038.0h0M997.3 1036.1h0M1001.6 1036.8h0M1002.4 1039.3h0M1000.5 1039.1h0M1004.2 1038.6h0M993.8 1036.9h0M1000.1 1035.6h0M999.2 1035.3h0M999.0 1034.7h0M1002.9 1036.4h0M999.6 1033.8h0M1005.6 1037.4h0M996.4 1038.2h0M996.3 1038.6h0M1003.0 1037.8h0M998.8 1037.5h0M1004.7 1035.3h0M999.7 1038.3h0M1002.3 1036.5h0M1001.1 1040.4h0M999.7 1036.3h0M994.9 1037.8h0M994.3 1036.8h0M1001.8 1037.2h0M996.7 1035.5h0M996.5 1037.4h0M999.2 1036.2h0M998.1 1037.2h0M997.1 1036.5h0M998.2 1037.7h0M998.8 1035.1h0M999.3 1037.5h0M998.2 1038.4h0M1009.8 1047.0h0M1010.1 1048.8h0M1011.1 1046.4h0M1009.8 1042.8h0M1011.8 1044.4h0M1009.5 1045.9h0M1010.6 1048.5h0M1009.0 1048.6h0M1008.2 1046.3h0M1010.5 1045.9h0M1008.8 1049.0h0M1009.0 1040.4h0M1010.6 1041.7h0M1010.5 1044.4h0M1011.4 1048.0h0M1010.7 1046.7h0M1009.5 1042.6h0M1010.7 1041.8h0M1010.2 1047.3h0M1010.2 1049.1h0M1009.8 1045.3h0M1009.9 1051.1h0M1009.5 1045.7h0M1010.2 1049.7h0M1010.9 1044.8h0M1012.0 1047.0h0M1009.0 1046.1h0M1010.7 1047.3h0M1011.5 1046.3h0M1011.3 1052.0h0M1010.1 1050.9h0M1008.0 1045.1h0M1009.9 1042.6h0M1009.0 1045.7h0M1012.5 1044.1h0M1010.9 1047.1h0M1010.7 1040.8h0M1010.8 1047.6h0M1008.1 1051.2h0M1010.8 1046.3h0" stroke="#f58231" stroke-width="1.8" stroke-linecap="round" fill="none"/>
<path d="M984.7 1059.3h0M976.6 1053.3h0M972.9 1074.3h0M996.8 1057.8h0M964.3 1062.3h0M980.0 1053.8h0M1006.9 1054.8h0M1007.2 1046.0h0M955.6 1046.8h0M990.8 1063.0h0M961.7 1055.2h0M976.0 1040.9h0M994.8 1063.0h0M977.1 1053.7h0M964.3 1047.9h0M978.2 1051.1h0M957.6 1069.9h0M959.2 1063.3h0M995.2 1043.8h0M972.0 1045.9h0M997.2 1061.1h0M995.3 1039.8h0M1002.4 1061.4h0M968.5 1075.9h0M984.6 1050.8h0M953.1 1060.0h0M992.1 1062.9h0M999.1 1061.9h0M959.1 1058.3h0M981.7 1073.7h0M994.7 1041.7h0M969.7 1055.3h0M982.4 1047.9h0M1003.6 1058.8h0M965.1 1048.3h0M974.2 1074.5h0M952.5 1049.9h0M949.0 1055.5h0M1007.9 1043.1h0M977.1 1058.6h0M1004.3 1039.2h0M974.8 1069.6h0M977.9 1058.5h0M1002.4 1041.9h0M980.4 1048.7h0M972.4 1057.1h0M970.5 1051.1h0M961.5 1046.8h0M993.7 1042.5h0M976.4 1048.7h0M982.9 1069.7h0M969.2 1075.7h0M987.2 1053.4h0M981.8 1060.8h0M987.8 1054.5h0M1003.5 1056.8h0M957.0 1048.8h0M979.0 1064.6h0M974.8 1057.2h0M998.8 1047.8h0M965.2 1051.9h0M975.7 1046.0h0M952.8 1060.4h0M987.2 1060.4h0M973.0 1071.0h0M980.7 1074.1h0M959.1 1047.7h0M952.1 1064.2h0M980.3 1041.1h0M989.8 1074.0h0M973.8 1070.7h0M950.9 1060.7h0M960.6 1073.3h0M982.6 1055.1h0M991.4 1059.0h0M976.0 1053.5h0M966.1 1067.2h0M957.2 1048.6h0M964.7 1068.9h0M998.9 1045.3h0M983.1 1051.9h0M969.1 1061.2h0M987.6 1039.4h0M968.3 1046.8h0M985.3 1059.2h0M987.0 1071.3h0M984.2 1072.0h0M965.4 1065.4h0M1000.6 1050.8h0M1004.8 1049.1h0M967.3 1066.6h0M994.3 1060.2h0M976.1 1049.4h0M988.2 1062.9h0M965.6 1067.9h0M984.5 1068.5h0M973.7 1041.8h0M989.4 1066.9h0M991.1 1052.4h0M959.4 1046.0h0M997.5 1037.6h0M985.4 1074.0h0M966.5 1075.5h0M992.5 1042.1h0M992.8 1038.3h0M998.0 1050.9h0M955.7 1062.8h0M999.5 1053.5h0M987.4 1042.8h0M982.1 1049.9h0M999.6 1038.9h0M964.3 1047.2h0M964.5 1050.7h0M972.7 1051.3h0M977.3 1062.9h0M986.6 1068.2h0M965.9 1052.4h0M1005.3 1059.1h0M961.4 1058.6h0M998.8 1057.7h0M969.1 1074.4h0M981.7 1042.2h0M992.6 1066.4h0M970.4 1060.9h0M966.4 1065.2h0M978.0 1057.9h0M991.4 1051.7h0M1003.7 1040.6h0M985.4 1051.1h0M991.3 1051.5h0M987.9 1071.5h0M981.5 1064.1h0M967.9 1053.0h0M1003.5 1045.8h0M988.8 1064.2h0M990.5 1048.9h0M1008.2 1056.6h0M1002.3 1058.4h0M963.6 1074.2h0M969.0 1074.2h0M1002.1 1039.5h0M982.4 1073.3h0M988.1 1070.3h0M971.6 1071.0h0M1006.5 1048.3h0M1001.0 1049.1h0M1008.2 1048.9h0M1000.5 1042.2h0M967.7 1062.1h0M961.1 1075.2h0M998.7 1050.9h0M974.4 1046.3h0M976.8 1054.3h0M975.5 1066.2h0M986.6 1052.9h0M970.2 1065.4h0M957.8 1047.9h0M988.8 1045.5h0M950.9 1052.5h0M988.9 1043.3h0M1008.0 1052.4h0M980.4 1073.2h0M997.7 1037.4h0M959.8 1074.3h0M984.5 1054.9h0M982.9 1061.9h0M983.1 1062.1h0M955.2 1047.9h0M998.3 1038.4h0M980.5 1059.9h0M981.5 1064.0h0M968.1 1046.7h0M953.7 1062.3h0M956.6 1061.7h0M987.0 1046.0h0M961.8 1058.0h0M959.5 1055.3h0M989.7 1053.3h0M994.3 1058.8h0M995.1 1066.6h0M956.5 1063.3h0M983.8 1049.0h0M975.7 1043.4h0M996.4 1054.4h0M994.8 1061.2h0M991.6 1067.7h0M952.0 1053.0h0M948.5 1056.9h0M1005.3 1044.2h0M962.6 1046.0h0M953.6 1048.3h0M957.5 1072.5h0M970.6 1065.2h0M968.5 1078.0h0M961.2 1060.8h0M994.3 1044.2h0M995.0 1067.9h0M1003.2 1041.5h0M989.6 1063.1h0M968.6 1066.5h0M990.8 1065.5h0M951.6 1064.1h0M972.0 1055.8h0M963.4 1053.8h0M953.0 1057.8h0M970.5 1065.8h0M1009.1 1045.7h0M998.6 1042.8h0M985.9 1045.9h0M969.8 1072.1h0M970.4 1048.6h0M981.4 1057.1h0M986.6 1062.6h0M971.4 1060.1h0M966.0 1043.3h0M987.6 1042.8h0M987.2 1046.1h0M994.9 1055.0h0M999.6 1040.5h0M989.4 1070.1h0M969.4 1055.9h0M1006.4 1051.7h0M973.0 1049.7h0M968.8 1056.8h0M965.9 1065.3h0M987.6 1059.1h0M965.5 1069.9h0M987.3 1072.1h0M991.6 1057.0h0M985.2 1050.0h0M985.1 1045.0h0M965.9 1071.2h0M960.8 1046.4h0M981.5 1062.9h0M1000.1 1050.3h0M974.2 1058.3h0M956.8 1046.0h0M968.8 1050.0h0M993.5 1060.0h0M954.7 1066.3h0M966.5 1062.8h0M987.6 1067.9h0M975.8 1046.0h0M1006.8 1047.3h0M957.5 1048.5h0M988.2 1057.8h0M957.3 1061.3h0M989.4 1072.8h0M957.5 1052.1h0M988.7 1048.6h0M972.4 1053.6h0M975.4 1072.7h0M955.6 1057.6h0M995.2 1037.1h0M1000.9 1053.7h0M1007.3 1049.0h0M983.1 1047.0h0M974.9 1063.3h0M987.9 1063.2h0M993.6 1065.3h0M990.9 1060.2h0M987.8 1070.2h0M964.7 1065.3h0M970.4 1066.6h0M953.1 1057.3h0M994.4 1064.8h0M989.2 1072.1h0M972.4 1045.3h0M965.2 1064.4h0M985.6 1056.8h0M980.4 1062.4h0M967.0 1075.1h0M980.3 1061.0h0M971.5 1076.0h0M971.0 1052.7h0M985.2 1073.9h0M979.1 1048.3h0M961.8 1049.1h0M979.5 1060.9h0M983.3 1058.5h0M999.7 1056.4h0M962.3 1061.7h0M956.6 1068.7h0M957.5 1047.0h0M962.8 1045.5h0M981.4 1063.8h0M985.2 1067.1h0M1007.2 1041.3h0M998.5 1044.1h0M985.6 1057.0h0M1001.7 1054.2h0M999.2 1038.7h0M1007.8 1043.4h0M1003.4 1050.4h0M962.6 1045.2h0M954.1 1050.5h0M950.7 1060.4h0M975.0 1069.1h0M975.6 1042.9h0M952.6 1048.5h0M1002.3 1046.1h0M1005.1 1056.3h0M963.7 1050.9h0M1008.0 1041.8h0M1000.4 1056.9h0M985.3 1048.1h0M961.2 1045.6h0M985.3 1050.4h0M980.9 1044.7h0M987.8 1073.5h0M970.7 1073.0h0M1000.0 1043.6h0M979.3 1045.3h0M960.5 1065.7h0M996.3 1043.3h0M967.3 1057.6h0M961.6 1060.4h0M951.0 1053.1h0M972.2 1065.5h0M967.2 1053.4h0M955.8 1047.6h0M989.2 1048.2h0M980.3 1060.2h0M956.2 1066.2h0M971.4 1047.1h0M954.5 1047.9h0M992.3 1059.8h0M975.1 1042.3h0M1003.4 1057.8h0M986.8 1059.9h0M977.4 1064.0h0M967.7 1054.2h0M950.9 1055.5h0M1000.4 1049.7h0M968.0 1050.9h0M972.6 1048.3h0M960.7 1064.8h0M966.0 1066.3h0M961.5 1059.1h0M964.6 1073.5h0M985.8 1052.8h0M962.2 1053.4h0M987.6 1057.0h0M993.8 1058.2h0M965.7 1061.2h0M981.8 1051.2h0M979.7 1059.7h0M952.8 1052.3h0M994.1 1062.3h0M988.2 1050.7h0M1004.3 1055.4h0M970.3 1076.3h0M966.4 1055.3h0M997.2 1053.2h0M960.4 1072.1h0M984.1 1049.3h0M954.4 1064.4h0M993.6 1054.6h0M988.7 1052.5h0M978.3 1062.8h0M987.6 1046.8h0M999.2 1059.2h0M958.3 1062.8h0M962.3 1049.2h0M1001.9 1061.3h0M961.1 1045.1h0M965.7 1076.3h0M962.1 1062.9h0M1009.0 1047.5h0M985.0 1054.8h0M1002.7 1041.9h0M1007.6 1045.3h0M967.1 1064.2h0M955.6 1050.3h0M965.0 1050.9h0M968.1 1071.5h0M967.3 1070.7h0M998.1 1063.1h0M990.3 1054.3h0M961.5 1057.5h0M980.8 1063.4h0M974.4 1067.4h0M978.1 1053.5h0M977.1 1063.8h0M961.5 1048.5h0M996.6 1065.9h0M961.7 1070.7h0M966.3 1055.9h0M971.2 1068.4h0M952.3 1057.3h0M995.5 1040.6h0M1004.8 1046.8h0M963.5 1057.1h0M976.1 1043.4h0M959.1 1058.8h0M994.8 1046.4h0M966.7 1070.6h0M1004.1 1058.9h0M950.3 1057.5h0M981.6 1048.3h0M973.1 1062.2h0M991.0 1048.2h0M994.9 1067.2h0M983.5 1063.0h0M982.4 1072.0h0M981.9 1045.0h0M962.0 1072.0h0M992.5 1059.6h0M959.2 1069.2h0M968.8 1069.9h0M1001.5 1062.1h0M975.7 1046.6h0M966.1 1044.7h0M999.1 1039.3h0M991.3 1043.5h0M961.5 1050.4h0M948.6 1055.1h0M981.2 1044.1h0M969.1 1045.6h0M989.8 1038.0h0M970.1 1064.0h0M985.8 1069.4h0M989.2 1053.8h0M972.3 1068.7h0M955.3 1056.5h0M968.2 1060.1h0M975.8 1072.5h0M978.1 1046.0h0M996.6 1056.2h0M959.4 1062.9h0M964.6 1060.5h0M1000.3 1044.6h0M1000.1 1039.0h0M1000.4 1039.2h0M952.0 1060.1h0M1002.7 1045.0h0M1004.6 1059.6h0M1008.5 1053.5h0M967.1 1073.9h0M980.2 1040.8h0M992.7 1040.6h0M969.9 1079.2h0M997.9 1040.4h0M966.8 1046.0h0M965.1 1056.2h0M988.3 1048.2h0M998.5 1058.8h0M972.0 1043.3h0M984.4 1056.3h0M963.9 1055.1h0M979.7 1055.8h0M968.3 1053.1h0M967.5 1060.3h0M988.5 1054.3h0M969.7 1042.0h0M969.9 1056.5h0M961.1 1067.3h0M963.1 1043.2h0M978.4 1074.7h0M972.3 1072.0h0M1003.6 1057.7h0M1000.7 1040.8h0M968.7 1069.8h0M961.7 1075.7h0M1004.2 1047.6h0M961.6 1078.0h0M994.1 1061.6h0M1003.1 1060.4h0M983.0 1053.7h0M983.3 1056.6h0M953.3 1053.0h0M998.7 1058.6h0M994.2 1044.7h0M969.0 1050.0h0M975.7 1052.2h0M985.7 1049.7h0M991.5 1047.1h0M966.5 1051.4h0M962.7 1046.8h0M989.7 1065.0h0M978.7 1055.9h0M1001.8 1050.1h0M967.2 1066.2h0M957.2 1055.4h0M967.0 1060.4h0M984.0 1047.3h0M966.7 1067.3h0M971.9 1062.3h0M964.7 1044.7h0M999.3 1046.0h0M959.2 1059.0h0M963.1 1076.3h0M1003.4 1046.9h0M972.9 1049.1h0M1004.3 1060.9h0M1001.0 1055.0h0M960.4 1070.9h0M1008.6 1055.0h0M957.4 1066.0h0M998.8 1052.1h0M990.5 1064.6h0M950.3 1050.4h0M995.2 1041.7h0M989.7 1072.5h0M978.1 1045.4h0M966.9 1056.3h0M982.6 1043.8h0M983.8 1047.2h0M967.8 1065.4h0M1008.3 1051.3h0M997.0 1044.1h0M975.7 1074.1h0M998.9 1044.3h0M957.4 1046.0h0M979.2 1074.8h0M978.0 1053.1h0M969.3 1073.5h0M1000.7 1041.6h0M997.1 1040.1h0M958.3 1050.1h0M978.5 1043.1h0M978.1 1061.9h0M949.8 1051.3h0M980.4 1057.2h0M985.3 1056.2h0M988.0 1070.0h0M995.5 1045.2h0M968.4 1077.1h0M1002.3 1045.3h0M979.0 1044.8h0M987.5 1054.6h0M988.9 1063.5h0M996.6 1047.7h0M967.8 1055.9h0M978.0 1063.9h0M955.5 1063.1h0M958.6 1063.7h0M972.1 1062.4h0M989.7 1065.6h0M994.7 1041.6h0M1004.7 1052.9h0M981.2 1074.1h0M970.4 1076.4h0M976.3 1072.6h0M1007.8 1055.1h0M986.8 1072.4h0M983.3 1070.8h0M987.1 1061.1h0M960.6 1047.3h0M998.3 1066.0h0M964.5 1071.9h0M985.0 1072.9h0M980.1 1041.6h0M965.2 1077.8h0M974.7 1051.7h0M968.7 1063.0h0M975.4 1056.7h0M978.0 1073.8h0M974.3 1071.7h0M993.8 1059.3h0M990.4 1066.1h0M990.3 1071.7h0M974.9 1057.4h0M1009.4 1052.9h0M965.1 1065.6h0M973.4 1041.5h0M968.8 1046.5h0M993.5 1068.2h0M977.9 1053.5h0M958.7 1053.7h0M997.3 1054.0h0M987.9 1057.6h0M957.7 1046.3h0M972.7 1043.1h0M979.0 1043.5h0M988.4 1050.0h0M989.1 1053.6h0M976.2 1074.4h0M996.5 1042.9h0M1006.1 1041.5h0M998.8 1061.5h0M997.5 1050.7h0M984.6 1045.7h0M1001.4 1057.0h0M953.8 1062.5h0M959.2 1069.4h0M962.7 1053.4h0M992.2 1072.6h0M964.8 1068.9h0M991.5 1065.7h0M989.0 1071.5h0M1008.4 1053.8h0M1007.2 1050.9h0M994.5 1055.2h0M960.6 1067.1h0M966.7 1047.4h0M999.4 1062.2h0M968.7 1067.3h0M1002.8 1039.8h0M993.8 1068.1h0M1001.2 1053.7h0M964.9 1048.6h0M953.5 1050.9h0M987.8 1057.5h0M989.7 1072.5h0M991.3 1052.4h0M986.2 1052.6h0M967.3 1069.2h0M989.9 1046.9h0M988.2 1059.4h0M1008.0 1046.6h0M976.6 1067.9h0M997.8 1057.5h0M966.5 1045.1h0M955.9 1046.8h0M972.0 1061.8h0M998.6 1044.4h0M999.9 1049.3h0M996.6 1039.5h0M976.2 1076.9h0M1002.8 1056.6h0M980.7 1059.8h0M989.6 1064.2h0M980.1 1067.5h0M977.5 1046.3h0M972.2 1059.9h0M981.0 1049.6h0M957.8 1067.7h0M962.1 1056.7h0M967.5 1062.4h0M959.7 1050.3h0M998.8 1058.4h0M960.9 1049.0h0M955.1 1055.6h0M974.8 1059.7h0M988.2 1071.9h0M998.5 1039.2h0M1001.1 1043.9h0M974.5 1062.6h0M991.4 1067.7h0M999.9 1056.3h0M951.0 1050.7h0M1003.1 1039.4h0M958.4 1054.9h0M999.3 1048.0h0M1005.5 1040.2h0M970.2 1069.0h0M979.3 1051.4h0M974.2 1075.8h0M964.0 1044.3h0M1005.8 1055.4h0M978.6 1066.9h0M998.7 1037.3h0M974.8 1046.6h0M958.9 1044.9h0M976.5 1073.0h0M976.9 1076.6h0M993.3 1046.2h0M960.8 1044.8h0M956.6 1071.1h0M967.4 1058.8h0M957.1 1057.5h0M1003.5 1040.1h0M990.6 1072.1h0M967.8 1057.8h0M959.1 1062.3h0M958.6 1053.8h0M950.5 1049.2h0M990.0 1071.0h0M974.8 1051.0h0M970.7 1058.4h0M979.0 1042.0h0M993.6 1040.3h0M988.8 1041.4h0M986.8 1039.7h0M991.1 1069.3h0M968.9 1058.2h0M969.7 1060.7h0M983.1 1069.7h0M973.5 1063.0h0M961.2 1075.9h0M987.4 1041.0h0M961.0 1045.5h0M984.9 1052.7h0M958.8 1067.8h0M983.6 1061.2h0M1004.4 1042.3h0M982.2 1052.8h0M997.7 1063.2h0M961.6 1047.8h0M981.8 1057.4h0M1002.1 1056.0h0M949.2 1053.7h0M965.7 1053.7h0M1005.5 1042.1h0M960.1 1052.1h0M960.7 1074.7h0M992.3 1054.4h0M975.8 1052.3h0M981.3 1070.8h0M982.2 1044.2h0M967.0 1064.2h0M998.7 1060.7h0M987.0 1059.0h0M964.3 1048.9h0M988.7 1057.1h0M955.9 1060.9h0M969.7 1046.9h0M962.4 1055.3h0M965.7 1054.2h0M981.9 1054.4h0M978.3 1057.2h0M992.0 1062.9h0M991.3 1056.8h0M968.8 1065.4h0M995.9 1050.2h0M992.8 1045.3h0M985.0 1071.6h0M985.6 1053.4h0M971.5 1069.9h0M954.9 1048.4h0M973.7 1053.1h0M981.9 1069.8h0M1002.2 1048.1h0M966.3 1043.0h0M976.9 1068.4h0M1007.0 1045.6h0M949.3 1055.2h0M962.7 1066.8h0M959.9 1071.5h0M948.8 1055.2h0M1000.3 1038.9h0M966.9 1047.8h0M993.3 1039.3h0M953.4 1060.7h0M970.2 1073.8h0M983.8 1068.5h0M963.0 1058.2h0M971.8 1048.4h0M995.7 1061.4h0M966.4 1052.2h0M975.1 1054.2h0M992.5 1039.3h0M983.9 1065.7h0M973.6 1055.9h0M982.9 1044.8h0M986.3 1059.1h0M967.4 1051.7h0M1002.4 1037.6h0M994.2 1046.3h0M969.4 1054.5h0M993.7 1045.9h0M970.8 1078.0h0M990.0 1053.2h0M984.3 1042.6h0M969.6 1058.7h0M979.8 1064.1h0M993.5 1056.4h0M992.5 1053.4h0M985.4 1069.3h0M995.7 1055.4h0M981.1 1061.9h0M990.3 1060.0h0M999.4 1051.8h0M972.2 1045.0h0M961.9 1057.0h0M982.2 1049.9h0M953.1 1050.8h0M952.3 1050.0h0M981.2 1069.6h0M992.0 1066.5h0M959.6 1068.7h0M989.7 1060.9h0M987.2 1054.9h0M967.0 1044.8h0M983.3 1054.2h0M960.8 1049.4h0M980.4 1069.9h0M982.2 1066.9h0M968.4 1050.4h0M996.5 1037.7h0M995.2 1054.1h0M983.3 1072.1h0M977.6 1060.7h0M979.7 1074.7h0M998.9 1038.2h0M960.7 1062.2h0M954.8 1068.3h0M1001.0 1041.5h0M976.5 1046.4h0M986.6 1056.3h0M983.8 1046.6h0M994.0 1066.2h0M960.5 1074.1h0M985.3 1068.6h0M991.7 1043.7h0M949.2 1051.7h0M959.0 1071.3h0M990.6 1062.9h0M956.7 1058.2h0M1009.7 1051.9h0M972.3 1055.0h0M977.6 1059.1h0M986.8 1067.3h0M1007.9 1045.5h0M975.2 1053.6h0M988.1 1050.3h0M999.4 1064.4h0M973.3 1063.2h0M1007.7 1057.2h0M986.8 1057.0h0M970.5 1074.4h0M949.8 1059.5h0M985.5 1046.4h0M992.8 1062.5h0M966.6 1065.5h0M986.4 1066.0h0M969.3 1043.2h0M1001.9 1057.1h0M962.3 1045.4h0M983.7 1039.7h0M987.1 1042.3h0M950.8 1050.7h0M1004.1 1043.8h0M969.7 1059.3h0M965.6 1061.7h0M996.6 1037.6h0M1008.9 1044.0h0M975.8 1072.9h0M962.0 1046.1h0M1003.6 1061.8h0M974.1 1049.3h0M1003.2 1038.7h0M971.8 1051.0h0M971.6 1068.9h0M984.7 1074.1h0M996.2 1047.8h0M966.3 1047.2h0M962.6 1052.7h0M978.2 1049.6h0M983.2 1067.3h0M951.3 1053.0h0M967.4 1068.6h0M1006.2 1048.1h0M973.0 1070.2h0M990.8 1064.7h0M993.4 1045.5h0M999.7 1044.7h0M962.2 1071.4h0M1000.3 1058.1h0M977.2 1046.3h0M967.5 1074.2h0M959.3 1048.3h0M957.4 1058.5h0M995.7 1041.0h0M999.5 1053.4h0M977.0 1052.8h0M962.9 1045.1h0M993.9 1060.5h0M962.1 1071.1h0M985.8 1052.0h0M958.6 1071.6h0M956.3 1063.2h0M991.8 1057.3h0M960.0 1071.6h0M997.2 1060.8h0M959.7 1072.8h0M1000.6 1038.3h0M1001.6 1058.7h0M1001.2 1060.8h0M1006.4 1056.1h0M997.9 1037.5h0M956.8 1051.0h0M1001.2 1057.5h0M959.0 1058.7h0M964.6 1077.0h0M995.0 1053.7h0M965.3 1051.5h0M962.5 1044.8h0M977.7 1044.4h0M982.7 1049.2h0M986.8 1064.7h0M976.5 1073.7h0M981.6 1045.4h0M950.3 1051.1h0M951.4 1050.6h0M993.6 1047.4h0M993.3 1041.0h0M1003.3 1050.0h0M973.3 1072.4h0M953.7 1065.6h0M950.0 1056.6h0M971.3 1070.4h0M1002.4 1043.9h0M972.9 1044.3h0M965.0 1069.1h0M987.2 1052.1h0M952.5 1049.1h0M985.0 1053.9h0M981.2 1063.5h0M949.5 1053.1h0M960.6 1060.5h0M999.8 1047.8h0M957.6 1050.7h0M957.0 1066.6h0M984.7 1065.0h0M988.6 1038.4h0M974.3 1058.3h0M974.2 1064.1h0M986.1 1059.1h0M983.8 1048.7h0M965.0 1065.8h0M951.6 1056.5h0M971.6 1050.1h0M957.0 1049.1h0M990.6 1044.5h0M998.2 1047.2h0M959.2 1075.0h0M993.2 1055.5h0M990.3 1060.6h0M968.7 1056.7h0M990.3 1053.6h0M967.2 1045.7h0M959.3 1055.8h0M999.3 1048.1h0M971.7 1057.8h0M1009.8 1046.6h0M968.2 1060.4h0M991.9 1039.6h0M961.6 1060.4h0M967.4 1073.6h0M998.3 1041.8h0M1006.9 1056.6h0M956.7 1057.3h0M996.7 1050.6h0M979.9 1071.3h0M966.4 1065.9h0M956.1 1064.6h0M967.0 1055.0h0M957.5 1054.2h0M1006.7 1046.1h0M970.5 1051.7h0M953.9 1059.8h0M950.6 1058.9h0M995.5 1063.1h0M986.9 1053.8h0M972.5 1041.2h0M983.3 1062.6h0M969.5 1072.4h0M973.1 1053.5h0M971.4 1048.7h0M990.4 1066.7h0M983.7 1051.9h0M959.7 1070.3h0M988.0 1068.3h0M980.4 1047.7h0M973.5 1050.0h0M985.8 1049.3h0M953.8 1065.9h0M993.3 1068.4h0M990.0 1044.5h0M988.6 1067.1h0M998.3 1054.5h0M974.7 1068.8h0M969.7 1056.6h0M1001.8 1054.5h0M984.7 1053.9h0M996.0 1045.1h0M953.5 1066.6h0M954.1 1049.2h0M986.3 1055.5h0M986.4 1041.4h0M994.0 1059.6h0M993.4 1060.9h0M984.0 1045.8h0M971.7 1073.5h0M1008.7 1050.6h0M958.0 1049.0h0M989.3 1048.5h0M983.8 1071.0h0M978.2 1064.9h0M1003.5 1059.2h0M1001.4 1047.4h0M1000.0 1039.6h0M962.8 1075.0h0M959.0 1070.0h0M964.6 1063.6h0M967.0 1074.3h0M972.5 1054.3h0M972.2 1065.1h0M1004.4 1044.5h0M962.2 1054.4h0M956.2 1058.1h0M1007.7 1049.2h0M967.2 1049.7h0M989.6 1058.4h0M966.3 1056.1h0M980.9 1073.7h0M978.9 1055.0h0M974.4 1057.7h0M974.3 1076.0h0M991.7 1062.6h0M994.0 1037.9h0M980.9 1071.7h0M973.2 1072.8h0M998.4 1041.3h0M996.9 1066.1h0M997.4 1058.6h0M954.4 1053.0h0M959.1 1056.3h0M971.8 1064.6h0M979.9 1070.1h0M979.0 1073.2h0M997.0 1052.7h0M970.8 1069.2h0M989.0 1066.0h0M983.7 1073.4h0M997.9 1060.2h0M955.0 1053.3h0M949.2 1052.4h0M966.7 1067.1h0M954.0 1050.1h0M996.9 1049.7h0M986.1 1067.9h0M993.5 1058.6h0M988.0 1065.5h0M953.2 1054.4h0M977.6 1053.0h0M1000.9 1043.5h0M961.0 1070.7h0M980.8 1069.2h0M952.3 1053.6h0M989.2 1069.9h0M961.4 1050.1h0M1005.1 1041.2h0M984.1 1042.1h0M991.1 1044.7h0M1008.6 1047.5h0M954.7 1061.1h0M987.9 1071.1h0M951.3 1060.3h0M992.7 1043.0h0M996.9 1060.4h0M998.5 1037.2h0M972.5 1051.4h0M1001.1 1036.9h0M997.2 1050.5h0M952.8 1051.9h0M968.3 1066.5h0M962.1 1075.6h0M952.3 1062.3h0M956.6 1046.3h0M950.9 1061.8h0M996.7 1043.7h0M968.6 1063.6h0M988.0 1065.2h0M963.6 1060.1h0M978.9 1066.1h0M975.4 1076.0h0M982.4 1044.5h0M948.0 1053.5h0M987.2 1061.0h0M971.9 1041.7h0M977.9 1053.9h0M963.3 1058.8h0M959.3 1049.6h0M987.9 1060.3h0M970.5 1056.3h0M979.1 1065.5h0M1003.4 1056.2h0M967.5 1072.9h0M976.5 1052.5h0M956.3 1054.0h0M975.1 1067.5h0M990.5 1064.5h0M963.4 1075.1h0M979.0 1060.1h0M1008.8 1050.2h0M959.9 1054.6h0M978.3 1040.9h0M973.9 1049.6h0M970.2 1071.8h0M997.2 1061.8h0M972.1 1047.4h0M982.1 1057.5h0M961.8 1050.2h0M986.9 1050.8h0M994.5 1060.5h0M1008.8 1053.0h0M955.5 1045.3h0M1004.4 1045.1h0M977.0 1074.5h0M974.9 1063.4h0M971.8 1060.2h0M996.8 1052.0h0M967.1 1047.4h0M986.0 1048.5h0M982.5 1057.6h0M984.3 1072.8h0M972.2 1059.7h0M957.9 1045.7h0M986.0 1057.3h0M988.0 1066.3h0M970.3 1059.1h0M983.3 1070.7h0M984.4 1049.0h0M960.3 1049.0h0M998.3 1049.9h0M996.5 1063.7h0M972.8 1053.7h0M991.3 1048.7h0M950.2 1058.1h0M993.3 1038.0h0M994.5 1052.0h0M996.6 1064.0h0M990.1 1063.3h0M964.2 1047.2h0M991.8 1048.3h0M997.7 1038.2h0M964.3 1077.2h0M965.1 1057.7h0M948.7 1056.1h0M970.1 1057.6h0M955.1 1069.3h0M955.6 1063.1h0M987.2 1070.9h0M973.6 1065.8h0M993.6 1050.1h0M1010.6 1047.7h0M961.6 1055.1h0M1004.0 1058.7h0M968.1 1055.5h0M1008.9 1044.7h0M986.9 1042.1h0M994.5 1061.1h0M984.6 1038.5h0M973.6 1053.9h0M977.7 1046.1h0M952.0 1059.6h0M972.6 1076.4h0M978.2 1066.1h0M996.6 1040.4h0M983.8 1051.5h0M981.4 1040.0h0M975.9 1062.7h0M983.9 1069.3h0M959.8 1062.9h0M968.4 1075.5h0M1003.0 1039.1h0M960.8 1053.4h0M1007.4 1056.5h0M993.8 1059.1h0M956.9 1057.0h0M983.1 1067.7h0M961.2 1045.0h0M979.6 1073.1h0M975.1 1064.3h0M989.1 1038.4h0M998.3 1063.5h0M991.6 1048.2h0M985.6 1048.1h0M959.8 1047.3h0M1007.3 1041.8h0M969.8 1073.3h0M984.2 1073.1h0M1002.3 1051.2h0M970.6 1068.0h0M974.3 1047.2h0M978.6 1039.9h0M994.2 1040.0h0M952.1 1057.9h0M965.2 1045.5h0M983.3 1042.2h0M975.9 1048.5h0M968.4 1043.5h0M992.1 1068.6h0M996.1 1055.9h0M1007.2 1048.7h0M979.6 1055.8h0M996.7 1054.8h0M979.8 1047.0h0M986.2 1056.3h0M972.4 1055.3h0M979.0 1075.0h0M995.1 1064.8h0M1004.6 1057.7h0M953.8 1067.3h0M966.7 1062.3h0M999.7 1041.1h0M964.2 1048.2h0M963.8 1072.1h0M961.7 1070.5h0M961.4 1054.7h0M978.7 1058.6h0M964.2 1074.5h0M1002.4 1050.9h0M977.5 1051.0h0M998.1 1049.8h0M998.9 1055.8h0M966.4 1061.6h0M974.4 1067.6h0M1003.8 1037.8h0M980.3 1068.6h0M1004.4 1050.2h0M975.2 1046.7h0M990.1 1071.5h0M998.9 1053.6h0M994.1 1040.0h0M974.4 1051.2h0M952.5 1066.0h0M982.4 1050.7h0M954.0 1065.5h0M1000.8 1039.8h0M988.7 1061.3h0M991.2 1051.8h0M988.8 1046.1h0M978.6 1041.2h0M1007.1 1039.3h0M972.1 1056.5h0M968.5 1046.9h0M959.6 1064.6h0M974.3 1043.1h0M987.0 1042.5h0M961.5 1059.9h0M982.7 1074.3h0M984.8 1049.6h0M955.8 1059.1h0M1003.7 1049.9h0M967.4 1076.1h0M980.1 1049.6h0M1005.5 1056.0h0M994.4 1039.5h0M961.6 1065.6h0M968.2 1074.0h0M999.1 1058.0h0M968.4 1063.6h0M962.4 1075.4h0M965.6 1072.6h0M959.8 1059.9h0M990.1 1062.9h0M1001.2 1039.4h0M982.1 1050.2h0M971.9 1054.2h0M996.6 1044.6h0M949.3 1053.6h0M965.7 1066.2h0M962.1 1072.8h0M981.8 1071.6h0M988.2 1046.2h0M999.2 1046.2h0M977.5 1049.8h0M964.8 1054.1h0M985.5 1070.2h0M966.2 1047.7h0M965.2 1057.6h0M968.0 1056.0h0M994.6 1043.6h0M969.0 1071.3h0M952.0 1053.1h0M966.5 1057.6h0M1005.2 1054.7h0M996.1 1047.3h0M988.2 1051.2h0M964.0 1053.8h0M1005.7 1048.9h0M980.6 1041.4h0M992.0 1048.1h0M966.2 1055.8h0M987.5 1041.3h0M996.4 1041.9h0M965.3 1064.2h0M956.1 1048.2h0M995.5 1047.1h0M979.5 1059.8h0M986.9 1062.6h0M977.9 1059.2h0M981.0 1051.4h0M986.7 1069.8h0M1000.0 1063.1h0M978.5 1041.7h0M961.8 1053.1h0M975.9 1060.3h0M1008.0 1052.2h0M983.3 1074.2h0M956.1 1061.5h0M1005.0 1051.3h0M958.0 1061.9h0M986.8 1050.0h0M981.0 1041.9h0M981.9 1072.1h0M959.0 1052.7h0M985.9 1040.4h0M949.1 1056.7h0M982.6 1053.3h0M991.2 1039.8h0M1003.6 1039.4h0M984.4 1070.9h0M992.6 1065.8h0M991.4 1055.1h0M988.8 1060.9h0M981.5 1075.1h0M984.3 1047.3h0M995.4 1066.9h0M996.6 1059.2h0M974.8 1054.3h0M951.7 1062.8h0M965.0 1076.2h0M1005.8 1052.6h0M963.0 1058.3h0M985.8 1067.8h0M1010.2 1048.8h0M965.4 1054.0h0M966.1 1054.7h0M981.6 1061.2h0M964.2 1069.3h0M986.6 1066.2h0M991.8 1067.8h0M954.0 1063.8h0M990.3 1046.8h0M963.0 1052.2h0M971.4 1059.7h0M955.3 1051.9h0M976.3 1047.7h0M1009.2 1048.5h0M999.7 1052.8h0M971.0 1051.7h0M988.4 1042.1h0M969.4 1059.5h0M961.7 1067.2h0M971.6 1076.8h0M970.5 1047.5h0M962.1 1053.2h0M993.4 1044.0h0M991.3 1071.2h0M967.8 1072.2h0M953.7 1050.0h0M996.6 1059.3h0M988.1 1062.7h0M1005.0 1058.5h0M976.3 1042.3h0M972.1 1046.7h0M975.7 1057.5h0M990.9 1040.6h0M997.6 1039.1h0M995.5 1045.0h0M991.7 1040.5h0M982.8 1048.0h0M978.1 1058.4h0M977.1 1057.0h0M984.6 1054.6h0M976.3 1048.4h0M986.8 1072.7h0M955.1 1048.3h0M962.2 1070.8h0M977.0 1056.2h0M961.4 1070.8h0M1008.4 1052.0h0M956.2 1048.7h0M1001.2 1047.6h0M982.8 1050.5h0M1002.4 1047.2h0M998.4 1044.5h0M960.4 1069.1h0M958.8 1065.2h0M1002.7 1051.1h0M974.2 1074.4h0M965.9 1045.1h0M1002.5 1045.5h0M974.3 1048.2h0M964.4 1068.2h0M987.8 1045.7h0M1006.3 1050.9h0M998.0 1046.3h0M1001.3 1062.6h0M984.4 1073.3h0M1009.1 1047.3h0M951.0 1059.9h0M953.5 1058.7h0M1001.5 1039.9h0M1001.9 1042.6h0M981.2 1045.7h0M957.5 1067.8h0M972.0 1059.0h0M962.8 1064.9h0M1002.5 1048.7h0M986.5 1069.8h0M978.2 1044.6h0M948.8 1054.8h0M981.6 1061.1h0M962.9 1051.1h0M966.8 1062.2h0M1000.8 1037.7h0M962.2 1065.4h0M984.8 1041.2h0M982.0 1066.0h0M983.8 1073.2h0M983.9 1059.2h0M988.9 1038.5h0M990.9 1061.8h0M978.7 1040.7h0M964.8 1049.4h0M979.7 1051.9h0M969.8 1077.8h0M988.4 1057.8h0M968.1 1062.8h0M1008.0 1042.0h0M975.3 1047.8h0M973.6 1049.5h0M959.5 1064.5h0M973.9 1047.1h0M990.6 1056.6h0M987.4 1055.2h0M986.4 1054.3h0M957.4 1068.5h0M998.8 1041.5h0M974.8 1061.2h0M957.5 1055.4h0M977.1 1070.1h0M981.2 1057.8h0M974.3 1047.3h0M961.6 1074.0h0M990.2 1069.5h0M996.1 1065.3h0M948.5 1051.0h0M990.8 1039.3h0M957.8 1064.0h0M954.8 1060.3h0M984.9 1039.5h0M981.0 1057.1h0M1000.9 1053.1h0M979.7 1061.2h0M967.2 1070.0h0M983.6 1072.4h0M980.8 1061.4h0M975.9 1054.3h0M994.4 1052.6h0M990.3 1063.9h0M970.4 1042.4h0M961.2 1054.6h0M1000.8 1046.0h0M964.4 1074.6h0M956.5 1046.2h0M973.4 1047.5h0M979.2 1071.8h0M963.9 1061.7h0M962.7 1068.6h0M983.0 1051.1h0M994.7 1041.9h0M1002.3 1053.7h0M1003.6 1058.4h0M975.8 1075.5h0M992.7 1043.1h0M997.9 1048.0h0M997.8 1063.6h0M989.6 1038.1h0M955.1 1056.5h0M970.7 1068.4h0M1009.5 1048.2h0M969.3 1074.0h0M963.7 1062.3h0M993.2 1060.1h0M958.9 1070.7h0M952.4 1056.2h0M981.0 1045.0h0M1007.9 1053.8h0M996.7 1037.8h0M959.6 1045.8h0M976.8 1047.7h0M979.7 1064.6h0M987.9 1071.2h0M977.8 1074.0h0M991.0 1067.3h0M995.0 1044.8h0M1005.3 1037.7h0M987.8 1038.8h0M979.4 1053.6h0M983.0 1041.0h0M961.5 1049.6h0M999.4 1043.7h0M962.3 1074.9h0M977.6 1054.0h0M983.1 1062.5h0M981.8 1061.3h0M957.2 1054.5h0M968.6 1065.4h0M1006.5 1056.2h0M980.3 1065.7h0M984.3 1054.3h0M972.6 1046.2h0M973.6 1063.1h0M1007.1 1046.0h0M960.7 1069.2h0M986.5 1052.2h0M1005.6 1041.1h0M994.4 1061.9h0M966.5 1053.9h0M975.8 1044.7h0M984.1 1073.6h0M952.6 1057.4h0M974.9 1058.2h0M985.7 1044.0h0M983.5 1056.7h0M983.6 1049.1h0M955.7 1058.2h0M978.1 1045.6h0M999.6 1044.3h0M974.5 1070.2h0M981.3 1066.9h0M966.2 1058.0h0M972.9 1049.7h0M996.9 1060.6h0M969.8 1075.9h0M1009.1 1048.0h0M991.9 1069.5h0M991.3 1039.3h0M961.0 1066.5h0M968.5 1075.5h0M990.8 1046.4h0M984.4 1059.0h0M1001.0 1060.6h0M969.2 1047.5h0M966.6 1065.5h0M995.2 1049.9h0M987.0 1043.5h0M999.1 1042.6h0M975.5 1050.1h0M989.3 1062.9h0M967.4 1048.5h0M1007.9 1047.6h0M988.8 1048.2h0M952.3 1049.9h0M999.6 1048.8h0M972.7 1054.5h0M970.7 1050.4h0M965.1 1046.2h0M1007.7 1047.7h0M992.1 1065.0h0M964.2 1051.4h0M1006.5 1054.5h0M996.8 1045.4h0M952.1 1060.4h0M951.6 1061.7h0M1000.2 1061.1h0M993.2 1068.3h0M1005.2 1048.7h0M958.9 1050.1h0M953.7 1051.4h0M977.8 1068.1h0M989.8 1065.8h0M971.2 1049.4h0M996.1 1037.7h0M966.7 1070.0h0M962.3 1077.0h0M964.9 1058.7h0M1008.4 1054.8h0M973.5 1063.2h0M953.9 1062.1h0M980.1 1054.4h0M1003.8 1041.7h0M977.6 1062.7h0M997.4 1048.9h0M964.3 1063.3h0M981.7 1065.1h0M972.6 1051.9h0M984.2 1066.8h0M980.9 1071.8h0M985.9 1051.7h0M1008.3 1052.7h0M957.8 1061.4h0M967.0 1076.2h0M991.3 1060.2h0M990.2 1055.0h0M990.7 1041.1h0M964.0 1072.5h0M977.7 1064.9h0M994.6 1060.2h0M987.5 1069.1h0M1005.2 1053.7h0M998.5 1045.0h0M969.8 1053.2h0M982.9 1055.2h0M985.3 1069.6h0M982.7 1069.3h0M992.4 1050.8h0M983.5 1074.5h0M983.7 1060.8h0M962.5 1071.4h0M977.3 1047.5h0M981.5 1058.1h0M980.2 1047.8h0M978.5 1076.0h0M989.6 1070.9h0M972.3 1049.5h0M955.7 1061.9h0M986.5 1053.1h0M998.8 1059.3h0M952.1 1056.4h0M988.8 1049.6h0M952.7 1051.7h0M972.1 1052.6h0M993.3 1050.6h0M966.8 1072.0h0M1000.9 1052.5h0M985.9 1061.8h0M989.4 1050.4h0M988.8 1060.3h0M988.8 1072.9h0M1002.0 1040.4h0M987.2 1069.0h0M1004.9 1051.9h0M994.8 1064.3h0M956.8 1058.8h0M953.6 1054.6h0M952.6 1049.3h0M958.8 1069.1h0M986.4 1063.2h0M1006.0 1046.6h0M1005.7 1055.9h0M954.8 1057.2h0M972.9 1070.9h0M988.5 1038.5h0M996.0 1056.0h0M997.7 1053.8h0M976.7 1051.3h0M964.5 1056.6h0M995.2 1064.2h0M1010.4 1048.6h0M951.4 1051.1h0M964.4 1045.1h0M968.3 1072.6h0M963.0 1042.9h0M967.5 1048.3h0M976.6 1051.1h0M984.4 1070.7h0M984.0 1055.9h0M955.0 1063.1h0M958.5 1063.1h0M968.4 1050.0h0M949.4 1054.5h0M983.4 1061.0h0M983.6 1073.3h0M959.9 1051.4h0M968.8 1059.3h0M960.8 1068.0h0M986.4 1071.1h0M981.9 1074.4h0M992.0 1045.6h0M967.7 1049.6h0M978.0 1067.9h0M983.0 1062.7h0M998.8 1065.5h0M1008.0 1045.5h0M985.9 1054.8h0M955.2 1060.4h0M999.8 1046.8h0M965.7 1076.2h0M982.5 1065.2h0M1008.7 1046.4h0M975.9 1076.1h0M954.2 1051.5h0M987.2 1052.5h0M984.0 1071.8h0M974.8 1067.4h0M962.0 1070.2h0M1003.9 1058.8h0M964.5 1071.8h0M1007.5 1051.8h0M959.1 1068.7h0M975.4 1045.9h0M979.0 1050.5h0M962.4 1053.6h0M960.1 1072.5h0M992.4 1050.0h0M961.6 1069.2h0M965.8 1053.3h0M955.9 1055.8h0M960.2 1074.5h0M960.3 1067.6h0M982.8 1056.5h0M962.8 1057.9h0M972.6 1053.3h0M955.2 1067.8h0M968.1 1050.9h0M1008.3 1042.4h0M966.8 1044.9h0M993.4 1062.6h0M970.0 1052.2h0M995.8 1065.3h0M971.3 1041.3h0M964.0 1060.9h0M998.6 1042.8h0M974.8 1060.0h0M995.4 1040.8h0M972.2 1063.5h0M953.1 1062.6h0M965.4 1076.4h0M949.2 1050.9h0M996.2 1055.3h0M988.0 1069.5h0M991.1 1038.1h0M969.4 1067.6h0M973.2 1047.0h0M951.6 1051.0h0M1004.7 1055.9h0M976.0 1044.3h0M981.0 1064.3h0M982.0 1044.7h0M955.9 1053.8h0M979.0 1047.6h0M984.0 1072.0h0M971.2 1066.2h0M1005.3 1039.4h0M973.6 1048.7h0M998.3 1053.5h0M984.7 1053.4h0M972.8 1061.9h0M954.8 1065.0h0M988.2 1054.6h0M954.7 1067.4h0M980.0 1051.6h0M971.4 1051.9h0M955.6 1057.3h0M985.1 1059.2h0M973.5 1050.7h0M990.7 1064.6h0M992.5 1064.8h0M960.6 1071.9h0M967.8 1059.2h0M983.0 1067.9h0M976.7 1044.0h0M964.7 1062.4h0M954.8 1065.3h0M1005.0 1054.5h0M968.8 1054.5h0M967.2 1069.6h0M973.7 1061.7h0M975.4 1069.5h0M954.5 1061.2h0M981.2 1052.6h0M994.2 1060.7h0M964.1 1056.9h0M961.0 1049.4h0M970.2 1060.3h0M965.7 1049.4h0M961.0 1051.8h0M988.8 1061.3h0M1007.8 1053.3h0M982.4 1069.6h0M992.7 1050.1h0M972.1 1064.6h0M976.2 1057.5h0M1002.9 1062.5h0M1009.2 1048.2h0M958.8 1045.5h0M968.7 1074.8h0M960.1 1066.8h0M971.2 1046.6h0M1005.2 1040.7h0M960.9 1077.3h0M981.9 1050.5h0M974.7 1072.0h0M970.9 1056.1h0M1000.6 1045.5h0M954.7 1051.9h0M966.9 1065.4h0M958.3 1062.9h0M971.6 1074.3h0M954.9 1067.5h0M996.3 1051.7h0M975.4 1062.9h0M991.8 1052.1h0M984.1 1053.6h0M980.7 1061.1h0M989.3 1071.2h0M973.1 1077.2h0M954.7 1067.1h0M960.5 1057.7h0M984.5 1064.9h0M982.6 1068.0h0M982.7 1051.5h0M986.0 1065.0h0M957.2 1065.1h0M968.5 1063.5h0M996.8 1057.1h0M950.4 1053.4h0M973.6 1061.1h0M951.4 1061.2h0M979.0 1062.2h0M984.0 1061.7h0M1006.7 1046.6h0M960.9 1043.9h0M974.7 1072.1h0M978.5 1045.2h0M992.8 1069.8h0M968.1 1057.8h0M1007.9 1045.5h0M978.1 1053.8h0M966.7 1053.9h0M993.1 1069.3h0M988.7 1063.4h0M975.2 1043.1h0M954.7 1056.7h0M971.5 1051.8h0M994.8 1057.7h0M952.5 1063.1h0M995.2 1049.4h0M957.8 1047.4h0M1007.1 1050.6h0M974.8 1069.8h0M986.8 1069.1h0M959.0 1061.1h0M980.0 1059.9h0M997.3 1039.4h0M954.1 1064.1h0M956.2 1054.8h0M970.1 1049.1h0M1002.9 1045.2h0M970.8 1042.7h0M974.4 1061.8h0M954.7 1053.7h0M970.3 1059.6h0M986.0 1069.4h0M1008.9 1050.8h0M970.3 1068.3h0M997.9 1058.6h0M969.8 1062.4h0M954.9 1059.4h0M978.3 1071.5h0M975.7 1048.8h0M982.3 1062.4h0M981.5 1061.5h0M966.7 1057.6h0M987.5 1041.1h0M979.8 1072.0h0M977.1 1066.4h0M990.7 1064.2h0M975.3 1061.2h0M986.1 1072.7h0M972.9 1060.2h0M994.7 1068.1h0M998.9 1053.7h0M970.7 1067.9h0M968.5 1048.7h0M1002.4 1043.8h0M964.6 1070.0h0M973.4 1059.4h0M964.0 1058.7h0M979.8 1073.3h0M976.0 1068.8h0M996.3 1038.7h0M963.9 1060.9h0M953.4 1053.1h0M972.1 1067.8h0M1001.2 1037.4h0M968.4 1064.7h0M986.1 1057.2h0M999.9 1057.9h0M1002.6 1054.1h0M974.0 1071.6h0M978.7 1060.0h0M981.7 1075.3h0M974.5 1058.2h0M978.2 1069.6h0M950.3 1051.6h0M954.0 1059.4h0M995.5 1055.1h0M964.4 1046.5h0M977.7 1051.1h0M970.5 1064.8h0M961.4 1055.1h0M991.2 1054.7h0M978.3 1051.2h0M987.4 1053.5h0M1002.7 1042.4h0M1004.4 1041.9h0M960.7 1057.4h0M992.3 1043.5h0M976.4 1053.7h0M964.8 1046.9h0M983.2 1045.2h0M982.3 1052.3h0M962.0 1069.7h0M1000.3 1043.7h0M972.3 1048.1h0M972.5 1060.1h0M984.4 1062.9h0M985.8 1060.7h0M960.9 1068.7h0M962.9 1048.7h0M979.2 1048.0h0M992.8 1067.9h0M963.1 1052.2h0M977.8 1043.4h0M992.6 1068.3h0M992.1 1052.2h0M987.5 1065.4h0M969.2 1055.3h0M963.8 1051.8h0M950.7 1052.2h0M1002.7 1051.6h0M984.4 1060.9h0M959.9 1063.9h0M1002.7 1057.4h0M957.1 1064.5h0M986.1 1064.5h0M996.9 1044.7h0M952.2 1052.1h0M992.5 1060.2h0M988.6 1038.8h0M964.3 1077.1h0M988.3 1067.0h0M991.2 1065.4h0M992.9 1046.2h0M973.3 1070.0h0M982.8 1046.1h0M993.3 1052.4h0M998.5 1042.7h0M970.8 1052.2h0M978.6 1066.7h0M963.2 1077.7h0M958.7 1068.8h0M972.7 1048.0h0M998.4 1038.9h0M987.8 1044.7h0M988.2 1064.8h0M974.2 1067.9h0M974.2 1051.1h0M998.2 1057.6h0M981.7 1062.6h0M960.9 1045.7h0M998.2 1056.5h0M970.1 1059.2h0M979.2 1069.9h0M969.1 1062.0h0M951.9 1049.9h0M988.3 1043.6h0M955.1 1057.5h0M971.7 1064.9h0M956.6 1064.4h0M959.5 1055.9h0M1000.8 1043.8h0M957.3 1046.4h0M959.9 1067.3h0M960.3 1052.5h0M987.1 1070.2h0M992.6 1053.0h0M966.1 1060.8h0M990.9 1037.9h0M1000.0 1063.1h0M986.1 1049.7h0M955.8 1058.0h0M982.3 1061.3h0M966.8 1068.7h0M991.0 1046.5h0M964.8 1047.0h0M994.7 1037.7h0M973.7 1052.7h0M976.0 1046.7h0M1000.7 1062.9h0M993.4 1068.2h0M983.1 1047.4h0M958.5 1054.4h0M986.4 1056.8h0M956.0 1054.1h0M972.1 1068.8h0M962.3 1064.8h0M971.0 1058.1h0M1007.6 1048.7h0M977.3 1045.3h0M1002.6 1047.8h0M962.8 1056.7h0M997.0 1038.9h0M965.5 1067.4h0M989.1 1048.3h0M996.3 1052.8h0M985.8 1058.6h0M1001.2 1056.8h0M983.5 1048.2h0M981.0 1049.1h0M968.8 1060.6h0M986.3 1041.9h0M966.1 1055.2h0M965.2 1062.6h0M977.4 1055.7h0M965.4 1055.8h0M990.6 1063.2h0M959.2 1071.3h0M969.4 1045.5h0M988.0 1064.1h0M1006.8 1041.0h0M986.0 1051.0h0M1007.6 1046.6h0M985.8 1064.1h0M1007.7 1051.2h0M977.8 1066.4h0M956.8 1066.8h0M981.1 1051.8h0M979.2 1068.0h0M978.9 1051.5h0M958.0 1056.7h0M952.5 1063.9h0M967.7 1064.8h0M990.0 1055.1h0M960.8 1055.9h0M986.0 1069.1h0M964.4 1069.7h0M953.7 1053.4h0M973.2 1056.3h0M982.4 1050.5h0M972.5 1056.5h0M970.1 1072.3h0M975.2 1072.7h0M958.5 1051.0h0M989.7 1056.9h0M1006.5 1039.9h0M953.3 1057.1h0M998.0 1051.2h0M988.7 1045.0h0M966.0 1058.7h0M950.1 1059.4h0M993.0 1062.5h0M966.9 1076.5h0M990.8 1065.5h0M952.5 1061.6h0M1000.4 1052.3h0M952.0 1052.1h0M963.9 1073.1h0M1003.9 1047.5h0M986.2 1061.0h0M982.1 1058.7h0M972.2 1042.0h0M972.1 1047.9h0M997.1 1044.0h0M1001.8 1056.3h0M1000.1 1041.4h0M987.6 1053.7h0M979.2 1063.5h0M986.4 1048.5h0M1004.9 1054.8h0M953.7 1051.7h0M958.0 1052.5h0M981.2 1041.9h0M951.9 1056.1h0M986.3 1062.8h0M957.3 1072.6h0M959.4 1052.1h0M978.1 1055.8h0M991.3 1061.1h0M992.3 1067.4h0M950.1 1052.3h0M994.3 1046.6h0M982.2 1056.1h0M978.7 1048.3h0M987.6 1071.0h0M998.9 1053.2h0M1005.1 1056.3h0M982.1 1073.0h0M957.4 1053.2h0M996.4 1065.9h0M995.7 1055.1h0M985.6 1074.3h0M950.5 1053.5h0M982.8 1055.0h0M993.5 1064.2h0M954.8 1055.6h0M986.5 1065.4h0M997.2 1059.4h0M980.7 1069.5h0M975.1 1063.1h0M991.6 1041.1h0M989.1 1063.5h0M1000.9 1062.2h0M996.4 1052.0h0M988.5 1052.6h0M987.2 1044.0h0M1008.5 1048.3h0M980.9 1054.9h0M988.2 1039.4h0M959.0 1047.1h0M953.4 1048.4h0M1001.0 1051.6h0M973.4 1057.3h0M966.8 1067.1h0M974.8 1072.4h0M1002.8 1038.6h0M982.8 1062.6h0M983.0 1074.0h0M979.3 1057.4h0M984.7 1052.0h0M959.7 1059.3h0M996.1 1053.1h0M950.2 1056.3h0M993.1 1066.8h0M969.5 1045.2h0M976.3 1060.8h0M1003.8 1041.3h0M959.7 1061.0h0M985.5 1040.6h0M981.7 1050.7h0M1001.1 1060.0h0M983.4 1057.9h0M969.7 1061.3h0M972.1 1047.1h0M967.3 1067.0h0M978.2 1055.4h0M975.8 1048.6h0M959.5 1069.7h0M996.8 1045.8h0M983.9 1053.0h0M980.9 1050.3h0M973.5 1064.9h0M964.6 1047.3h0M972.3 1068.6h0M1007.2 1047.2h0M983.4 1062.3h0M973.2 1049.4h0M967.5 1053.3h0M993.6 1062.2h0M963.1 1063.2h0M957.0 1066.6h0M971.4 1065.9h0M990.2 1037.8h0M975.5 1048.4h0M1007.6 1053.9h0M978.3 1069.7h0M981.6 1039.4h0M1004.0 1054.2h0M960.4 1045.0h0M982.4 1066.2h0M978.8 1064.2h0M973.8 1064.4h0M972.7 1055.8h0M959.4 1067.2h0M1002.6 1059.7h0M990.3 1054.9h0M952.7 1057.8h0M959.7 1060.8h0M993.5 1067.3h0M960.1 1066.0h0M974.8 1051.1h0M1005.2 1060.4h0M1006.3 1054.0h0M994.9 1055.4h0M987.8 1045.1h0M994.5 1049.7h0M970.5 1054.0h0M998.6 1039.3h0M974.2 1066.1h0M993.3 1062.6h0M995.4 1065.2h0M971.4 1042.9h0M991.2 1063.3h0M981.9 1039.8h0M984.6 1042.3h0M975.0 1076.5h0M977.1 1060.1h0M1002.1 1053.4h0M989.0 1057.7h0M952.4 1058.1h0M951.6 1050.5h0M989.9 1051.9h0M984.6 1042.2h0M973.7 1061.0h0M970.7 1072.9h0M973.0 1059.7h0M966.2 1064.9h0M981.8 1056.8h0M965.6 1051.0h0M988.2 1055.0h0M967.5 1069.5h0M958.4 1050.4h0M978.0 1073.3h0M998.2 1044.7h0M987.4 1048.2h0M978.4 1056.5h0M993.1 1043.4h0M958.1 1059.7h0M988.4 1049.7h0M988.4 1042.8h0M984.3 1047.9h0M983.8 1043.2h0M972.5 1046.0h0M979.1 1053.9h0M962.2 1057.3h0M962.1 1051.3h0M960.0 1063.2h0M975.6 1061.3h0M970.6 1042.6h0M963.0 1066.4h0M1001.4 1038.3h0M967.6 1076.8h0M995.3 1037.0h0M953.6 1056.0h0M963.8 1045.6h0M950.1 1059.0h0M978.9 1063.3h0M990.6 1043.4h0M969.6 1059.7h0M1003.6 1060.4h0M957.0 1064.1h0M984.1 1068.1h0M974.7 1044.3h0M987.6 1051.5h0M949.7 1054.5h0M991.3 1038.9h0M957.4 1066.0h0M959.9 1059.3h0M969.5 1062.2h0M997.8 1043.7h0M997.4 1045.3h0M993.1 1051.7h0M964.1 1062.2h0M971.3 1072.0h0M979.4 1050.2h0M978.6 1070.2h0M996.0 1055.4h0M1003.5 1045.5h0M964.5 1075.6h0M976.0 1047.4h0M970.1 1051.2h0M999.9 1058.1h0M967.7 1065.8h0M960.7 1048.7h0M977.7 1058.8h0M964.3 1066.5h0M961.9 1050.7h0M983.0 1056.7h0M970.4 1076.1h0M969.8 1070.1h0M988.7 1047.5h0M980.1 1054.2h0M956.4 1063.7h0M983.6 1052.8h0M957.0 1049.4h0M982.9 1041.4h0M970.1 1060.3h0M962.8 1074.3h0M987.7 1043.1h0M992.0 1065.5h0M985.9 1044.8h0M982.5 1066.8h0M998.4 1055.0h0M1006.1 1044.3h0M998.8 1037.4h0M995.1 1048.5h0M993.0 1040.6h0M999.4 1048.5h0M976.8 1072.9h0M980.9 1045.5h0M958.2 1070.7h0M970.3 1060.5h0M984.5 1040.6h0M1001.4 1064.0h0M963.6 1047.6h0M966.8 1046.5h0M1000.3 1041.6h0M990.3 1046.1h0M989.4 1038.5h0M984.6 1047.6h0M976.1 1055.8h0M975.8 1044.7h0M995.6 1041.3h0M976.3 1062.3h0M970.6 1049.3h0M980.9 1071.1h0M995.6 1062.6h0M995.0 1038.3h0M963.2 1073.5h0M994.3 1057.6h0M980.2 1062.3h0M977.2 1066.8h0M987.9 1049.6h0M991.7 1045.4h0M964.6 1043.6h0M1006.2 1045.4h0M954.7 1057.8h0M993.8 1041.0h0M965.0 1055.2h0M982.6 1066.2h0M972.3 1063.3h0M965.3 1046.8h0M976.6 1049.7h0M979.3 1074.2h0M1000.8 1044.8h0M972.5 1073.2h0M950.1 1052.4h0M968.3 1051.0h0M958.9 1071.3h0M1001.2 1046.1h0M968.9 1045.8h0M963.1 1055.4h0M954.0 1051.7h0M971.7 1071.2h0M971.2 1054.0h0M967.5 1060.0h0M964.1 1047.6h0M956.1 1068.9h0M979.4 1061.1h0M983.4 1048.5h0M989.4 1054.8h0M954.8 1060.0h0M991.5 1062.6h0M970.5 1056.4h0M998.2 1058.0h0M979.7 1065.7h0M978.4 1070.0h0M979.4 1055.3h0M968.8 1068.0h0M1006.9 1052.8h0M957.5 1066.2h0M969.6 1052.0h0M974.6 1050.9h0M968.2 1052.3h0M981.8 1047.8h0M975.5 1046.7h0M1001.4 1039.2h0M958.4 1057.6h0M976.4 1069.6h0M1002.9 1049.9h0M993.0 1050.0h0M990.9 1038.2h0M977.5 1055.2h0M985.1 1072.0h0M985.0 1063.2h0M972.3 1055.1h0M968.0 1075.9h0M965.4 1073.5h0M972.6 1075.7h0M957.3 1060.8h0M953.9 1049.8h0M975.7 1056.0h0M963.3 1059.4h0M964.6 1044.7h0M963.2 1053.3h0M965.8 1074.0h0M958.4 1061.2h0M969.1 1072.5h0M957.7 1069.7h0M951.7 1064.2h0M981.8 1051.6h0M971.0 1060.1h0M973.0 1064.2h0M1007.1 1041.9h0M978.1 1046.3h0M998.4 1055.8h0M981.6 1072.7h0M959.8 1066.0h0M975.9 1042.7h0M951.6 1053.0h0M987.3 1047.6h0M1005.8 1054.0h0M961.6 1073.2h0M1003.0 1037.3h0M997.5 1037.0h0M989.4 1062.7h0M1005.6 1050.6h0M958.4 1073.5h0M1000.1 1051.4h0M995.8 1058.7h0M1008.7 1053.3h0M974.1 1075.6h0M988.7 1058.5h0M969.6 1076.9h0M995.2 1056.0h0M991.5 1066.4h0M983.6 1068.9h0M985.8 1066.4h0M967.0 1062.6h0M983.6 1053.6h0M992.4 1061.1h0M970.8 1048.4h0M997.4 1049.7h0M986.7 1057.4h0M959.3 1070.4h0M953.4 1061.8h0M976.1 1062.1h0M955.5 1062.8h0M963.6 1070.8h0M979.5 1041.8h0M1005.9 1039.5h0M1004.5 1060.2h0M961.6 1051.2h0M973.2 1072.1h0M979.2 1051.0h0M990.3 1043.7h0M987.8 1049.2h0M1007.0 1048.4h0M994.8 1037.4h0M986.4 1039.9h0M987.7 1056.1h0M972.0 1060.3h0M1002.4 1048.4h0M992.3 1048.0h0M974.9 1065.3h0M965.9 1058.9h0M968.8 1054.2h0M987.3 1057.8h0M991.9 1065.9h0M974.4 1052.0h0M989.1 1047.2h0M994.1 1044.1h0M979.8 1060.2h0M952.8 1065.5h0M978.0 1070.0h0M967.1 1060.4h0M980.3 1044.6h0M969.3 1058.7h0M974.7 1064.5h0M980.2 1052.7h0M956.6 1050.2h0M968.9 1076.5h0M979.3 1070.3h0M988.7 1051.5h0M978.9 1067.4h0M978.4 1060.8h0M963.6 1074.9h0M1005.5 1058.5h0M960.7 1054.1h0M978.7 1070.6h0M992.2 1041.7h0M965.9 1071.5h0M957.7 1060.0h0M961.6 1064.2h0M982.9 1060.6h0M986.2 1071.8h0M950.9 1060.6h0M964.4 1072.5h0M1006.4 1052.3h0M954.2 1056.1h0M977.1 1050.2h0M1005.4 1057.6h0M984.1 1071.0h0M1007.7 1052.3h0M975.0 1050.8h0M979.3 1065.8h0M986.9 1057.0h0M1008.1 1056.3h0M998.6 1052.4h0M985.8 1069.4h0M989.4 1070.0h0M996.4 1057.7h0M995.7 1049.3h0M988.6 1041.2h0M1003.1 1041.8h0M958.0 1049.4h0M1002.5 1051.5h0M972.6 1042.6h0M961.2 1063.0h0M965.4 1047.7h0M996.4 1041.1h0M986.6 1056.6h0M983.3 1064.4h0M986.7 1041.6h0M964.2 1044.8h0M974.7 1068.2h0M965.0 1051.9h0M1007.3 1048.5h0M968.1 1053.5h0M958.5 1059.9h0M988.4 1070.1h0M964.3 1065.2h0M994.5 1058.9h0M994.0 1061.5h0M983.6 1066.7h0M978.2 1041.1h0M967.5 1071.0h0M971.9 1047.8h0M992.5 1065.1h0M975.0 1071.1h0M988.8 1052.9h0M954.9 1068.7h0M988.1 1065.0h0M975.2 1044.6h0M985.2 1054.5h0M959.7 1070.0h0M997.3 1045.7h0M1000.2 1041.6h0M1002.6 1041.4h0M971.0 1062.1h0M996.7 1049.0h0M972.6 1043.3h0M999.8 1054.0h0M987.0 1047.2h0M977.3 1041.3h0M971.4 1055.5h0M1000.9 1054.2h0M961.5 1047.9h0M990.0 1052.6h0M1009.5 1045.5h0M956.6 1057.8h0M958.1 1053.1h0M987.2 1048.3h0M998.0 1042.4h0M995.0 1065.2h0M963.2 1060.5h0M979.7 1061.4h0M963.8 1075.2h0M1004.4 1056.9h0M1003.6 1040.3h0M956.2 1067.0h0M959.7 1056.2h0M955.7 1067.4h0M965.2 1062.1h0M961.3 1059.8h0M983.9 1068.5h0M980.2 1040.6h0M1006.9 1042.0h0M981.7 1062.8h0M985.0 1063.4h0M961.0 1049.5h0M963.8 1070.2h0M961.0 1074.7h0M967.2 1054.0h0M981.2 1074.3h0M962.8 1053.2h0M988.2 1054.0h0M963.4 1075.8h0M997.6 1038.1h0M979.6 1056.1h0M952.1 1060.5h0M992.7 1069.7h0M982.9 1064.2h0M965.9 1044.7h0M973.7 1074.5h0M984.6 1066.9h0M997.1 1054.2h0M1001.2 1048.2h0M970.5 1064.5h0M981.4 1069.2h0M1005.1 1053.8h0M1000.7 1055.7h0M969.8 1063.6h0M969.7 1074.8h0M970.1 1069.9h0M969.3 1047.5h0M979.9 1064.1h0M968.6 1076.3h0M969.2 1064.2h0M976.0 1074.5h0M963.3 1063.5h0M982.3 1072.9h0M954.8 1052.0h0M990.1 1044.8h0M997.4 1040.3h0M968.8 1053.4h0M957.9 1072.7h0M1000.2 1055.2h0M994.0 1039.7h0M964.8 1070.9h0M973.5 1059.2h0M987.0 1057.8h0M999.0 1037.7h0M1006.2 1048.6h0M962.3 1056.5h0M952.3 1050.7h0M991.8 1066.8h0M959.4 1062.9h0M965.5 1049.9h0M960.2 1069.7h0M1005.3 1039.6h0M1009.9 1048.1h0M949.1 1053.9h0M978.9 1042.9h0M996.6 1039.7h0M963.6 1076.6h0M996.8 1049.0h0M1004.2 1044.1h0M979.9 1075.0h0M975.9 1045.0h0M995.7 1039.1h0M973.6 1066.9h0M958.7 1069.2h0M982.1 1048.0h0M993.9 1049.6h0M1001.7 1043.6h0M974.3 1044.1h0M967.3 1045.3h0M977.9 1069.2h0M986.5 1070.5h0M951.9 1061.6h0M978.1 1067.7h0M969.0 1048.7h0M997.1 1047.9h0M955.2 1068.3h0M971.6 1073.5h0M985.5 1069.2h0M962.7 1063.9h0M976.2 1070.6h0M986.3 1056.4h0M1005.4 1045.6h0M993.9 1054.2h0M1001.9 1041.4h0M962.5 1057.1h0M993.2 1063.5h0M971.8 1068.5h0M962.1 1076.8h0M958.4 1046.0h0M971.5 1041.5h0M968.2 1074.3h0M984.1 1057.5h0M1005.0 1046.5h0M950.0 1060.3h0M992.8 1040.9h0M975.0 1051.5h0M991.2 1073.0h0M964.0 1049.5h0M984.1 1066.3h0M1003.8 1058.2h0M960.8 1058.5h0M969.3 1065.2h0M982.0 1064.3h0M966.4 1054.3h0M954.6 1064.3h0M953.1 1060.4h0M977.9 1062.8h0M978.9 1055.9h0M957.7 1052.6h0M992.2 1061.9h0M961.0 1067.8h0M993.2 1055.2h0M956.9 1045.9h0M974.6 1041.2h0M959.1 1052.4h0M968.4 1054.1h0M982.2 1042.0h0M994.7 1062.0h0M964.3 1058.1h0M982.5 1073.9h0M978.9 1056.9h0M974.2 1072.1h0M961.8 1056.6h0M981.2 1046.7h0M957.1 1046.6h0M969.5 1069.6h0M1007.7 1043.7h0M985.1 1064.0h0M993.5 1062.6h0M977.6 1061.6h0M999.6 1041.0h0M977.0 1051.3h0M993.9 1045.0h0M970.1 1070.0h0M987.4 1067.0h0M968.7 1062.6h0M957.3 1067.8h0M990.7 1045.4h0M979.0 1052.9h0M964.6 1049.1h0M989.2 1045.1h0M968.2 1056.0h0M992.6 1067.2h0M1002.2 1052.7h0M978.3 1073.8h0M969.0 1072.4h0M988.4 1059.0h0M998.5 1044.2h0M988.5 1049.8h0M979.2 1072.5h0M973.0 1047.4h0M957.5 1049.5h0M966.2 1067.7h0M983.6 1059.5h0M959.7 1055.5h0M998.9 1047.7h0M971.6 1056.1h0M983.7 1073.8h0M980.2 1039.5h0M1002.6 1039.2h0M1000.6 1064.1h0M1008.5 1043.6h0M1004.4 1057.6h0M982.3 1046.1h0M1000.4 1041.6h0M985.0 1042.4h0M1003.8 1041.2h0M987.7 1056.3h0M1001.5 1058.7h0M993.9 1053.4h0M955.3 1048.7h0M1000.0 1048.2h0M983.9 1070.8h0M981.5 1042.1h0M958.5 1069.4h0M1009.8 1050.2h0M997.8 1048.2h0M981.8 1049.2h0M971.9 1062.4h0M976.0 1061.6h0M964.0 1062.3h0M962.5 1068.9h0M965.1 1073.7h0M990.6 1039.7h0M989.4 1062.7h0M970.9 1049.9h0M997.2 1038.5h0M978.1 1063.6h0M977.5 1075.1h0M963.9 1066.7h0M971.3 1068.5h0M972.8 1052.1h0M991.4 1039.8h0M960.0 1070.5h0M1000.6 1039.3h0M953.1 1052.6h0M979.6 1072.8h0M961.0 1054.0h0M1001.1 1042.7h0M973.9 1055.4h0M977.2 1051.9h0M957.5 1066.0h0M959.0 1047.5h0M984.1 1051.9h0M995.1 1045.2h0M974.9 1051.0h0M983.1 1074.0h0M982.2 1044.4h0M984.0 1069.3h0M960.5 1049.9h0M987.0 1072.0h0M991.9 1045.4h0M992.3 1039.6h0M978.7 1071.0h0M957.9 1047.6h0M1002.3 1037.0h0M959.0 1068.9h0M1002.3 1060.3h0M984.3 1046.6h0M982.2 1048.9h0M988.0 1060.7h0M993.3 1063.2h0M1006.5 1056.3h0M960.7 1064.3h0M984.4 1048.5h0M983.1 1046.4h0M960.2 1069.6h0M976.0 1047.7h0M957.5 1058.7h0M1001.3 1044.6h0M1003.5 1058.6h0M978.3 1054.0h0M974.0 1044.2h0M979.3 1053.3h0M978.5 1064.3h0M988.0 1040.2h0M985.0 1059.1h0M1000.7 1047.8h0M994.1 1058.6h0M973.6 1054.6h0M1006.6 1046.3h0M987.0 1059.8h0M984.7 1064.5h0M974.2 1051.7h0M987.8 1071.5h0M964.7 1070.7h0M956.6 1062.9h0M998.2 1060.6h0M971.7 1063.0h0M973.9 1043.2h0M1001.7 1056.0h0M973.5 1041.9h0M963.2 1051.6h0M976.4 1040.4h0M990.8 1062.4h0M970.0 1047.8h0M963.2 1051.8h0M980.0 1054.2h0M1002.2 1055.2h0M992.8 1055.6h0M998.3 1055.7h0M981.9 1044.5h0M968.4 1066.9h0M1006.2 1053.3h0M959.2 1059.8h0M989.6 1051.6h0M971.7 1067.5h0M955.2 1062.3h0M962.4 1069.4h0M965.2 1076.8h0M991.8 1042.3h0M953.3 1063.7h0M986.5 1068.8h0M961.2 1060.6h0M952.4 1054.3h0M973.4 1073.0h0M983.2 1058.1h0M959.9 1065.1h0M960.3 1048.9h0M980.3 1068.4h0M984.7 1056.9h0M965.4 1071.6h0M962.8 1062.6h0M969.8 1076.4h0M996.3 1044.6h0M969.3 1076.2h0M979.9 1049.2h0M987.4 1042.8h0M972.1 1052.4h0M1000.0 1047.2h0M1001.1 1039.7h0M983.3 1059.3h0M1000.3 1047.3h0M995.5 1056.0h0M960.3 1061.3h0M967.8 1062.1h0M986.2 1068.5h0M1001.3 1060.3h0M1008.0 1051.9h0M973.8 1042.7h0M986.5 1052.3h0M996.3 1059.3h0M1001.3 1056.9h0M992.5 1037.8h0M1008.9 1051.1h0M993.2 1040.8h0M1007.2 1047.3h0M975.7 1072.8h0M969.2 1067.0h0M981.2 1066.3h0M963.8 1061.7h0M979.7 1041.9h0M992.5 1061.1h0M989.8 1059.9h0M952.0 1051.1h0M991.2 1047.0h0M978.1 1066.1h0M959.1 1051.5h0M970.9 1077.9h0M994.8 1037.8h0M1000.3 1063.2h0M959.4 1047.0h0M1006.0 1040.9h0M976.3 1068.5h0M1000.9 1057.5h0M977.7 1074.2h0M978.0 1044.8h0M969.1 1049.4h0M965.8 1051.5h0M971.5 1048.7h0M977.3 1057.5h0M964.4 1044.6h0M968.0 1054.3h0M974.0 1059.9h0M999.1 1039.0h0M996.0 1038.1h0M992.1 1068.5h0M995.0 1042.4h0M980.0 1042.7h0M990.9 1040.8h0M991.1 1042.2h0M996.8 1064.5h0M1008.2 1044.7h0M984.7 1039.6h0M996.8 1057.9h0M987.7 1043.1h0M950.2 1053.9h0M996.5 1048.2h0M994.0 1061.1h0M972.0 1064.2h0M959.9 1055.8h0M1005.2 1047.5h0M988.2 1060.4h0M977.1 1052.5h0M971.3 1059.2h0M967.9 1055.2h0M968.8 1052.3h0M1007.8 1056.2h0M952.0 1060.8h0M997.6 1065.6h0M962.3 1053.2h0M1005.9 1057.8h0M967.2 1060.8h0M952.8 1059.7h0M963.0 1047.4h0M970.1 1051.8h0M963.1 1058.4h0M989.7 1047.6h0M976.0 1059.0h0M974.0 1067.6h0M966.7 1068.7h0M963.5 1059.0h0M1004.0 1047.1h0M990.3 1063.2h0M955.1 1048.7h0M969.0 1075.8h0M997.7 1045.2h0M966.7 1061.7h0M972.7 1064.1h0M961.0 1058.6h0M958.4 1069.6h0M995.5 1043.6h0M954.8 1049.1h0M960.9 1052.4h0M951.4 1050.9h0M956.8 1051.0h0M960.8 1059.3h0M989.3 1039.6h0M968.7 1061.9h0M969.1 1042.6h0M961.9 1066.8h0M961.1 1064.0h0M971.5 1073.0h0M965.8 1067.8h0M973.9 1066.2h0M963.1 1054.4h0M977.7 1056.7h0M991.0 1039.0h0M965.8 1058.4h0M953.8 1067.0h0M999.0 1062.6h0M973.4 1065.2h0M968.2 1048.5h0M974.9 1060.7h0M975.3 1064.7h0M962.3 1051.6h0M953.3 1053.3h0M980.9 1056.8h0M977.4 1066.3h0M1003.5 1054.2h0M984.5 1067.8h0M962.5 1055.4h0M968.1 1068.1h0M958.5 1064.7h0M979.5 1046.7h0M992.9 1058.6h0M998.7 1036.6h0M966.1 1057.9h0M954.0 1068.7h0M979.2 1062.0h0M967.1 1073.6h0M1007.3 1049.5h0M975.9 1046.6h0M999.9 1041.6h0M971.0 1065.8h0M979.9 1044.9h0M953.5 1058.2h0M961.3 1052.2h0M984.4 1047.0h0M970.8 1044.9h0M964.9 1062.1h0M1001.7 1044.2h0M980.7 1060.0h0M1005.5 1056.7h0M967.8 1053.0h0M977.7 1071.7h0M971.1 1068.9h0M998.8 1036.9h0M1000.1 1051.4h0M962.5 1062.9h0M977.8 1075.5h0M988.5 1048.6h0M1005.6 1045.8h0M1003.1 1044.8h0M990.8 1073.5h0M972.9 1076.1h0M964.0 1049.3h0M990.4 1045.4h0M980.4 1070.5h0M988.1 1049.0h0M993.4 1059.0h0M993.7 1047.9h0M963.8 1052.4h0M988.4 1062.1h0M969.0 1078.2h0M1000.0 1056.5h0M987.1 1042.8h0M994.0 1068.5h0M1002.4 1040.5h0M995.9 1063.2h0M964.4 1076.7h0M993.4 1047.0h0M990.4 1067.4h0M973.5 1074.7h0M957.3 1066.5h0M999.0 1046.0h0M979.1 1042.3h0M949.9 1053.6h0M997.4 1060.4h0M975.9 1074.2h0M961.8 1057.2h0M992.2 1056.3h0M949.9 1053.0h0M1004.1 1060.3h0M984.9 1049.5h0M1006.8 1052.3h0M974.6 1065.7h0M980.4 1061.7h0M948.4 1056.7h0M976.9 1063.5h0M973.8 1068.9h0M1006.9 1043.0h0M998.7 1063.7h0M993.7 1041.7h0M977.6 1058.6h0M981.8 1058.3h0M997.1 1046.9h0M976.5 1057.9h0M974.0 1056.0h0M964.0 1058.6h0M969.1 1051.9h0M998.9 1060.5h0" stroke="#1f9e4f" stroke-width="2.0" stroke-linecap="round" fill="none"/>
<path d="M941.6 1059.2h0M1012.5 1066.7h0M1011.0 1071.6h0M1017.2 1076.0h0M1018.7 1078.7h0M1021.8 1086.0h0M1018.0 1089.8h0M1032.9 1105.3h0M1039.7 1106.2h0M1042.0 1113.3h0M1051.8 1125.0h0M1053.5 1135.7h0M1056.6 1137.9h0M1070.9 1135.7h0M1080.7 1174.0h0M1052.0 987.5h0" stroke="#4d7486" stroke-width="1.9" stroke-linecap="round" fill="none"/>
<path d="M968.5 1058.0Q984 1054 997.5 1047.3" stroke="#000" stroke-width="2.7" fill="none" stroke-linecap="round"/>
<rect x="1129" y="852.4" width="67.5" height="62.80000000000007" rx="2.5" fill="#fff" stroke="#cccccc" stroke-width="1.1"/>
<circle cx="1148.2" cy="864.1" r="4.9" fill="#1f77b4"/>
<text class="ls" x="1165.8" y="868.1" font-size="13.9" font-weight="bold" fill="#000">ab</text>
<circle cx="1148.2" cy="883.7" r="4.9" fill="#f58231"/>
<text class="ls" x="1165.8" y="887.7" font-size="13.9" font-weight="bold" fill="#000">abp</text>
<circle cx="1148.2" cy="903.3" r="4.9" fill="#1f9e4f"/>
<text class="ls" x="1165.8" y="907.3" font-size="13.9" font-weight="bold" fill="#000">y</text>
<path d="M660.2 1148.2V1225.5H741.4" stroke="#222222" stroke-width="4.0" fill="none"/>
<text class="ls" font-size="24.7" fill="#222222" transform="translate(662.3 1249.6) scale(0.972 1)">UMAP 1</text>
<text class="ls" font-size="26.2" fill="#222222" transform="translate(653.4 1222.7) rotate(-90) scale(0.955 1)">UMAP2</text>
<rect x="1427.5" y="134.0" width="331.0" height="330.6" fill="#232e61"/>
<rect x="1427.5" y="134.0" width="66.6" height="66.6" fill="#2d4190"/>
<rect x="1559.9" y="134.0" width="66.6" height="66.6" fill="#214f9e"/>
<rect x="1626.1" y="134.0" width="66.6" height="66.6" fill="#2b387a"/>
<rect x="1692.3" y="134.0" width="66.2" height="66.6" fill="#2d4190"/>
<rect x="1427.5" y="200.2" width="66.6" height="66.6" fill="#0570b0"/>
<rect x="1559.9" y="200.2" width="66.6" height="66.6" fill="#2d3a7c"/>
<rect x="1559.9" y="266.4" width="66.6" height="66.6" fill="#1e59a8"/>
<rect x="1626.1" y="266.4" width="66.6" height="66.6" fill="#2d4190"/>
<rect x="1692.3" y="266.4" width="66.2" height="66.6" fill="#2d4190"/>
<rect x="1626.1" y="332.6" width="66.6" height="66.6" fill="#2d4190"/>
<rect x="1459.9" y="464.6" width="1.3" height="6" fill="#000"/>
<rect x="1758.5" y="166.4" width="6" height="1.3" fill="#000"/>
<text class="dj" x="1470.7" y="476.3" font-size="36.6" text-anchor="end" fill="#000" transform="rotate(-90 1470.7 476.3)">CXG</text>
<text class="dj" x="1769.4" y="180.9" font-size="36.6" fill="#000">CXG</text>
<rect x="1526.1" y="464.6" width="1.3" height="6" fill="#000"/>
<rect x="1758.5" y="232.7" width="6" height="1.3" fill="#000"/>
<text class="dj" x="1536.9" y="476.3" font-size="36.6" text-anchor="end" fill="#000" transform="rotate(-90 1536.9 476.3)">ALG</text>
<text class="dj" x="1769.4" y="247.1" font-size="36.6" fill="#000">ALG</text>
<rect x="1592.3" y="464.6" width="1.3" height="6" fill="#000"/>
<rect x="1758.5" y="298.9" width="6" height="1.3" fill="#000"/>
<text class="dj" x="1603.1" y="476.3" font-size="36.6" text-anchor="end" fill="#000" transform="rotate(-90 1603.1 476.3)">PG</text>
<text class="dj" x="1769.4" y="313.3" font-size="36.6" fill="#000">PG</text>
<rect x="1658.5" y="464.6" width="1.3" height="6" fill="#000"/>
<rect x="1758.5" y="365.1" width="6" height="1.3" fill="#000"/>
<text class="dj" x="1669.3" y="476.3" font-size="36.6" text-anchor="end" fill="#000" transform="rotate(-90 1669.3 476.3)">EG_1</text>
<text class="dj" x="1769.4" y="379.5" font-size="36.6" fill="#000">EG_1</text>
<rect x="1724.8" y="464.6" width="1.3" height="6" fill="#000"/>
<rect x="1758.5" y="431.3" width="6" height="1.3" fill="#000"/>
<text class="dj" x="1735.5" y="476.3" font-size="36.6" text-anchor="end" fill="#000" transform="rotate(-90 1735.5 476.3)">EG_2</text>
<text class="dj" x="1769.4" y="445.7" font-size="36.6" fill="#000">EG_2</text>
<text class="dj" x="1593" y="604.1" font-size="36.6" text-anchor="middle" fill="#000">Predicts  on</text>
<text class="dj" x="1897" y="299.8" font-size="36.6" text-anchor="middle" fill="#000" transform="rotate(-90 1897 299.8)">Trained on</text>
<defs><linearGradient id="g1" x1="0" y1="0" x2="0" y2="1"><stop offset="0" stop-color="#e8e8d2"/><stop offset="0.1" stop-color="#e0e3ba"/><stop offset="0.17" stop-color="#cbdab2"/><stop offset="0.25" stop-color="#b0ccb4"/><stop offset="0.32" stop-color="#7cb6b5"/><stop offset="0.38" stop-color="#50acc0"/><stop offset="0.44" stop-color="#14b0d0"/><stop offset="0.5" stop-color="#00b0d8"/><stop offset="0.58" stop-color="#00a8e0"/><stop offset="0.65" stop-color="#0890c8"/><stop offset="0.745" stop-color="#0870b4"/><stop offset="0.8" stop-color="#1062ad"/><stop offset="0.865" stop-color="#2059a8"/><stop offset="0.94" stop-color="#205192"/><stop offset="1" stop-color="#1f4e88"/></linearGradient></defs>
<rect x="1991" y="133.5" width="30" height="331.7" fill="url(#g1)"/>
<rect x="2021" y="133.20" width="7" height="1.3" fill="#000"/>
<text class="dj" x="2033.8" y="147.3" font-size="36.6" fill="#000">70</text>
<rect x="2021" y="215.90" width="7" height="1.3" fill="#000"/>
<text class="dj" x="2033.8" y="230.0" font-size="36.6" fill="#000">65</text>
<rect x="2021" y="298.70" width="7" height="1.3" fill="#000"/>
<text class="dj" x="2033.8" y="312.8" font-size="36.6" fill="#000">60</text>
<rect x="2021" y="381.40" width="7" height="1.3" fill="#000"/>
<text class="dj" x="2033.8" y="395.5" font-size="36.6" fill="#000">55</text>
<rect x="2021" y="464.10" width="7" height="1.3" fill="#000"/>
<text class="dj" x="2033.8" y="478.2" font-size="36.6" fill="#000">50</text>
<text class="dj" x="2113.9" y="299.5" font-size="36.6" text-anchor="middle" fill="#000" transform="rotate(-90 2113.9 299.5)">Accuracy</text>
<rect x="1439" y="781" width="377.4" height="377.4" fill="#232e61"/>
<rect x="1501.2" y="1158.4" width="1.3" height="6" fill="#000"/>
<rect x="1816.4" y="843.2" width="6" height="1.3" fill="#000"/>
<text class="dj" x="1512.0" y="1170.5" font-size="36.6" text-anchor="end" fill="#000" transform="rotate(-90 1512.0 1170.5)">ab</text>
<text class="dj" x="1828.6" y="857.7" font-size="36.6" fill="#000">ab</text>
<rect x="1627.0" y="1158.4" width="1.3" height="6" fill="#000"/>
<rect x="1816.4" y="969.1" width="6" height="1.3" fill="#000"/>
<text class="dj" x="1637.8" y="1170.5" font-size="36.6" text-anchor="end" fill="#000" transform="rotate(-90 1637.8 1170.5)">abp</text>
<text class="dj" x="1828.6" y="983.5" font-size="36.6" fill="#000">abp</text>
<rect x="1752.8" y="1158.4" width="1.3" height="6" fill="#000"/>
<rect x="1816.4" y="1094.8" width="6" height="1.3" fill="#000"/>
<text class="dj" x="1763.6" y="1170.5" font-size="36.6" text-anchor="end" fill="#000" transform="rotate(-90 1763.6 1170.5)">y</text>
<text class="dj" x="1828.6" y="1109.3" font-size="36.6" fill="#000">y</text>
<text class="dj" x="1627.8" y="1273.3" font-size="36.6" text-anchor="middle" fill="#000">Predicts  on</text>
<text class="dj" x="1931.5" y="970" font-size="36.6" text-anchor="middle" fill="#000" transform="rotate(-90 1931.5 970)">Trained on</text>
<defs><linearGradient id="g2" x1="0" y1="0" x2="0" y2="1"><stop offset="0" stop-color="#e8e8d2"/><stop offset="0.1" stop-color="#e0e3ba"/><stop offset="0.17" stop-color="#cbdab2"/><stop offset="0.25" stop-color="#b0ccb4"/><stop offset="0.32" stop-color="#7cb6b5"/><stop offset="0.38" stop-color="#50acc0"/><stop offset="0.44" stop-color="#14b0d0"/><stop offset="0.5" stop-color="#00b0d8"/><stop offset="0.58" stop-color="#00a8e0"/><stop offset="0.65" stop-color="#0890c8"/><stop offset="0.745" stop-color="#0870b4"/><stop offset="0.8" stop-color="#1062ad"/><stop offset="0.865" stop-color="#2059a8"/><stop offset="0.94" stop-color="#205192"/><stop offset="1" stop-color="#1f4e88"/></linearGradient></defs>
<rect x="1991" y="780.6" width="30" height="376.9999999999999" fill="url(#g2)"/>
<rect x="2021" y="834.20" width="7" height="1.3" fill="#000"/>
<text class="dj" x="2034.1" y="848.3" font-size="36.6" fill="#000">64</text>
<rect x="2021" y="942.10" width="7" height="1.3" fill="#000"/>
<text class="dj" x="2034.1" y="956.2" font-size="36.6" fill="#000">62</text>
<rect x="2021" y="1049.90" width="7" height="1.3" fill="#000"/>
<text class="dj" x="2034.1" y="1064.0" font-size="36.6" fill="#000">60</text>
<rect x="2021" y="1157.70" width="7" height="1.3" fill="#000"/>
<text class="dj" x="2034.1" y="1171.8" font-size="36.6" fill="#000">58</text>
<text class="dj" x="2114.6" y="970" font-size="36.6" text-anchor="middle" fill="#000" transform="rotate(-90 2114.6 970)">Accuracy</text>
</svg>
</body></html>
